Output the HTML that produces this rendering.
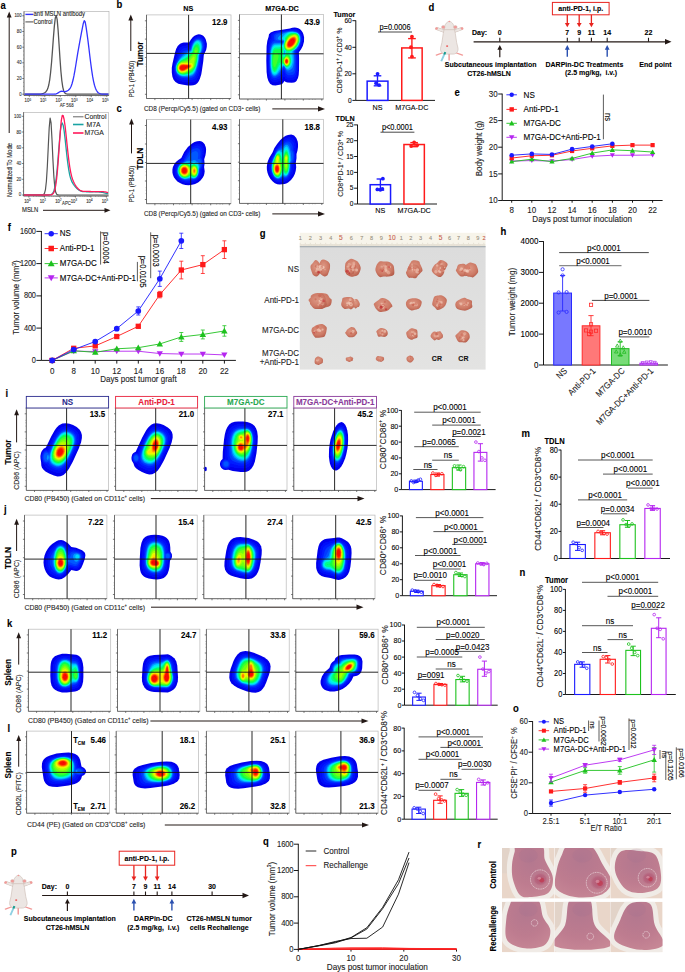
<!DOCTYPE html>
<html><head><meta charset="utf-8"><title>Figure</title>
<style>html,body{margin:0;padding:0;background:#fff;}svg{display:block;}</style></head>
<body><svg width="685" height="972" viewBox="0 0 685 972" font-family='"Liberation Sans", sans-serif'>
<defs><filter id="bl" x="-5%" y="-5%" width="110%" height="110%"><feGaussianBlur stdDeviation="0.3"/></filter>
<filter id="soft" x="-10%" y="-10%" width="120%" height="120%"><feGaussianBlur stdDeviation="0.55"/></filter>
<filter id="soft2" x="-20%" y="-20%" width="140%" height="140%"><feGaussianBlur stdDeviation="1.2"/></filter>
<radialGradient id="tum" cx="0.45" cy="0.4" r="0.65"><stop offset="0" stop-color="#dd9884"/><stop offset="0.65" stop-color="#cd7a66"/><stop offset="1" stop-color="#b45c4a"/></radialGradient>
<radialGradient id="tumr" cx="0.5" cy="0.45" r="0.6"><stop offset="0" stop-color="#e08a78"/><stop offset="0.5" stop-color="#d06a5a"/><stop offset="1" stop-color="#b84a40"/></radialGradient>
<linearGradient id="gbg" x1="0" y1="0" x2="0" y2="1"><stop offset="0" stop-color="#dcdcdc"/><stop offset="1" stop-color="#e3e3e2"/></linearGradient>
<radialGradient id="tb"><stop offset="0" stop-color="#b4506c" stop-opacity="0.9"/><stop offset="0.7" stop-color="#b25a76" stop-opacity="0.6"/><stop offset="1" stop-color="#b86a84" stop-opacity="0"/></radialGradient>
<radialGradient id="skin" cx="0.45" cy="0.3" r="0.8"><stop offset="0" stop-color="#b3788f"/><stop offset="0.55" stop-color="#bd7b8f"/><stop offset="1" stop-color="#c88896"/></radialGradient></defs>
<rect width="685" height="972" fill="#fff"/>
<text x="0.50" y="8.78" font-size="10.45" font-weight="bold" fill="#000" stroke="#000" stroke-width="0.1" transform="translate(0.04 0) scale(0.91 1)">a</text>
<path d="M9.2 133.0L9.2 16.5" stroke="#231815" stroke-width="1.0"/>
<path d="M9.20,11.50 L6.80,17.50 L11.60,17.50 Z" fill="#231815" stroke="none" stroke-width="1"/>
<rect x="24.00" y="11.40" width="85.00" height="84.10" fill="none" stroke="#aaa" stroke-width="0.6"/>
<text x="21.60" y="95.68" font-size="4.73" text-anchor="end" fill="#333" stroke="#333" stroke-width="0.1" transform="translate(1.94 0) scale(0.91 1)">0</text>
<text x="21.60" y="80.00" font-size="4.73" text-anchor="end" fill="#333" stroke="#333" stroke-width="0.1" transform="translate(1.94 0) scale(0.91 1)">20</text>
<text x="21.60" y="64.32" font-size="4.73" text-anchor="end" fill="#333" stroke="#333" stroke-width="0.1" transform="translate(1.94 0) scale(0.91 1)">40</text>
<text x="21.60" y="48.64" font-size="4.73" text-anchor="end" fill="#333" stroke="#333" stroke-width="0.1" transform="translate(1.94 0) scale(0.91 1)">60</text>
<text x="21.60" y="32.96" font-size="4.73" text-anchor="end" fill="#333" stroke="#333" stroke-width="0.1" transform="translate(1.94 0) scale(0.91 1)">80</text>
<text x="21.60" y="17.28" font-size="4.73" text-anchor="end" fill="#333" stroke="#333" stroke-width="0.1" transform="translate(1.94 0) scale(0.91 1)">100</text>
<text x="27.80" y="102.50" font-size="4.73" text-anchor="middle" fill="#333" stroke="#333" stroke-width="0.1" transform="translate(2.50 0) scale(0.91 1)">10<tspan font-size="3.08" dy="-1.76">0</tspan></text>
<text x="43.30" y="102.50" font-size="4.73" text-anchor="middle" fill="#333" stroke="#333" stroke-width="0.1" transform="translate(3.90 0) scale(0.91 1)">10<tspan font-size="3.08" dy="-1.76">1</tspan></text>
<text x="58.80" y="102.50" font-size="4.73" text-anchor="middle" fill="#333" stroke="#333" stroke-width="0.1" transform="translate(5.29 0) scale(0.91 1)">10<tspan font-size="3.08" dy="-1.76">2</tspan></text>
<text x="74.30" y="102.50" font-size="4.73" text-anchor="middle" fill="#333" stroke="#333" stroke-width="0.1" transform="translate(6.69 0) scale(0.91 1)">10<tspan font-size="3.08" dy="-1.76">3</tspan></text>
<text x="89.80" y="102.50" font-size="4.73" text-anchor="middle" fill="#333" stroke="#333" stroke-width="0.1" transform="translate(8.08 0) scale(0.91 1)">10<tspan font-size="3.08" dy="-1.76">4</tspan></text>
<text x="105.30" y="102.50" font-size="4.73" text-anchor="middle" fill="#333" stroke="#333" stroke-width="0.1" transform="translate(9.48 0) scale(0.91 1)">10<tspan font-size="3.08" dy="-1.76">5</tspan></text>
<path d="M24.0 11.4V95.5H109.0M22.2 94.2h1.8M22.2 78.5h1.8M22.2 62.8h1.8M22.2 47.2h1.8M22.2 31.5h1.8M22.2 15.8h1.8M29.3 95.5v1.6M44.8 95.5v1.6M60.3 95.5v1.6M75.8 95.5v1.6M91.3 95.5v1.6M106.8 95.5v1.6" fill="none" stroke="#333" stroke-width="0.6"/>
<path d="M23.0 90.3h1M23.0 86.4h1M23.0 82.4h1M23.0 74.6h1M23.0 70.7h1M23.0 66.8h1M23.0 58.9h1M23.0 55.0h1M23.0 51.1h1M23.0 43.2h1M23.0 39.3h1M23.0 35.4h1M23.0 27.6h1M23.0 23.6h1M23.0 19.7h1M34.0 95.5v0.9M36.7 95.5v0.9M38.6 95.5v0.9M40.1 95.5v0.9M41.4 95.5v0.9M42.5 95.5v0.9M43.2 95.5v0.9M44.0 95.5v0.9M49.4 95.5v0.9M52.2 95.5v0.9M54.1 95.5v0.9M55.6 95.5v0.9M56.9 95.5v0.9M58.0 95.5v0.9M58.7 95.5v0.9M59.5 95.5v0.9M64.9 95.5v0.9M67.7 95.5v0.9M69.6 95.5v0.9M71.1 95.5v0.9M72.4 95.5v0.9M73.5 95.5v0.9M74.2 95.5v0.9M75.0 95.5v0.9M80.4 95.5v0.9M83.2 95.5v0.9M85.1 95.5v0.9M86.6 95.5v0.9M87.9 95.5v0.9M89.0 95.5v0.9M89.8 95.5v0.9M90.5 95.5v0.9M95.9 95.5v0.9M98.7 95.5v0.9M100.6 95.5v0.9M102.1 95.5v0.9M103.4 95.5v0.9M104.5 95.5v0.9M105.2 95.5v0.9M106.0 95.5v0.9" fill="none" stroke="#555" stroke-width="0.4"/>
<text x="66.60" y="107.48" font-size="4.73" text-anchor="middle" fill="#333" stroke="#333" stroke-width="0.1" transform="translate(5.99 0) scale(0.91 1)">AF 568</text>
<path d="M24.50,94.20 L25.43,94.20 L26.37,94.20 L27.30,94.20 L28.23,94.20 L29.17,94.20 L30.10,94.20 L31.03,94.20 L31.97,94.20 L32.90,94.20 L33.83,94.20 L34.77,94.20 L35.70,94.19 L36.63,94.19 L37.57,94.17 L38.50,94.15 L39.43,94.10 L40.37,94.03 L41.30,93.90 L42.23,93.71 L43.17,93.44 L44.10,93.05 L45.03,92.49 L45.97,91.67 L46.90,90.40 L47.83,88.34 L48.77,85.01 L49.70,79.80 L50.63,72.24 L51.57,62.21 L52.50,50.17 L53.43,37.40 L54.37,25.92 L55.30,18.00 L56.23,15.44 L57.17,19.59 L58.10,29.97 L59.03,43.98 L59.97,58.54 L60.90,71.22 L61.83,80.75 L62.77,87.06 L63.70,90.76 L64.63,92.69 L65.57,93.60 L66.50,93.98 L67.43,94.13 L68.37,94.18 L69.30,94.19 L70.23,94.20 L71.17,94.20 L72.10,94.20 L73.03,94.20 L73.97,94.20 L74.90,94.20 L75.83,94.20 L76.77,94.20 L77.70,94.20 L78.63,94.20 L79.57,94.20 L80.50,94.20 L81.43,94.20 L82.37,94.20 L83.30,94.20 L84.23,94.20 L85.17,94.20 L86.10,94.20 L87.03,94.20 L87.97,94.20 L88.90,94.20 L89.83,94.20 L90.77,94.20 L91.70,94.20 L92.63,94.20 L93.57,94.20 L94.50,94.20 L95.43,94.20 L96.37,94.20 L97.30,94.20 L98.23,94.20 L99.17,94.20 L100.10,94.20 L101.03,94.20 L101.97,94.20 L102.90,94.20 L103.83,94.20 L104.77,94.20 L105.70,94.20 L106.63,94.20 L107.57,94.20 L108.50,94.20" fill="none" stroke="#555" stroke-width="1.3" stroke-linejoin="round"/>
<path d="M24.50,94.20 L25.43,94.20 L26.37,94.20 L27.30,94.20 L28.23,94.20 L29.17,94.20 L30.10,94.20 L31.03,94.20 L31.97,94.20 L32.90,94.20 L33.83,94.20 L34.77,94.20 L35.70,94.20 L36.63,94.20 L37.57,94.20 L38.50,94.20 L39.43,94.20 L40.37,94.20 L41.30,94.20 L42.23,94.20 L43.17,94.20 L44.10,94.20 L45.03,94.20 L45.97,94.20 L46.90,94.20 L47.83,94.20 L48.77,94.20 L49.70,94.20 L50.63,94.20 L51.57,94.20 L52.50,94.19 L53.43,94.17 L54.37,94.12 L55.30,94.01 L56.23,93.79 L57.17,93.41 L58.10,92.89 L59.03,92.28 L59.97,91.72 L60.90,91.35 L61.83,91.24 L62.77,91.33 L63.70,91.48 L64.63,91.57 L65.57,91.50 L66.50,91.25 L67.43,90.81 L68.37,90.16 L69.30,89.28 L70.23,88.02 L71.17,86.17 L72.10,83.53 L73.03,80.03 L73.97,75.68 L74.90,70.61 L75.83,65.01 L76.77,59.12 L77.70,53.47 L78.63,48.15 L79.57,42.97 L80.50,37.87 L81.43,32.94 L82.37,28.14 L83.30,23.48 L84.23,20.58 L85.17,21.96 L86.10,27.14 L87.03,33.63 L87.97,40.63 L88.90,48.18 L89.83,55.97 L90.77,63.53 L91.70,70.44 L92.63,76.42 L93.57,81.35 L94.50,85.23 L95.43,88.15 L96.37,90.26 L97.30,91.73 L98.23,92.70 L99.17,93.32 L100.10,93.70 L101.03,93.93 L101.97,94.06 L102.90,94.13 L103.83,94.16 L104.77,94.18 L105.70,94.19 L106.63,94.20 L107.57,94.20 L108.50,94.20" fill="none" stroke="#3333ff" stroke-width="1.3" stroke-linejoin="round"/>
<path d="M25.4 14.4L33.3 14.4" stroke="#3333ff" stroke-width="1.4"/>
<text x="33.60" y="16.44" font-size="6.49" fill="#222" stroke="#222" stroke-width="0.1" transform="translate(3.02 0) scale(0.91 1)">anti MSLN antibody</text>
<path d="M25.4 21.9L33.3 21.9" stroke="#666" stroke-width="1.2"/>
<text x="33.60" y="23.94" font-size="6.49" fill="#222" stroke="#222" stroke-width="0.1" transform="translate(3.02 0) scale(0.91 1)">Control</text>
<rect x="23.60" y="112.30" width="85.00" height="83.70" fill="none" stroke="#aaa" stroke-width="0.6"/>
<text x="21.20" y="196.48" font-size="4.73" text-anchor="end" fill="#333" stroke="#333" stroke-width="0.1" transform="translate(1.91 0) scale(0.91 1)">0</text>
<text x="21.20" y="180.74" font-size="4.73" text-anchor="end" fill="#333" stroke="#333" stroke-width="0.1" transform="translate(1.91 0) scale(0.91 1)">20</text>
<text x="21.20" y="165.00" font-size="4.73" text-anchor="end" fill="#333" stroke="#333" stroke-width="0.1" transform="translate(1.91 0) scale(0.91 1)">40</text>
<text x="21.20" y="149.26" font-size="4.73" text-anchor="end" fill="#333" stroke="#333" stroke-width="0.1" transform="translate(1.91 0) scale(0.91 1)">60</text>
<text x="21.20" y="133.52" font-size="4.73" text-anchor="end" fill="#333" stroke="#333" stroke-width="0.1" transform="translate(1.91 0) scale(0.91 1)">80</text>
<text x="21.20" y="117.78" font-size="4.73" text-anchor="end" fill="#333" stroke="#333" stroke-width="0.1" transform="translate(1.91 0) scale(0.91 1)">100</text>
<text x="27.40" y="203.00" font-size="4.73" text-anchor="middle" fill="#333" stroke="#333" stroke-width="0.1" transform="translate(2.47 0) scale(0.91 1)">10<tspan font-size="3.08" dy="-1.76">0</tspan></text>
<text x="42.90" y="203.00" font-size="4.73" text-anchor="middle" fill="#333" stroke="#333" stroke-width="0.1" transform="translate(3.86 0) scale(0.91 1)">10<tspan font-size="3.08" dy="-1.76">1</tspan></text>
<text x="58.40" y="203.00" font-size="4.73" text-anchor="middle" fill="#333" stroke="#333" stroke-width="0.1" transform="translate(5.26 0) scale(0.91 1)">10<tspan font-size="3.08" dy="-1.76">2</tspan></text>
<text x="73.90" y="203.00" font-size="4.73" text-anchor="middle" fill="#333" stroke="#333" stroke-width="0.1" transform="translate(6.65 0) scale(0.91 1)">10<tspan font-size="3.08" dy="-1.76">3</tspan></text>
<text x="89.40" y="203.00" font-size="4.73" text-anchor="middle" fill="#333" stroke="#333" stroke-width="0.1" transform="translate(8.05 0) scale(0.91 1)">10<tspan font-size="3.08" dy="-1.76">4</tspan></text>
<text x="104.90" y="203.00" font-size="4.73" text-anchor="middle" fill="#333" stroke="#333" stroke-width="0.1" transform="translate(9.44 0) scale(0.91 1)">10<tspan font-size="3.08" dy="-1.76">5</tspan></text>
<path d="M23.6 112.3V196.0H108.6M21.8 195.0h1.8M21.8 179.3h1.8M21.8 163.5h1.8M21.8 147.8h1.8M21.8 132.0h1.8M21.8 116.3h1.8M28.9 196.0v1.6M44.4 196.0v1.6M59.9 196.0v1.6M75.4 196.0v1.6M90.9 196.0v1.6M106.4 196.0v1.6" fill="none" stroke="#333" stroke-width="0.6"/>
<path d="M22.6 191.1h1M22.6 187.1h1M22.6 183.2h1M22.6 175.3h1M22.6 171.4h1M22.6 167.5h1M22.6 159.6h1M22.6 155.7h1M22.6 151.7h1M22.6 143.8h1M22.6 139.9h1M22.6 136.0h1M22.6 128.1h1M22.6 124.2h1M22.6 120.2h1M33.6 196.0v0.9M36.3 196.0v0.9M38.2 196.0v0.9M39.8 196.0v0.9M41.0 196.0v0.9M42.1 196.0v0.9M42.9 196.0v0.9M43.6 196.0v0.9M49.1 196.0v0.9M51.8 196.0v0.9M53.7 196.0v0.9M55.3 196.0v0.9M56.5 196.0v0.9M57.6 196.0v0.9M58.4 196.0v0.9M59.1 196.0v0.9M64.6 196.0v0.9M67.3 196.0v0.9M69.2 196.0v0.9M70.8 196.0v0.9M72.0 196.0v0.9M73.1 196.0v0.9M73.9 196.0v0.9M74.6 196.0v0.9M80.1 196.0v0.9M82.8 196.0v0.9M84.7 196.0v0.9M86.2 196.0v0.9M87.5 196.0v0.9M88.6 196.0v0.9M89.4 196.0v0.9M90.1 196.0v0.9M95.6 196.0v0.9M98.3 196.0v0.9M100.2 196.0v0.9M101.8 196.0v0.9M103.0 196.0v0.9M104.1 196.0v0.9M104.9 196.0v0.9M105.6 196.0v0.9" fill="none" stroke="#555" stroke-width="0.4"/>
<text x="66.50" y="205.48" font-size="4.73" text-anchor="middle" fill="#333" stroke="#333" stroke-width="0.1" transform="translate(5.98 0) scale(0.91 1)">APC</text>
<path d="M24.00,195.00 L24.93,195.00 L25.87,195.00 L26.80,195.00 L27.73,195.00 L28.67,195.00 L29.60,195.00 L30.53,195.00 L31.47,195.00 L32.40,195.00 L33.33,195.00 L34.27,195.00 L35.20,195.00 L36.13,195.00 L37.07,195.00 L38.00,195.00 L38.93,195.00 L39.87,195.00 L40.80,195.00 L41.73,194.98 L42.67,194.90 L43.60,194.52 L44.53,193.22 L45.47,189.54 L46.40,181.25 L47.33,166.57 L48.27,146.74 L49.20,127.76 L50.13,118.12 L51.07,122.85 L52.00,139.42 L52.93,159.86 L53.87,176.77 L54.80,187.24 L55.73,192.29 L56.67,194.22 L57.60,194.82 L58.53,194.96 L59.47,194.99 L60.40,195.00 L61.33,195.00 L62.27,195.00 L63.20,195.00 L64.13,195.00 L65.07,195.00 L66.00,195.00 L66.93,195.00 L67.87,195.00 L68.80,195.00 L69.73,195.00 L70.67,195.00 L71.60,195.00 L72.53,195.00 L73.47,195.00 L74.40,195.00 L75.33,195.00 L76.27,195.00 L77.20,195.00 L78.13,195.00 L79.07,195.00 L80.00,195.00 L80.93,195.00 L81.87,195.00 L82.80,195.00 L83.73,195.00 L84.67,195.00 L85.60,195.00 L86.53,195.00 L87.47,195.00 L88.40,195.00 L89.33,195.00 L90.27,195.00 L91.20,195.00 L92.13,195.00 L93.07,195.00 L94.00,195.00 L94.93,195.00 L95.87,195.00 L96.80,195.00 L97.73,195.00 L98.67,195.00 L99.60,195.00 L100.53,195.00 L101.47,195.00 L102.40,195.00 L103.33,195.00 L104.27,195.00 L105.20,195.00 L106.13,195.00 L107.07,195.00 L108.00,195.00" fill="none" stroke="#555" stroke-width="1.2" stroke-linejoin="round"/>
<path d="M24.00,195.00 L24.93,195.00 L25.87,195.00 L26.80,195.00 L27.73,195.00 L28.67,195.00 L29.60,195.00 L30.53,195.00 L31.47,195.00 L32.40,195.00 L33.33,195.00 L34.27,195.00 L35.20,195.00 L36.13,195.00 L37.07,195.00 L38.00,195.00 L38.93,195.00 L39.87,195.00 L40.80,195.00 L41.73,195.00 L42.67,195.00 L43.60,195.00 L44.53,195.00 L45.47,195.00 L46.40,195.00 L47.33,194.99 L48.27,194.98 L49.20,194.94 L50.13,194.83 L51.07,194.59 L52.00,194.05 L52.93,192.96 L53.87,190.92 L54.80,187.43 L55.73,181.98 L56.67,174.21 L57.60,164.19 L58.53,152.65 L59.47,140.98 L60.40,131.03 L61.33,124.65 L62.27,123.03 L63.20,125.41 L64.13,130.94 L65.07,138.66 L66.00,147.42 L66.93,156.11 L67.87,163.86 L68.80,170.22 L69.73,175.07 L70.67,178.59 L71.60,181.09 L72.53,182.91 L73.47,184.35 L74.40,185.59 L75.33,186.73 L76.27,187.79 L77.20,188.74 L78.13,189.57 L79.07,190.24 L80.00,190.76 L80.93,191.13 L81.87,191.38 L82.80,191.54 L83.73,191.63 L84.67,191.69 L85.60,191.72 L86.53,191.74 L87.47,191.75 L88.40,191.75 L89.33,191.75 L90.27,191.75 L91.20,191.74 L92.13,191.74 L93.07,191.73 L94.00,191.72 L94.93,191.73 L95.87,191.74 L96.80,191.77 L97.73,191.82 L98.67,191.89 L99.60,191.99 L100.53,192.12 L101.47,192.28 L102.40,192.46 L103.33,192.65 L104.27,192.86 L105.20,193.08 L106.13,193.29 L107.07,193.50 L108.00,193.70" fill="none" stroke="#1aa3a3" stroke-width="1.3" stroke-linejoin="round"/>
<path d="M24.00,195.00 L24.93,195.00 L25.87,195.00 L26.80,195.00 L27.73,195.00 L28.67,195.00 L29.60,195.00 L30.53,195.00 L31.47,195.00 L32.40,195.00 L33.33,195.00 L34.27,195.00 L35.20,195.00 L36.13,195.00 L37.07,195.00 L38.00,195.00 L38.93,195.00 L39.87,195.00 L40.80,195.00 L41.73,195.00 L42.67,195.00 L43.60,195.00 L44.53,195.00 L45.47,195.00 L46.40,195.00 L47.33,195.00 L48.27,194.99 L49.20,194.97 L50.13,194.93 L51.07,194.80 L52.00,194.49 L52.93,193.81 L53.87,192.41 L54.80,189.80 L55.73,185.34 L56.67,178.44 L57.60,168.76 L58.53,156.62 L59.47,143.14 L60.40,130.28 L61.33,120.37 L62.27,115.42 L63.20,115.73 L64.13,119.47 L65.07,125.94 L66.00,134.22 L66.93,143.26 L67.87,152.12 L68.80,160.08 L69.73,166.76 L70.67,172.07 L71.60,176.13 L72.53,179.21 L73.47,181.58 L74.40,183.50 L75.33,185.11 L76.27,186.52 L77.20,187.74 L78.13,188.77 L79.07,189.62 L80.00,190.26 L80.93,190.73 L81.87,191.04 L82.80,191.23 L83.73,191.33 L84.67,191.37 L85.60,191.39 L86.53,191.41 L87.47,191.43 L88.40,191.45 L89.33,191.48 L90.27,191.51 L91.20,191.55 L92.13,191.59 L93.07,191.63 L94.00,191.66 L94.93,191.68 L95.87,191.68 L96.80,191.67 L97.73,191.64 L98.67,191.61 L99.60,191.57 L100.53,191.54 L101.47,191.54 L102.40,191.57 L103.33,191.65 L104.27,191.77 L105.20,191.95 L106.13,192.17 L107.07,192.43 L108.00,192.71" fill="none" stroke="#ff1a5a" stroke-width="1.3" stroke-linejoin="round"/>
<path d="M73.0 116.8L83.5 116.8" stroke="#666" stroke-width="1.0"/>
<text x="84.50" y="119.15" font-size="7.48" fill="#222" stroke="#222" stroke-width="0.1" transform="translate(7.60 0) scale(0.91 1)">Control</text>
<path d="M73.0 124.5L83.5 124.5" stroke="#1aa3a3" stroke-width="1.6"/>
<text x="86.50" y="126.85" font-size="7.48" fill="#222" stroke="#222" stroke-width="0.1" transform="translate(7.78 0) scale(0.91 1)">M7A</text>
<path d="M73.0 133.0L83.5 133.0" stroke="#ff1a5a" stroke-width="1.6"/>
<text x="84.50" y="135.35" font-size="7.48" fill="#222" stroke="#222" stroke-width="0.1" transform="translate(7.60 0) scale(0.91 1)">M7GA</text>
<text x="9.60" y="172.04" font-size="6.49" text-anchor="middle" fill="#222" transform="rotate(-90 9.60 170.00) translate(9.60 0) scale(0.91 1) translate(-9.60 0)" stroke="#222" stroke-width="0.1">Normalized To Mode</text>
<text x="22.00" y="212.34" font-size="6.49" fill="#222" stroke="#222" stroke-width="0.1" transform="translate(1.98 0) scale(0.91 1)">MSLN</text>
<path d="M43.0 210.3L105.5 210.3" stroke="#231815" stroke-width="1.0"/>
<path d="M110.50,210.30 L104.50,207.90 L104.50,212.70 Z" fill="#231815" stroke="none" stroke-width="1"/>
<text x="116.50" y="8.28" font-size="10.45" font-weight="bold" fill="#000" stroke="#000" stroke-width="0.1" transform="translate(10.48 0) scale(0.91 1)">b</text>
<text x="116.50" y="111.78" font-size="10.45" font-weight="bold" fill="#000" stroke="#000" stroke-width="0.1" transform="translate(10.48 0) scale(0.91 1)">c</text>
<text x="188.30" y="11.28" font-size="7.92" text-anchor="middle" font-weight="bold" fill="#000" stroke="#000" stroke-width="0.1" transform="translate(16.95 0) scale(0.91 1)">NS</text>
<text x="282.00" y="11.28" font-size="7.92" text-anchor="middle" font-weight="bold" fill="#000" stroke="#000" stroke-width="0.1" transform="translate(25.38 0) scale(0.91 1)">M7GA-DC</text>
<rect x="146.50" y="14.90" width="84.50" height="83.60" fill="#fff" stroke="none" stroke-width="1"/>
<g filter="url(#bl)"><path d="M196.8 34.7l1.9 -0.4 1.8 0.2 1.8 0.7 1.2 0.9 1.4 1.6 0.9 1.8 1.1 4.2 -0.1 3.0 -0.6 3.0 -2.4 5.4 -0.5 6.0 -1.3 9.0 -0.7 4.2 -1.3 4.2 -1.1 2.4 -1.4 2.0 -1.8 1.5 -2.4 0.9 -2.4 0.3 -3 -0.2 -6 -0.8 -3.6 -0.9 -2.8 -1.6 -1.9 -2.4 -1.2 -3.0 -0.6 -4.2 0 -4.8 0.7 -4.2 2.5 -10.8 1.1 -3.6 1.6 -3.0 2.4 -2.3 1.8 -0.9 1.8 -0.4 5.4 0.1 1.8 -3.1 1.8 -2.2 1.8 -1.5z" fill="#0000eb" fill-rule="evenodd"/><path d="M196.2 36.5l1.3 -0.4 1.8 -0.1 1.8 0.5 1.2 0.7 1.2 1.2 1 1.7 0.7 1.8 0.4 2.4 -0.1 2.4 -0.6 3.0 -0.9 2.4 -2 3.6 -0.4 4.8 -1.3 8.4 -1.7 7.2 -1.1 2.4 -1.2 1.7 -1.8 1.5 -1.8 0.7 -1.8 0.2 -3 -0.1 -5.4 -0.7 -3 -0.7 -2.4 -1.3 -1.8 -2.1 -1.4 -3.4 -0.5 -3.6 0 -3.0 0.4 -3.0 3.6 -12.6 1.8 -3.6 2.1 -2.0 3 -1.0 5.4 -0.4 1 -2.6 1.8 -3.0 2 -2.0z" fill="#000bf9" fill-rule="evenodd"/><path d="M196.4 37.7l1.7 -0.4 1.2 0.0 2.4 1.1 1.2 1.3 0.9 1.6 0.7 3.6 -0.2 3.0 -0.6 2.4 -1.1 2.4 -1.8 3.0 -1.4 10.2 -0.9 4.8 -1.1 3.6 -1.1 2.4 -1.2 1.5 -1.2 1.0 -1.8 0.8 -1.8 0.3 -3 -0.1 -4.8 -0.5 -2.4 -0.7 -2 -1.1 -1.7 -1.8 -1.4 -3.0 -0.6 -3.0 0 -2.4 0.5 -3.0 3.4 -9.7 1.8 -3.8 2 -2.1 2.2 -1.0 5.6 -0.8 1.5 -4.2 1.3 -2.2 1.8 -2.0z" fill="#001cff" fill-rule="evenodd"/><path d="M196.2 38.9l2.5 -0.5 1.2 0.3 1.3 0.8 1.7 2.5 0.7 3.5 -0.2 2.4 -0.6 2.4 -1.1 2.4 -1.8 3.0 -0.4 4.2 -1.1 6.0 -2 7.2 -1.9 3.1 -1.2 1.1 -1.8 0.8 -2.4 0.3 -4.2 -0.1 -2.4 -0.3 -2.4 -0.7 -1.8 -1.1 -1.2 -1.2 -1.1 -1.9 -0.6 -1.8 -0.3 -1.8 0 -2.4 0.5 -2.4 0.9 -2.4 3 -6.2 2.1 -3.4 1.3 -1.2 1.4 -0.8 6 -1.8 1.3 -4.0 1.1 -2.5 1.8 -2.3z" fill="#003aff" fill-rule="evenodd"/><path d="M196.7 39.5l1.4 -0.3 1.2 0.2 1.8 1.2 1.3 2.5 0.4 3.6 -0.4 2.4 -0.7 2.4 -2.2 3.6 -0.6 4.8 -1.1 6.0 -1 3.6 -1.1 3.0 -1.1 1.8 -1.1 1.2 -2.6 1.4 -2.4 0.3 -4.2 0.0 -2.4 -0.3 -1.8 -0.6 -1.2 -0.7 -1.4 -1.3 -1.1 -1.8 -0.7 -1.8 -0.2 -3.6 1.3 -4.2 3.3 -5.7 2.6 -3.3 2.2 -1.6 6 -2.6 1 -4.2 1.1 -2.4 1.5 -2.0z" fill="#0058ff" fill-rule="evenodd"/><path d="M196.9 40.1l1.2 -0.2 1 0.2 1.6 1.2 1.1 2.4 0.4 3.0 -0.3 2.4 -0.7 2.4 -2.2 3.6 -0.4 4.2 -1 5.4 -2.1 6.6 -1 1.8 -1.2 1.4 -1.2 0.9 -1.8 0.7 -2.4 0.3 -3.6 0.1 -2.4 -0.2 -1.8 -0.6 -2.4 -1.8 -0.9 -1.4 -0.7 -1.8 -0.3 -3.6 1.1 -3.6 2.6 -4.3 3 -3.4 3 -2.3 5.7 -3.2 0.9 -3.9 1.2 -2.8 1.8 -2.4z" fill="#009bff" fill-rule="evenodd"/><path d="M196.1 41.3l2 -0.5 1.8 0.9 1.2 2.4 0.3 3.2 -0.7 4.2 -0.9 1.8 -1.3 1.8 -0.3 4.2 -1.1 5.4 -2 6.0 -1.8 2.7 -1.2 0.9 -1.8 0.8 -2.4 0.5 -3.6 0.3 -2.4 -0.2 -1.8 -0.6 -2.4 -1.9 -0.8 -1.3 -0.7 -1.8 -0.1 -3.0 1 -3.3 1.8 -2.9 2.4 -2.6 3.6 -2.9 6.6 -4.5 0.8 -3.6 1 -2.6 1.2 -1.9z" fill="#00d9ff" fill-rule="evenodd"/><path d="M197.1 41.9l1.6 0.2 1.2 1.5 0.7 2.5 0 3.0 -0.7 3.0 -1.8 3.0 -0.2 3.6 -1.2 6.0 -0.7 2.4 -1.3 3.0 -2 2.7 -1.2 0.9 -1.8 0.7 -5.4 0.9 -2.4 -0.2 -1.8 -0.6 -1.2 -0.7 -1.2 -1.2 -1.2 -2.5 -0.2 -3.0 1 -3.0 1.6 -2.5 1.8 -1.8 5.4 -3.8 5.7 -4.5 0.4 -0.6 0.5 -3.2 1.2 -2.9 1.8 -2.2z" fill="#00f9d9" fill-rule="evenodd"/><path d="M195.9 43.7l1.6 -0.5 1.2 0.7 1 2.2 0.3 3.0 -0.6 3.0 -1.7 3.0 -0.2 3.0 -0.6 3.5 -1 4.3 -1.2 3.0 -2.2 3.0 -1.6 1.1 -1.5 0.7 -5.1 1.0 -2.4 -0.1 -1.8 -0.5 -2 -1.6 -1.3 -2.4 -0.2 -3.0 1 -3.0 1.3 -1.9 1.2 -1.2 6.5 -4.1 5.5 -4.8 0.4 -0.6 0.3 -2.4 0.9 -2.4 0.8 -1.5z" fill="#00fc8c" fill-rule="evenodd"/><path d="M196.3 44.9l1.2 0.0 1 1.2 0.6 1.8 0.1 2.4 -0.6 2.4 -1.4 2.4 0 2.4 -0.5 3.0 -1.2 5.4 -1 2.2 -2.4 3.1 -1.8 1.3 -1.8 0.7 -3 0.9 -2.4 0.2 -1.8 -0.2 -1.8 -0.8 -1.8 -1.8 -0.8 -2.0 0 -3.0 1 -2.4 1 -1.4 1.8 -1.6 4.8 -2.3 1.8 -1.2 5.4 -5.2 1.2 -4.7 1.2 -1.9z" fill="#0dff46" fill-rule="evenodd"/><path d="M195.8 47.3l1.1 -0.1 0.6 0.5 0.6 1.4 0.1 1.8 -0.7 2.3 -1.1 1.3 0.2 2.4 -0.3 2.4 -1.4 6.6 -1 2.0 -1.2 1.5 -1.8 1.5 -4.4 2.2 -2.2 0.5 -1.8 0.1 -1.8 -0.3 -1.2 -0.6 -1.5 -1.5 -0.9 -2.4 0.1 -2.4 1.1 -2.4 1.2 -1.4 1.2 -0.9 5.4 -1.9 2.4 -1.7 5.2 -5.5 0.4 -3.0 1 -1.8z" fill="#40ff2a" fill-rule="evenodd"/><path d="M195.3 50.3l0.4 -0.4 0.6 -0.1 0.6 1.1 -0.1 1.2 -0.5 0.8 -0.6 0.3 -0.6 -0.3 -0.3 -0.8zM193.5 54.5l1 -0.3 0.6 0.3 0.6 1.2 0.1 1.2 -1.4 8.4 -1.1 2.4 -3 2.6 -4.8 2.5 -3 0.4 -1.8 -0.3 -1.2 -0.6 -1.4 -1.6 -0.7 -2.4 0.3 -2.4 1.2 -2.0 2.4 -1.8 4.8 -1.1 1.8 -0.7 1.3 -1.0 2.9 -3.5z" fill="#73ff0e" fill-rule="evenodd"/><path d="M193.1 56.9l0.8 -0.3 0.4 0.3 0.3 1.8 -0.7 3.6 -0.1 3.0 -0.4 1.2 -0.8 1.2 -1.7 1.4 -3.6 2.2 -3 1.3 -3 0.1 -1.2 -0.5 -1.2 -0.9 -1 -1.8 -0.2 -1.8 0.6 -2.3 1.2 -1.6 2.4 -1.4 5.4 -0.5 1.8 -0.7 1.2 -0.9z" fill="#a9ff00" fill-rule="evenodd"/><path d="M182.6 62.9l8.9 0.0 1.2 1.1 0.2 1.9 -0.6 1.2 -0.8 0.8 -6 3.7 -2.4 0.7 -1.8 -0.1 -1.7 -0.9 -1 -1.2 -0.5 -1.2 0 -1.8 0.4 -1.2 1 -1.5 1.2 -0.9z" fill="#e2ff00" fill-rule="evenodd"/><path d="M182.2 63.5l8.1 0.3 1.6 0.9 0.3 1.2 -0.6 1.2 -0.7 0.6 -5.4 3.2 -2.4 0.9 -1.8 -0.1 -1.2 -0.5 -1.1 -1.1 -0.5 -1.2 -0.1 -1.2 0.2 -1.2 0.9 -1.5 1.2 -1.0z" fill="#ffe200" fill-rule="evenodd"/><path d="M181.7 64.1l2 -0.2 6 0.5 1.2 0.4 0.6 1.1 -0.7 1.2 -1.1 0.9 -5.4 3.0 -2.4 0.4 -1.2 -0.4 -1.2 -0.9 -0.6 -1.2 -0.2 -1.2 0.8 -2.1 1.2 -1.1z" fill="#ffa900" fill-rule="evenodd"/><path d="M181.3 64.7l1.8 -0.3 5.4 0.3 1.8 0.6 0.4 0.6 -0.6 1.2 -1 0.7 -4.8 2.7 -2.4 0.4 -1.9 -0.8 -0.9 -1.8 0.4 -2.0 0.6 -0.8z" fill="#ff7000" fill-rule="evenodd"/><path d="M181.0 65.3l2.1 -0.5 5.4 0.4 1.2 0.6 0.1 0.7 -1.3 1.2 -4.2 2.3 -1.2 0.4 -1.2 0.1 -1.2 -0.4 -0.6 -0.5 -0.6 -1.3 0.3 -1.8z" fill="#ff3600" fill-rule="evenodd"/><path d="M182.4 65.3l5.5 0.3 0.8 0.3 0.2 0.6 -0.4 0.6 -4.2 2.4 -1.2 0.5 -1.2 0.0 -1.2 -0.5 -0.6 -0.8 -0.2 -1.0 0.8 -1.6z" fill="#fc1400" fill-rule="evenodd"/><path d="M182.2 65.9l2.8 0.0 2.4 0.6 -0.3 0.6 -2.8 1.8 -1.2 0.5 -1.2 0.0 -1 -0.5 -0.4 -1.2 0.6 -1.2z" fill="#f60700" fill-rule="evenodd"/></g>
<rect x="146.50" y="14.90" width="84.50" height="83.60" fill="none" stroke="#b8b8b8" stroke-width="0.7"/>
<path d="M146.5 14.9V98.5H231.0M144.9 94.3h1.6M144.9 75.9h1.6M144.9 57.5h1.6M144.9 39.1h1.6M144.9 20.8h1.6M154.9 98.5v1.6M173.5 98.5v1.6M192.1 98.5v1.6M210.7 98.5v1.6M229.3 98.5v1.6" fill="none" stroke="#444" stroke-width="0.7"/>
<path d="M145.6 88.5h0.9M145.6 85.1h0.9M145.6 82.6h0.9M145.6 70.1h0.9M145.6 66.7h0.9M145.6 64.2h0.9M145.6 51.7h0.9M145.6 48.3h0.9M145.6 45.8h0.9M145.6 33.3h0.9M145.6 29.9h0.9M145.6 27.4h0.9M160.9 98.5v0.9M164.2 98.5v0.9M166.8 98.5v0.9M179.5 98.5v0.9M182.8 98.5v0.9M185.4 98.5v0.9M198.0 98.5v0.9M201.4 98.5v0.9M204.0 98.5v0.9M216.6 98.5v0.9M220.0 98.5v0.9M222.6 98.5v0.9" fill="none" stroke="#666" stroke-width="0.5"/>
<path d="M188.6 14.9L188.6 98.5" stroke="#111" stroke-width="0.9"/>
<path d="M146.5 53.4L231.0 53.4" stroke="#111" stroke-width="0.9"/>
<text x="227.50" y="24.73" font-size="8.69" text-anchor="end" font-weight="bold" fill="#000" stroke="#000" stroke-width="0.1" transform="translate(20.47 0) scale(0.91 1)">12.9</text>
<rect x="239.50" y="14.50" width="84.00" height="84.50" fill="#fff" stroke="none" stroke-width="1"/>
<g filter="url(#bl)"><path d="M292.3 27.7l2.4 -0.2 1.8 0.2 1.8 0.6 1.8 1.0 1.4 1.4 1.2 1.8 0.7 1.8 0.7 3.0 -0.1 4.2 -1.1 4.2 -1.8 3.6 -2.2 3.0 0.2 6.0 -0.1 12.0 -0.3 4.8 -0.7 3.0 -1.5 2.9 -1.2 1.0 -1.2 0.4 -2.4 0.3 -4.2 -0.1 -1.8 -0.6 -1.2 -1.0 -1.8 2.4 -1.8 1.1 -5.4 1.1 -3 -0.3 -2.4 -1.5 -1.7 -2.7 -1.1 -3.6 -0.7 -5.4 -0.3 -11.4 0.3 -14.4 0.7 -5.4 1.3 -4.2 0.4 -2.4 1.7 -1.8 3.6 -1.6 15.6 -2.5z" fill="#0000eb" fill-rule="evenodd"/><path d="M288.4 29.5l6.3 -0.4 1.8 0.2 1.8 0.7 1.2 0.9 1.5 1.6 0.9 1.8 0.7 2.4 0.1 4.2 -1 4.2 -1.8 3.6 -2.4 3.0 0.4 6.0 0 10.2 -0.3 4.8 -0.5 3.0 -1.2 2.6 -1.2 1.1 -1.2 0.4 -4.2 0.2 -2.4 -0.3 -1.5 -1.0 -1.5 -2.2 -1.4 2.8 -2.2 1.8 -4.2 1.3 -1.8 0.1 -1.2 -0.2 -1.8 -1.0 -1.5 -2.0 -1.1 -3.0 -0.7 -4.2 -0.4 -7.2 0.1 -12.6 0.3 -6.0 0.9 -4.7 0.7 -1.9 1.1 -1.8 0.2 -3.0 0.7 -1.2 0.9 -0.8 1.8 -0.8 2.4 -0.7z" fill="#000bf9" fill-rule="evenodd"/><path d="M289.3 30.1l4.2 -0.1 2.4 0.3 1.8 0.7 1.8 1.3 1 1.4 1.2 3.6 0 3.6 -0.8 3.6 -1.5 3.0 -1.2 1.8 -1.8 1.8 -0.1 0.6 0.5 5.4 0 9.0 -0.2 5.4 -0.6 3.0 -1 1.8 -1.5 1.1 -3 0.3 -3 -0.3 -1.2 -0.7 -0.8 -1.0 -1.6 -4.6 -1.3 4.0 -1.7 2.4 -1.7 1.2 -1.9 0.9 -1.8 0.5 -1.8 0.0 -1.8 -1.0 -1.5 -2.2 -1 -3.0 -0.5 -3.6 -0.3 -6.6 0.1 -10.8 0.4 -5.4 0.8 -4.2 1.1 -2.4 1.5 -1.7 -0.1 -3.7 0.5 -1.2 0.8 -0.7 1.8 -0.9 1.8 -0.5z" fill="#001cff" fill-rule="evenodd"/><path d="M289.5 30.7l4 0.0 3 0.7 1.2 0.5 1.2 0.9 1.1 1.5 1 3.0 0 3.6 -1.2 4.2 -2.1 3.5 -2.6 2.5 0.6 4.2 0.2 5.4 -0.3 8.4 -0.7 3.6 -0.8 1.4 -1.2 0.8 -3.6 0.3 -1.8 -0.3 -1.2 -1.1 -0.6 -1.1 -1.8 -4.9 -2.4 5.5 -1.8 2.4 -1.8 1.4 -1.8 0.9 -1.2 0.3 -1.2 -0.1 -1.7 -1.3 -1.1 -1.8 -0.8 -2.7 -0.5 -3.9 -0.3 -6.6 0.2 -8.9 0.5 -4.9 0.7 -3.3 1.2 -2.4 1.2 -1.1 1.2 -0.4 0.3 -0.6 -0.5 -1.2 -0.1 -2.4 0.1 -1.2 0.8 -1.2 2.4 -1.2zM282.7 41.4l-0.3 0.1 0.3 0.1z" fill="#003aff" fill-rule="evenodd"/><path d="M288.7 31.3l3.6 -0.3 4.8 1.1 1.2 0.8 1.2 1.4 1.1 3.0 0 3.6 -1.3 4.2 -2.2 3.4 -3 2.6 0.6 3.6 0.2 4.8 -0.2 6.0 -0.6 4.2 -0.6 1.3 -1.2 1.1 -2.4 0.6 -1.8 0.0 -1.2 -0.7 -0.6 -0.7 -2.4 -4.7 -3.6 6.0 -1.8 2.3 -2.4 1.7 -1.2 0.4 -1.2 -0.2 -1.2 -0.8 -1.2 -2.1 -0.8 -3.0 -0.5 -3.6 -0.2 -6.0 0.2 -7.8 0.5 -4.8 0.8 -3.0 1.2 -2.2 1.8 -1.1 6 -0.1 2.4 0.5 0.6 -0.7 0 -1.0 -6 -0.7 -1.5 -0.7 -0.3 -0.6 0 -1.8 0.2 -1.2 0.6 -1.2 2.5 -1.2z" fill="#0058ff" fill-rule="evenodd"/><path d="M288.0 31.9l4.3 -0.5 4.7 1.1 2.1 1.8 1.1 3.0 0 3.6 -1.3 4.2 -2.4 3.5 -3.2 2.5 0.6 4.8 0.1 3.6 -0.2 3.6 -0.6 3.0 -0.8 1.8 -1.1 1.2 -1.4 1.0 -1.8 0.5 -1.2 -0.4 -0.6 -0.6 -2.4 -3.8 -1.4 1.5 -3.6 5.4 -1.5 1.8 -1.9 1.3 -1.8 0.0 -1.2 -1.0 -1 -2.1 -1 -5.4 -0.1 -12.0 0.3 -4.2 0.7 -3.6 1.1 -2.5 1.8 -1.4 6 -0.3 2.4 0.5 0.6 -0.3 0.6 -2.8 -5 -1.0 -1.1 -0.6 -0.1 -1.2 1.5 -1.8 2.6 -1.8 2.6 -1.2z" fill="#009bff" fill-rule="evenodd"/><path d="M290.7 31.9l1.6 0.0 3.6 0.6 1.8 0.8 1.7 2.2 0.7 3.0 -0.4 3.6 -1.5 3.6 -2.3 3.0 -3.4 2.4 -0.3 0.6 0.6 7.8 -0.2 3.0 -0.7 2.4 -1 1.8 -1 1.1 -1.2 0.9 -1.2 0.2 -0.6 -0.1 -1.2 -0.9 -1.8 -2.7 -0.5 0.3 -2.6 2.4 -4.1 5.9 -1.8 1.0 -1.2 -0.2 -1.2 -1.2 -0.8 -1.9 -0.9 -6.0 0.1 -11.4 0.4 -3.6 0.8 -3.0 1.1 -1.8 1.7 -1.0 6 -0.3 2.4 0.6 1 -4.1 -0.3 -0.6 -2.3 -1.2 -0.2 -0.6 0.3 -0.6 2.5 -3.0 1.3 -1.2 2.4 -1.2zM284.5 50.2l-0.4 2.7 0.4 1.8 0.7 -3.6z" fill="#00d9ff" fill-rule="evenodd"/><path d="M290.4 32.5l1.9 -0.1 3 0.3 1.8 0.6 1.1 1.0 0.8 1.2 0.8 3.0 -0.1 1.8 -0.6 2.4 -1.7 3.6 -2.7 3.0 -3.8 2.4 0.9 8.4 -0.2 2.4 -0.5 1.8 -1.5 2.4 -0.9 0.7 -1.2 0.5 -1.2 -0.2 -0.6 -0.5 -1.8 -2.5 -2.3 0.8 -1.9 1.7 -3.4 5.5 -1.4 0.8 -1.2 -0.2 -1.2 -1.5 -0.6 -1.7 -0.7 -5.8 0.1 -9.6 0.5 -3.6 0.7 -2.4 1.2 -1.9 1.2 -0.7 6.6 -0.5 1.8 0.6 1.5 -5.9 -1.2 -1.2 0.2 -1.2 3.1 -3.7 1.6 -1.1zM284.5 49.3l-0.4 0.6 -0.4 3.0 -0.1 1.8 0.3 1.6 0.6 -0.4 0.2 -0.6 1.1 -4.2z" fill="#00f9d9" fill-rule="evenodd"/><path d="M290.6 33.1l4.7 0.0 1.8 0.7 1.2 1.1 0.6 1.1 0.6 3.1 -0.2 1.8 -0.7 2.4 -2.1 3.6 -3 2.8 -4 2.0 0.1 2.4 1.1 3.6 0.4 2.4 -0.2 2.4 -0.5 1.8 -1.7 2.3 -1.8 0.6 -0.6 -0.1 -1.2 -1.0 -1.2 -1.9 -2.4 -0.1 -1.2 0.4 -1.2 1.2 -3 5.5 -1.2 0.9 -0.6 0.0 -1.2 -1.0 -0.6 -1.3 -0.8 -5.5 0.2 -9.6 0.5 -3.0 0.7 -2.2 1.2 -1.5 1.1 -0.5 3.1 -0.1 3 -0.6 1.2 0.4 0.7 1.5 -0.3 6.6 0.3 1.2 0.5 0.9 1.5 -2.7 1.1 -3.6 -1.7 -1.8 -0.6 -1.2 -0.2 -1.2 0.1 -3.0 1.1 -3.6 -0.4 -1.8 0.6 -1.2 2.1 -2.4 1.6 -1.2z" fill="#00fc8c" fill-rule="evenodd"/><path d="M290.9 33.7l3.8 -0.3 1.2 0.2 1.4 0.7 1 1.2 0.6 1.4 0.3 1.6 -0.2 2.4 -0.7 2.2 -1 2.0 -2.6 3.2 -1.8 1.3 -1.8 0.9 -1.8 0.5 -1.8 0.0 -1.8 -1.1 -0.9 -1.2 -0.6 -2.4 0.1 -2.4 1.6 -4.2 -0.2 -1.2 0.2 -0.6 2.8 -3.0zM280.6 48.7l0.9 -0.1 0.6 0.2 0.4 1.1 -0.2 5.4 0.2 1.2 0.6 1.2 0.8 0.6 1.8 -3.1 1.2 -1.3 0.6 -0.2 1.2 1.3 1.1 2.1 0.6 1.8 0.2 2.4 -0.3 1.8 -0.8 1.8 -0.8 1.0 -1.8 0.8 -1.2 -0.4 -0.6 -0.6 -1.2 -2.1 -2.4 -1.2 -1.2 -0.2 -1.2 0.9 -0.6 0.9 -2.4 5.2 -1.1 1.1 -0.7 0.1 -0.6 -0.4 -0.8 -1.5 -0.7 -4.8 0.1 -6.6 0.8 -5.0 0.6 -1.4 1.2 -1.2 1.2 -0.3 2.4 0.1z" fill="#0dff46" fill-rule="evenodd"/><path d="M291.8 34.3l2.3 -0.4 1.2 0.0 1.2 0.4 1.2 1.1 1 2.5 -0.3 3.6 -1.6 3.6 -2.7 3.1 -1.8 1.3 -1.8 0.8 -1.8 0.3 -1.2 -0.2 -1.8 -1.1 -0.7 -1.2 -0.5 -2.4 0.3 -2.4 2.6 -6.0 2.5 -2.3zM274.7 52.9l0.8 -0.4 1.4 0.4 1.2 1.2 0.6 1.8 -0.4 2.4 -1.6 5.4 -1 2.4 -0.8 1.1 -0.6 -0.1 -0.6 -0.8 -0.6 -2.6 -0.1 -2.4 0.5 -5.4 0.5 -1.8zM286.0 55.9l0.9 -0.4 0.6 0.1 1.2 1.0 0.9 1.7 0.5 2.4 -0.1 1.8 -0.7 1.8 -1.2 1.5 -1.2 0.4 -1.2 -0.4 -0.6 -0.6 -1.2 -2.4 -1 -0.9 -0.3 -1.2 0.5 -1.2 0.8 -0.2 1.2 -2.5z" fill="#40ff2a" fill-rule="evenodd"/><path d="M291.9 34.9l2.8 -0.6 1.2 0.3 1.3 0.9 0.8 1.2 0.3 1.2 0 1.8 -0.3 1.8 -1.7 3.6 -2.8 3.0 -3 1.7 -1.8 0.3 -1.2 -0.1 -1.2 -0.7 -1.2 -1.8 -0.3 -1.8 0.4 -2.4 0.9 -2.4 2.1 -3.6 1.7 -1.5zM286.2 56.5l0.7 -0.2 1.4 0.8 1.1 1.8 0.3 1.8 -0.1 1.8 -0.7 1.8 -0.8 0.9 -1.2 0.5 -1.2 -0.3 -0.6 -0.6 -0.9 -1.7 -0.4 -1.8 0.3 -1.8 0.5 -1.2 0.5 -0.9z" fill="#73ff0e" fill-rule="evenodd"/><path d="M293.3 34.9l1.4 -0.1 1.2 0.3 0.7 0.4 0.9 1.2 0.5 2.4 -0.6 3.0 -1.6 3.0 -2.9 3.0 -3 1.5 -2.4 -0.1 -1.2 -0.8 -1 -1.8 0 -2.4 0.6 -2.4 1.3 -2.4 1.8 -2.4 1.5 -1.2zM286.0 57.1l0.9 -0.2 1.2 0.6 0.9 1.4 0.4 1.8 -0.1 1.8 -0.4 1.2 -0.8 1.0 -1.2 0.6 -1.2 -0.3 -0.6 -0.6 -1 -2.5 0.1 -1.8 0.4 -1.2 0.5 -1.0z" fill="#a9ff00" fill-rule="evenodd"/><path d="M293.1 35.5l2.2 0.0 1.5 1.2 0.7 2.4 -0.6 3.0 -1.7 3.0 -2.9 2.8 -2.4 1.1 -1.2 0.2 -1.2 -0.3 -1.2 -1.0 -0.6 -1.6 0 -1.8 0.7 -2.4 1.3 -2.4 1.6 -1.9 1.8 -1.4zM285.9 57.7l1 -0.2 1.2 0.7 0.7 1.3 0.3 1.2 -0.2 1.8 -0.5 1.2 -0.9 1.0 -0.6 0.2 -1.2 -0.3 -0.6 -0.7 -0.7 -2.0 0.3 -2.4 0.4 -1.0z" fill="#e2ff00" fill-rule="evenodd"/><path d="M292.9 36.1l1.2 -0.2 1.1 0.2 1.3 1.2 0.5 2.4 -0.9 3.0 -2 3.0 -2.4 2.0 -2.4 0.9 -1.8 -0.3 -0.9 -0.8 -0.5 -1.8 0.1 -1.8 0.6 -1.8 1 -1.8 1.5 -1.8 1.8 -1.5zM285.7 58.3l0.6 -0.3 1.2 0.2 0.6 0.7 0.5 1.2 0.1 1.8 -0.3 1.2 -0.9 1.1 -0.6 0.3 -1.2 -0.3 -0.6 -0.8 -0.5 -1.5 0.1 -1.8z" fill="#ffe200" fill-rule="evenodd"/><path d="M292.8 36.7l1.9 -0.1 1.2 0.8 0.5 1.1 0.1 1.2 -0.6 2.4 -1.4 2.4 -2.2 2.3 -2.4 1.2 -1.8 0.0 -0.7 -0.5 -0.8 -1.2 -0.1 -1.8 0.5 -1.8 0.9 -1.8 1.4 -1.8 1.8 -1.6zM285.6 58.9l0.7 -0.5 0.6 0.0 0.7 0.5 0.7 1.2 0.2 1.2 -0.2 1.2 -0.7 1.2 -0.7 0.4 -1.2 -0.4 -0.7 -1.2 -0.2 -1.8z" fill="#ffa900" fill-rule="evenodd"/><path d="M292.6 37.3l1.5 -0.2 1.3 0.8 0.6 1.8 -0.6 2.4 -1.4 2.4 -2.3 2.2 -1.8 0.8 -1.8 -0.2 -0.9 -1.0 -0.3 -1.2 0.8 -3.0 2.2 -3.1zM286.2 58.9l0.7 0.0 0.6 0.4 0.7 1.4 -0.2 1.8 -1.1 1.2 -0.6 0.0 -0.6 -0.4 -0.6 -1.4 0.1 -1.8 0.5 -0.9z" fill="#ff7000" fill-rule="evenodd"/><path d="M292.5 37.9l1.6 -0.1 0.9 0.7 0.4 1.8 -0.5 1.8 -1 1.8 -1.7 1.8 -1.7 1.0 -1.8 0.2 -0.8 -0.6 -0.4 -0.8 0 -1.6 0.4 -1.2 2 -3.1 1.2 -1.0zM286.0 59.5l0.9 -0.2 0.6 0.5 0.3 0.9 -0.2 1.8 -0.7 0.8 -0.9 -0.2 -0.7 -1.2 0 -1.2z" fill="#ff3600" fill-rule="evenodd"/><path d="M292.5 38.5l1.4 0.0 0.8 0.9 0.1 1.5 -0.7 1.8 -1.2 1.8 -1.4 1.2 -1.6 0.6 -1.2 -0.2 -0.6 -0.7 -0.2 -0.9 0.7 -2.4 1.9 -2.4zM285.9 60.1l0.4 -0.3 0.6 0.0 0.6 0.8 0 1.3 -0.6 0.9 -0.6 0.0 -0.6 -0.6 -0.1 -1.5z" fill="#fc1400" fill-rule="evenodd"/><path d="M291.5 39.7l1.4 -0.4 0.9 0.4 0.3 1.2 -0.3 1.2 -0.9 1.5 -1.2 1.2 -1.2 0.6 -1.2 0.0 -0.6 -0.9 0.2 -1.8 1 -1.6zM286.2 60.7l0.7 0.0 0 1.3 -0.7 -0.1z" fill="#f60700" fill-rule="evenodd"/></g>
<rect x="239.50" y="14.50" width="84.00" height="84.50" fill="none" stroke="#b8b8b8" stroke-width="0.7"/>
<path d="M239.5 14.5V99.0H323.5M237.9 94.8h1.6M237.9 76.2h1.6M237.9 57.6h1.6M237.9 39.0h1.6M237.9 20.4h1.6M247.9 99.0v1.6M266.4 99.0v1.6M284.9 99.0v1.6M303.3 99.0v1.6M321.8 99.0v1.6" fill="none" stroke="#444" stroke-width="0.7"/>
<path d="M238.6 88.9h0.9M238.6 85.5h0.9M238.6 82.9h0.9M238.6 70.3h0.9M238.6 66.9h0.9M238.6 64.4h0.9M238.6 51.7h0.9M238.6 48.3h0.9M238.6 45.8h0.9M238.6 33.1h0.9M238.6 29.7h0.9M238.6 27.2h0.9M253.8 99.0v0.9M257.1 99.0v0.9M259.7 99.0v0.9M272.3 99.0v0.9M275.6 99.0v0.9M278.1 99.0v0.9M290.7 99.0v0.9M294.1 99.0v0.9M296.6 99.0v0.9M309.2 99.0v0.9M312.6 99.0v0.9M315.1 99.0v0.9" fill="none" stroke="#666" stroke-width="0.5"/>
<path d="M281.4 14.5L281.4 99.0" stroke="#111" stroke-width="0.9"/>
<path d="M239.5 53.8L323.5 53.8" stroke="#111" stroke-width="0.9"/>
<text x="320.00" y="24.73" font-size="8.69" text-anchor="end" font-weight="bold" fill="#000" stroke="#000" stroke-width="0.1" transform="translate(28.80 0) scale(0.91 1)">43.9</text>
<rect x="146.50" y="119.60" width="84.50" height="84.10" fill="#fff" stroke="none" stroke-width="1"/>
<g filter="url(#bl)"><path d="M197.1 141.2l2.8 -0.2 1.8 0.5 1.2 0.7 1.8 2.0 1.1 3.0 0.3 2.4 -0.2 3.0 -0.5 3.0 -1.2 3.6 0.4 4.2 -0.5 3.6 0.6 4.2 -0.3 2.4 -0.5 1.8 -1.2 2.4 -2.2 2.7 -2.4 2.0 -3 1.5 -3 0.8 -3.6 0.4 -3 -0.3 -3 -0.7 -3 -1.4 -2.1 -1.4 -1.8 -1.8 -1.7 -2.4 -1 -2.4 -0.5 -2.4 0 -3.0 0.5 -2.4 1.5 -3.0 1.5 -2.0 2.4 -2.1 3 -1.9 2.9 -6.0 3.7 -4.9 4.2 -3.7 2.4 -1.3z" fill="#0000eb" fill-rule="evenodd"/><path d="M196.4 143.6l2.3 -0.2 2.5 0.8 1.7 1.8 1.2 3.0 0 4.2 -1.1 4.8 0.7 3.6 0 3.0 -0.5 2.4 -0.9 2.4 0.1 2.4 -0.7 3.0 -1.1 2.4 -1.4 1.8 -2 1.8 -2.1 1.2 -3 0.8 -3 0.4 -3 -0.1 -3 -0.7 -2.4 -1.1 -1.8 -1.2 -1.8 -1.7 -1.6 -2.4 -0.7 -1.8 -0.4 -2.4 0.1 -2.4 0.6 -2.4 1.2 -2.4 1.4 -1.8 1.8 -1.5 2.6 -1.5 3.2 -6.6 3.2 -4.4 1.8 -1.8 2.4 -1.8z" fill="#000bf9" fill-rule="evenodd"/><path d="M194.9 146.0l2.6 -0.5 2.4 0.7 1.6 1.6 0.9 2.4 0.1 3.6 -0.8 3.6 1.2 3.5 0.1 3.7 -0.8 3.0 -1.5 2.4 -0.1 2.4 -0.6 2.4 -0.8 1.8 -1.3 1.8 -1.6 1.4 -1.8 0.9 -2.4 0.5 -4.2 0.4 -2.4 -0.1 -2.4 -0.6 -1.8 -0.8 -1.8 -1.2 -1.6 -1.7 -1.1 -1.8 -1 -3.6 0 -1.8 0.5 -2.4 1.1 -2.4 1.5 -1.8 1.8 -1.4 2.4 -1.4 3 -6.2 3 -4.2 3 -2.7z" fill="#001cff" fill-rule="evenodd"/><path d="M194.2 148.4l2.1 -0.5 1.8 0.3 1.7 1.4 0.8 1.8 0.1 3.0 -0.5 3.0 0.9 1.0 0.6 1.1 0.5 2.1 0.1 1.9 -0.6 3.1 -2.1 3.4 -0.1 2.4 -0.5 2.4 -1.8 3.0 -1.3 1.2 -1.4 0.6 -7.8 0.8 -3.6 -0.5 -1.8 -0.9 -1.6 -1.2 -2.2 -3.0 -0.8 -3.6 0.5 -3.6 0.9 -1.8 1.4 -1.8 1.8 -1.4 2.4 -1.1 4.2 -7.3 1.8 -2.4 2.4 -2.2z" fill="#003aff" fill-rule="evenodd"/><path d="M193.9 151.4l1.8 -0.3 1 0.3 0.8 0.6 0.6 1.2 0.2 1.2 -0.5 4.2 0.3 0.3 1.2 0.0 0.6 0.3 0.6 0.7 0.6 1.5 0 3.8 -0.8 2.4 -1.1 1.8 -0.2 3.0 -0.6 2.4 -1.5 2.6 -1.2 1.0 -1.2 0.6 -4.2 0.0 -4.2 0.7 -1.8 -0.2 -1.8 -0.5 -2.6 -1.8 -1.1 -1.2 -0.9 -1.8 -0.6 -1.8 -0.1 -1.8 0.2 -1.8 0.6 -1.8 1.1 -1.8 1.2 -1.2 1.6 -1.1 2.7 -1.3 2.8 -3.0 3.5 -5.0 1.8 -1.5z" fill="#0058ff" fill-rule="evenodd"/><path d="M192.8 160.4l1.1 -0.3 1.2 0.1 0.6 0.4 0.6 1.0 1.2 0.1 1 1.1 1 2.4 0.1 1.8 -0.9 2.4 -0.3 4.2 -1.3 3.0 -1.4 1.4 -1.8 0.6 -3.6 -0.3 -3.6 0.8 -1.8 0.1 -1.8 -0.4 -1.8 -0.9 -1.2 -1.0 -1.2 -1.5 -1.2 -3.0 -0.2 -1.8 0.3 -1.8 1.3 -3.0 2.2 -2.2 3 -1.2 2.4 -1.3 1.2 -0.3 3 0.3z" fill="#009bff" fill-rule="evenodd"/><path d="M186.3 162.2l1.6 0.1 2.4 0.9 1.2 -0.3 1.8 -0.9 1.2 -0.1 1.8 1.3 0.6 0.0 0.9 0.8 0.6 1.2 0.4 1.8 -0.4 2.4 0 3.0 -1 3.0 -1.7 2.1 -1.8 0.7 -3.6 -0.7 -3.6 1.1 -2.4 0.1 -3 -1.2 -2 -2.1 -0.9 -1.8 -0.5 -2.4 0.2 -2.4 0.7 -1.8 1.2 -1.8 1.4 -1.2 1.7 -0.9z" fill="#00d9ff" fill-rule="evenodd"/><path d="M183.4 163.4l2.7 -0.5 1.2 0.1 3 1.5 0.6 0.0 2.4 -1.4 1.2 -0.1 0.6 0.3 0.6 0.8 1.5 0.5 0.7 1.2 0.3 1.2 -0.1 4.8 -0.4 2.4 -1.4 2.3 -1.8 1.1 -1.2 0.1 -3 -1.0 -3.6 1.4 -1.8 0.2 -2.4 -0.6 -2.3 -1.7 -0.9 -1.2 -0.8 -1.8 -0.3 -2.4 0.2 -1.8 0.7 -1.8 1.3 -1.8 1.5 -1.2z" fill="#00f9d9" fill-rule="evenodd"/><path d="M182.7 164.0l1.6 -0.4 2.4 0.0 1.2 0.4 1.8 1.3 1.2 0.2 3 -1.6 1.2 0.4 0.6 0.9 1.2 0.2 0.8 1.6 0.2 4.8 -0.5 2.4 -1.1 1.9 -1.2 0.9 -1.2 0.3 -3.6 -1.3 -3 1.5 -2.4 0.4 -2.4 -0.5 -1.8 -1.3 -1.1 -1.3 -0.8 -1.8 -0.3 -1.8 0.1 -1.8 0.5 -1.8 1 -1.6 1.2 -1.2z" fill="#00fc8c" fill-rule="evenodd"/><path d="M183.7 164.0l1.8 -0.1 1.8 0.4 3 1.9 1.2 -0.2 1.8 -1.2 1.2 -0.1 2.2 1.7 0.9 3.0 0.1 2.4 -0.6 2.4 -1.2 1.8 -0.8 0.6 -1.2 0.3 -3.6 -1.6 -3 1.7 -2.4 0.6 -2.4 -0.6 -1.8 -1.3 -1.1 -1.5 -0.7 -1.8 -0.2 -1.8 0.3 -1.8 0.7 -1.8 1 -1.3 1.2 -1.0z" fill="#0dff46" fill-rule="evenodd"/><path d="M183.0 164.6l1.9 -0.3 1.8 0.3 3.6 2.6 0.6 0.0 1.8 -1.3 1.2 -0.4 1.8 0.7 1.3 2.0 0.4 2.4 -0.4 3.0 -1 1.8 -0.9 0.7 -1.2 0.2 -1.2 -0.5 -1.8 -1.4 -0.6 -0.2 -3 2.2 -2.4 0.7 -1.8 -0.3 -1.8 -1.1 -1.2 -1.4 -0.6 -1.3 -0.4 -1.8 0.1 -1.8 0.6 -1.8 0.8 -1.2 1.3 -1.2z" fill="#40ff2a" fill-rule="evenodd"/><path d="M182.6 165.2l2.3 -0.5 1.8 0.4 1.2 0.8 2.4 2.4 0.6 0.0 2.4 -2.1 1.2 -0.2 0.6 0.2 1.2 1.4 0.8 2.4 -0.1 2.4 -1 2.4 -0.9 0.8 -1.2 0.2 -1.2 -0.6 -1.8 -2.0 -0.6 -0.1 -2.4 2.3 -1.8 1.0 -2.4 0.2 -1.8 -0.9 -1.2 -1.1 -0.9 -1.6 -0.3 -3.0 0.4 -1.8 0.6 -1.2z" fill="#73ff0e" fill-rule="evenodd"/><path d="M183.6 165.2l1.9 -0.1 1.8 0.8 1.5 1.7 1.4 3.0 -0.3 1.2 -1.5 2.4 -1.2 1.2 -1.7 0.8 -1.8 0.0 -1.8 -0.9 -1.4 -1.7 -0.7 -1.8 0.1 -2.4 0.6 -1.8 1.4 -1.6zM193.0 167.0l0.9 -0.5 1.2 0.2 0.8 0.9 0.8 1.8 0.1 1.8 -0.3 1.8 -0.8 1.6 -1.2 0.7 -1.2 -0.3 -0.9 -0.8 -1.1 -1.8 -0.6 -1.8 1.2 -2.4z" fill="#a9ff00" fill-rule="evenodd"/><path d="M183.2 165.8l1.7 -0.3 1.8 0.6 1.5 1.5 0.8 1.8 0.1 1.8 -0.6 1.8 -1.2 1.7 -1.8 1.0 -1.8 0.0 -1.7 -0.9 -1.1 -1.2 -0.7 -1.8 0 -1.8 0.5 -1.8 1.2 -1.6zM193.2 167.6l0.7 -0.4 1.2 0.2 0.7 0.8 0.6 1.8 0 1.8 -0.3 1.2 -0.8 1.2 -0.8 0.5 -1.3 -0.5 -0.9 -1.2 -0.4 -1.2 0.2 -2.4z" fill="#e2ff00" fill-rule="evenodd"/><path d="M182.9 166.4l1.4 -0.4 1.8 0.3 1.5 1.3 0.8 1.8 0.2 1.8 -0.6 1.8 -1.3 1.5 -1.2 0.7 -1.8 0.0 -1.2 -0.5 -1.1 -1.1 -0.7 -1.5 -0.2 -1.5 0.3 -1.8 0.7 -1.2zM193.5 168.2l1 -0.4 0.6 0.3 0.9 1.9 0.1 1.2 -0.4 1.7 -0.6 0.8 -0.6 0.3 -1.2 -0.6 -0.8 -1.6 0 -1.8z" fill="#ffe200" fill-rule="evenodd"/><path d="M182.7 167.0l1.6 -0.6 1.2 0.2 1.2 0.7 1 1.5 0.4 1.8 -0.4 1.8 -1 1.5 -1.2 0.8 -1.2 0.1 -1.2 -0.3 -1.2 -0.9 -0.7 -1.2 -0.3 -1.2 0.1 -1.8 0.6 -1.2zM193.8 168.8l0.7 -0.2 0.6 0.4 0.5 1.6 -0.3 1.8 -0.8 0.8 -0.6 -0.1 -0.6 -0.7 -0.3 -1.2 0.1 -1.2z" fill="#ffa900" fill-rule="evenodd"/><path d="M183.7 167.0l1.2 -0.1 1.2 0.5 1.1 1.4 0.4 1.2 -0.1 1.8 -0.6 1.2 -0.8 0.8 -1.2 0.5 -1.2 0.0 -1.2 -0.7 -0.9 -1.2 -0.3 -1.2 0 -1.2 0.6 -1.6 0.7 -0.8zM193.9 170.0l0.6 -0.3 0.5 0.9 0 0.6 -0.5 0.9 -0.6 -0.3z" fill="#ff7000" fill-rule="evenodd"/><path d="M183.5 167.6l0.8 -0.2 1.2 0.2 1.2 1.2 0.4 1.2 0 1.2 -0.4 1.2 -0.6 0.8 -1.2 0.6 -1.8 -0.3 -1 -1.1 -0.4 -1.2 0.2 -1.9 0.6 -1.0z" fill="#ff3600" fill-rule="evenodd"/><path d="M183.4 168.2l0.9 -0.3 1.2 0.3 0.6 0.6 0.6 1.2 -0.2 1.8 -0.4 0.7 -1.2 0.8 -1.6 -0.3 -1 -1.2 -0.1 -1.8 0.3 -0.9z" fill="#fc1400" fill-rule="evenodd"/><path d="M183.7 168.8l1.2 -0.1 0.6 0.4 0.5 0.9 0 1.2 -0.5 0.9 -0.6 0.4 -1.2 -0.1 -0.9 -1.2 0 -1.2z" fill="#f60700" fill-rule="evenodd"/></g>
<rect x="146.50" y="119.60" width="84.50" height="84.10" fill="none" stroke="#b8b8b8" stroke-width="0.7"/>
<path d="M146.5 119.6V203.7H231.0M144.9 199.5h1.6M144.9 181.0h1.6M144.9 162.5h1.6M144.9 144.0h1.6M144.9 125.5h1.6M154.9 203.7v1.6M173.5 203.7v1.6M192.1 203.7v1.6M210.7 203.7v1.6M229.3 203.7v1.6" fill="none" stroke="#444" stroke-width="0.7"/>
<path d="M145.6 193.6h0.9M145.6 190.2h0.9M145.6 187.7h0.9M145.6 175.1h0.9M145.6 171.7h0.9M145.6 169.2h0.9M145.6 156.6h0.9M145.6 153.2h0.9M145.6 150.7h0.9M145.6 138.1h0.9M145.6 134.7h0.9M145.6 132.2h0.9M160.9 203.7v0.9M164.2 203.7v0.9M166.8 203.7v0.9M179.5 203.7v0.9M182.8 203.7v0.9M185.4 203.7v0.9M198.0 203.7v0.9M201.4 203.7v0.9M204.0 203.7v0.9M216.6 203.7v0.9M220.0 203.7v0.9M222.6 203.7v0.9" fill="none" stroke="#666" stroke-width="0.5"/>
<path d="M190.7 119.6L190.7 203.7" stroke="#111" stroke-width="0.9"/>
<path d="M146.5 163.4L231.0 163.4" stroke="#111" stroke-width="0.9"/>
<text x="227.50" y="129.93" font-size="8.69" text-anchor="end" font-weight="bold" fill="#000" stroke="#000" stroke-width="0.1" transform="translate(20.47 0) scale(0.91 1)">4.93</text>
<rect x="239.50" y="119.30" width="84.00" height="84.10" fill="#fff" stroke="none" stroke-width="1"/>
<g filter="url(#bl)"><path d="M288.0 134.9l3.1 -0.3 1.8 0.4 1.2 0.6 2.2 2.3 1.4 3.6 0.3 2.4 0 3.0 -0.5 3.6 -1 3.6 0 4.2 -0.7 4.2 0.4 4.8 -0.5 3.6 -0.9 3.0 -1.5 3.0 -2.3 3.0 -2.9 2.6 -1.8 1.0 -1.8 0.5 -4.8 0.4 -2.4 -0.2 -2.4 -1.0 -2.4 -1.9 -2.2 -2.6 -1.7 -3.0 -1.1 -3.0 -0.6 -3.0 -0.1 -3.0 0.5 -3.6 0.7 -2.4 1.3 -3.0 3.2 -5.1 1.9 -4.5 2.7 -4.2 3 -3.6 2.6 -2.5 3 -2.0z" fill="#0000eb" fill-rule="evenodd"/><path d="M288.0 137.3l3.1 0.0 2.3 1.2 1.8 2.4 0.8 3.0 0.2 3.6 -0.7 4.2 0.2 6.6 -0.6 3.0 -1.1 3.0 0.1 3.0 -0.4 3.0 -0.9 3.0 -1.6 3.0 -1.7 2.4 -2 1.8 -1.2 0.7 -1.8 0.5 -5.4 0.6 -1.8 -0.1 -1.8 -0.7 -2 -1.6 -1.8 -2.4 -1.5 -3.0 -0.9 -3.0 -0.5 -3.0 0.1 -3.0 0.5 -3.0 1.7 -4.8 2.1 -3.6 2.1 -4.8 1.9 -3.0 3.6 -4.2 2.5 -2.4 2.4 -1.6z" fill="#000bf9" fill-rule="evenodd"/><path d="M286.6 139.7l2.1 -0.4 2.4 0.6 1.8 1.5 1 1.9 0.6 3.0 -0.2 4.2 0.7 4.8 -0.3 4.4 -0.9 2.8 -1.5 2.4 0 3.6 -0.8 3.6 -1.3 3.0 -1.5 2.4 -1.2 1.2 -1.8 1.0 -3.6 0.4 -3 0.7 -1.8 -0.1 -1.8 -0.8 -1.5 -1.2 -1.3 -1.8 -1.2 -2.4 -0.9 -3.0 -0.4 -3.0 0 -3.0 0.4 -3.0 1.6 -4.8 1.8 -3.0 1.1 -3.0 1.6 -2.8 6.2 -6.8 1.6 -1.3z" fill="#001cff" fill-rule="evenodd"/><path d="M287.0 141.5l1.7 0.1 1.3 0.5 1.3 1.2 1 1.8 0.5 2.4 0 2.4 0.7 1.4 0.7 2.8 0 3.0 -0.3 2.4 -1 2.5 -1.9 2.3 0 3.6 -0.4 3.0 -1 3.0 -1.5 2.6 -1.2 1.2 -1.2 0.6 -3 0.0 -3.6 1.3 -1.8 0.0 -1.8 -0.8 -1.4 -1.3 -1.2 -1.8 -1.2 -3.0 -0.8 -5.4 0.2 -3.0 0.6 -3.0 1 -3.0 1.8 -3.0 1.6 -3.9 1.2 -1.8 7.2 -6.9 1.2 -0.8z" fill="#003aff" fill-rule="evenodd"/><path d="M286.1 143.3l1.4 -0.1 1.2 0.6 1.2 1.3 0.6 1.2 0.6 3.6 1.2 1.7 0.7 1.9 0.3 3.0 -0.4 2.7 -0.9 2.1 -1.7 2.4 0.1 3.6 -0.4 3.0 -0.9 3.0 -1.2 2.4 -1 1.0 -1.2 0.6 -3 -0.3 -3.2 1.7 -2.2 0.2 -1.8 -0.8 -1.2 -1.1 -1.2 -1.9 -1 -2.4 -0.5 -2.4 -0.2 -3.0 0.6 -5.4 1.2 -3.6 1.4 -2.4 1.5 -3.4 1.2 -1.9 1.8 -1.6 2.4 -1.3 3 -3.4z" fill="#0058ff" fill-rule="evenodd"/><path d="M285.4 145.1l1.5 -0.4 0.8 0.4 1 1.1 0.8 1.9 1.4 5.4 0.4 6.0 -0.4 1.8 -1.1 1.8 0.2 3.6 -0.6 4.2 -1.3 3.6 -1.7 1.8 -1.3 0.2 -2.4 -0.6 -3 2.1 -1.2 0.4 -1.2 0.0 -1.8 -0.8 -1.2 -1.2 -1.1 -1.9 -0.7 -1.8 -0.6 -2.4 -0.2 -3.0 0.6 -5.4 1.3 -3.6 2.5 -5.1 1.2 -1.8 1.8 -1.4 3 -0.5 2.1 -3.2z" fill="#009bff" fill-rule="evenodd"/><path d="M285.4 146.9l0.9 -0.4 0.6 0.1 1.2 1.4 0.9 2.5 1.1 5.4 0.2 4.2 -0.8 2.4 0 4.8 -0.7 4.2 -1.3 3.0 -1.2 1.0 -1.2 0.1 -1.8 -1.0 -0.6 -0.1 -3.2 3.0 -1.6 0.5 -1.2 -0.2 -1.2 -0.7 -1.3 -1.4 -1 -1.8 -0.8 -2.4 -0.4 -4.8 0.8 -5.4 2.9 -6.6 1.6 -2.5 1.2 -1.0 1.2 -0.2 2.4 1.4 0.6 -0.5 1.7 -3.8z" fill="#00d9ff" fill-rule="evenodd"/><path d="M285.7 148.7l0.6 -0.2 0.6 0.2 1.2 1.7 1.5 6.7 0.1 2.4 -0.6 2.4 0.1 5.4 -0.8 4.2 -0.9 2.0 -1.2 1.2 -1.2 0.0 -1.8 -1.7 -0.6 -0.1 -3 3.8 -1.2 0.7 -1.8 -0.1 -1.2 -0.7 -1.2 -1.3 -1 -2.0 -0.6 -1.8 -0.4 -4.8 0.8 -5.2 2.6 -6.2 1.6 -2.3 1.2 -0.8 1.2 0.1 2.4 3.0 0.6 -0.3 1.8 -4.7z" fill="#00f9d9" fill-rule="evenodd"/><path d="M285.7 150.5l0.6 -0.2 0.6 0.2 0.6 0.8 0.8 2.2 0.8 3.6 0 2.4 -0.4 1.8 0.2 5.4 -0.8 4.3 -1.2 2.4 -1.2 0.5 -1.2 -1.0 -1.2 -2.0 -0.6 -0.2 -1.8 3.8 -1.2 1.6 -1.2 0.8 -1.8 0.0 -1.2 -0.7 -1.2 -1.4 -0.8 -1.5 -0.7 -2.4 -0.2 -4.8 0.9 -4.8 2.6 -6.3 1.8 -1.8 1.2 0.0 0.6 0.4 1 1.7 1.4 3.4 0.6 -0.5 1.8 -5.8z" fill="#00fc8c" fill-rule="evenodd"/><path d="M285.6 152.3l0.7 -0.4 0.6 0.2 0.6 0.9 1.1 4.1 -0.2 3.6 0.1 6.0 -0.8 4.2 -0.8 1.4 -0.6 0.5 -0.6 0.0 -0.6 -0.4 -0.8 -1.5 -1.6 -4.1 -1.1 4.7 -1.2 3.0 -0.9 1.2 -1 0.7 -1.8 0.0 -1.2 -0.7 -1.4 -1.8 -0.9 -2.4 -0.4 -2.4 0.3 -4.9 2.1 -6.5 1.5 -3.1 1.2 -0.7 1.2 0.2 1.2 1.8 0.9 4.2 0.9 2.5 0.6 0.5 0.6 -2.4 0.5 -4.2 0.7 -2.3z" fill="#0dff46" fill-rule="evenodd"/><path d="M285.5 154.1l0.8 -0.5 0.6 0.3 0.9 1.4 0.5 2.4 -0.4 2.4 0.3 4.2 -0.2 3.0 -0.6 2.4 -0.5 1.1 -0.6 0.5 -0.6 0.0 -1 -1.6 -0.8 -4.8 0.2 -7.2 0.4 -1.8zM277.4 154.7l1.1 0.0 0.7 0.6 0.6 1.2 0.5 3.6 1 4.2 0.3 3.0 -0.4 3.6 -0.7 2.4 -1.4 2.0 -1.8 0.7 -1.8 -0.8 -1.2 -1.6 -0.9 -2.7 -0.3 -3.0 0.4 -3.6 1.8 -6.0 0.9 -2.4z" fill="#40ff2a" fill-rule="evenodd"/><path d="M277.2 155.3l0.7 -0.2 0.6 0.3 1 1.7 0.2 3.2 1.1 4.6 0.3 3.0 -0.3 3.0 -0.8 2.4 -1.4 1.8 -1.3 0.4 -1.8 -0.9 -1 -1.3 -0.9 -2.4 -0.2 -3.0 0.3 -3.0 1.4 -3.6 0.7 -3.6 0.8 -1.8zM285.4 155.3l0.9 -0.6 0.6 0.3 0.6 0.9 0.4 1.8 -0.4 3.0 0 6.0 -0.6 2.3 -0.6 0.6 -0.6 -0.2 -0.6 -1.2 -0.6 -3.3 -0.1 -6.6 0.4 -1.8z" fill="#73ff0e" fill-rule="evenodd"/><path d="M277.1 155.9l0.8 -0.3 0.5 0.3 0.7 1.2 0.1 4.2 1.1 3.6 0.4 3.0 -0.1 2.4 -0.7 2.4 -1.3 1.8 -1.3 0.5 -1.2 -0.4 -1.2 -1.3 -1 -2.4 -0.3 -2.4 0.5 -3.6 1.6 -3.6 0.2 -3.0 0.7 -1.8zM285.6 155.9l0.7 -0.4 0.6 0.3 0.7 1.9 -0.5 3.0 -0.1 4.8 -0.7 1.9 -0.6 -0.4 -0.4 -1.5 -0.1 -4.8 -0.4 -1.8 0.2 -1.8z" fill="#a9ff00" fill-rule="evenodd"/><path d="M277.1 156.5l0.8 -0.2 0.7 0.8 0.2 1.2 -0.7 3.6 1.7 3.0 0.5 3.6 -0.2 2.4 -0.7 1.8 -0.9 1.2 -1.2 0.5 -1.2 -0.4 -1.2 -1.4 -0.7 -1.7 -0.3 -2.4 0.7 -3.6 2 -3.0 -0.4 -3.0 0.5 -1.8zM286.2 156.5l0.7 0.4 0.3 1.4 -0.3 1.2 -0.6 0.7 -0.6 -0.3 -0.4 -1.6 0.2 -1.2z" fill="#e2ff00" fill-rule="evenodd"/><path d="M277.2 157.1l0.7 -0.1 0.4 1.3 -0.4 1.4 -0.6 0.3 -0.6 -1.1zM286.2 157.7l0.3 0.6 -0.2 0.6 -0.3 -0.6zM276.0 163.7l1.3 -0.5 1.2 0.6 0.9 1.7 0.5 1.8 0 2.4 -0.4 1.8 -1 1.8 -1.2 0.6 -1.2 -0.4 -0.6 -0.6 -0.7 -1.4 -0.5 -1.8 0.3 -3.6 0.5 -1.2z" fill="#ffe200" fill-rule="evenodd"/><path d="M276.4 164.3l0.9 -0.3 1.2 0.8 0.7 1.3 0.4 1.8 0 1.8 -0.5 1.8 -0.7 1.2 -1.1 0.6 -1.2 -0.4 -0.6 -0.7 -0.9 -2.5 0 -1.8 0.3 -1.6 0.6 -1.2z" fill="#ffa900" fill-rule="evenodd"/><path d="M276.6 164.9l0.7 -0.1 1.1 0.7 0.8 2.4 -0.2 3.0 -0.6 1.2 -1.1 0.7 -1.2 -0.4 -0.6 -0.8 -0.6 -2.5 0.1 -1.8 0.4 -1.2z" fill="#ff7000" fill-rule="evenodd"/><path d="M276.7 165.5l0.6 -0.1 0.9 0.7 0.8 2.4 -0.5 2.6 -0.6 0.9 -0.6 0.3 -0.6 -0.1 -0.8 -0.7 -0.7 -2.4 0.3 -2.2 0.6 -1.0z" fill="#ff3600" fill-rule="evenodd"/><path d="M276.1 166.7l0.6 -0.5 0.6 -0.1 0.6 0.4 0.6 1.3 -0.1 2.5 -0.5 1.0 -0.6 0.4 -0.6 -0.1 -0.6 -0.5 -0.5 -1.4 0 -1.8z" fill="#fc1400" fill-rule="evenodd"/><path d="M276.5 167.3l0.8 -0.3 0.7 0.9 0.1 1.8 -0.8 1.2 -0.6 -0.1 -0.7 -1.1 0 -1.2z" fill="#f60700" fill-rule="evenodd"/></g>
<rect x="239.50" y="119.30" width="84.00" height="84.10" fill="none" stroke="#b8b8b8" stroke-width="0.7"/>
<path d="M239.5 119.3V203.4H323.5M237.9 199.2h1.6M237.9 180.7h1.6M237.9 162.2h1.6M237.9 143.7h1.6M237.9 125.2h1.6M247.9 203.4v1.6M266.4 203.4v1.6M284.9 203.4v1.6M303.3 203.4v1.6M321.8 203.4v1.6" fill="none" stroke="#444" stroke-width="0.7"/>
<path d="M238.6 193.3h0.9M238.6 189.9h0.9M238.6 187.4h0.9M238.6 174.8h0.9M238.6 171.4h0.9M238.6 168.9h0.9M238.6 156.3h0.9M238.6 152.9h0.9M238.6 150.4h0.9M238.6 137.8h0.9M238.6 134.4h0.9M238.6 131.9h0.9M253.8 203.4v0.9M257.1 203.4v0.9M259.7 203.4v0.9M272.3 203.4v0.9M275.6 203.4v0.9M278.1 203.4v0.9M290.7 203.4v0.9M294.1 203.4v0.9M296.6 203.4v0.9M309.2 203.4v0.9M312.6 203.4v0.9M315.1 203.4v0.9" fill="none" stroke="#666" stroke-width="0.5"/>
<path d="M282.8 119.3L282.8 203.4" stroke="#111" stroke-width="0.9"/>
<path d="M239.5 163.4L323.5 163.4" stroke="#111" stroke-width="0.9"/>
<text x="320.00" y="129.93" font-size="8.69" text-anchor="end" font-weight="bold" fill="#000" stroke="#000" stroke-width="0.1" transform="translate(28.80 0) scale(0.91 1)">18.8</text>
<path d="M130.8 51.0L130.8 19.4" stroke="#231815" stroke-width="1.0"/>
<path d="M130.80,14.40 L128.40,20.40 L133.20,20.40 Z" fill="#231815" stroke="none" stroke-width="1"/>
<path d="M131.5 153.4L131.5 123.4" stroke="#231815" stroke-width="1.0"/>
<path d="M131.50,118.40 L129.10,124.40 L133.90,124.40 Z" fill="#231815" stroke="none" stroke-width="1"/>
<text x="140.20" y="56.83" font-size="9.02" text-anchor="middle" font-weight="bold" fill="#000" transform="rotate(-90 140.20 54.00) translate(140.20 0) scale(0.91 1) translate(-140.20 0)" stroke="#000" stroke-width="0.1">Tumor</text>
<text x="140.20" y="161.53" font-size="9.02" text-anchor="middle" font-weight="bold" fill="#000" transform="rotate(-90 140.20 158.70) translate(140.20 0) scale(0.91 1) translate(-140.20 0)" stroke="#000" stroke-width="0.1">TDLN</text>
<text x="131.60" y="81.04" font-size="6.49" text-anchor="middle" fill="#222" transform="rotate(-90 131.60 79.00) translate(131.60 0) scale(0.91 1) translate(-131.60 0)" stroke="#222" stroke-width="0.1">PD-1 (PB450)</text>
<text x="131.60" y="186.04" font-size="6.49" text-anchor="middle" fill="#222" transform="rotate(-90 131.60 184.00) translate(131.60 0) scale(0.91 1) translate(-131.60 0)" stroke="#222" stroke-width="0.1">PD-1 (PB450)</text>
<text x="144" y="111.10" font-size="7.04" fill="#222" stroke="#222" stroke-width="0.1" transform="translate(12.96 0) scale(0.91 1)">CD8 (Percp/Cy5.5) (gated on CD3<tspan font-size="4.40" dy="-2.42">+</tspan><tspan dy="2.42"> cells)</tspan></text>
<path d="M272.3 108.9L319.0 108.9" stroke="#231815" stroke-width="1.0"/>
<path d="M325.00,108.90 L318.00,106.30 L318.00,111.50 Z" fill="#231815" stroke="none" stroke-width="1"/>
<text x="144" y="216.10" font-size="7.04" fill="#222" stroke="#222" stroke-width="0.1" transform="translate(12.96 0) scale(0.91 1)">CD8 (Percp/Cy5.5) (gated on CD3<tspan font-size="4.40" dy="-2.42">+</tspan><tspan dy="2.42"> cells)</tspan></text>
<path d="M272.3 213.9L319.0 213.9" stroke="#231815" stroke-width="1.0"/>
<path d="M325.00,213.90 L318.00,211.30 L318.00,216.50 Z" fill="#231815" stroke="none" stroke-width="1"/>
<text x="333.50" y="16.68" font-size="7.92" font-weight="bold" fill="#000" stroke="#000" stroke-width="0.1" transform="translate(30.01 0) scale(0.91 1)">Tumor</text>
<path d="M355.8 20.4L355.8 100.4" stroke="#000" stroke-width="0.9"/>
<path d="M355.8 100.4L435.0 100.4" stroke="#000" stroke-width="0.9"/>
<path d="M352.4 100.4L355.8 100.4" stroke="#000" stroke-width="0.9"/>
<text x="351.80" y="102.68" font-size="7.26" text-anchor="end" fill="#000" stroke="#000" stroke-width="0.1" transform="translate(31.66 0) scale(0.91 1)">0</text>
<path d="M352.4 73.8L355.8 73.8" stroke="#000" stroke-width="0.9"/>
<text x="351.80" y="76.11" font-size="7.26" text-anchor="end" fill="#000" stroke="#000" stroke-width="0.1" transform="translate(31.66 0) scale(0.91 1)">20</text>
<path d="M352.4 47.3L355.8 47.3" stroke="#000" stroke-width="0.9"/>
<text x="351.80" y="49.54" font-size="7.26" text-anchor="end" fill="#000" stroke="#000" stroke-width="0.1" transform="translate(31.66 0) scale(0.91 1)">40</text>
<path d="M352.4 20.7L355.8 20.7" stroke="#000" stroke-width="0.9"/>
<text x="351.80" y="22.98" font-size="7.26" text-anchor="end" fill="#000" stroke="#000" stroke-width="0.1" transform="translate(31.66 0) scale(0.91 1)">60</text>
<rect x="367.15" y="81.14" width="20.80" height="19.26" fill="#fff" stroke="#1a1aff" stroke-width="1.5"/>
<path d="M377.5 75.8L377.5 85.8" stroke="#1a1aff" stroke-width="1.35"/>
<path d="M373.7 75.8L381.3 75.8" stroke="#1a1aff" stroke-width="1.35"/>
<path d="M373.7 85.8L381.3 85.8" stroke="#1a1aff" stroke-width="1.35"/>
<circle cx="377.55" cy="73.83" r="1.90" fill="#1a1aff" stroke="none" stroke-width="1"/>
<circle cx="376.05" cy="83.13" r="1.90" fill="#1a1aff" stroke="none" stroke-width="1"/>
<circle cx="379.05" cy="85.12" r="1.90" fill="#1a1aff" stroke="none" stroke-width="1"/>
<rect x="401.75" y="47.93" width="20.40" height="52.47" fill="#fff" stroke="#ff1a1a" stroke-width="1.5"/>
<path d="M411.9 38.6L411.9 57.9" stroke="#ff1a1a" stroke-width="1.35"/>
<path d="M408.1 38.6L415.8 38.6" stroke="#ff1a1a" stroke-width="1.35"/>
<path d="M408.1 57.9L415.8 57.9" stroke="#ff1a1a" stroke-width="1.35"/>
<circle cx="411.95" cy="36.64" r="1.90" fill="#ff1a1a" stroke="none" stroke-width="1"/>
<circle cx="410.95" cy="47.27" r="1.90" fill="#ff1a1a" stroke="none" stroke-width="1"/>
<circle cx="411.95" cy="56.57" r="1.90" fill="#ff1a1a" stroke="none" stroke-width="1"/>
<path d="M378.0 32.0L412.0 32.0" stroke="#333" stroke-width="0.9"/>
<text x="395.00" y="29.95" font-size="8.14" text-anchor="middle" fill="#000" stroke="#000" stroke-width="0.1" transform="translate(35.55 0) scale(0.91 1)">p=0.0006</text>
<text x="377.60" y="110.08" font-size="7.92" text-anchor="middle" fill="#000" stroke="#000" stroke-width="0.1" transform="translate(33.98 0) scale(0.91 1)">NS</text>
<text x="411.80" y="110.08" font-size="7.92" text-anchor="middle" fill="#000" stroke="#000" stroke-width="0.1" transform="translate(37.06 0) scale(0.91 1)">M7GA-DC</text>
<text transform="translate(341.5,60.5) rotate(-90) scale(0.91 1)" font-size="7.70" text-anchor="middle" fill="#222" stroke="#222" stroke-width="0.1">CD8<tspan font-size="4.84" dy="-2.64">+</tspan><tspan dy="2.64">PD-1</tspan><tspan font-size="4.84" dy="-2.64">+</tspan><tspan dy="2.64"> / CD3</tspan><tspan font-size="4.84" dy="-2.64">+</tspan><tspan dy="2.64"> %</tspan></text>
<text x="335.50" y="120.88" font-size="7.92" font-weight="bold" fill="#000" stroke="#000" stroke-width="0.1" transform="translate(30.19 0) scale(0.91 1)">TDLN</text>
<path d="M357.5 124.6L357.5 204.0" stroke="#000" stroke-width="0.9"/>
<path d="M357.5 204.0L437.0 204.0" stroke="#000" stroke-width="0.9"/>
<path d="M354.1 204.0L357.5 204.0" stroke="#000" stroke-width="0.9"/>
<text x="353.50" y="206.28" font-size="7.26" text-anchor="end" fill="#000" stroke="#000" stroke-width="0.1" transform="translate(31.81 0) scale(0.91 1)">0</text>
<path d="M354.1 188.2L357.5 188.2" stroke="#000" stroke-width="0.9"/>
<text x="353.50" y="190.46" font-size="7.26" text-anchor="end" fill="#000" stroke="#000" stroke-width="0.1" transform="translate(31.81 0) scale(0.91 1)">5</text>
<path d="M354.1 172.4L357.5 172.4" stroke="#000" stroke-width="0.9"/>
<text x="353.50" y="174.64" font-size="7.26" text-anchor="end" fill="#000" stroke="#000" stroke-width="0.1" transform="translate(31.81 0) scale(0.91 1)">10</text>
<path d="M354.1 156.5L357.5 156.5" stroke="#000" stroke-width="0.9"/>
<text x="353.50" y="158.82" font-size="7.26" text-anchor="end" fill="#000" stroke="#000" stroke-width="0.1" transform="translate(31.81 0) scale(0.91 1)">15</text>
<path d="M354.1 140.7L357.5 140.7" stroke="#000" stroke-width="0.9"/>
<text x="353.50" y="143.00" font-size="7.26" text-anchor="end" fill="#000" stroke="#000" stroke-width="0.1" transform="translate(31.81 0) scale(0.91 1)">20</text>
<path d="M354.1 124.9L357.5 124.9" stroke="#000" stroke-width="0.9"/>
<text x="353.50" y="127.18" font-size="7.26" text-anchor="end" fill="#000" stroke="#000" stroke-width="0.1" transform="translate(31.81 0) scale(0.91 1)">25</text>
<rect x="370.15" y="184.70" width="20.40" height="19.30" fill="#fff" stroke="#1a1aff" stroke-width="1.5"/>
<path d="M380.4 179.0L380.4 190.1" stroke="#1a1aff" stroke-width="1.35"/>
<path d="M376.6 179.0L384.2 179.0" stroke="#1a1aff" stroke-width="1.35"/>
<path d="M376.6 190.1L384.2 190.1" stroke="#1a1aff" stroke-width="1.35"/>
<circle cx="382.85" cy="178.69" r="1.90" fill="#1a1aff" stroke="none" stroke-width="1"/>
<circle cx="380.35" cy="189.76" r="1.90" fill="#1a1aff" stroke="none" stroke-width="1"/>
<circle cx="377.35" cy="189.45" r="1.90" fill="#1a1aff" stroke="none" stroke-width="1"/>
<circle cx="382.35" cy="188.81" r="1.90" fill="#1a1aff" stroke="none" stroke-width="1"/>
<rect x="403.95" y="144.52" width="20.40" height="59.48" fill="#fff" stroke="#ff1a1a" stroke-width="1.5"/>
<path d="M414.1 142.6L414.1 146.7" stroke="#ff1a1a" stroke-width="1.35"/>
<path d="M410.3 142.6L417.9 142.6" stroke="#ff1a1a" stroke-width="1.35"/>
<path d="M410.3 146.7L417.9 146.7" stroke="#ff1a1a" stroke-width="1.35"/>
<circle cx="414.15" cy="142.30" r="1.90" fill="#ff1a1a" stroke="none" stroke-width="1"/>
<circle cx="411.15" cy="146.10" r="1.90" fill="#ff1a1a" stroke="none" stroke-width="1"/>
<circle cx="417.15" cy="145.15" r="1.90" fill="#ff1a1a" stroke="none" stroke-width="1"/>
<path d="M380.5 132.2L414.4 132.2" stroke="#333" stroke-width="0.9"/>
<text x="397.45" y="130.15" font-size="8.14" text-anchor="middle" fill="#000" stroke="#000" stroke-width="0.1" transform="translate(35.77 0) scale(0.91 1)">p&lt;0.0001</text>
<text x="380.30" y="213.48" font-size="7.92" text-anchor="middle" fill="#000" stroke="#000" stroke-width="0.1" transform="translate(34.23 0) scale(0.91 1)">NS</text>
<text x="414.20" y="213.48" font-size="7.92" text-anchor="middle" fill="#000" stroke="#000" stroke-width="0.1" transform="translate(37.28 0) scale(0.91 1)">M7GA-DC</text>
<text transform="translate(343.3,164) rotate(-90) scale(0.91 1)" font-size="7.70" text-anchor="middle" fill="#222" stroke="#222" stroke-width="0.1">CD8<tspan font-size="4.84" dy="-2.64">+</tspan><tspan dy="2.64">PD-1</tspan><tspan font-size="4.84" dy="-2.64">+</tspan><tspan dy="2.64"> / CD3</tspan><tspan font-size="4.84" dy="-2.64">+</tspan><tspan dy="2.64"> %</tspan></text>
<text x="428.50" y="10.78" font-size="10.45" font-weight="bold" fill="#000" stroke="#000" stroke-width="0.1" transform="translate(38.56 0) scale(0.91 1)">d</text>
<g transform="translate(435.00,20.50) scale(1.120 1.0)"><path d="M9,11 L1.8,8.2 M16.5,11 L23.7,8.2" stroke="#cdbcb4" stroke-width="3" fill="none" stroke-linecap="round"/><path d="M9,11 L1.8,8.2 M16.5,11 L23.7,8.2" stroke="#ece6e3" stroke-width="2.2" fill="none" stroke-linecap="round"/><circle cx="1.4" cy="8" r="1.2" fill="#f29a98"/><circle cx="24.1" cy="8" r="1.2" fill="#f29a98"/><path d="M7.5,32 L1.2,34.6 M18,32 L24.5,34.6 M12.6,33 L12.6,39.6" stroke="#f29a98" stroke-width="1.3" fill="none" stroke-linecap="round"/><path d="M8.2,8.5 C6.8,14 6.8,21 5.2,26.5 C4.2,30.5 6,33.2 9,33.6 L16.5,33.6 C19.5,33.2 21.3,30.5 20.3,26.5 C18.7,21 18.7,14 17.3,8.5 Z" fill="#ece6e3" stroke="#cdbcb4" stroke-width="0.6"/><path d="M12.8,0.8 C9.8,1.6 8.2,5 8.2,9.2 L17.3,9.2 C17.3,5 15.8,1.6 12.8,0.8 Z" fill="#ece6e3" stroke="#cdbcb4" stroke-width="0.6"/><circle cx="7.4" cy="6.6" r="1.6" fill="#f29a98" stroke="#cdbcb4" stroke-width="0.4"/><circle cx="18.2" cy="6.6" r="1.6" fill="#f29a98" stroke="#cdbcb4" stroke-width="0.4"/><circle cx="12.8" cy="1.0" r="0.8" fill="#f29a98"/><circle cx="10.8" cy="25.6" r="0.95" fill="#ea5a5a"/><path d="M9.2,31.6 L5.6,40.8" stroke="#8fd0e2" stroke-width="1.7"/><path d="M9.2,31.6 L8.3,34" stroke="#1a9a8a" stroke-width="1.7"/></g>
<text x="472.00" y="34.71" font-size="7.70" font-weight="bold" fill="#000" stroke="#000" stroke-width="0.1" transform="translate(42.48 0) scale(0.91 1)">Day:</text>
<path d="M473.6 41.8L666.0 41.8" stroke="#231815" stroke-width="1.2"/>
<path d="M671.50,41.80 L665.00,39.00 L665.00,44.60 Z" fill="#231815" stroke="none" stroke-width="1"/>
<path d="M499.8 37.8L499.8 41.8" stroke="#231815" stroke-width="1.1"/>
<text x="499.80" y="34.62" font-size="7.70" text-anchor="middle" font-weight="bold" fill="#000" stroke="#000" stroke-width="0.1" transform="translate(44.98 0) scale(0.91 1)">0</text>
<path d="M567.3 37.8L567.3 41.8" stroke="#231815" stroke-width="1.1"/>
<text x="567.30" y="34.62" font-size="7.70" text-anchor="middle" font-weight="bold" fill="#000" stroke="#000" stroke-width="0.1" transform="translate(51.06 0) scale(0.91 1)">7</text>
<path d="M579.2 37.8L579.2 41.8" stroke="#231815" stroke-width="1.1"/>
<text x="579.20" y="34.62" font-size="7.70" text-anchor="middle" font-weight="bold" fill="#000" stroke="#000" stroke-width="0.1" transform="translate(52.13 0) scale(0.91 1)">9</text>
<path d="M591.4 37.8L591.4 41.8" stroke="#231815" stroke-width="1.1"/>
<text x="591.40" y="34.62" font-size="7.70" text-anchor="middle" font-weight="bold" fill="#000" stroke="#000" stroke-width="0.1" transform="translate(53.23 0) scale(0.91 1)">11</text>
<path d="M607.2 37.8L607.2 41.8" stroke="#231815" stroke-width="1.1"/>
<text x="607.20" y="34.62" font-size="7.70" text-anchor="middle" font-weight="bold" fill="#000" stroke="#000" stroke-width="0.1" transform="translate(54.65 0) scale(0.91 1)">14</text>
<path d="M648.5 37.8L648.5 41.8" stroke="#231815" stroke-width="1.1"/>
<text x="648.50" y="34.62" font-size="7.70" text-anchor="middle" font-weight="bold" fill="#000" stroke="#000" stroke-width="0.1" transform="translate(58.36 0) scale(0.91 1)">22</text>
<rect x="552.40" y="2.40" width="56.70" height="12.40" fill="#fff" stroke="#e8231e" stroke-width="1.0"/>
<text x="580.75" y="11.02" font-size="7.70" text-anchor="middle" font-weight="bold" fill="#000" stroke="#000" stroke-width="0.1" transform="translate(52.27 0) scale(0.91 1)">anti-PD-1, i.p.</text>
<path d="M567.3 14.8L567.3 23.9" stroke="#e8231e" stroke-width="1.3"/>
<path d="M567.30,27.30 L564.90,22.90 L569.70,22.90 Z" fill="#e8231e" stroke="none" stroke-width="1"/>
<path d="M579.2 14.8L579.2 23.9" stroke="#e8231e" stroke-width="1.3"/>
<path d="M579.20,27.30 L576.80,22.90 L581.60,22.90 Z" fill="#e8231e" stroke="none" stroke-width="1"/>
<path d="M591.4 14.8L591.4 23.9" stroke="#e8231e" stroke-width="1.3"/>
<path d="M591.40,27.30 L589.00,22.90 L593.80,22.90 Z" fill="#e8231e" stroke="none" stroke-width="1"/>
<path d="M567.3 56.8L567.3 48.7" stroke="#2a50b0" stroke-width="1.4"/>
<path d="M567.30,45.10 L564.90,49.70 L569.70,49.70 Z" fill="#2a50b0" stroke="none" stroke-width="1"/>
<path d="M607.2 56.8L607.2 48.7" stroke="#2a50b0" stroke-width="1.4"/>
<path d="M607.20,45.10 L604.80,49.70 L609.60,49.70 Z" fill="#2a50b0" stroke="none" stroke-width="1"/>
<path d="M499.8 57.3L499.8 48.7" stroke="#231815" stroke-width="1.2"/>
<path d="M499.80,45.10 L497.40,49.70 L502.20,49.70 Z" fill="#231815" stroke="none" stroke-width="1"/>
<text x="490.70" y="66.92" font-size="7.70" text-anchor="middle" font-weight="bold" fill="#000" stroke="#000" stroke-width="0.1" transform="translate(44.16 0) scale(0.91 1)">Subcutaneous implantation</text>
<text x="489.00" y="75.82" font-size="7.70" text-anchor="middle" font-weight="bold" fill="#000" stroke="#000" stroke-width="0.1" transform="translate(44.01 0) scale(0.91 1)">CT26-hMSLN</text>
<text x="584.40" y="66.62" font-size="7.70" text-anchor="middle" font-weight="bold" fill="#000" stroke="#000" stroke-width="0.1" transform="translate(52.60 0) scale(0.91 1)">DARPin-DC Treatments</text>
<text x="591.00" y="75.02" font-size="7.70" text-anchor="middle" font-weight="bold" fill="#000" stroke="#000" stroke-width="0.1" transform="translate(53.19 0) scale(0.91 1)">(2.5 mg/kg,  i.v.)</text>
<text x="655.50" y="66.62" font-size="7.70" text-anchor="middle" font-weight="bold" fill="#000" stroke="#000" stroke-width="0.1" transform="translate(58.99 0) scale(0.91 1)">End point</text>
<text x="11.00" y="854.78" font-size="10.45" font-weight="bold" fill="#000" stroke="#000" stroke-width="0.1" transform="translate(0.99 0) scale(0.91 1)">p</text>
<g transform="translate(4.10,874.50) scale(1.120 1.0)"><path d="M9,11 L1.8,8.2 M16.5,11 L23.7,8.2" stroke="#cdbcb4" stroke-width="3" fill="none" stroke-linecap="round"/><path d="M9,11 L1.8,8.2 M16.5,11 L23.7,8.2" stroke="#ece6e3" stroke-width="2.2" fill="none" stroke-linecap="round"/><circle cx="1.4" cy="8" r="1.2" fill="#f29a98"/><circle cx="24.1" cy="8" r="1.2" fill="#f29a98"/><path d="M7.5,32 L1.2,34.6 M18,32 L24.5,34.6 M12.6,33 L12.6,39.6" stroke="#f29a98" stroke-width="1.3" fill="none" stroke-linecap="round"/><path d="M8.2,8.5 C6.8,14 6.8,21 5.2,26.5 C4.2,30.5 6,33.2 9,33.6 L16.5,33.6 C19.5,33.2 21.3,30.5 20.3,26.5 C18.7,21 18.7,14 17.3,8.5 Z" fill="#ece6e3" stroke="#cdbcb4" stroke-width="0.6"/><path d="M12.8,0.8 C9.8,1.6 8.2,5 8.2,9.2 L17.3,9.2 C17.3,5 15.8,1.6 12.8,0.8 Z" fill="#ece6e3" stroke="#cdbcb4" stroke-width="0.6"/><circle cx="7.4" cy="6.6" r="1.6" fill="#f29a98" stroke="#cdbcb4" stroke-width="0.4"/><circle cx="18.2" cy="6.6" r="1.6" fill="#f29a98" stroke="#cdbcb4" stroke-width="0.4"/><circle cx="12.8" cy="1.0" r="0.8" fill="#f29a98"/><circle cx="10.8" cy="25.6" r="0.95" fill="#ea5a5a"/><path d="M9.2,31.6 L5.6,40.8" stroke="#8fd0e2" stroke-width="1.7"/><path d="M9.2,31.6 L8.3,34" stroke="#1a9a8a" stroke-width="1.7"/></g>
<text x="41.80" y="888.62" font-size="7.70" font-weight="bold" fill="#000" stroke="#000" stroke-width="0.1" transform="translate(3.76 0) scale(0.91 1)">Day:</text>
<path d="M42.1 895.5L243.5 895.5" stroke="#231815" stroke-width="1.2"/>
<path d="M249.00,895.50 L242.50,892.70 L242.50,898.30 Z" fill="#231815" stroke="none" stroke-width="1"/>
<path d="M67.4 891.5L67.4 895.5" stroke="#231815" stroke-width="1.1"/>
<text x="67.40" y="888.71" font-size="7.70" text-anchor="middle" font-weight="bold" fill="#000" stroke="#000" stroke-width="0.1" transform="translate(6.07 0) scale(0.91 1)">0</text>
<path d="M133.9 891.5L133.9 895.5" stroke="#231815" stroke-width="1.1"/>
<text x="133.90" y="888.71" font-size="7.70" text-anchor="middle" font-weight="bold" fill="#000" stroke="#000" stroke-width="0.1" transform="translate(12.05 0) scale(0.91 1)">7</text>
<path d="M145.5 891.5L145.5 895.5" stroke="#231815" stroke-width="1.1"/>
<text x="145.50" y="888.71" font-size="7.70" text-anchor="middle" font-weight="bold" fill="#000" stroke="#000" stroke-width="0.1" transform="translate(13.09 0) scale(0.91 1)">9</text>
<path d="M157.2 891.5L157.2 895.5" stroke="#231815" stroke-width="1.1"/>
<text x="157.20" y="888.71" font-size="7.70" text-anchor="middle" font-weight="bold" fill="#000" stroke="#000" stroke-width="0.1" transform="translate(14.15 0) scale(0.91 1)">11</text>
<path d="M171.9 891.5L171.9 895.5" stroke="#231815" stroke-width="1.1"/>
<text x="171.90" y="888.71" font-size="7.70" text-anchor="middle" font-weight="bold" fill="#000" stroke="#000" stroke-width="0.1" transform="translate(15.47 0) scale(0.91 1)">14</text>
<path d="M212.1 891.5L212.1 895.5" stroke="#231815" stroke-width="1.1"/>
<text x="212.10" y="888.71" font-size="7.70" text-anchor="middle" font-weight="bold" fill="#000" stroke="#000" stroke-width="0.1" transform="translate(19.09 0) scale(0.91 1)">30</text>
<rect x="119.20" y="851.20" width="55.50" height="14.00" fill="#fff" stroke="#e8231e" stroke-width="1.0"/>
<text x="146.95" y="860.62" font-size="7.70" text-anchor="middle" font-weight="bold" fill="#000" stroke="#000" stroke-width="0.1" transform="translate(13.23 0) scale(0.91 1)">anti-PD-1, i.p.</text>
<path d="M133.9 865.2L133.9 877.6" stroke="#e8231e" stroke-width="1.3"/>
<path d="M133.90,881.00 L131.50,876.60 L136.30,876.60 Z" fill="#e8231e" stroke="none" stroke-width="1"/>
<path d="M145.5 865.2L145.5 877.6" stroke="#e8231e" stroke-width="1.3"/>
<path d="M145.50,881.00 L143.10,876.60 L147.90,876.60 Z" fill="#e8231e" stroke="none" stroke-width="1"/>
<path d="M157.2 865.2L157.2 877.6" stroke="#e8231e" stroke-width="1.3"/>
<path d="M157.20,881.00 L154.80,876.60 L159.60,876.60 Z" fill="#e8231e" stroke="none" stroke-width="1"/>
<path d="M133.9 910.5L133.9 902.4" stroke="#2a50b0" stroke-width="1.4"/>
<path d="M133.90,898.80 L131.50,903.40 L136.30,903.40 Z" fill="#2a50b0" stroke="none" stroke-width="1"/>
<path d="M171.9 910.5L171.9 902.4" stroke="#2a50b0" stroke-width="1.4"/>
<path d="M171.90,898.80 L169.50,903.40 L174.30,903.40 Z" fill="#2a50b0" stroke="none" stroke-width="1"/>
<path d="M67.4 911.0L67.4 902.4" stroke="#231815" stroke-width="1.2"/>
<path d="M67.40,898.80 L65.00,903.40 L69.80,903.40 Z" fill="#231815" stroke="none" stroke-width="1"/>
<text x="69.80" y="920.71" font-size="7.70" text-anchor="middle" font-weight="bold" fill="#000" stroke="#000" stroke-width="0.1" transform="translate(6.28 0) scale(0.91 1)">Subcutaneous implantation</text>
<text x="67.60" y="930.21" font-size="7.70" text-anchor="middle" font-weight="bold" fill="#000" stroke="#000" stroke-width="0.1" transform="translate(6.08 0) scale(0.91 1)">CT26-hMSLN</text>
<text x="153.30" y="920.71" font-size="7.70" text-anchor="middle" font-weight="bold" fill="#000" stroke="#000" stroke-width="0.1" transform="translate(13.80 0) scale(0.91 1)">DARPin-DC</text>
<text x="153.30" y="930.41" font-size="7.70" text-anchor="middle" font-weight="bold" fill="#000" stroke="#000" stroke-width="0.1" transform="translate(13.80 0) scale(0.91 1)">(2.5 mg/kg,  i.v.)</text>
<text x="219.20" y="920.71" font-size="7.70" text-anchor="middle" font-weight="bold" fill="#000" stroke="#000" stroke-width="0.1" transform="translate(19.73 0) scale(0.91 1)">CT26-hMSLN tumor</text>
<text x="219.20" y="930.41" font-size="7.70" text-anchor="middle" font-weight="bold" fill="#000" stroke="#000" stroke-width="0.1" transform="translate(19.73 0) scale(0.91 1)">cells Rechallenge</text>
<text x="454.50" y="95.58" font-size="10.45" font-weight="bold" fill="#000" stroke="#000" stroke-width="0.1" transform="translate(40.90 0) scale(0.91 1)">e</text>
<path d="M502.2 93.6L502.2 200.5" stroke="#000" stroke-width="0.9"/>
<path d="M502.2 200.5L662.6 200.5" stroke="#000" stroke-width="0.9"/>
<path d="M498.2 200.5L502.2 200.5" stroke="#000" stroke-width="0.9"/>
<text x="497.60" y="203.26" font-size="8.80" text-anchor="end" fill="#222" stroke="#222" stroke-width="0.1" transform="translate(44.78 0) scale(0.91 1)">10</text>
<path d="M498.2 173.9L502.2 173.9" stroke="#000" stroke-width="0.9"/>
<text x="497.60" y="176.63" font-size="8.80" text-anchor="end" fill="#222" stroke="#222" stroke-width="0.1" transform="translate(44.78 0) scale(0.91 1)">15</text>
<path d="M498.2 147.2L502.2 147.2" stroke="#000" stroke-width="0.9"/>
<text x="497.60" y="150.01" font-size="8.80" text-anchor="end" fill="#222" stroke="#222" stroke-width="0.1" transform="translate(44.78 0) scale(0.91 1)">20</text>
<path d="M498.2 120.6L502.2 120.6" stroke="#000" stroke-width="0.9"/>
<text x="497.60" y="123.39" font-size="8.80" text-anchor="end" fill="#222" stroke="#222" stroke-width="0.1" transform="translate(44.78 0) scale(0.91 1)">25</text>
<path d="M498.2 94.0L502.2 94.0" stroke="#000" stroke-width="0.9"/>
<text x="497.60" y="96.76" font-size="8.80" text-anchor="end" fill="#222" stroke="#222" stroke-width="0.1" transform="translate(44.78 0) scale(0.91 1)">30</text>
<path d="M511.7 200.5L511.7 202.7" stroke="#000" stroke-width="0.9"/>
<text x="511.70" y="212.76" font-size="8.80" text-anchor="middle" fill="#222" stroke="#222" stroke-width="0.1" transform="translate(46.05 0) scale(0.91 1)">8</text>
<path d="M531.8 200.5L531.8 202.7" stroke="#000" stroke-width="0.9"/>
<text x="531.83" y="212.76" font-size="8.80" text-anchor="middle" fill="#222" stroke="#222" stroke-width="0.1" transform="translate(47.86 0) scale(0.91 1)">10</text>
<path d="M552.0 200.5L552.0 202.7" stroke="#000" stroke-width="0.9"/>
<text x="551.96" y="212.76" font-size="8.80" text-anchor="middle" fill="#222" stroke="#222" stroke-width="0.1" transform="translate(49.68 0) scale(0.91 1)">12</text>
<path d="M572.1 200.5L572.1 202.7" stroke="#000" stroke-width="0.9"/>
<text x="572.09" y="212.76" font-size="8.80" text-anchor="middle" fill="#222" stroke="#222" stroke-width="0.1" transform="translate(51.49 0) scale(0.91 1)">14</text>
<path d="M592.2 200.5L592.2 202.7" stroke="#000" stroke-width="0.9"/>
<text x="592.22" y="212.76" font-size="8.80" text-anchor="middle" fill="#222" stroke="#222" stroke-width="0.1" transform="translate(53.30 0) scale(0.91 1)">16</text>
<path d="M612.4 200.5L612.4 202.7" stroke="#000" stroke-width="0.9"/>
<text x="612.35" y="212.76" font-size="8.80" text-anchor="middle" fill="#222" stroke="#222" stroke-width="0.1" transform="translate(55.11 0) scale(0.91 1)">18</text>
<path d="M632.5 200.5L632.5 202.7" stroke="#000" stroke-width="0.9"/>
<text x="632.48" y="212.76" font-size="8.80" text-anchor="middle" fill="#222" stroke="#222" stroke-width="0.1" transform="translate(56.92 0) scale(0.91 1)">20</text>
<path d="M652.6 200.5L652.6 202.7" stroke="#000" stroke-width="0.9"/>
<text x="652.61" y="212.76" font-size="8.80" text-anchor="middle" fill="#222" stroke="#222" stroke-width="0.1" transform="translate(58.73 0) scale(0.91 1)">22</text>
<text x="582.20" y="222.39" font-size="8.91" text-anchor="middle" fill="#222" stroke="#222" stroke-width="0.1" transform="translate(52.40 0) scale(0.91 1)">Days post tumor inoculation</text>
<text x="479.60" y="151.26" font-size="8.80" text-anchor="middle" fill="#222" transform="rotate(-90 479.60 148.50) translate(479.60 0) scale(0.91 1) translate(-479.60 0)" stroke="#222" stroke-width="0.1">Body weight (g)</text>
<path d="M511.70,161.10 L531.83,160.56 L551.96,161.10 L572.09,159.50 L592.22,156.30 L612.35,155.24 L632.48,155.24 L652.61,154.97" fill="none" stroke="#b526f0" stroke-width="0.9"/>
<path d="M511.70,163.60 L509.20,159.20 L514.20,159.20 Z" fill="#b526f0" stroke="none" stroke-width="1"/>
<path d="M531.83,163.06 L529.33,158.66 L534.33,158.66 Z" fill="#b526f0" stroke="none" stroke-width="1"/>
<path d="M551.96,163.60 L549.46,159.20 L554.46,159.20 Z" fill="#b526f0" stroke="none" stroke-width="1"/>
<path d="M572.09,162.00 L569.59,157.60 L574.59,157.60 Z" fill="#b526f0" stroke="none" stroke-width="1"/>
<path d="M592.22,158.80 L589.72,154.40 L594.72,154.40 Z" fill="#b526f0" stroke="none" stroke-width="1"/>
<path d="M612.35,157.74 L609.85,153.34 L614.85,153.34 Z" fill="#b526f0" stroke="none" stroke-width="1"/>
<path d="M632.48,157.74 L629.98,153.34 L634.98,153.34 Z" fill="#b526f0" stroke="none" stroke-width="1"/>
<path d="M652.61,157.47 L650.11,153.07 L655.11,153.07 Z" fill="#b526f0" stroke="none" stroke-width="1"/>
<path d="M511.70,161.63 L531.83,159.23 L551.96,161.63 L572.09,158.43 L592.22,153.11 L612.35,149.91 L632.48,150.71 L652.61,152.04" fill="none" stroke="#1ec21e" stroke-width="0.9"/>
<path d="M511.70,159.00 L509.07,163.62 L514.33,163.62 Z" fill="#1ec21e" stroke="none" stroke-width="1"/>
<path d="M531.83,156.61 L529.21,161.23 L534.46,161.23 Z" fill="#1ec21e" stroke="none" stroke-width="1"/>
<path d="M551.96,159.00 L549.34,163.62 L554.59,163.62 Z" fill="#1ec21e" stroke="none" stroke-width="1"/>
<path d="M572.09,155.81 L569.47,160.43 L574.72,160.43 Z" fill="#1ec21e" stroke="none" stroke-width="1"/>
<path d="M592.22,150.48 L589.60,155.10 L594.85,155.10 Z" fill="#1ec21e" stroke="none" stroke-width="1"/>
<path d="M612.35,147.29 L609.73,151.91 L614.98,151.91 Z" fill="#1ec21e" stroke="none" stroke-width="1"/>
<path d="M632.48,148.09 L629.86,152.71 L635.11,152.71 Z" fill="#1ec21e" stroke="none" stroke-width="1"/>
<path d="M652.61,149.42 L649.99,154.04 L655.24,154.04 Z" fill="#1ec21e" stroke="none" stroke-width="1"/>
<path d="M511.70,158.06 L531.83,155.77 L551.96,155.24 L572.09,150.98 L592.22,148.31 L612.35,145.87 L632.48,145.12 L652.61,145.12" fill="none" stroke="#ff1a1a" stroke-width="0.9"/>
<rect x="509.60" y="155.96" width="4.20" height="4.20" fill="#ff1a1a" stroke="none" stroke-width="1"/>
<rect x="529.73" y="153.67" width="4.20" height="4.20" fill="#ff1a1a" stroke="none" stroke-width="1"/>
<rect x="549.86" y="153.14" width="4.20" height="4.20" fill="#ff1a1a" stroke="none" stroke-width="1"/>
<rect x="569.99" y="148.88" width="4.20" height="4.20" fill="#ff1a1a" stroke="none" stroke-width="1"/>
<rect x="590.12" y="146.22" width="4.20" height="4.20" fill="#ff1a1a" stroke="none" stroke-width="1"/>
<rect x="610.25" y="143.77" width="4.20" height="4.20" fill="#ff1a1a" stroke="none" stroke-width="1"/>
<rect x="630.38" y="143.02" width="4.20" height="4.20" fill="#ff1a1a" stroke="none" stroke-width="1"/>
<rect x="650.51" y="143.02" width="4.20" height="4.20" fill="#ff1a1a" stroke="none" stroke-width="1"/>
<path d="M511.70,155.24 L531.83,153.91 L551.96,154.44 L572.09,149.17 L592.22,146.45 L612.35,143.79" fill="none" stroke="#1a1aff" stroke-width="0.9"/>
<circle cx="511.70" cy="155.24" r="2.30" fill="#1a1aff" stroke="none" stroke-width="1"/>
<circle cx="531.83" cy="153.91" r="2.30" fill="#1a1aff" stroke="none" stroke-width="1"/>
<circle cx="551.96" cy="154.44" r="2.30" fill="#1a1aff" stroke="none" stroke-width="1"/>
<circle cx="572.09" cy="149.17" r="2.30" fill="#1a1aff" stroke="none" stroke-width="1"/>
<circle cx="592.22" cy="146.45" r="2.30" fill="#1a1aff" stroke="none" stroke-width="1"/>
<circle cx="612.35" cy="143.79" r="2.30" fill="#1a1aff" stroke="none" stroke-width="1"/>
<path d="M506.4 94.8L516.9 94.8" stroke="#1a1aff" stroke-width="0.9"/>
<circle cx="511.70" cy="94.80" r="2.20" fill="#1a1aff" stroke="none" stroke-width="1"/>
<text x="523.60" y="97.59" font-size="8.91" fill="#000" stroke="#000" stroke-width="0.1" transform="translate(47.12 0) scale(0.91 1)">NS</text>
<path d="M506.4 109.4L516.9 109.4" stroke="#ff1a1a" stroke-width="0.9"/>
<rect x="509.50" y="107.20" width="4.40" height="4.40" fill="#ff1a1a" stroke="none" stroke-width="1"/>
<text x="523.60" y="112.19" font-size="8.91" fill="#000" stroke="#000" stroke-width="0.1" transform="translate(47.12 0) scale(0.91 1)">Anti-PD-1</text>
<path d="M506.4 123.3L516.9 123.3" stroke="#1ec21e" stroke-width="0.9"/>
<path d="M511.70,120.55 L508.95,125.39 L514.45,125.39 Z" fill="#1ec21e" stroke="none" stroke-width="1"/>
<text x="523.60" y="126.09" font-size="8.91" fill="#000" stroke="#000" stroke-width="0.1" transform="translate(47.12 0) scale(0.91 1)">M7GA-DC</text>
<path d="M506.4 137.3L516.9 137.3" stroke="#b526f0" stroke-width="0.9"/>
<path d="M511.70,140.05 L508.95,135.21 L514.45,135.21 Z" fill="#b526f0" stroke="none" stroke-width="1"/>
<text x="523.60" y="140.09" font-size="8.91" fill="#000" stroke="#000" stroke-width="0.1" transform="translate(47.12 0) scale(0.91 1)">M7GA-DC+Anti-PD-1</text>
<path d="M603.4 94.6L603.4 139.3" stroke="#333" stroke-width="0.8"/>
<text x="607.80" y="119.62" font-size="8.36" text-anchor="middle" fill="#000" transform="rotate(90 607.80 117.00) translate(607.80 0) scale(0.91 1) translate(-607.80 0)" stroke="#000" stroke-width="0.1">ns</text>
<text x="7.80" y="230.78" font-size="10.45" font-weight="bold" fill="#000" stroke="#000" stroke-width="0.1" transform="translate(0.70 0) scale(0.91 1)">f</text>
<path d="M41.4 231.0L41.4 360.4" stroke="#000" stroke-width="0.9"/>
<path d="M41.4 360.4L235.9 360.4" stroke="#000" stroke-width="0.9"/>
<path d="M36.4 360.4L41.4 360.4" stroke="#000" stroke-width="0.9"/>
<text x="35.80" y="362.95" font-size="8.14" text-anchor="end" fill="#222" letter-spacing="-0.2" stroke="#222" stroke-width="0.1" transform="translate(3.22 0) scale(0.91 1)">0</text>
<path d="M36.4 328.1L41.4 328.1" stroke="#000" stroke-width="0.9"/>
<text x="35.80" y="330.70" font-size="8.14" text-anchor="end" fill="#222" letter-spacing="-0.2" stroke="#222" stroke-width="0.1" transform="translate(3.22 0) scale(0.91 1)">400</text>
<path d="M36.4 295.9L41.4 295.9" stroke="#000" stroke-width="0.9"/>
<text x="35.80" y="298.45" font-size="8.14" text-anchor="end" fill="#222" letter-spacing="-0.2" stroke="#222" stroke-width="0.1" transform="translate(3.22 0) scale(0.91 1)">800</text>
<path d="M36.4 263.6L41.4 263.6" stroke="#000" stroke-width="0.9"/>
<text x="35.80" y="266.20" font-size="8.14" text-anchor="end" fill="#222" letter-spacing="-0.2" stroke="#222" stroke-width="0.1" transform="translate(3.22 0) scale(0.91 1)">1200</text>
<path d="M36.4 231.4L41.4 231.4" stroke="#000" stroke-width="0.9"/>
<text x="35.80" y="233.95" font-size="8.14" text-anchor="end" fill="#222" letter-spacing="-0.2" stroke="#222" stroke-width="0.1" transform="translate(3.22 0) scale(0.91 1)">1600</text>
<path d="M52.2 360.4L52.2 363.6" stroke="#000" stroke-width="0.9"/>
<text x="52.20" y="373.66" font-size="8.80" text-anchor="middle" fill="#222" stroke="#222" stroke-width="0.1" transform="translate(4.70 0) scale(0.91 1)">0</text>
<path d="M73.7 360.4L73.7 363.6" stroke="#000" stroke-width="0.9"/>
<text x="73.72" y="373.66" font-size="8.80" text-anchor="middle" fill="#222" stroke="#222" stroke-width="0.1" transform="translate(6.63 0) scale(0.91 1)">8</text>
<path d="M95.2 360.4L95.2 363.6" stroke="#000" stroke-width="0.9"/>
<text x="95.24" y="373.66" font-size="8.80" text-anchor="middle" fill="#222" stroke="#222" stroke-width="0.1" transform="translate(8.57 0) scale(0.91 1)">10</text>
<path d="M116.8 360.4L116.8 363.6" stroke="#000" stroke-width="0.9"/>
<text x="116.76" y="373.66" font-size="8.80" text-anchor="middle" fill="#222" stroke="#222" stroke-width="0.1" transform="translate(10.51 0) scale(0.91 1)">12</text>
<path d="M138.3 360.4L138.3 363.6" stroke="#000" stroke-width="0.9"/>
<text x="138.28" y="373.66" font-size="8.80" text-anchor="middle" fill="#222" stroke="#222" stroke-width="0.1" transform="translate(12.45 0) scale(0.91 1)">14</text>
<path d="M159.8 360.4L159.8 363.6" stroke="#000" stroke-width="0.9"/>
<text x="159.80" y="373.66" font-size="8.80" text-anchor="middle" fill="#222" stroke="#222" stroke-width="0.1" transform="translate(14.38 0) scale(0.91 1)">16</text>
<path d="M181.3 360.4L181.3 363.6" stroke="#000" stroke-width="0.9"/>
<text x="181.32" y="373.66" font-size="8.80" text-anchor="middle" fill="#222" stroke="#222" stroke-width="0.1" transform="translate(16.32 0) scale(0.91 1)">18</text>
<path d="M202.8 360.4L202.8 363.6" stroke="#000" stroke-width="0.9"/>
<text x="202.84" y="373.66" font-size="8.80" text-anchor="middle" fill="#222" stroke="#222" stroke-width="0.1" transform="translate(18.26 0) scale(0.91 1)">20</text>
<path d="M224.4 360.4L224.4 363.6" stroke="#000" stroke-width="0.9"/>
<text x="224.36" y="373.66" font-size="8.80" text-anchor="middle" fill="#222" stroke="#222" stroke-width="0.1" transform="translate(20.19 0) scale(0.91 1)">22</text>
<text x="138.50" y="382.36" font-size="8.80" text-anchor="middle" fill="#222" stroke="#222" stroke-width="0.1" transform="translate(12.46 0) scale(0.91 1)">Days post tumor graft</text>
<text transform="translate(18.8,297.5) rotate(-90) scale(0.91 1)" font-size="8.80" text-anchor="middle" fill="#222" stroke="#222" stroke-width="0.1">Tumor volume (mm<tspan font-size="5.50" dy="-3.08">3</tspan><tspan dy="3.08">)</tspan></text>
<path d="M52.20,360.40 L73.72,351.13 L95.24,351.53 L116.76,351.21 L138.28,351.21 L159.80,353.55 L181.32,354.03 L202.84,354.03 L224.36,354.92" fill="none" stroke="#b526f0" stroke-width="0.9"/>
<path d="M52.20,363.52 L49.08,358.02 L55.33,358.02 Z" fill="#b526f0" stroke="none" stroke-width="1"/>
<path d="M73.72,354.25 L70.59,348.75 L76.84,348.75 Z" fill="#b526f0" stroke="none" stroke-width="1"/>
<path d="M95.24,354.66 L92.12,349.16 L98.37,349.16 Z" fill="#b526f0" stroke="none" stroke-width="1"/>
<path d="M116.76,354.33 L113.64,348.83 L119.89,348.83 Z" fill="#b526f0" stroke="none" stroke-width="1"/>
<path d="M138.28,354.33 L135.16,348.83 L141.41,348.83 Z" fill="#b526f0" stroke="none" stroke-width="1"/>
<path d="M159.80,356.67 L156.68,351.17 L162.93,351.17 Z" fill="#b526f0" stroke="none" stroke-width="1"/>
<path d="M181.32,357.16 L178.19,351.66 L184.44,351.66 Z" fill="#b526f0" stroke="none" stroke-width="1"/>
<path d="M202.84,357.16 L199.71,351.66 L205.96,351.66 Z" fill="#b526f0" stroke="none" stroke-width="1"/>
<path d="M224.36,358.04 L221.24,352.54 L227.49,352.54 Z" fill="#b526f0" stroke="none" stroke-width="1"/>
<path d="M52.20,360.40 L73.72,350.72 L95.24,352.34 L116.76,348.79 L138.28,347.66 L159.80,343.95 L181.32,336.94 L202.84,334.44 L224.36,330.97" fill="none" stroke="#1ec21e" stroke-width="0.9"/>
<path d="M181.3 332.5L181.3 341.4" stroke="#1ec21e" stroke-width="0.8"/>
<path d="M179.3 332.5L183.3 332.5" stroke="#1ec21e" stroke-width="0.8"/>
<path d="M179.3 341.4L183.3 341.4" stroke="#1ec21e" stroke-width="0.8"/>
<path d="M202.8 330.0L202.8 338.9" stroke="#1ec21e" stroke-width="0.8"/>
<path d="M200.8 330.0L204.8 330.0" stroke="#1ec21e" stroke-width="0.8"/>
<path d="M200.8 338.9L204.8 338.9" stroke="#1ec21e" stroke-width="0.8"/>
<path d="M224.4 325.7L224.4 336.2" stroke="#1ec21e" stroke-width="0.8"/>
<path d="M222.4 325.7L226.4 325.7" stroke="#1ec21e" stroke-width="0.8"/>
<path d="M222.4 336.2L226.4 336.2" stroke="#1ec21e" stroke-width="0.8"/>
<path d="M52.20,357.15 L48.95,362.87 L55.45,362.87 Z" fill="#1ec21e" stroke="none" stroke-width="1"/>
<path d="M73.72,347.47 L70.47,353.19 L76.97,353.19 Z" fill="#1ec21e" stroke="none" stroke-width="1"/>
<path d="M95.24,349.09 L91.99,354.81 L98.49,354.81 Z" fill="#1ec21e" stroke="none" stroke-width="1"/>
<path d="M116.76,345.54 L113.51,351.26 L120.01,351.26 Z" fill="#1ec21e" stroke="none" stroke-width="1"/>
<path d="M138.28,344.41 L135.03,350.13 L141.53,350.13 Z" fill="#1ec21e" stroke="none" stroke-width="1"/>
<path d="M159.80,340.70 L156.55,346.42 L163.05,346.42 Z" fill="#1ec21e" stroke="none" stroke-width="1"/>
<path d="M181.32,333.69 L178.07,339.41 L184.57,339.41 Z" fill="#1ec21e" stroke="none" stroke-width="1"/>
<path d="M202.84,331.19 L199.59,336.91 L206.09,336.91 Z" fill="#1ec21e" stroke="none" stroke-width="1"/>
<path d="M224.36,327.72 L221.11,333.44 L227.61,333.44 Z" fill="#1ec21e" stroke="none" stroke-width="1"/>
<path d="M52.20,360.40 L73.72,348.31 L95.24,345.89 L116.76,336.53 L138.28,326.30 L159.80,294.61 L181.32,270.02 L202.84,264.62 L224.36,249.62" fill="none" stroke="#ff1a1a" stroke-width="0.9"/>
<path d="M159.8 291.4L159.8 297.8" stroke="#ff1a1a" stroke-width="0.8"/>
<path d="M157.8 291.4L161.8 291.4" stroke="#ff1a1a" stroke-width="0.8"/>
<path d="M157.8 297.8L161.8 297.8" stroke="#ff1a1a" stroke-width="0.8"/>
<path d="M181.3 261.2L181.3 278.9" stroke="#ff1a1a" stroke-width="0.8"/>
<path d="M179.3 261.2L183.3 261.2" stroke="#ff1a1a" stroke-width="0.8"/>
<path d="M179.3 278.9L183.3 278.9" stroke="#ff1a1a" stroke-width="0.8"/>
<path d="M202.8 255.7L202.8 273.5" stroke="#ff1a1a" stroke-width="0.8"/>
<path d="M200.8 255.7L204.8 255.7" stroke="#ff1a1a" stroke-width="0.8"/>
<path d="M200.8 273.5L204.8 273.5" stroke="#ff1a1a" stroke-width="0.8"/>
<path d="M224.4 240.8L224.4 258.5" stroke="#ff1a1a" stroke-width="0.8"/>
<path d="M222.4 240.8L226.4 240.8" stroke="#ff1a1a" stroke-width="0.8"/>
<path d="M222.4 258.5L226.4 258.5" stroke="#ff1a1a" stroke-width="0.8"/>
<rect x="49.55" y="357.75" width="5.30" height="5.30" fill="#ff1a1a" stroke="none" stroke-width="1"/>
<rect x="71.07" y="345.66" width="5.30" height="5.30" fill="#ff1a1a" stroke="none" stroke-width="1"/>
<rect x="92.59" y="343.24" width="5.30" height="5.30" fill="#ff1a1a" stroke="none" stroke-width="1"/>
<rect x="114.11" y="333.88" width="5.30" height="5.30" fill="#ff1a1a" stroke="none" stroke-width="1"/>
<rect x="135.63" y="323.65" width="5.30" height="5.30" fill="#ff1a1a" stroke="none" stroke-width="1"/>
<rect x="157.15" y="291.96" width="5.30" height="5.30" fill="#ff1a1a" stroke="none" stroke-width="1"/>
<rect x="178.67" y="267.37" width="5.30" height="5.30" fill="#ff1a1a" stroke="none" stroke-width="1"/>
<rect x="200.19" y="261.97" width="5.30" height="5.30" fill="#ff1a1a" stroke="none" stroke-width="1"/>
<rect x="221.71" y="246.97" width="5.30" height="5.30" fill="#ff1a1a" stroke="none" stroke-width="1"/>
<path d="M52.20,360.40 L73.72,349.60 L95.24,341.53 L116.76,328.63 L138.28,310.98 L159.80,278.73 L181.32,240.83" fill="none" stroke="#1a1aff" stroke-width="0.9"/>
<path d="M138.3 306.9L138.3 315.0" stroke="#1a1aff" stroke-width="0.8"/>
<path d="M136.3 306.9L140.3 306.9" stroke="#1a1aff" stroke-width="0.8"/>
<path d="M136.3 315.0L140.3 315.0" stroke="#1a1aff" stroke-width="0.8"/>
<path d="M159.8 271.1L159.8 286.4" stroke="#1a1aff" stroke-width="0.8"/>
<path d="M157.8 271.1L161.8 271.1" stroke="#1a1aff" stroke-width="0.8"/>
<path d="M157.8 286.4L161.8 286.4" stroke="#1a1aff" stroke-width="0.8"/>
<path d="M181.3 233.2L181.3 248.5" stroke="#1a1aff" stroke-width="0.8"/>
<path d="M179.3 233.2L183.3 233.2" stroke="#1a1aff" stroke-width="0.8"/>
<path d="M179.3 248.5L183.3 248.5" stroke="#1a1aff" stroke-width="0.8"/>
<circle cx="52.20" cy="360.40" r="2.85" fill="#1a1aff" stroke="none" stroke-width="1"/>
<circle cx="73.72" cy="349.60" r="2.85" fill="#1a1aff" stroke="none" stroke-width="1"/>
<circle cx="95.24" cy="341.53" r="2.85" fill="#1a1aff" stroke="none" stroke-width="1"/>
<circle cx="116.76" cy="328.63" r="2.85" fill="#1a1aff" stroke="none" stroke-width="1"/>
<circle cx="138.28" cy="310.98" r="2.85" fill="#1a1aff" stroke="none" stroke-width="1"/>
<circle cx="159.80" cy="278.73" r="2.85" fill="#1a1aff" stroke="none" stroke-width="1"/>
<circle cx="181.32" cy="240.83" r="2.85" fill="#1a1aff" stroke="none" stroke-width="1"/>
<path d="M44.6 233.7L57.8 233.7" stroke="#1a1aff" stroke-width="0.9"/>
<circle cx="51.20" cy="233.70" r="2.75" fill="#1a1aff" stroke="none" stroke-width="1"/>
<text x="59.80" y="236.46" font-size="8.80" fill="#000" stroke="#000" stroke-width="0.1" transform="translate(5.38 0) scale(0.91 1)">NS</text>
<path d="M44.6 248.5L57.8 248.5" stroke="#ff1a1a" stroke-width="0.9"/>
<rect x="48.45" y="245.75" width="5.50" height="5.50" fill="#ff1a1a" stroke="none" stroke-width="1"/>
<text x="59.80" y="251.26" font-size="8.80" fill="#000" stroke="#000" stroke-width="0.1" transform="translate(5.38 0) scale(0.91 1)">Anti-PD-1</text>
<path d="M44.6 263.6L57.8 263.6" stroke="#1ec21e" stroke-width="0.9"/>
<path d="M51.20,260.16 L47.76,266.21 L54.64,266.21 Z" fill="#1ec21e" stroke="none" stroke-width="1"/>
<text x="59.80" y="266.36" font-size="8.80" fill="#000" stroke="#000" stroke-width="0.1" transform="translate(5.38 0) scale(0.91 1)">M7GA-DC</text>
<path d="M44.6 277.9L57.8 277.9" stroke="#b526f0" stroke-width="0.9"/>
<path d="M51.20,281.34 L47.76,275.29 L54.64,275.29 Z" fill="#b526f0" stroke="none" stroke-width="1"/>
<text x="59.80" y="280.66" font-size="8.80" fill="#000" stroke="#000" stroke-width="0.1" transform="translate(5.38 0) scale(0.91 1)">M7GA-DC+Anti-PD-1</text>
<path d="M100.6 231.4L100.6 264.6" stroke="#333" stroke-width="0.8"/>
<text x="105.40" y="250.62" font-size="8.36" text-anchor="middle" fill="#000" transform="rotate(90 105.40 248.00) translate(105.40 0) scale(0.91 1) translate(-105.40 0)" stroke="#000" stroke-width="0.1">p=0.0004</text>
<path d="M137.4 261.9L137.4 281.3" stroke="#333" stroke-width="0.8"/>
<text x="142.40" y="274.22" font-size="8.36" text-anchor="middle" fill="#000" transform="rotate(90 142.40 271.60) translate(142.40 0) scale(0.91 1) translate(-142.40 0)" stroke="#000" stroke-width="0.1">p=0.0105</text>
<path d="M150.7 232.3L150.7 278.2" stroke="#333" stroke-width="0.8"/>
<text x="155.60" y="253.32" font-size="8.36" text-anchor="middle" fill="#000" transform="rotate(90 155.60 250.70) translate(155.60 0) scale(0.91 1) translate(-155.60 0)" stroke="#000" stroke-width="0.1">p=0.0003</text>
<text x="259.80" y="236.78" font-size="10.45" font-weight="bold" fill="#000" stroke="#000" stroke-width="0.1" transform="translate(23.38 0) scale(0.91 1)">g</text>
<g filter="url(#soft)"><rect x="299.8" y="246.5" width="185.80" height="123.10" fill="url(#gbg)"/><rect x="299.8" y="232.8" width="185.80" height="13.5" fill="#f7f4ea"/><rect x="299.8" y="246.0" width="185.80" height="1.3" fill="#a9b0b4"/><path d="M300.2 246v-3.2M301.2 246v-2.0M302.2 246v-2.0M303.3 246v-2.0M304.3 246v-2.0M305.3 246v-3.2M306.3 246v-2.0M307.3 246v-2.0M308.4 246v-2.0M309.4 246v-2.0M310.4 246v-3.2M311.4 246v-2.0M312.4 246v-2.0M313.5 246v-2.0M314.5 246v-2.0M315.5 246v-3.2M316.5 246v-2.0M317.5 246v-2.0M318.6 246v-2.0M319.6 246v-2.0M320.6 246v-3.2M321.6 246v-2.0M322.6 246v-2.0M323.7 246v-2.0M324.7 246v-2.0M325.7 246v-3.2M326.7 246v-2.0M327.7 246v-2.0M328.8 246v-2.0M329.8 246v-2.0M330.8 246v-3.2M331.8 246v-2.0M332.8 246v-2.0M333.9 246v-2.0M334.9 246v-2.0M335.9 246v-3.2M336.9 246v-2.0M337.9 246v-2.0M339.0 246v-2.0M340.0 246v-2.0M341.0 246v-3.2M342.0 246v-2.0M343.0 246v-2.0M344.1 246v-2.0M345.1 246v-2.0M346.1 246v-3.2M347.1 246v-2.0M348.1 246v-2.0M349.2 246v-2.0M350.2 246v-2.0M351.2 246v-3.2M352.2 246v-2.0M353.2 246v-2.0M354.3 246v-2.0M355.3 246v-2.0M356.3 246v-3.2M357.3 246v-2.0M358.3 246v-2.0M359.4 246v-2.0M360.4 246v-2.0M361.4 246v-3.2M362.4 246v-2.0M363.4 246v-2.0M364.5 246v-2.0M365.5 246v-2.0M366.5 246v-3.2M367.5 246v-2.0M368.5 246v-2.0M369.6 246v-2.0M370.6 246v-2.0M371.6 246v-3.2M372.6 246v-2.0M373.6 246v-2.0M374.7 246v-2.0M375.7 246v-2.0M376.7 246v-3.2M377.7 246v-2.0M378.7 246v-2.0M379.8 246v-2.0M380.8 246v-2.0M381.8 246v-3.2M382.8 246v-2.0M383.8 246v-2.0M384.9 246v-2.0M385.9 246v-2.0M386.9 246v-3.2M387.9 246v-2.0M388.9 246v-2.0M390.0 246v-2.0M391.0 246v-2.0M392.0 246v-3.2M393.0 246v-2.0M394.0 246v-2.0M395.1 246v-2.0M396.1 246v-2.0M397.1 246v-3.2M398.1 246v-2.0M399.1 246v-2.0M400.2 246v-2.0M401.2 246v-2.0M402.2 246v-3.2M403.2 246v-2.0M404.2 246v-2.0M405.3 246v-2.0M406.3 246v-2.0M407.3 246v-3.2M408.3 246v-2.0M409.3 246v-2.0M410.4 246v-2.0M411.4 246v-2.0M412.4 246v-3.2M413.4 246v-2.0M414.4 246v-2.0M415.5 246v-2.0M416.5 246v-2.0M417.5 246v-3.2M418.5 246v-2.0M419.5 246v-2.0M420.6 246v-2.0M421.6 246v-2.0M422.6 246v-3.2M423.6 246v-2.0M424.6 246v-2.0M425.7 246v-2.0M426.7 246v-2.0M427.7 246v-3.2M428.7 246v-2.0M429.7 246v-2.0M430.8 246v-2.0M431.8 246v-2.0M432.8 246v-3.2M433.8 246v-2.0M434.8 246v-2.0M435.9 246v-2.0M436.9 246v-2.0M437.9 246v-3.2M438.9 246v-2.0M439.9 246v-2.0M441.0 246v-2.0M442.0 246v-2.0M443.0 246v-3.2M444.0 246v-2.0M445.0 246v-2.0M446.1 246v-2.0M447.1 246v-2.0M448.1 246v-3.2M449.1 246v-2.0M450.1 246v-2.0M451.2 246v-2.0M452.2 246v-2.0M453.2 246v-3.2M454.2 246v-2.0M455.2 246v-2.0M456.3 246v-2.0M457.3 246v-2.0M458.3 246v-3.2M459.3 246v-2.0M460.3 246v-2.0M461.4 246v-2.0M462.4 246v-2.0M463.4 246v-3.2M464.4 246v-2.0M465.4 246v-2.0M466.5 246v-2.0M467.5 246v-2.0M468.5 246v-3.2M469.5 246v-2.0M470.5 246v-2.0M471.6 246v-2.0M472.6 246v-2.0M473.6 246v-3.2M474.6 246v-2.0M475.6 246v-2.0M476.7 246v-2.0M477.7 246v-2.0M478.7 246v-3.2M479.7 246v-2.0M480.7 246v-2.0M481.8 246v-2.0M482.8 246v-2.0M483.8 246v-3.2M484.8 246v-2.0" stroke="#c9c0ae" stroke-width="0.35"/></g>
<text x="300.20" y="239.73" font-size="6.16" text-anchor="middle" fill="#9a9282" stroke="#9a9282" stroke-width="0.1" transform="translate(27.02 0) scale(0.91 1)">1</text>
<text x="310.40" y="239.73" font-size="6.16" text-anchor="middle" fill="#9a9282" stroke="#9a9282" stroke-width="0.1" transform="translate(27.94 0) scale(0.91 1)">2</text>
<text x="320.70" y="239.73" font-size="6.16" text-anchor="middle" fill="#9a9282" stroke="#9a9282" stroke-width="0.1" transform="translate(28.86 0) scale(0.91 1)">3</text>
<text x="330.80" y="239.73" font-size="6.16" text-anchor="middle" fill="#9a9282" stroke="#9a9282" stroke-width="0.1" transform="translate(29.77 0) scale(0.91 1)">4</text>
<text x="340.90" y="240.08" font-size="7.26" text-anchor="middle" fill="#c8604c" stroke="#c8604c" stroke-width="0.1" transform="translate(30.68 0) scale(0.91 1)">5</text>
<text x="351.30" y="239.73" font-size="6.16" text-anchor="middle" fill="#9a9282" stroke="#9a9282" stroke-width="0.1" transform="translate(31.62 0) scale(0.91 1)">6</text>
<text x="361.70" y="239.73" font-size="6.16" text-anchor="middle" fill="#9a9282" stroke="#9a9282" stroke-width="0.1" transform="translate(32.55 0) scale(0.91 1)">7</text>
<text x="371.60" y="239.73" font-size="6.16" text-anchor="middle" fill="#9a9282" stroke="#9a9282" stroke-width="0.1" transform="translate(33.44 0) scale(0.91 1)">8</text>
<text x="381.40" y="239.73" font-size="6.16" text-anchor="middle" fill="#9a9282" stroke="#9a9282" stroke-width="0.1" transform="translate(34.33 0) scale(0.91 1)">9</text>
<text x="391.90" y="240.08" font-size="7.26" text-anchor="middle" fill="#c8604c" stroke="#c8604c" stroke-width="0.1" transform="translate(35.27 0) scale(0.91 1)">10</text>
<text x="401.40" y="239.73" font-size="6.16" text-anchor="middle" fill="#9a9282" stroke="#9a9282" stroke-width="0.1" transform="translate(36.13 0) scale(0.91 1)">1</text>
<text x="410.90" y="239.73" font-size="6.16" text-anchor="middle" fill="#9a9282" stroke="#9a9282" stroke-width="0.1" transform="translate(36.98 0) scale(0.91 1)">2</text>
<text x="420.70" y="239.73" font-size="6.16" text-anchor="middle" fill="#9a9282" stroke="#9a9282" stroke-width="0.1" transform="translate(37.86 0) scale(0.91 1)">3</text>
<text x="430.60" y="239.73" font-size="6.16" text-anchor="middle" fill="#9a9282" stroke="#9a9282" stroke-width="0.1" transform="translate(38.75 0) scale(0.91 1)">4</text>
<text x="440.70" y="240.08" font-size="7.26" text-anchor="middle" fill="#c8604c" stroke="#c8604c" stroke-width="0.1" transform="translate(39.66 0) scale(0.91 1)">5</text>
<text x="449.60" y="239.73" font-size="6.16" text-anchor="middle" fill="#9a9282" stroke="#9a9282" stroke-width="0.1" transform="translate(40.46 0) scale(0.91 1)">6</text>
<text x="458.70" y="239.73" font-size="6.16" text-anchor="middle" fill="#9a9282" stroke="#9a9282" stroke-width="0.1" transform="translate(41.28 0) scale(0.91 1)">7</text>
<text x="468.20" y="239.73" font-size="6.16" text-anchor="middle" fill="#9a9282" stroke="#9a9282" stroke-width="0.1" transform="translate(42.14 0) scale(0.91 1)">8</text>
<text x="477.70" y="239.73" font-size="6.16" text-anchor="middle" fill="#9a9282" stroke="#9a9282" stroke-width="0.1" transform="translate(42.99 0) scale(0.91 1)">9</text>
<text x="484.00" y="239.73" font-size="6.16" text-anchor="middle" fill="#c8604c" stroke="#c8604c" stroke-width="0.1" transform="translate(43.56 0) scale(0.91 1)">2</text>
<g filter="url(#soft)"><g><path d="M321.1,268.2C321.0,269.4 320.6,271.5 320.1,272.7C319.6,273.9 318.9,274.9 318.2,275.6C317.6,276.2 316.9,276.6 316.0,276.5C315.2,276.4 313.9,275.9 313.2,275.1C312.5,274.3 312.1,272.9 311.6,271.5C311.2,270.0 310.3,267.7 310.5,266.4C310.6,265.1 311.5,264.7 312.4,263.6C313.2,262.6 314.5,260.3 315.5,260.0C316.5,259.7 317.6,260.8 318.4,261.7C319.2,262.7 320.1,264.6 320.5,265.7C321.0,266.8 321.1,267.1 321.1,268.2Z" fill="url(#tum)"/><path d="M329.9,268.6C329.8,269.9 329.5,270.0 329.1,271.2C328.6,272.3 328.0,274.8 327.2,275.6C326.3,276.5 325.0,276.5 323.8,276.2C322.6,275.9 320.9,274.7 320.0,273.6C319.2,272.6 319.1,270.9 318.8,269.8C318.6,268.6 318.2,268.0 318.5,266.6C318.7,265.2 319.7,262.5 320.4,261.4C321.2,260.2 321.9,259.6 322.9,259.5C323.9,259.4 325.3,259.9 326.4,260.6C327.6,261.3 329.2,262.4 329.8,263.8C330.3,265.1 330.0,267.4 329.9,268.6Z" fill="url(#tum)"/><circle cx="320.7" cy="271.2" r="1.3" fill="#c8604e" opacity="0.6"/><circle cx="320.4" cy="266.7" r="1.8" fill="#f0c2b0" opacity="0.6"/><circle cx="319.6" cy="268.1" r="1.1" fill="#f4d0c0" opacity="0.6"/><circle cx="315.3" cy="270.6" r="0.8" fill="#d77a66" opacity="0.6"/><circle cx="315.7" cy="266.2" r="1.0" fill="#c8604e" opacity="0.6"/><circle cx="317.6" cy="266.5" r="1.2" fill="#f0c2b0" opacity="0.6"/><circle cx="323.4" cy="267.4" r="1.4" fill="#f0c2b0" opacity="0.6"/><circle cx="320.4" cy="266.6" r="1.3" fill="#f4d0c0" opacity="0.6"/><circle cx="320.1" cy="270.2" r="1.4" fill="#f0c2b0" opacity="0.6"/><circle cx="322.7" cy="267.5" r="1.4" fill="#f4d0c0" opacity="0.6"/><circle cx="325.0" cy="269.6" r="0.8" fill="#eab4a0" opacity="0.6"/><circle cx="316.0" cy="271.1" r="1.2" fill="#eab4a0" opacity="0.6"/><circle cx="317.4" cy="269.1" r="1.7" fill="#f4d0c0" opacity="0.6"/><circle cx="321.7" cy="267.1" r="1.2" fill="#c8604e" opacity="0.6"/><circle cx="319.6" cy="266.4" r="1.0" fill="#f0c2b0" opacity="0.6"/><circle cx="321.2" cy="269.3" r="1.0" fill="#f4d0c0" opacity="0.6"/><circle cx="321.2" cy="267.4" r="1.0" fill="#eab4a0" opacity="0.6"/><circle cx="318.6" cy="269.1" r="1.3" fill="#eab4a0" opacity="0.6"/><circle cx="318.60" cy="272.20" r="1.20" fill="#c02a30" opacity="0.7"/></g><g><path d="M360.7,267.7C360.9,269.4 360.0,271.2 359.5,272.5C358.9,273.7 358.7,274.7 357.2,275.4C355.6,276.1 352.0,277.0 350.3,276.6C348.5,276.2 347.3,274.3 346.4,273.2C345.6,272.1 345.3,271.1 345.1,269.7C344.9,268.3 344.9,266.0 345.2,264.7C345.4,263.3 345.6,262.7 346.5,261.7C347.3,260.8 349.0,259.3 350.4,258.9C351.7,258.6 353.1,259.2 354.4,259.7C355.8,260.2 357.2,260.8 358.2,262.2C359.3,263.5 360.5,266.0 360.7,267.7Z" fill="url(#tum)"/><path d="M354.2,269.7C354.1,270.7 354.1,272.6 353.7,273.3C353.4,274.1 352.9,273.9 352.2,274.2C351.4,274.5 350.2,275.0 349.3,275.0C348.4,275.1 347.4,275.4 346.7,274.6C345.9,273.9 345.0,271.6 344.8,270.6C344.6,269.6 345.2,269.3 345.4,268.6C345.6,267.9 345.6,267.2 346.2,266.5C346.7,265.7 347.8,264.5 348.6,264.3C349.4,264.1 350.2,264.9 351.2,265.4C352.1,266.0 353.8,266.9 354.3,267.6C354.8,268.4 354.3,268.8 354.2,269.7Z" fill="url(#tum)"/><circle cx="354.0" cy="269.6" r="0.7" fill="#d77a66" opacity="0.6"/><circle cx="351.3" cy="270.6" r="0.8" fill="#c8604e" opacity="0.6"/><circle cx="347.5" cy="266.6" r="1.1" fill="#eab4a0" opacity="0.6"/><circle cx="348.3" cy="266.3" r="1.1" fill="#eab4a0" opacity="0.6"/><circle cx="349.2" cy="264.3" r="1.5" fill="#eab4a0" opacity="0.6"/><circle cx="353.8" cy="262.9" r="1.5" fill="#eab4a0" opacity="0.6"/><circle cx="353.1" cy="269.8" r="1.5" fill="#f0c2b0" opacity="0.6"/><circle cx="352.9" cy="264.6" r="0.9" fill="#d77a66" opacity="0.6"/><circle cx="354.6" cy="266.5" r="1.7" fill="#c8604e" opacity="0.6"/><circle cx="354.1" cy="266.6" r="0.9" fill="#eab4a0" opacity="0.6"/><circle cx="350.6" cy="267.6" r="1.2" fill="#d77a66" opacity="0.6"/><circle cx="353.7" cy="264.9" r="1.4" fill="#f0c2b0" opacity="0.6"/><circle cx="352.6" cy="266.6" r="1.1" fill="#eab4a0" opacity="0.6"/><circle cx="351.4" cy="267.3" r="1.6" fill="#c8604e" opacity="0.6"/><circle cx="356.6" cy="269.9" r="1.5" fill="#f4d0c0" opacity="0.6"/><circle cx="348.2" cy="270.3" r="1.5" fill="#eab4a0" opacity="0.6"/><circle cx="352.4" cy="267.2" r="1.3" fill="#f4d0c0" opacity="0.6"/><circle cx="347.30" cy="271.20" r="1.60" fill="#c02a30" opacity="0.7"/><circle cx="349.30" cy="273.20" r="1.00" fill="#c02a30" opacity="0.7"/></g><g><path d="M394.2,269.8C394.3,271.4 394.7,273.7 393.8,274.8C392.9,275.9 390.4,276.2 388.7,276.5C387.1,276.8 385.4,276.5 383.8,276.6C382.2,276.6 380.7,277.8 379.3,276.8C377.9,275.9 376.1,272.9 375.6,271.1C375.1,269.2 375.7,267.4 376.3,265.8C376.9,264.3 378.1,262.5 379.2,261.8C380.3,261.0 381.5,261.5 383.1,261.5C384.6,261.5 386.8,261.3 388.5,261.8C390.2,262.4 392.2,263.7 393.1,265.0C394.1,266.4 394.1,268.2 394.2,269.8Z" fill="url(#tum)"/><circle cx="384.5" cy="269.4" r="1.7" fill="#c8604e" opacity="0.6"/><circle cx="388.5" cy="267.0" r="1.6" fill="#d77a66" opacity="0.6"/><circle cx="380.2" cy="271.4" r="1.3" fill="#d77a66" opacity="0.6"/><circle cx="387.0" cy="271.3" r="1.7" fill="#eab4a0" opacity="0.6"/><circle cx="381.5" cy="266.6" r="0.9" fill="#eab4a0" opacity="0.6"/><circle cx="380.8" cy="269.7" r="1.3" fill="#c8604e" opacity="0.6"/><circle cx="383.8" cy="266.6" r="1.2" fill="#f0c2b0" opacity="0.6"/><circle cx="385.5" cy="268.9" r="0.9" fill="#f0c2b0" opacity="0.6"/><circle cx="385.6" cy="266.5" r="1.3" fill="#f0c2b0" opacity="0.6"/><circle cx="381.6" cy="270.2" r="1.3" fill="#d77a66" opacity="0.6"/><circle cx="385.7" cy="270.5" r="1.3" fill="#f4d0c0" opacity="0.6"/><circle cx="383.7" cy="269.0" r="1.3" fill="#c8604e" opacity="0.6"/><circle cx="390.1" cy="266.9" r="0.9" fill="#f4d0c0" opacity="0.6"/><circle cx="385.7" cy="269.6" r="1.2" fill="#f0c2b0" opacity="0.6"/><circle cx="383.9" cy="267.1" r="0.9" fill="#c8604e" opacity="0.6"/><circle cx="386.4" cy="264.5" r="0.9" fill="#c8604e" opacity="0.6"/><circle cx="388.6" cy="272.7" r="1.8" fill="#eab4a0" opacity="0.6"/><circle cx="385.2" cy="268.6" r="1.7" fill="#eab4a0" opacity="0.6"/><circle cx="382.20" cy="271.10" r="0.80" fill="#c02a30" opacity="0.7"/><circle cx="389.20" cy="267.10" r="0.80" fill="#c02a30" opacity="0.7"/></g><g><path d="M422.5,269.9C422.7,271.3 422.0,271.2 421.2,272.2C420.4,273.1 418.9,274.9 417.8,275.5C416.7,276.2 415.8,276.5 414.6,276.1C413.4,275.8 411.6,274.5 410.5,273.6C409.4,272.7 408.6,271.8 408.2,270.8C407.8,269.8 407.8,269.0 408.2,267.7C408.6,266.3 409.7,263.9 410.5,262.7C411.3,261.4 411.4,260.6 412.8,260.4C414.2,260.2 417.6,260.6 418.8,261.2C420.1,261.8 419.5,262.6 420.1,264.1C420.8,265.5 422.4,268.6 422.5,269.9Z" fill="url(#tum)"/><path d="M419.9,270.3C419.9,271.6 418.8,273.1 418.2,274.4C417.5,275.7 417.2,277.6 416.0,278.1C414.9,278.7 412.6,277.8 411.3,277.7C410.1,277.6 409.5,278.3 408.6,277.6C407.7,276.8 406.3,274.4 406.1,273.2C405.8,272.0 406.4,271.6 406.9,270.4C407.4,269.1 408.1,267.0 408.8,266.0C409.5,264.9 409.6,264.2 410.8,264.0C412.1,263.8 414.8,264.3 416.1,264.8C417.3,265.2 417.8,265.6 418.4,266.6C419.0,267.5 419.9,269.0 419.9,270.3Z" fill="url(#tum)"/><circle cx="418.3" cy="271.5" r="1.2" fill="#c8604e" opacity="0.6"/><circle cx="416.3" cy="269.5" r="1.7" fill="#d77a66" opacity="0.6"/><circle cx="416.0" cy="271.7" r="1.0" fill="#f0c2b0" opacity="0.6"/><circle cx="415.5" cy="269.3" r="0.9" fill="#c8604e" opacity="0.6"/><circle cx="412.2" cy="267.5" r="0.9" fill="#f4d0c0" opacity="0.6"/><circle cx="413.2" cy="269.6" r="1.1" fill="#f0c2b0" opacity="0.6"/><circle cx="414.3" cy="269.6" r="0.7" fill="#d77a66" opacity="0.6"/><circle cx="413.2" cy="269.3" r="1.2" fill="#f4d0c0" opacity="0.6"/><circle cx="417.5" cy="272.4" r="1.2" fill="#f4d0c0" opacity="0.6"/><circle cx="409.6" cy="268.2" r="1.8" fill="#c8604e" opacity="0.6"/><circle cx="412.1" cy="264.7" r="1.1" fill="#eab4a0" opacity="0.6"/><circle cx="412.6" cy="270.7" r="0.8" fill="#eab4a0" opacity="0.6"/><circle cx="417.4" cy="269.9" r="1.7" fill="#f4d0c0" opacity="0.6"/><circle cx="414.3" cy="270.0" r="1.6" fill="#d77a66" opacity="0.6"/><circle cx="413.4" cy="268.3" r="1.0" fill="#c8604e" opacity="0.6"/><circle cx="415.0" cy="269.9" r="1.0" fill="#f0c2b0" opacity="0.6"/></g><g><path d="M447.6,264.6C447.6,265.6 446.3,267.5 445.8,268.4C445.4,269.3 445.4,269.7 444.7,270.0C443.9,270.2 442.4,270.1 441.5,269.9C440.5,269.8 440.0,269.8 439.2,269.2C438.4,268.6 437.3,267.3 436.9,266.5C436.5,265.6 436.6,264.7 436.8,264.0C437.0,263.2 437.6,262.5 438.2,261.8C438.8,261.2 439.7,260.3 440.6,260.1C441.4,259.9 442.3,260.3 443.2,260.6C444.1,260.9 445.1,261.5 445.8,262.1C446.5,262.8 447.6,263.5 447.6,264.6Z" fill="url(#tum)"/><path d="M444.5,270.4C444.4,271.7 444.0,273.2 443.4,274.3C442.8,275.4 441.7,276.5 440.7,276.9C439.8,277.2 438.8,276.9 437.8,276.4C436.7,276.0 435.1,274.9 434.2,274.1C433.3,273.3 432.7,272.5 432.3,271.7C431.9,270.8 431.5,270.3 432.0,269.2C432.4,268.0 433.9,265.6 434.9,264.6C435.9,263.6 437.0,263.3 437.9,263.2C438.8,263.1 439.3,263.4 440.3,263.9C441.3,264.5 443.2,265.3 443.9,266.4C444.6,267.5 444.5,269.1 444.5,270.4Z" fill="url(#tum)"/><circle cx="441.2" cy="263.7" r="1.3" fill="#eab4a0" opacity="0.6"/><circle cx="439.9" cy="268.4" r="1.4" fill="#f0c2b0" opacity="0.6"/><circle cx="438.0" cy="270.2" r="0.8" fill="#f0c2b0" opacity="0.6"/><circle cx="437.1" cy="265.4" r="1.2" fill="#f0c2b0" opacity="0.6"/><circle cx="439.3" cy="268.4" r="1.7" fill="#d77a66" opacity="0.6"/><circle cx="442.1" cy="270.0" r="1.5" fill="#f4d0c0" opacity="0.6"/><circle cx="439.7" cy="268.7" r="1.0" fill="#eab4a0" opacity="0.6"/><circle cx="440.1" cy="272.1" r="1.2" fill="#f4d0c0" opacity="0.6"/><circle cx="444.1" cy="270.8" r="1.0" fill="#f0c2b0" opacity="0.6"/><circle cx="437.1" cy="265.8" r="0.8" fill="#eab4a0" opacity="0.6"/><circle cx="438.0" cy="271.6" r="1.5" fill="#d77a66" opacity="0.6"/><circle cx="439.6" cy="268.3" r="0.8" fill="#c8604e" opacity="0.6"/><circle cx="440.2" cy="268.2" r="0.9" fill="#f4d0c0" opacity="0.6"/><circle cx="439.0" cy="271.2" r="1.2" fill="#f4d0c0" opacity="0.6"/><circle cx="440.3" cy="262.5" r="1.3" fill="#c8604e" opacity="0.6"/><circle cx="444.7" cy="267.5" r="0.7" fill="#f4d0c0" opacity="0.6"/><circle cx="442.1" cy="269.7" r="1.8" fill="#c8604e" opacity="0.6"/><circle cx="435.9" cy="271.8" r="1.7" fill="#f0c2b0" opacity="0.6"/></g><g><path d="M468.3,269.7C468.4,270.8 468.7,272.5 468.3,273.4C467.9,274.4 467.1,275.0 465.9,275.5C464.7,276.0 462.6,276.7 461.3,276.5C460.0,276.2 458.9,274.8 458.0,273.9C457.1,272.9 456.1,271.5 455.9,270.6C455.7,269.8 456.2,269.8 456.6,268.8C457.0,267.8 457.3,265.7 458.1,264.9C458.8,264.0 460.0,264.0 461.1,263.9C462.2,263.7 463.6,263.4 464.6,263.9C465.7,264.5 466.8,266.1 467.4,267.1C468.0,268.0 468.1,268.7 468.3,269.7Z" fill="url(#tum)"/><path d="M478.1,270.2C478.3,271.6 478.3,272.1 477.5,273.2C476.7,274.4 474.5,276.6 473.3,277.3C472.0,277.9 471.3,277.0 470.0,276.8C468.7,276.6 466.6,277.0 465.6,276.1C464.6,275.2 464.2,272.8 464.0,271.5C463.7,270.1 463.8,268.8 464.1,267.7C464.4,266.7 464.7,266.0 465.8,265.1C466.8,264.2 468.9,262.7 470.3,262.5C471.7,262.2 473.1,263.2 474.1,263.6C475.1,264.1 475.5,264.0 476.2,265.1C476.9,266.2 477.9,268.9 478.1,270.2Z" fill="url(#tum)"/><circle cx="467.6" cy="271.2" r="1.8" fill="#f0c2b0" opacity="0.6"/><circle cx="468.3" cy="266.8" r="1.7" fill="#d77a66" opacity="0.6"/><circle cx="462.0" cy="268.6" r="0.8" fill="#f4d0c0" opacity="0.6"/><circle cx="461.8" cy="270.7" r="1.4" fill="#c8604e" opacity="0.6"/><circle cx="460.5" cy="270.0" r="1.3" fill="#eab4a0" opacity="0.6"/><circle cx="464.4" cy="269.9" r="1.0" fill="#c8604e" opacity="0.6"/><circle cx="465.3" cy="270.2" r="1.2" fill="#f4d0c0" opacity="0.6"/><circle cx="469.9" cy="271.7" r="0.8" fill="#d77a66" opacity="0.6"/><circle cx="469.5" cy="268.3" r="0.9" fill="#c8604e" opacity="0.6"/><circle cx="469.8" cy="269.6" r="0.9" fill="#eab4a0" opacity="0.6"/><circle cx="466.7" cy="270.4" r="1.3" fill="#c8604e" opacity="0.6"/><circle cx="466.8" cy="270.8" r="1.3" fill="#f0c2b0" opacity="0.6"/><circle cx="466.7" cy="267.7" r="1.2" fill="#d77a66" opacity="0.6"/><circle cx="467.2" cy="270.8" r="1.5" fill="#f4d0c0" opacity="0.6"/><circle cx="465.6" cy="274.1" r="0.8" fill="#d77a66" opacity="0.6"/><circle cx="461.4" cy="268.9" r="1.6" fill="#f0c2b0" opacity="0.6"/><circle cx="466.5" cy="270.8" r="1.1" fill="#f4d0c0" opacity="0.6"/><circle cx="464.8" cy="270.2" r="1.6" fill="#f0c2b0" opacity="0.6"/></g><g><path d="M331.7,300.0C331.7,301.3 331.6,304.3 330.3,305.6C328.9,307.0 325.4,307.4 323.8,307.9C322.2,308.5 322.4,309.3 320.4,309.0C318.5,308.6 313.8,306.8 312.1,305.8C310.3,304.8 310.1,304.2 309.9,302.9C309.7,301.7 310.5,299.6 310.7,298.3C311.0,297.0 310.3,296.0 311.4,295.2C312.5,294.3 315.0,293.3 317.5,293.1C320.0,292.8 324.3,292.9 326.3,293.7C328.4,294.5 328.9,296.8 329.8,297.9C330.7,298.9 331.6,298.7 331.7,300.0Z" fill="url(#tum)"/><path d="M326.3,302.2C326.5,303.5 327.0,304.0 326.6,305.0C326.1,306.0 325.2,307.6 323.4,308.2C321.6,308.9 317.5,309.2 315.7,309.0C313.9,308.8 313.3,308.1 312.4,307.1C311.5,306.1 310.9,304.2 310.3,303.0C309.6,301.8 308.2,300.8 308.6,299.8C308.9,298.8 310.6,297.6 312.1,296.8C313.7,296.0 316.1,295.5 317.9,295.1C319.6,294.6 321.4,293.7 322.6,294.1C323.8,294.5 324.7,296.1 325.3,297.4C325.9,298.7 326.1,300.9 326.3,302.2Z" fill="url(#tum)"/><circle cx="321.5" cy="299.7" r="1.3" fill="#d77a66" opacity="0.6"/><circle cx="320.7" cy="305.8" r="1.5" fill="#c8604e" opacity="0.6"/><circle cx="321.9" cy="301.1" r="1.7" fill="#f4d0c0" opacity="0.6"/><circle cx="322.0" cy="301.4" r="1.2" fill="#c8604e" opacity="0.6"/><circle cx="320.6" cy="301.0" r="1.1" fill="#f4d0c0" opacity="0.6"/><circle cx="318.8" cy="302.4" r="0.7" fill="#c8604e" opacity="0.6"/><circle cx="320.4" cy="298.2" r="0.9" fill="#eab4a0" opacity="0.6"/><circle cx="318.4" cy="304.8" r="1.0" fill="#eab4a0" opacity="0.6"/><circle cx="320.0" cy="305.4" r="0.8" fill="#d77a66" opacity="0.6"/><circle cx="319.3" cy="300.8" r="0.9" fill="#f4d0c0" opacity="0.6"/><circle cx="320.9" cy="300.6" r="1.4" fill="#f4d0c0" opacity="0.6"/><circle cx="320.8" cy="300.8" r="1.4" fill="#f4d0c0" opacity="0.6"/><circle cx="321.0" cy="300.9" r="1.1" fill="#c8604e" opacity="0.6"/><circle cx="319.8" cy="295.6" r="1.7" fill="#c8604e" opacity="0.6"/><circle cx="322.3" cy="304.0" r="1.3" fill="#f4d0c0" opacity="0.6"/><circle cx="325.2" cy="301.5" r="1.1" fill="#c8604e" opacity="0.6"/><circle cx="323.7" cy="300.6" r="0.8" fill="#f0c2b0" opacity="0.6"/><circle cx="320.1" cy="302.6" r="1.8" fill="#f0c2b0" opacity="0.6"/><circle cx="315.6" cy="299.3" r="1.1" fill="#c8604e" opacity="0.6"/><circle cx="321.9" cy="298.8" r="0.8" fill="#f4d0c0" opacity="0.6"/><circle cx="321.9" cy="303.5" r="1.2" fill="#c8604e" opacity="0.6"/><circle cx="323.60" cy="300.80" r="1.20" fill="#c02a30" opacity="0.7"/></g><g><path d="M357.2,302.7C357.4,303.7 356.6,304.5 355.6,305.6C354.7,306.6 352.7,308.8 351.5,309.3C350.4,309.8 350.0,308.7 348.8,308.6C347.6,308.5 345.5,309.3 344.2,308.7C343.0,308.2 341.6,306.7 341.3,305.3C340.9,304.0 341.8,301.8 342.1,300.6C342.4,299.4 341.9,298.7 342.9,298.1C343.9,297.5 346.5,297.2 348.1,297.1C349.6,297.1 351.3,297.3 352.3,297.7C353.3,298.2 353.5,298.9 354.3,299.7C355.1,300.5 357.0,301.7 357.2,302.7Z" fill="url(#tum)"/><path d="M359.8,304.0C359.8,304.9 359.5,305.9 359.1,306.4C358.8,306.9 358.4,306.8 357.8,307.1C357.2,307.4 356.3,308.5 355.6,308.4C354.9,308.3 354.1,307.0 353.7,306.4C353.2,305.9 353.2,305.8 353.0,305.2C352.9,304.5 352.5,303.1 352.6,302.3C352.7,301.5 353.0,301.0 353.5,300.4C354.1,299.8 355.2,299.1 355.9,298.9C356.6,298.8 357.3,299.3 357.8,299.7C358.3,300.1 358.4,300.5 358.7,301.2C359.1,301.9 359.7,303.1 359.8,304.0Z" fill="url(#tum)"/><circle cx="347.3" cy="305.3" r="0.8" fill="#eab4a0" opacity="0.6"/><circle cx="349.6" cy="303.4" r="1.1" fill="#f0c2b0" opacity="0.6"/><circle cx="347.0" cy="303.2" r="0.9" fill="#f4d0c0" opacity="0.6"/><circle cx="354.7" cy="300.4" r="1.0" fill="#f0c2b0" opacity="0.6"/><circle cx="351.0" cy="304.6" r="1.8" fill="#f4d0c0" opacity="0.6"/><circle cx="350.7" cy="303.5" r="1.2" fill="#eab4a0" opacity="0.6"/><circle cx="350.2" cy="299.7" r="1.4" fill="#f0c2b0" opacity="0.6"/><circle cx="350.6" cy="301.9" r="1.0" fill="#c8604e" opacity="0.6"/><circle cx="347.2" cy="305.1" r="0.9" fill="#eab4a0" opacity="0.6"/><circle cx="350.9" cy="303.9" r="1.0" fill="#d77a66" opacity="0.6"/><circle cx="350.4" cy="303.2" r="1.0" fill="#eab4a0" opacity="0.6"/><circle cx="348.9" cy="303.0" r="1.6" fill="#f4d0c0" opacity="0.6"/><circle cx="350.9" cy="303.0" r="1.2" fill="#eab4a0" opacity="0.6"/></g><g><path d="M392.4,306.0C392.6,307.1 391.3,307.2 390.4,308.0C389.6,308.8 388.8,310.1 387.1,310.8C385.5,311.4 382.3,312.2 380.5,312.0C378.8,311.9 377.7,310.7 376.8,309.7C375.8,308.8 375.1,307.4 374.6,306.4C374.2,305.4 373.3,304.7 374.0,303.6C374.7,302.5 377.4,300.8 378.7,299.9C380.0,299.0 380.8,298.2 382.0,298.1C383.2,297.9 384.6,298.3 385.8,298.8C387.0,299.3 388.1,299.9 389.2,301.1C390.3,302.3 392.2,304.8 392.4,306.0Z" fill="url(#tum)"/><circle cx="382.9" cy="307.8" r="1.4" fill="#eab4a0" opacity="0.6"/><circle cx="384.8" cy="301.9" r="1.1" fill="#c8604e" opacity="0.6"/><circle cx="383.7" cy="306.5" r="0.9" fill="#f4d0c0" opacity="0.6"/><circle cx="382.7" cy="305.1" r="0.8" fill="#f4d0c0" opacity="0.6"/><circle cx="382.6" cy="304.6" r="1.3" fill="#eab4a0" opacity="0.6"/><circle cx="381.8" cy="305.9" r="1.8" fill="#c8604e" opacity="0.6"/><circle cx="382.8" cy="305.3" r="1.5" fill="#c8604e" opacity="0.6"/><circle cx="382.9" cy="305.2" r="1.5" fill="#c8604e" opacity="0.6"/><circle cx="381.7" cy="303.8" r="1.1" fill="#f0c2b0" opacity="0.6"/><circle cx="382.2" cy="305.5" r="0.8" fill="#f0c2b0" opacity="0.6"/><circle cx="379.0" cy="307.4" r="1.2" fill="#eab4a0" opacity="0.6"/><circle cx="383.2" cy="305.4" r="0.9" fill="#f4d0c0" opacity="0.6"/><circle cx="385.9" cy="306.7" r="1.1" fill="#d77a66" opacity="0.6"/><circle cx="381.00" cy="307.20" r="1.50" fill="#c02a30" opacity="0.7"/><circle cx="386.00" cy="309.20" r="1.00" fill="#c02a30" opacity="0.7"/></g><g><path d="M421.5,303.7C421.4,304.7 421.0,305.8 420.4,306.7C419.8,307.6 419.3,308.5 417.8,309.1C416.3,309.7 413.2,310.5 411.6,310.4C409.9,310.2 408.6,309.0 407.7,308.1C406.8,307.3 406.4,306.3 406.1,305.3C405.9,304.2 405.8,303.0 406.2,302.1C406.5,301.2 407.2,300.3 408.1,299.6C408.9,299.0 409.6,298.6 411.2,298.4C412.8,298.3 416.1,298.2 417.8,298.7C419.4,299.1 420.7,300.3 421.3,301.1C422.0,302.0 421.7,302.8 421.5,303.7Z" fill="url(#tum)"/><circle cx="411.2" cy="302.7" r="0.9" fill="#f4d0c0" opacity="0.6"/><circle cx="414.0" cy="305.0" r="1.1" fill="#d77a66" opacity="0.6"/><circle cx="414.5" cy="305.4" r="0.9" fill="#eab4a0" opacity="0.6"/><circle cx="416.4" cy="304.8" r="1.5" fill="#f0c2b0" opacity="0.6"/><circle cx="412.7" cy="303.3" r="1.1" fill="#f4d0c0" opacity="0.6"/><circle cx="410.4" cy="303.6" r="1.0" fill="#f4d0c0" opacity="0.6"/><circle cx="413.0" cy="305.2" r="1.1" fill="#c8604e" opacity="0.6"/><circle cx="411.3" cy="304.8" r="0.7" fill="#d77a66" opacity="0.6"/><circle cx="415.9" cy="304.2" r="1.2" fill="#d77a66" opacity="0.6"/><circle cx="414.0" cy="302.7" r="0.9" fill="#f4d0c0" opacity="0.6"/><circle cx="413.2" cy="304.4" r="1.1" fill="#c8604e" opacity="0.6"/></g><g><path d="M446.6,302.0C446.4,303.2 445.7,305.0 444.9,306.1C444.1,307.2 443.1,307.9 441.9,308.5C440.6,309.2 438.8,310.1 437.6,309.9C436.5,309.7 435.8,308.3 434.9,307.4C434.0,306.5 432.6,305.9 432.3,304.7C432.0,303.5 432.7,301.6 433.0,300.2C433.4,298.9 433.6,297.3 434.5,296.5C435.5,295.7 437.5,295.6 438.7,295.5C440.0,295.3 440.8,295.1 442.0,295.6C443.3,296.1 445.5,297.6 446.3,298.7C447.0,299.7 446.9,300.7 446.6,302.0Z" fill="url(#tum)"/><circle cx="440.0" cy="302.4" r="1.6" fill="#eab4a0" opacity="0.6"/><circle cx="440.8" cy="303.4" r="1.5" fill="#eab4a0" opacity="0.6"/><circle cx="438.0" cy="305.2" r="1.7" fill="#f4d0c0" opacity="0.6"/><circle cx="440.8" cy="304.5" r="1.7" fill="#eab4a0" opacity="0.6"/><circle cx="436.9" cy="301.4" r="1.0" fill="#c8604e" opacity="0.6"/><circle cx="440.1" cy="303.0" r="0.9" fill="#c8604e" opacity="0.6"/><circle cx="437.5" cy="299.3" r="0.9" fill="#c8604e" opacity="0.6"/><circle cx="441.2" cy="304.3" r="1.4" fill="#c8604e" opacity="0.6"/><circle cx="441.4" cy="302.4" r="1.3" fill="#f0c2b0" opacity="0.6"/><circle cx="439.3" cy="305.1" r="1.6" fill="#c8604e" opacity="0.6"/><circle cx="438.9" cy="307.0" r="1.3" fill="#c8604e" opacity="0.6"/></g><g><path d="M471.9,304.0C472.0,305.1 472.9,306.4 472.0,307.5C471.1,308.5 468.1,309.8 466.7,310.3C465.2,310.8 464.7,310.7 463.2,310.5C461.7,310.3 458.9,309.8 457.5,309.0C456.2,308.1 455.6,306.6 455.4,305.4C455.1,304.2 455.5,302.8 456.1,301.9C456.7,301.0 457.5,300.6 458.7,299.9C459.9,299.3 462.1,298.1 463.5,297.9C465.0,297.7 465.9,298.4 467.2,298.9C468.6,299.3 470.8,299.8 471.6,300.6C472.4,301.5 471.9,302.9 471.9,304.0Z" fill="url(#tum)"/><circle cx="464.7" cy="304.4" r="1.3" fill="#c8604e" opacity="0.6"/><circle cx="465.9" cy="305.2" r="0.9" fill="#d77a66" opacity="0.6"/><circle cx="464.2" cy="304.8" r="1.1" fill="#f4d0c0" opacity="0.6"/><circle cx="464.4" cy="304.3" r="1.6" fill="#eab4a0" opacity="0.6"/><circle cx="464.1" cy="304.4" r="0.9" fill="#c8604e" opacity="0.6"/><circle cx="463.3" cy="304.9" r="0.7" fill="#d77a66" opacity="0.6"/><circle cx="466.8" cy="302.8" r="1.3" fill="#d77a66" opacity="0.6"/><circle cx="468.0" cy="303.1" r="1.0" fill="#f0c2b0" opacity="0.6"/><circle cx="467.1" cy="304.9" r="1.1" fill="#eab4a0" opacity="0.6"/><circle cx="467.0" cy="307.5" r="0.8" fill="#d77a66" opacity="0.6"/><circle cx="459.7" cy="303.1" r="0.9" fill="#eab4a0" opacity="0.6"/><circle cx="461.0" cy="304.0" r="1.4" fill="#f4d0c0" opacity="0.6"/></g><g><path d="M326.4,331.3C326.2,332.4 326.1,333.0 325.7,333.9C325.2,334.9 325.1,336.4 323.7,337.0C322.4,337.6 318.9,337.7 317.4,337.7C315.8,337.7 315.6,337.9 314.7,336.9C313.7,336.0 312.1,333.6 311.7,332.1C311.2,330.7 311.6,329.3 312.0,328.3C312.4,327.4 313.2,327.0 314.2,326.4C315.1,325.8 316.3,325.1 317.7,324.7C319.0,324.3 320.8,323.6 322.2,324.0C323.7,324.4 325.8,325.9 326.5,327.1C327.2,328.3 326.5,330.2 326.4,331.3Z" fill="url(#tum)"/><circle cx="318.9" cy="329.6" r="1.3" fill="#f4d0c0" opacity="0.6"/><circle cx="317.4" cy="327.1" r="1.8" fill="#c8604e" opacity="0.6"/><circle cx="316.2" cy="327.5" r="0.9" fill="#d77a66" opacity="0.6"/><circle cx="320.5" cy="330.8" r="1.0" fill="#eab4a0" opacity="0.6"/><circle cx="322.6" cy="329.6" r="1.1" fill="#f4d0c0" opacity="0.6"/><circle cx="318.6" cy="331.6" r="1.7" fill="#d77a66" opacity="0.6"/><circle cx="315.2" cy="331.4" r="1.5" fill="#f0c2b0" opacity="0.6"/><circle cx="315.9" cy="331.9" r="1.3" fill="#c8604e" opacity="0.6"/><circle cx="319.7" cy="329.1" r="1.3" fill="#d77a66" opacity="0.6"/><circle cx="319.8" cy="330.4" r="0.7" fill="#f0c2b0" opacity="0.6"/><circle cx="318.6" cy="330.2" r="1.8" fill="#f0c2b0" opacity="0.6"/><circle cx="319.9" cy="330.8" r="1.4" fill="#f0c2b0" opacity="0.6"/><circle cx="314.20" cy="332.70" r="0.80" fill="#c02a30" opacity="0.7"/></g><g><path d="M357.2,332.5C357.3,333.2 357.0,333.6 356.5,334.3C356.0,335.0 355.1,336.3 354.0,336.8C352.9,337.3 350.9,337.4 349.9,337.3C348.8,337.3 348.7,337.3 347.9,336.6C347.2,335.9 345.5,333.9 345.2,333.1C344.9,332.2 345.7,332.1 346.1,331.4C346.5,330.8 346.8,330.0 347.6,329.3C348.4,328.6 350.0,327.3 351.1,327.0C352.1,326.7 353.2,327.1 354.0,327.6C354.8,328.0 355.4,329.1 355.9,329.9C356.4,330.7 357.1,331.8 357.2,332.5Z" fill="url(#tum)"/><circle cx="351.6" cy="332.4" r="1.2" fill="#eab4a0" opacity="0.6"/><circle cx="351.0" cy="333.2" r="0.8" fill="#c8604e" opacity="0.6"/><circle cx="351.3" cy="333.1" r="1.2" fill="#c8604e" opacity="0.6"/><circle cx="353.6" cy="331.0" r="1.1" fill="#f4d0c0" opacity="0.6"/><circle cx="352.6" cy="330.7" r="0.6" fill="#f4d0c0" opacity="0.6"/><circle cx="353.1" cy="332.5" r="0.7" fill="#f4d0c0" opacity="0.6"/></g><g><path d="M387.7,332.8C387.8,333.5 387.9,334.2 387.4,334.9C387.0,335.5 386.1,336.5 385.1,336.8C384.2,337.1 382.8,336.7 381.7,336.6C380.5,336.6 379.1,337.1 378.3,336.5C377.5,335.9 377.2,334.0 376.9,333.1C376.5,332.2 376.1,331.9 376.4,331.2C376.7,330.5 378.0,329.5 378.8,329.0C379.6,328.5 380.1,328.1 381.1,328.0C382.1,328.0 383.7,328.3 384.6,328.7C385.6,329.1 386.3,329.9 386.9,330.6C387.4,331.3 387.6,332.1 387.7,332.8Z" fill="url(#tum)"/><circle cx="382.5" cy="334.5" r="1.0" fill="#f0c2b0" opacity="0.6"/><circle cx="384.5" cy="331.7" r="1.0" fill="#d77a66" opacity="0.6"/><circle cx="382.4" cy="330.7" r="0.9" fill="#f4d0c0" opacity="0.6"/><circle cx="384.8" cy="331.4" r="1.3" fill="#f4d0c0" opacity="0.6"/><circle cx="382.0" cy="332.5" r="0.8" fill="#c8604e" opacity="0.6"/><circle cx="380.1" cy="333.2" r="0.7" fill="#eab4a0" opacity="0.6"/></g><g><path d="M417.5,334.8C417.6,335.9 417.8,336.8 417.3,337.4C416.7,338.1 415.2,338.3 414.2,338.7C413.2,339.1 412.3,339.8 411.2,339.7C410.2,339.5 408.7,338.6 407.9,337.9C407.2,337.2 407.0,336.4 406.7,335.5C406.5,334.6 406.0,333.4 406.3,332.5C406.5,331.7 407.5,331.1 408.3,330.4C409.1,329.7 409.9,328.6 411.0,328.4C412.1,328.2 413.9,328.8 415.0,329.1C416.0,329.5 416.8,329.6 417.2,330.5C417.6,331.5 417.5,333.6 417.5,334.8Z" fill="url(#tum)"/><circle cx="413.3" cy="332.2" r="1.3" fill="#eab4a0" opacity="0.6"/><circle cx="411.8" cy="332.0" r="0.9" fill="#eab4a0" opacity="0.6"/><circle cx="411.9" cy="334.7" r="1.5" fill="#f0c2b0" opacity="0.6"/><circle cx="413.5" cy="336.1" r="0.8" fill="#eab4a0" opacity="0.6"/><circle cx="415.1" cy="333.8" r="1.3" fill="#f4d0c0" opacity="0.6"/><circle cx="412.1" cy="334.5" r="1.5" fill="#c8604e" opacity="0.6"/><circle cx="412.6" cy="335.4" r="0.6" fill="#f4d0c0" opacity="0.6"/></g><g><path d="M439.0,336.4C439.2,337.2 439.4,337.7 439.0,338.2C438.6,338.7 437.4,338.9 436.7,339.3C436.0,339.7 435.3,340.4 434.7,340.4C434.0,340.4 433.5,339.9 432.9,339.3C432.2,338.7 431.0,337.6 430.7,336.8C430.4,336.0 430.6,335.4 430.9,334.7C431.2,333.9 431.9,333.0 432.5,332.4C433.1,331.9 433.8,331.5 434.5,331.4C435.3,331.4 436.3,331.8 436.9,332.2C437.5,332.5 437.6,332.9 438.0,333.6C438.4,334.3 438.8,335.7 439.0,336.4Z" fill="url(#tum)"/><path d="M442.9,335.1C442.9,335.7 443.1,336.9 442.7,337.6C442.2,338.3 440.9,338.9 440.3,339.3C439.6,339.7 439.3,339.9 438.7,339.9C438.1,339.9 437.3,339.8 436.8,339.3C436.3,338.7 436.1,337.5 435.9,336.6C435.7,335.7 435.5,334.7 435.6,333.9C435.7,333.1 436.0,332.3 436.6,331.9C437.2,331.5 438.5,331.6 439.1,331.5C439.7,331.4 439.8,330.8 440.3,331.2C440.8,331.6 441.8,333.2 442.3,333.9C442.7,334.5 442.8,334.4 442.9,335.1Z" fill="url(#tum)"/><circle cx="436.9" cy="336.6" r="1.4" fill="#eab4a0" opacity="0.6"/><circle cx="436.5" cy="336.0" r="1.2" fill="#d77a66" opacity="0.6"/><circle cx="437.4" cy="337.3" r="0.7" fill="#c8604e" opacity="0.6"/><circle cx="435.3" cy="335.8" r="1.6" fill="#eab4a0" opacity="0.6"/><circle cx="437.6" cy="336.0" r="1.2" fill="#f0c2b0" opacity="0.6"/><circle cx="436.6" cy="334.2" r="1.3" fill="#c8604e" opacity="0.6"/></g><g><path d="M469.7,336.2C469.8,337.2 469.8,338.0 469.1,339.1C468.5,340.1 467.2,341.8 466.1,342.3C464.9,342.8 463.5,342.4 462.3,342.3C461.0,342.2 459.6,342.6 458.5,341.8C457.5,341.0 456.4,338.6 455.9,337.5C455.4,336.5 455.1,336.2 455.6,335.3C456.0,334.5 457.6,333.3 458.5,332.5C459.4,331.6 459.7,330.6 461.0,330.4C462.4,330.1 465.2,330.7 466.5,331.2C467.8,331.7 468.3,332.4 468.8,333.2C469.4,334.1 469.7,335.2 469.7,336.2Z" fill="url(#tum)"/><circle cx="463.5" cy="340.2" r="1.1" fill="#f4d0c0" opacity="0.6"/><circle cx="461.6" cy="336.8" r="1.3" fill="#eab4a0" opacity="0.6"/><circle cx="463.3" cy="334.8" r="1.6" fill="#eab4a0" opacity="0.6"/><circle cx="462.7" cy="338.0" r="1.0" fill="#f4d0c0" opacity="0.6"/><circle cx="462.0" cy="334.9" r="1.6" fill="#c8604e" opacity="0.6"/><circle cx="461.1" cy="338.5" r="1.1" fill="#f4d0c0" opacity="0.6"/><circle cx="460.4" cy="337.7" r="1.4" fill="#c8604e" opacity="0.6"/><circle cx="463.7" cy="337.5" r="1.1" fill="#f0c2b0" opacity="0.6"/><circle cx="464.8" cy="333.6" r="1.6" fill="#eab4a0" opacity="0.6"/></g><g><path d="M323.0,360.7C322.9,361.4 322.9,362.6 322.5,363.1C322.1,363.6 321.4,363.6 320.7,363.9C320.0,364.2 319.2,364.9 318.3,364.9C317.5,364.9 316.1,364.4 315.5,364.0C314.9,363.5 314.7,363.0 314.6,362.2C314.5,361.4 314.7,360.1 314.9,359.3C315.0,358.6 315.1,358.1 315.7,357.7C316.2,357.2 317.3,356.5 318.2,356.5C319.1,356.4 320.1,357.2 320.9,357.6C321.6,358.0 322.4,358.4 322.7,358.9C323.1,359.4 323.0,360.0 323.0,360.7Z" fill="url(#tum)"/><circle cx="318.2" cy="360.1" r="0.8" fill="#eab4a0" opacity="0.6"/><circle cx="316.7" cy="360.3" r="0.8" fill="#f0c2b0" opacity="0.6"/><circle cx="318.0" cy="360.5" r="0.6" fill="#eab4a0" opacity="0.6"/><circle cx="317.2" cy="360.9" r="0.8" fill="#eab4a0" opacity="0.6"/></g><g><path d="M352.9,359.3C352.9,359.7 353.2,360.1 352.8,360.4C352.4,360.8 351.2,361.2 350.6,361.5C350.0,361.7 349.6,362.0 349.1,361.9C348.5,361.9 347.6,361.4 347.1,361.1C346.5,360.8 346.1,360.5 345.9,359.9C345.7,359.4 345.7,358.5 345.9,358.1C346.0,357.6 346.2,357.7 346.8,357.5C347.3,357.3 348.4,357.0 349.1,356.9C349.7,356.7 349.9,356.4 350.5,356.6C351.2,356.8 352.7,357.6 353.1,358.1C353.5,358.5 353.0,359.0 352.9,359.3Z" fill="url(#tum)"/><circle cx="350.3" cy="359.6" r="0.8" fill="#eab4a0" opacity="0.6"/><circle cx="351.1" cy="359.4" r="0.8" fill="#c8604e" opacity="0.6"/></g><g><path d="M384.1,358.4C384.2,359.0 384.1,359.8 383.7,360.3C383.2,360.9 382.3,361.5 381.6,361.7C380.9,361.9 380.2,361.7 379.5,361.5C378.8,361.4 378.1,361.2 377.6,360.9C377.0,360.6 376.3,360.2 376.0,359.7C375.7,359.3 375.7,358.6 375.9,358.0C376.2,357.4 376.8,356.5 377.3,356.2C377.9,355.9 378.4,356.1 379.1,356.2C379.7,356.2 380.7,356.3 381.4,356.4C382.1,356.6 382.8,356.6 383.3,357.0C383.7,357.3 384.0,357.9 384.1,358.4Z" fill="url(#tum)"/><circle cx="381.6" cy="360.1" r="0.5" fill="#f0c2b0" opacity="0.6"/><circle cx="378.6" cy="359.4" r="0.7" fill="#d77a66" opacity="0.6"/></g><g><path d="M413.8,358.4C413.9,358.9 413.9,359.5 413.5,360.1C413.1,360.7 412.1,361.8 411.4,362.2C410.8,362.6 410.2,362.6 409.5,362.4C408.9,362.2 407.9,361.6 407.4,361.2C407.0,360.7 406.7,360.3 406.6,359.7C406.4,359.1 406.4,358.2 406.7,357.6C407.0,357.0 407.6,356.6 408.2,356.3C408.7,355.9 409.3,355.4 410.0,355.4C410.6,355.4 411.5,355.8 411.9,356.1C412.4,356.3 412.6,356.5 412.9,356.9C413.2,357.3 413.7,357.8 413.8,358.4Z" fill="url(#tum)"/><circle cx="410.6" cy="356.8" r="0.8" fill="#c8604e" opacity="0.6"/><circle cx="410.5" cy="358.6" r="0.6" fill="#c8604e" opacity="0.6"/></g></g>
<text x="436.90" y="361.22" font-size="7.70" text-anchor="middle" font-weight="bold" fill="#111" stroke="#111" stroke-width="0.1" transform="translate(39.32 0) scale(0.91 1)">CR</text>
<text x="463.40" y="361.22" font-size="7.70" text-anchor="middle" font-weight="bold" fill="#111" stroke="#111" stroke-width="0.1" transform="translate(41.71 0) scale(0.91 1)">CR</text>
<text x="299.00" y="272.36" font-size="8.80" text-anchor="end" fill="#222" stroke="#222" stroke-width="0.1" transform="translate(26.91 0) scale(0.91 1)">NS</text>
<text x="299.00" y="303.26" font-size="8.80" text-anchor="end" fill="#222" stroke="#222" stroke-width="0.1" transform="translate(26.91 0) scale(0.91 1)">Anti-PD-1</text>
<text x="299.00" y="332.96" font-size="8.80" text-anchor="end" fill="#222" stroke="#222" stroke-width="0.1" transform="translate(26.91 0) scale(0.91 1)">M7GA-DC</text>
<text x="299.00" y="355.66" font-size="8.80" text-anchor="end" fill="#222" stroke="#222" stroke-width="0.1" transform="translate(26.91 0) scale(0.91 1)">M7GA-DC</text>
<text x="299.00" y="365.06" font-size="8.80" text-anchor="end" fill="#222" stroke="#222" stroke-width="0.1" transform="translate(26.91 0) scale(0.91 1)">+Anti-PD-1</text>
<text x="500.50" y="235.28" font-size="10.45" font-weight="bold" fill="#000" stroke="#000" stroke-width="0.1" transform="translate(45.04 0) scale(0.91 1)">h</text>
<path d="M543.5 241.2L543.5 365.0" stroke="#000" stroke-width="0.9"/>
<path d="M543.5 365.0L667.9 365.0" stroke="#000" stroke-width="0.9"/>
<path d="M539.0 365.0L543.5 365.0" stroke="#000" stroke-width="0.9"/>
<text x="538.40" y="367.76" font-size="8.80" text-anchor="end" fill="#000" stroke="#000" stroke-width="0.1" transform="translate(48.46 0) scale(0.91 1)">0</text>
<path d="M539.0 334.1L543.5 334.1" stroke="#000" stroke-width="0.9"/>
<text x="538.40" y="336.88" font-size="8.80" text-anchor="end" fill="#000" stroke="#000" stroke-width="0.1" transform="translate(48.46 0) scale(0.91 1)">1000</text>
<path d="M539.0 303.2L543.5 303.2" stroke="#000" stroke-width="0.9"/>
<text x="538.40" y="306.01" font-size="8.80" text-anchor="end" fill="#000" stroke="#000" stroke-width="0.1" transform="translate(48.46 0) scale(0.91 1)">2000</text>
<path d="M539.0 272.4L543.5 272.4" stroke="#000" stroke-width="0.9"/>
<text x="538.40" y="275.13" font-size="8.80" text-anchor="end" fill="#000" stroke="#000" stroke-width="0.1" transform="translate(48.46 0) scale(0.91 1)">3000</text>
<path d="M539.0 241.5L543.5 241.5" stroke="#000" stroke-width="0.9"/>
<text x="538.40" y="244.26" font-size="8.80" text-anchor="end" fill="#000" stroke="#000" stroke-width="0.1" transform="translate(48.46 0) scale(0.91 1)">4000</text>
<rect x="553.70" y="293.06" width="17.80" height="71.94" fill="#7878ff" stroke="#2a2aff" stroke-width="1.0"/>
<path d="M562.6 275.5L562.6 311.0" stroke="#2a2aff" stroke-width="0.9"/>
<path d="M560.0 275.5L565.2 275.5" stroke="#2a2aff" stroke-width="0.9"/>
<path d="M560.0 311.0L565.2 311.0" stroke="#2a2aff" stroke-width="0.9"/>
<circle cx="562.60" cy="269.29" r="1.60" fill="none" stroke="#2a2aff" stroke-width="0.8"/>
<circle cx="562.60" cy="275.46" r="1.60" fill="none" stroke="#2a2aff" stroke-width="0.8"/>
<circle cx="558.60" cy="292.44" r="1.60" fill="none" stroke="#2a2aff" stroke-width="0.8"/>
<circle cx="566.60" cy="292.13" r="1.60" fill="none" stroke="#2a2aff" stroke-width="0.8"/>
<circle cx="558.60" cy="312.51" r="1.60" fill="none" stroke="#2a2aff" stroke-width="0.8"/>
<circle cx="566.60" cy="311.89" r="1.60" fill="none" stroke="#2a2aff" stroke-width="0.8"/>
<rect x="582.20" y="325.79" width="17.70" height="39.21" fill="#ff7878" stroke="#ff2a2a" stroke-width="1.0"/>
<path d="M591.0 315.6L591.0 335.7" stroke="#ff2a2a" stroke-width="0.9"/>
<path d="M588.4 315.6L593.6 315.6" stroke="#ff2a2a" stroke-width="0.9"/>
<path d="M588.4 335.7L593.6 335.7" stroke="#ff2a2a" stroke-width="0.9"/>
<rect x="589.45" y="303.19" width="3.20" height="3.20" fill="none" stroke="#ff2a2a" stroke-width="0.8"/>
<rect x="589.45" y="322.64" width="3.20" height="3.20" fill="none" stroke="#ff2a2a" stroke-width="0.8"/>
<rect x="584.45" y="328.82" width="3.20" height="3.20" fill="none" stroke="#ff2a2a" stroke-width="0.8"/>
<rect x="594.45" y="329.13" width="3.20" height="3.20" fill="none" stroke="#ff2a2a" stroke-width="0.8"/>
<rect x="589.45" y="330.05" width="3.20" height="3.20" fill="none" stroke="#ff2a2a" stroke-width="0.8"/>
<rect x="587.45" y="332.52" width="3.20" height="3.20" fill="none" stroke="#ff2a2a" stroke-width="0.8"/>
<rect x="611.50" y="348.64" width="17.50" height="16.36" fill="#78dc78" stroke="#22bb22" stroke-width="1.0"/>
<path d="M620.2 341.8L620.2 355.7" stroke="#22bb22" stroke-width="0.9"/>
<path d="M617.6 341.8L622.9 341.8" stroke="#22bb22" stroke-width="0.9"/>
<path d="M617.6 355.7L622.9 355.7" stroke="#22bb22" stroke-width="0.9"/>
<path d="M620.25,339.00 L618.49,342.20 L622.01,342.20 Z" fill="none" stroke="#22bb22" stroke-width="0.8"/>
<path d="M617.25,343.94 L615.49,347.14 L619.01,347.14 Z" fill="none" stroke="#22bb22" stroke-width="0.8"/>
<path d="M623.25,345.79 L621.49,348.99 L625.01,348.99 Z" fill="none" stroke="#22bb22" stroke-width="0.8"/>
<path d="M616.25,349.80 L614.49,353.00 L618.01,353.00 Z" fill="none" stroke="#22bb22" stroke-width="0.8"/>
<path d="M624.25,350.11 L622.49,353.31 L626.01,353.31 Z" fill="none" stroke="#22bb22" stroke-width="0.8"/>
<path d="M620.25,352.89 L618.49,356.09 L622.01,356.09 Z" fill="none" stroke="#22bb22" stroke-width="0.8"/>
<rect x="639.90" y="363.15" width="17.60" height="1.85" fill="#c878f8" stroke="#b030f0" stroke-width="1.0"/>
<path d="M642.70,364.64 L641.05,361.64 L644.35,361.64 Z" fill="none" stroke="#b030f0" stroke-width="0.8"/>
<path d="M646.70,364.02 L645.05,361.02 L648.35,361.02 Z" fill="none" stroke="#b030f0" stroke-width="0.8"/>
<path d="M650.70,363.71 L649.05,360.71 L652.35,360.71 Z" fill="none" stroke="#b030f0" stroke-width="0.8"/>
<path d="M654.70,364.33 L653.05,361.33 L656.35,361.33 Z" fill="none" stroke="#b030f0" stroke-width="0.8"/>
<path d="M559.2 252.6L648.8 252.6" stroke="#333" stroke-width="0.9"/>
<text x="603.90" y="250.76" font-size="8.80" text-anchor="middle" fill="#000" stroke="#000" stroke-width="0.1" transform="translate(54.35 0) scale(0.91 1)">p&lt;0.0001</text>
<path d="M559.2 265.7L621.5 265.7" stroke="#888" stroke-width="1.3"/>
<text x="593.00" y="263.86" font-size="8.80" text-anchor="middle" fill="#000" stroke="#000" stroke-width="0.1" transform="translate(53.37 0) scale(0.91 1)">p&lt;0.0001</text>
<path d="M591.9 300.4L649.4 300.4" stroke="#333" stroke-width="0.9"/>
<text x="621.00" y="298.56" font-size="8.80" text-anchor="middle" fill="#000" stroke="#000" stroke-width="0.1" transform="translate(55.89 0) scale(0.91 1)">p=0.0001</text>
<path d="M619.5 336.9L649.4 336.9" stroke="#333" stroke-width="0.9"/>
<text x="635.20" y="335.06" font-size="8.80" text-anchor="middle" fill="#000" stroke="#000" stroke-width="0.1" transform="translate(57.17 0) scale(0.91 1)">p=0.0010</text>
<text x="511.80" y="304.83" font-size="9.02" text-anchor="middle" fill="#222" transform="rotate(-90 511.80 302.00) translate(511.80 0) scale(0.91 1) translate(-511.80 0)" stroke="#222" stroke-width="0.1">Tumor weight (mg)</text>
<text transform="translate(563.40,367.20) rotate(-45) scale(0.91 1)" font-size="8.80" text-anchor="end" fill="#222" dy="6.05" stroke="#222" stroke-width="0.1">NS</text>
<text transform="translate(591.80,367.20) rotate(-45) scale(0.91 1)" font-size="8.80" text-anchor="end" fill="#222" dy="6.05" stroke="#222" stroke-width="0.1">Anti-PD-1</text>
<text transform="translate(621.00,367.20) rotate(-45) scale(0.91 1)" font-size="8.80" text-anchor="end" fill="#222" dy="6.05" stroke="#222" stroke-width="0.1">M7GA-DC</text>
<text transform="translate(649.50,367.20) rotate(-45) scale(0.91 1)" font-size="8.80" text-anchor="end" fill="#222" dy="6.05" stroke="#222" stroke-width="0.1">M7GA-DC+Anti-PD-1</text>
<text x="5.60" y="396.68" font-size="10.45" font-weight="bold" fill="#000" stroke="#000" stroke-width="0.1" transform="translate(0.50 0) scale(0.91 1)">i</text>
<rect x="26.30" y="408.00" width="82.30" height="82.40" fill="#fff" stroke="none" stroke-width="1"/>
<g filter="url(#bl)"><path d="M62.4 423.6l3.5 -0.4 3.6 0.5 3.6 1.3 3.6 2.1 2.8 2.5 1.5 2.4 0.9 3.0 0 3.0 -0.8 4.2 -2.4 6.6 -5.8 12.6 -3.8 7.2 -2.7 3.6 -2.9 2.7 -3 1.4 -3 0.2 -3.6 -0.9 -4.8 -2.1 -3.6 -2.0 -2.4 -2.2 -1.2 -1.9 -0.6 -1.8 -0.2 -3.6 -0.6 -3.6 -0.1 -2.4 0.6 -3.0 0.7 -1.8 1.9 -2.4 2.3 -1.2 5.4 -11.4 3.4 -6.0 1.8 -2.4 2.2 -2.2 1.8 -1.2z" fill="#0000eb" fill-rule="evenodd"/><path d="M62.9 426.6l3 -0.5 3 0.4 3.6 1.3 2.8 1.8 2.3 2.4 1.2 2.4 0.5 2.4 0 3.0 -1 4.2 -2 5.4 -5.3 11.4 -3.3 5.8 -2.4 3.1 -2.4 2.0 -2.4 1.1 -3 0.2 -3 -0.7 -3.6 -1.5 -2.8 -1.6 -2 -1.8 -1 -1.2 -0.8 -1.8 -1.2 -1.2 -1 -1.8 -0.8 -3.0 0 -3.0 0.8 -3.0 1.6 -2.2 1.8 -1.0 1.8 0.2 5.3 -11.4 3.7 -6.2 3 -3.2 1.8 -1.3z" fill="#000bf9" fill-rule="evenodd"/><path d="M64.3 428.4l2.8 -0.1 2.4 0.5 3 1.4 2.4 1.9 1.3 1.7 1 2.4 0.3 3.0 -0.4 3.0 -1.2 4.2 -2.5 6.0 -3.9 7.9 -3 4.9 -2.4 2.8 -2.4 1.7 -2.4 0.7 -3 -0.1 -2.4 -0.7 -3 -1.5 -2.4 -1.8 -1.8 -2.4 -1.8 -0.4 -1.2 -0.9 -1 -1.8 -0.6 -1.8 -0.2 -1.8 0.3 -2.4 0.9 -2.4 1.2 -1.5 1.8 -0.6 1.8 0.6 0.6 -0.3 5.1 -11.4 2.1 -3.7 2.1 -2.9 3.3 -2.9z" fill="#001cff" fill-rule="evenodd"/><path d="M63.6 430.2l2.3 -0.4 3 0.5 2.6 1.1 2.2 1.7 1.4 1.9 0.7 1.8 0.3 2.4 -0.2 3.0 -1.2 4.2 -2.5 6.0 -3.3 6.6 -3 4.7 -2.4 2.6 -2.4 1.6 -2.4 0.6 -2.4 -0.1 -2.4 -0.8 -2.5 -1.4 -1.7 -1.5 -1.3 -2.1 -0.5 -0.3 -1.8 0.4 -1.8 -0.9 -0.7 -1.0 -0.7 -1.8 -0.2 -1.8 0.2 -1.8 0.8 -2.3 1.3 -1.3 1.7 -0.3 1.8 1.1 0.6 -0.2 3.7 -9.0 3.9 -7.2 3.2 -3.8 1.8 -1.4z" fill="#003aff" fill-rule="evenodd"/><path d="M63.1 431.4l2.8 -0.6 2.4 0.4 2.4 0.9 2.3 1.7 1.3 1.8 0.7 1.8 0.2 2.4 -0.3 3.0 -1.2 4.2 -2 4.8 -3 6.0 -2.8 4.4 -2.4 2.7 -2.4 1.6 -2.4 0.7 -2.4 -0.1 -2.4 -0.8 -2.4 -1.5 -1.4 -1.6 -1 -2.5 -0.6 0.0 -0.9 0.7 -0.9 0.2 -1 -0.2 -0.8 -0.6 -1.1 -2.4 0 -2.4 0.5 -1.6 0.5 -0.8 1.3 -0.7 1.2 0.0 0.6 0.3 1.2 1.5 3.1 -8.3 4.1 -8.2 3.3 -4.4 1.5 -1.3z" fill="#0058ff" fill-rule="evenodd"/><path d="M63.7 432.0l2.2 -0.4 2.4 0.4 2.4 1.0 1.8 1.4 1.2 1.7 0.7 1.9 0.2 2.4 -0.4 3.0 -1.2 4.2 -2.4 5.4 -2.8 5.4 -2.5 3.6 -1.8 1.9 -2.4 1.7 -2.4 0.7 -2.4 -0.1 -1.8 -0.6 -1.8 -1.0 -1.2 -1.1 -1 -1.5 -0.7 -1.8 -0.4 -2.4 0.6 -3.6 2.5 -7.2 4.2 -8.4 3.2 -4.2 1.8 -1.4zM47.3 455.4l0.6 -0.3 0.6 0.4 0.4 1.7 -0.4 1.9 -0.6 0.6 -0.6 0.1 -0.5 -0.8 -0.1 -0.6z" fill="#009bff" fill-rule="evenodd"/><path d="M64.4 432.6l2.1 -0.2 2.4 0.6 1.8 1.0 1.8 1.7 0.9 1.7 0.5 1.8 0 2.4 -0.6 3.0 -1.4 4.2 -2.1 4.8 -2.3 4.2 -2.2 3.2 -1.8 2.0 -2.4 1.7 -2.4 0.7 -2.4 -0.1 -3.1 -1.5 -1.3 -1.2 -1 -1.8 -0.6 -3.6 0.6 -4.2 0.9 -3.0 1.7 -4.2 4 -7.4 1.8 -2.4 1.6 -1.6 1.8 -1.2z" fill="#00d9ff" fill-rule="evenodd"/><path d="M63.3 433.8l2 -0.5 1.8 0.1 2.4 0.9 1.8 1.3 1.2 1.7 0.6 1.9 0.1 2.4 -0.3 2.4 -1.1 3.6 -2 4.8 -2.2 4.2 -2.3 3.5 -1.8 2.0 -2.4 1.7 -2.4 0.7 -2.4 -0.1 -1.8 -0.8 -1.2 -0.8 -1.2 -1.4 -0.6 -1.2 -0.5 -3.0 0.4 -4.2 2.1 -6.0 3.4 -6.6 3 -4.1 1.8 -1.6z" fill="#00f9d9" fill-rule="evenodd"/><path d="M64.1 434.4l1.8 -0.2 1.8 0.3 2.2 1.1 1.4 1.4 0.8 1.6 0.4 1.8 -0.1 2.4 -0.5 2.4 -1.1 3.6 -2.1 4.8 -2 3.6 -2 2.8 -1.8 1.7 -2.4 1.5 -1.8 0.5 -2.4 -0.2 -2.6 -1.5 -1.6 -2.4 -0.5 -3.6 0.6 -4.2 2.3 -5.9 3.6 -6.3 3 -3.5 1.6 -1.1z" fill="#00fc8c" fill-rule="evenodd"/><path d="M63.5 435.6l1.8 -0.4 1.8 0.2 1.8 0.8 1.4 1.2 0.8 1.2 0.5 1.8 0.1 2.4 -0.4 2.4 -1.1 3.6 -1.8 4.2 -1.5 3.0 -2.1 3.0 -1.9 2.0 -1.8 1.2 -2.4 0.7 -1.8 -0.1 -2.4 -1.2 -1.2 -1.3 -0.6 -1.1 -0.6 -3.2 0.4 -3.6 1.7 -4.8 3.3 -6.0 3 -3.9 1.8 -1.5z" fill="#0dff46" fill-rule="evenodd"/><path d="M62.9 437.4l1.8 -0.5 1.8 0.1 1.8 0.8 1.2 1.2 0.7 1.4 0.3 1.8 -0.5 4.2 -1.1 3.6 -1.4 3.6 -1.3 2.4 -1.7 2.4 -2.2 2.1 -1.8 1.0 -1.8 0.4 -1.8 -0.2 -1.2 -0.4 -1.2 -1.0 -1.2 -1.9 -0.5 -3.0 0.4 -3.6 1.6 -4.2 2.7 -4.6 3 -3.7z" fill="#40ff2a" fill-rule="evenodd"/><path d="M63.4 439.2l1.3 -0.2 1.8 0.4 1.2 0.9 0.9 1.3 0.4 1.8 0 1.8 -1 5.4 -2.1 4.8 -2.8 3.6 -1.4 1.0 -1.8 0.8 -1.8 0.2 -1.2 -0.2 -1.9 -1.2 -1.3 -2.4 -0.3 -3.0 0.5 -3.0 1.5 -3.6 2.7 -4.1 3 -3.0z" fill="#73ff0e" fill-rule="evenodd"/><path d="M62.9 441.6l1.2 0.0 1.2 0.4 1.2 0.9 0.7 1.1 0.5 3.0 -0.6 4.2 -1.8 4.2 -2.4 3.0 -2.4 1.5 -1.8 0.4 -1.2 -0.2 -1.8 -0.9 -1.3 -2.0 -0.5 -3.0 0.5 -3.0 1.6 -3.6 2.1 -2.9 2.4 -2.1z" fill="#a9ff00" fill-rule="evenodd"/><path d="M60.7 444.0l2.2 -0.3 1.2 0.4 1.2 0.8 0.6 0.9 0.6 1.6 -0.1 3.2 -1.2 3.6 -2 3.0 -2.7 1.9 -2.4 0.3 -1.8 -0.8 -1.1 -1.4 -0.6 -2.4 0.1 -2.4 0.7 -2.4 1.5 -2.7 1.8 -2.0z" fill="#e2ff00" fill-rule="evenodd"/><path d="M60.6 445.2l1.1 -0.2 1.2 0.1 1.8 1.2 0.9 1.9 0 3.0 -1 3.0 -1.7 2.4 -2.4 1.7 -1.2 0.3 -1.2 -0.1 -1.5 -0.7 -0.9 -1.2 -0.5 -1.8 0.1 -2.4 0.7 -2.4 1.4 -2.4 1.3 -1.3z" fill="#ffe200" fill-rule="evenodd"/><path d="M59.9 446.4l1.2 -0.4 1.2 0.1 1.6 0.9 1 1.8 0.1 2.4 -0.7 2.4 -1.6 2.4 -2.2 1.6 -1.8 0.3 -1.2 -0.4 -1.2 -1.2 -0.5 -1.5 -0.1 -1.8 0.6 -2.4 1 -1.8 1.4 -1.6z" fill="#ffa900" fill-rule="evenodd"/><path d="M60.5 447.0l1.8 0.1 1.2 0.8 0.7 1.5 0.1 2.4 -0.6 1.8 -1.4 2.0 -1.8 1.3 -1.8 0.2 -1.2 -0.5 -0.9 -1.2 -0.3 -1.2 0 -1.8 0.5 -1.8 1.1 -1.8 1.4 -1.3z" fill="#ff7000" fill-rule="evenodd"/><path d="M59.5 448.2l1.6 -0.5 1.5 0.5 0.9 1.2 0.2 1.8 -0.4 1.8 -1 1.8 -1.2 1.1 -1.8 0.6 -1.2 -0.3 -0.8 -0.8 -0.5 -1.2 0 -1.2 0.7 -2.6 0.7 -1.0z" fill="#ff3600" fill-rule="evenodd"/><path d="M59.8 448.8l1.3 -0.3 1.2 0.6 0.6 0.9 0.2 1.8 -0.7 1.8 -0.7 1.0 -1.2 0.9 -1.2 0.2 -1 -0.3 -0.5 -0.6 -0.5 -1.8 0.8 -2.5z" fill="#fc1400" fill-rule="evenodd"/><path d="M59.6 450.0l1.5 -0.4 0.6 0.4 0.6 1.2 -0.6 2.2 -0.7 0.8 -1.1 0.6 -1.2 -0.4 -0.6 -1.4 0.4 -1.8z" fill="#f60700" fill-rule="evenodd"/></g>
<rect x="26.30" y="408.00" width="82.30" height="82.40" fill="none" stroke="#b8b8b8" stroke-width="0.7"/>
<path d="M26.3 408.0V490.4H108.6M24.7 486.3h1.6M24.7 468.2h1.6M24.7 450.0h1.6M24.7 431.9h1.6M24.7 413.8h1.6M34.5 490.4v1.6M52.6 490.4v1.6M70.7 490.4v1.6M88.8 490.4v1.6M107.0 490.4v1.6" fill="none" stroke="#444" stroke-width="0.7"/>
<path d="M25.4 480.5h0.9M25.4 477.2h0.9M25.4 474.7h0.9M25.4 462.4h0.9M25.4 459.1h0.9M25.4 456.6h0.9M25.4 444.3h0.9M25.4 441.0h0.9M25.4 438.5h0.9M25.4 426.1h0.9M25.4 422.8h0.9M25.4 420.4h0.9M25.4 408.0h0.9M40.3 490.4v0.9M43.6 490.4v0.9M46.1 490.4v0.9M58.4 490.4v0.9M61.7 490.4v0.9M64.2 490.4v0.9M76.5 490.4v0.9M79.8 490.4v0.9M82.3 490.4v0.9M94.6 490.4v0.9M97.9 490.4v0.9M100.4 490.4v0.9" fill="none" stroke="#666" stroke-width="0.5"/>
<path d="M66.6 408.0L66.6 490.4" stroke="#111" stroke-width="0.9"/>
<path d="M26.3 445.4L108.6 445.4" stroke="#111" stroke-width="0.9"/>
<text x="105.10" y="416.63" font-size="8.69" text-anchor="end" font-weight="bold" fill="#000" stroke="#000" stroke-width="0.1" transform="translate(9.46 0) scale(0.91 1)">13.5</text>
<rect x="26.30" y="396.40" width="82.30" height="11.60" fill="#fff" stroke="#2b2b8e" stroke-width="0.9"/>
<text x="67.45" y="404.96" font-size="8.80" text-anchor="middle" font-weight="bold" fill="#2b2b8e" stroke="#2b2b8e" stroke-width="0.1" transform="translate(6.07 0) scale(0.91 1)">NS</text>
<rect x="115.60" y="408.00" width="82.00" height="82.40" fill="#fff" stroke="none" stroke-width="1"/>
<g filter="url(#bl)"><path d="M153.8 423.6l2.6 -0.4 3.6 0.5 3.6 1.4 4.2 2.4 2.4 2.1 1.7 2.4 0.7 2.4 0.1 3.0 -1 4.8 -1.9 5.4 -5.8 12.6 -3.6 6.6 -2.6 3.6 -2.6 2.4 -3 1.4 -3 0.2 -3 -0.7 -4.2 -1.8 -3.6 -1.8 -2.4 -1.8 -1.6 -2.1 -1 -3.0 -1.5 -2.4 -0.4 -1.8 0 -1.8 0.6 -2.4 0.8 -1.2 1.3 -1.2 1.5 -0.6 6.5 -14.4 4 -7.2 1.8 -2.4 1.8 -1.9 1.8 -1.3z" fill="#0000eb" fill-rule="evenodd"/><path d="M153.9 426.6l2.5 -0.4 3 0.3 3.6 1.3 3 1.9 1.8 1.7 1.6 2.4 0.7 2.4 0 3.0 -0.9 4.2 -1.8 4.8 -4.8 10.2 -3.6 6.6 -2 2.6 -2.4 2.1 -2.4 1.1 -3 0.1 -3.6 -1.0 -4.2 -1.9 -3 -2.1 -1.8 -2.7 -1.2 0.0 -1.2 -0.6 -1.2 -1.2 -0.5 -1.2 -0.4 -3.0 0.5 -1.8 1.3 -1.8 1.5 -0.8 1.8 0.2 0.4 -0.6 5.8 -13.2 4 -7.2 3 -3.4 1.8 -1.3z" fill="#000bf9" fill-rule="evenodd"/><path d="M154.9 428.4l2.7 -0.2 2.4 0.5 3 1.4 2.4 1.7 1.6 2.0 0.8 1.8 0.5 2.4 -0.2 3.0 -1.1 4.2 -1.9 4.8 -4.1 8.4 -2.9 4.8 -2.3 2.7 -2.4 1.7 -2.4 0.7 -2.4 -0.1 -3 -0.9 -3.6 -1.8 -2 -1.7 -1.6 -2.5 -1.8 1.1 -1.2 0.0 -0.8 -0.4 -1 -0.9 -0.6 -1.2 -0.3 -2.7 0.9 -2.3 1.2 -1.0 1.8 -0.3 1.8 1.0 0.3 -0.4 1.4 -4.2 2.2 -5.4 2.5 -5.4 2.4 -4.2 2 -2.8 1.8 -1.8 1.8 -1.2z" fill="#001cff" fill-rule="evenodd"/><path d="M154.1 430.2l2.3 -0.5 2.4 0.2 3 1.2 2.2 1.5 1.5 1.8 0.9 1.8 0.5 2.4 -0.2 3.0 -1.1 4.2 -2 4.8 -3.3 6.6 -2.7 4.3 -2 2.3 -2.2 1.7 -2.4 0.7 -2.4 0.0 -4.2 -1.5 -1.8 -1.1 -1.2 -1.2 -1.4 -2.8 -0.3 -1.8 0.2 -2.4 0.6 -3.0 1.5 -4.2 2.2 -5.4 2.4 -4.8 2 -3.1 1.8 -2.2 1.8 -1.5zM134.7 454.8l1.3 -0.4 1.2 0.2 0.9 0.8 0.6 1.2 0.2 1.8 -0.5 1.8 -0.6 0.7 -1.2 0.7 -1.2 -0.1 -0.6 -0.3 -1.2 -1.6 -0.3 -1.8 0.2 -1.2z" fill="#003aff" fill-rule="evenodd"/><path d="M155.2 430.8l2.4 -0.1 2.4 0.6 2.4 1.3 1.8 1.7 1.2 1.9 0.5 1.8 0.1 2.4 -0.3 2.4 -1.3 4.2 -2.1 4.8 -2.9 5.5 -2.4 3.5 -1.8 1.9 -2.4 1.7 -2.4 0.6 -2.4 -0.2 -3.6 -1.5 -1.6 -1.3 -1 -1.2 -0.7 -1.8 -0.3 -1.8 0.4 -4.2 2.7 -7.8 2.2 -4.8 1.9 -3.4 1.8 -2.5 1.8 -1.8 1.8 -1.2zM135.9 455.4l0.7 0.0 0.9 0.6 0.8 1.8 -0.5 1.9 -1.2 0.9 -0.6 0.0 -0.9 -0.4 -0.9 -1.8 0 -1.2 0.6 -1.1z" fill="#0058ff" fill-rule="evenodd"/><path d="M155.7 431.4l1.9 -0.1 2.4 0.7 2 1.2 1.8 1.8 1 1.8 0.5 1.8 0 2.4 -0.3 2.4 -1.1 3.6 -2.1 4.8 -2.4 4.4 -2.4 3.6 -1.8 1.9 -2.4 1.7 -2.4 0.6 -2.4 -0.2 -1.8 -0.6 -1.8 -1.0 -1.2 -1.1 -0.9 -1.5 -0.6 -1.8 -0.2 -1.8 0.6 -4.2 2.8 -7.8 3.7 -7.0 1.8 -2.3 1.8 -1.7 1.8 -1.1z" fill="#009bff" fill-rule="evenodd"/><path d="M156.3 432.0l1.9 0.1 1.8 0.7 2.3 1.6 1.3 1.6 0.9 2.0 0.2 1.8 -0.1 2.4 -0.5 2.4 -1.5 4.2 -2 4.2 -2 3.6 -2.2 2.9 -1.8 1.7 -2.4 1.4 -1.8 0.4 -2.4 -0.2 -1.8 -0.7 -1.8 -1.2 -1.6 -2.5 -0.5 -3.6 0.7 -4.2 3 -7.8 3.2 -5.7 1.8 -2.2 1.8 -1.6 1.8 -0.9z" fill="#00d9ff" fill-rule="evenodd"/><path d="M154.3 433.2l2.1 -0.5 1.8 0.1 1.8 0.8 1.8 1.4 1.4 1.8 0.7 1.8 0.2 2.4 -0.3 2.4 -1 3.6 -1.8 4.2 -1.9 3.6 -2.1 3.0 -1.8 1.9 -2.4 1.7 -1.8 0.5 -2.4 0.0 -3 -1.3 -1.8 -2.2 -0.7 -3.0 0.2 -3.6 2.2 -6.6 3 -6.0 2.6 -3.6 1.7 -1.5z" fill="#00f9d9" fill-rule="evenodd"/><path d="M154.5 433.8l1.9 -0.5 1.8 0.2 1.8 0.9 1.8 1.7 1.1 1.9 0.4 1.8 -0.2 4.2 -1.1 3.6 -1.8 4.2 -2 3.5 -1.8 2.3 -1.8 1.7 -1.8 1.1 -1.8 0.5 -2.4 -0.1 -2.5 -1.2 -1.1 -1.2 -0.6 -1.1 -0.6 -3.1 0.2 -3.0 2.2 -6.2 2.5 -5.2 2.9 -3.9z" fill="#00fc8c" fill-rule="evenodd"/><path d="M154.6 434.4l1.8 -0.5 1.8 0.3 1.5 0.8 1.5 1.5 0.9 1.5 0.5 1.8 0.1 2.4 -0.3 2.4 -1.1 3.6 -1.6 3.6 -1.5 2.6 -1.8 2.4 -1.8 1.6 -1.8 1.0 -1.8 0.4 -1.8 -0.1 -2.4 -1.1 -1.6 -2.0 -0.7 -2.4 0.1 -3.0 2.4 -6.6 2.4 -4.8 2.7 -3.6z" fill="#0dff46" fill-rule="evenodd"/><path d="M155.3 435.0l1.7 -0.2 1.2 0.3 1.6 1.1 0.9 1.2 0.8 1.8 0.4 1.8 -0.4 4.2 -0.9 3.0 -1.2 3.0 -1.4 2.4 -1.6 2.1 -1.2 1.1 -1.8 1.1 -1.8 0.4 -1.8 -0.1 -1.8 -0.7 -1.8 -1.6 -1 -2.3 0.1 -2.4 3.2 -7.8 1.8 -3.6 2.5 -3.2z" fill="#40ff2a" fill-rule="evenodd"/><path d="M156.3 435.6l1.3 0.2 1.6 1.0 0.9 1.2 0.8 1.8 0.2 1.8 0 2.4 -1.2 4.8 -2.1 4.2 -2.6 2.8 -1.2 0.7 -1.8 0.4 -3.6 -0.6 -1.2 -0.7 -1.2 -1.4 -0.4 -1.8 0.3 -1.8 1.8 -3.0 2 -5.4 1.6 -3.0 2.5 -2.7z" fill="#73ff0e" fill-rule="evenodd"/><path d="M154.8 436.8l1.6 -0.5 1.2 0.3 1.2 0.8 1.1 1.8 0.5 1.8 0.1 2.4 -0.9 4.8 -2 4.1 -2.4 2.6 -1.2 0.6 -1.2 0.3 -4.2 -0.5 -1.2 -0.7 -0.7 -1.0 -0.3 -1.2 0.2 -1.2 2.5 -3.6 1.4 -4.8 1.4 -3.0 1.5 -1.9z" fill="#a9ff00" fill-rule="evenodd"/><path d="M155.5 437.4l1.5 -0.1 1.2 0.7 0.9 1.2 0.5 1.2 0.3 1.8 -0.1 2.4 -1.2 4.8 -1.8 3.0 -1 1.1 -1.2 0.7 -1.2 0.3 -4.8 -0.1 -0.6 -0.4 -0.7 -1.0 0.1 -1.8 0.6 -0.9 1.8 -1.5 0.3 -0.6 1 -4.8 1.3 -3.0 1.6 -2.1z" fill="#e2ff00" fill-rule="evenodd"/><path d="M154.8 438.6l1 -0.4 1.2 0.0 1.2 0.9 0.7 1.3 0.4 1.8 0 1.8 -0.8 4.2 -1.5 3.0 -1.8 1.8 -1.2 0.4 -2.4 -0.1 -2.4 0.3 -0.9 -0.6 -0.3 -1.2 0.6 -0.8 1.7 -1.0 0.4 -0.6 1.3 -6.6 1.1 -2.4z" fill="#ffe200" fill-rule="evenodd"/><path d="M155.2 439.2l1.2 -0.3 1.4 0.9 0.8 1.8 0.2 3.0 -0.5 3.0 -1.3 2.7 -1.2 1.4 -1.8 0.8 -1.2 -0.3 -1.1 -1.0 0 -4.8 0.5 -2.4 0.9 -2.4 0.9 -1.4z" fill="#ffa900" fill-rule="evenodd"/><path d="M155.6 439.8l1.4 0.2 0.8 1.0 0.6 1.8 0 2.4 -0.6 2.4 -1.2 2.4 -1.4 1.3 -1.2 0.2 -0.7 -0.3 -0.8 -1.2 -0.3 -1.8 0.1 -2.4 1.1 -3.8 1.2 -1.6z" fill="#ff7000" fill-rule="evenodd"/><path d="M154.9 441.0l0.9 -0.5 1.3 0.5 0.6 1.2 0.3 2.4 -0.4 2.3 -0.8 1.9 -1 1.3 -1.2 0.6 -0.6 -0.1 -0.9 -1.2 -0.4 -3.0 0.7 -3.2z" fill="#ff3600" fill-rule="evenodd"/><path d="M155.2 441.6l1.2 -0.1 0.6 0.5 0.5 1.4 0 1.8 -0.4 1.8 -0.7 1.5 -0.6 0.8 -1.2 0.5 -0.6 -0.3 -0.6 -1.1 -0.2 -2.6 0.8 -2.8z" fill="#fc1400" fill-rule="evenodd"/><path d="M155.1 442.8l0.7 -0.3 0.6 0.3 0.5 1.8 -0.5 2.6 -1.2 1.4 -0.6 -0.1 -0.3 -0.3 -0.5 -1.8 0.2 -1.8z" fill="#f60700" fill-rule="evenodd"/></g>
<rect x="115.60" y="408.00" width="82.00" height="82.40" fill="none" stroke="#b8b8b8" stroke-width="0.7"/>
<path d="M115.6 408.0V490.4H197.6M114.0 486.3h1.6M114.0 468.2h1.6M114.0 450.0h1.6M114.0 431.9h1.6M114.0 413.8h1.6M123.8 490.4v1.6M141.8 490.4v1.6M159.9 490.4v1.6M177.9 490.4v1.6M196.0 490.4v1.6" fill="none" stroke="#444" stroke-width="0.7"/>
<path d="M114.7 480.5h0.9M114.7 477.2h0.9M114.7 474.7h0.9M114.7 462.4h0.9M114.7 459.1h0.9M114.7 456.6h0.9M114.7 444.3h0.9M114.7 441.0h0.9M114.7 438.5h0.9M114.7 426.1h0.9M114.7 422.8h0.9M114.7 420.4h0.9M114.7 408.0h0.9M129.5 490.4v0.9M132.8 490.4v0.9M135.3 490.4v0.9M147.6 490.4v0.9M150.9 490.4v0.9M153.3 490.4v0.9M165.6 490.4v0.9M168.9 490.4v0.9M171.4 490.4v0.9M183.7 490.4v0.9M186.9 490.4v0.9M189.4 490.4v0.9" fill="none" stroke="#666" stroke-width="0.5"/>
<path d="M155.7 408.0L155.7 490.4" stroke="#111" stroke-width="0.9"/>
<path d="M115.6 445.4L197.6 445.4" stroke="#111" stroke-width="0.9"/>
<text x="194.10" y="416.63" font-size="8.69" text-anchor="end" font-weight="bold" fill="#000" stroke="#000" stroke-width="0.1" transform="translate(17.47 0) scale(0.91 1)">21.0</text>
<rect x="115.60" y="396.40" width="82.00" height="11.60" fill="#fff" stroke="#e8203a" stroke-width="0.9"/>
<text x="156.60" y="404.96" font-size="8.80" text-anchor="middle" font-weight="bold" fill="#e8203a" stroke="#e8203a" stroke-width="0.1" transform="translate(14.09 0) scale(0.91 1)">Anti-PD-1</text>
<rect x="204.60" y="408.00" width="82.40" height="82.40" fill="#fff" stroke="none" stroke-width="1"/>
<g filter="url(#bl)"><path d="M234.7 421.8l3.5 -0.4 4.8 0.0 4.2 0.6 3 0.9 2.4 1.3 2 1.8 1.5 2.4 1.1 3.0 0.6 4.8 -0.2 6.6 -1.1 10.2 -1.6 8.4 -1.5 4.2 -1.9 3.0 -2.5 2.1 -2.4 1.0 -2.4 0.3 -3.6 -0.1 -7.8 -0.9 -4.3 -1.2 -3.5 0.2 -1.8 -0.6 -1.8 -1.4 -0.8 -1.2 -0.6 -1.8 0 -1.8 0.5 -1.8 0.8 -1.2 1.3 -1.2 0.2 -7.2 1.2 -12.0 0.8 -5.4 1.1 -4.2 1.4 -3.0 1.9 -2.6 2.4 -1.8z" fill="#0000eb" fill-rule="evenodd"/><path d="M238.0 424.2l6.2 -0.1 2.4 0.4 2.4 0.7 3.1 2.0 1.5 1.8 0.9 1.8 1.2 4.8 0.2 6.0 -1.2 10.2 -1.7 7.8 -1.4 3.6 -1.4 2.2 -1.8 1.7 -1.8 0.9 -2.4 0.6 -3 0.0 -7.2 -0.9 -3.6 -0.9 -0.4 0.6 -2 1.4 -1.8 0.4 -1.8 -0.2 -1.7 -1.0 -1.1 -1.2 -0.6 -1.2 -0.2 -1.8 0.4 -1.8 0.7 -1.2 1.3 -1.2 1.4 -0.6 0.6 -0.6 -0.2 -4.2 0.5 -6.0 1 -9.6 1.1 -5.4 1.6 -3.7 2.4 -2.8 3 -1.7z" fill="#000bf9" fill-rule="evenodd"/><path d="M239.6 426.0l5.8 0.1 3.6 0.9 2.5 2.0 1.2 1.8 0.8 1.8 1 4.8 0 6.0 -1.2 8.4 -1.7 6.6 -1.4 3.0 -1.2 1.8 -1.2 1.1 -1.8 1.0 -2.4 0.5 -3.6 -0.1 -6 -1.1 -3 -1.1 -0.4 0.3 -0.7 2.4 -1.3 1.4 -1.8 0.8 -2.4 -0.3 -1.3 -0.7 -0.9 -1.2 -0.5 -1.2 -0.1 -1.8 0.8 -1.8 1.4 -1.3 1.8 -0.5 1.8 0.2 0.6 -0.2 -0.8 -3.6 0.1 -5.4 0.9 -10.8 1.3 -6.0 1.5 -3.1 2.1 -2.3 2.7 -1.5z" fill="#001cff" fill-rule="evenodd"/><path d="M238.1 427.8l3.1 -0.4 4.2 0.0 1.8 0.2 1.8 0.7 1.6 1.3 1.3 1.8 1 2.4 0.5 2.4 0.3 4.2 -0.3 4.8 -1 6.0 -1.3 4.8 -1.3 3.0 -1.4 2.1 -1.8 1.5 -2.4 0.9 -2.4 0.1 -2.4 -0.4 -3.6 -0.9 -2.4 -1.0 -1.6 -1.1 -1 -1.2 -0.9 -1.8 -0.4 -1.8 -0.3 -4.2 0.2 -7.2 0.4 -4.8 0.8 -3.6 1.2 -3.0 1.6 -2.1 1.8 -1.5zM224.4 460.8l1.2 -0.4 1.8 0.3 1.1 0.7 0.7 1.0 0.4 1.4 -0.4 1.8 -0.6 0.9 -1.2 0.8 -1.2 0.3 -1.4 -0.2 -1.1 -0.6 -0.9 -1.2 -0.4 -1.2 0.2 -1.6 0.6 -1.0z" fill="#003aff" fill-rule="evenodd"/><path d="M240.2 428.4l6.4 -0.2 2.4 0.8 1.4 1.2 1.1 1.8 1 2.4 0.5 3.0 0.1 4.2 -0.4 4.2 -1 5.4 -1.3 4.2 -1.1 2.4 -1.5 2.2 -1.8 1.3 -2.4 0.8 -2.4 -0.1 -2.5 -0.6 -2.9 -1.2 -1.9 -1.2 -1.2 -1.2 -1 -1.8 -0.7 -2.1 -0.4 -2.7 -0.2 -4.8 0.2 -5.4 0.6 -3.6 0.9 -3.0 1.4 -2.4 1.7 -1.7 2.4 -1.3zM224.6 462.0l1.6 -0.4 1.2 0.4 0.6 0.6 0.4 1.8 -0.4 1.0 -0.6 0.6 -1.2 0.4 -1.2 -0.2 -1.2 -1.1 -0.1 -1.9z" fill="#0058ff" fill-rule="evenodd"/><path d="M241.5 429.0l5.7 -0.2 1.2 0.4 1.2 0.8 1.2 1.4 0.9 1.8 0.7 2.4 0.3 3.0 0 3.6 -0.6 4.8 -1.1 4.8 -1.2 3.6 -1.4 2.5 -1.6 1.7 -2 1.1 -1.8 0.3 -2.4 -0.3 -2.4 -0.8 -2.4 -1.3 -1.5 -1.4 -1.3 -1.8 -0.9 -2.4 -0.8 -6.0 0 -4.2 0.3 -3.6 0.7 -3.0 1 -2.4 1.3 -1.8 1.8 -1.5 2.4 -1.1z" fill="#009bff" fill-rule="evenodd"/><path d="M243.4 429.6l3.2 -0.4 1.2 0.2 1.2 0.6 1.2 1.2 0.9 1.4 0.8 2.4 0.5 3.0 0 3.0 -1.1 7.8 -1.1 3.8 -1.2 2.8 -1.2 1.9 -1.8 1.6 -1.8 0.8 -1.8 0.1 -2.4 -0.5 -2.4 -1.1 -2 -1.6 -1.4 -1.8 -1.1 -2.4 -0.6 -2.4 -0.4 -3.6 -0.1 -3.6 0.3 -3.0 0.6 -3.0 1 -2.4 1.2 -1.8 1.4 -1.2 1.7 -0.9 2.4 -0.7z" fill="#00d9ff" fill-rule="evenodd"/><path d="M244.0 430.2l2.6 -0.5 1.2 0.1 1.2 0.6 1 1.0 1 1.8 0.7 2.4 0.4 5.4 -0.4 3.6 -0.9 4.2 -1.1 3.6 -1.2 2.4 -1.3 1.8 -1.2 1.1 -1.8 0.8 -1.8 0.1 -1.8 -0.3 -2.4 -1.2 -1.8 -1.4 -1.6 -2.1 -1.1 -2.4 -0.6 -2.4 -0.3 -6.6 0.9 -5.4 0.9 -2.0 1.2 -1.7 1.3 -1.1 1.7 -0.9z" fill="#00f9d9" fill-rule="evenodd"/><path d="M246.4 430.2l1.4 0.1 1.2 0.6 1 1.1 0.9 1.8 0.7 2.4 0.2 2.4 -0.4 5.4 -1.4 6.0 -2.2 4.5 -1.2 1.4 -1.2 0.9 -1.8 0.6 -1.8 -0.1 -2.4 -0.8 -1.8 -1.1 -1.7 -1.8 -1 -1.8 -0.7 -1.8 -0.6 -3.0 -0.1 -3.6 0.4 -3.6 1.2 -4.2 1.3 -1.8 1.2 -1.1 2.4 -1.0z" fill="#00fc8c" fill-rule="evenodd"/><path d="M245.8 430.8l1.4 -0.2 1.2 0.3 1.2 1.0 1.1 1.9 0.8 4.2 -0.3 5.4 -1.4 6.0 -2 3.8 -1.2 1.3 -1.8 1.3 -1.2 0.4 -1.8 0.0 -1.8 -0.5 -1.8 -1.0 -1.8 -1.7 -1.1 -1.8 -0.8 -2.4 -0.3 -2.4 0.4 -6.0 1.2 -4.1 1.8 -2.4 1.8 -1.1 3.6 -0.8z" fill="#0dff46" fill-rule="evenodd"/><path d="M245.9 431.4l1.3 -0.3 1.2 0.3 1.2 1.1 1 1.9 0.5 2.4 0.2 2.4 -0.2 3.0 -0.6 3.0 -1.3 4.2 -2 3.0 -3 2.1 -1.8 0.4 -1.8 -0.2 -1.8 -0.7 -1.2 -0.9 -1.1 -1.3 -0.9 -1.8 -0.7 -3.6 0.6 -4.8 1.4 -4.8 1.3 -2.0 1.8 -1.1 3 -0.5z" fill="#40ff2a" fill-rule="evenodd"/><path d="M245.9 432.0l1.3 -0.4 1.3 0.4 1.1 1.2 1 2.4 0.4 2.4 0 2.4 -1.2 6.0 -1.4 3.4 -1.8 2.0 -3.6 1.9 -1.8 0.2 -1.2 -0.2 -1.2 -0.6 -1.2 -0.9 -1.4 -2.2 -0.7 -3.0 0.5 -3.6 1.4 -3.6 0.4 -3.0 0.7 -1.2 1.5 -1.1 3.6 -0.5z" fill="#73ff0e" fill-rule="evenodd"/><path d="M245.9 432.6l1.3 -0.5 1.2 0.3 1.2 1.4 0.7 1.8 0.4 2.4 0 2.4 -1.4 6.0 -0.9 2.5 -1.8 2.0 -3.6 1.9 -1.8 0.4 -1.2 -0.2 -1.2 -0.6 -1.4 -1.2 -0.9 -1.8 -0.4 -1.8 0 -1.8 0.4 -1.8 2.1 -3.6 -0.2 -3.6 0.8 -1.2 1.4 -0.8 3 0.2z" fill="#a9ff00" fill-rule="evenodd"/><path d="M246.1 433.2l1.1 -0.5 1.2 0.3 1.2 1.6 0.7 2.2 0 4.2 -1.7 6.0 -0.8 1.8 -1.2 1.1 -4.2 2.3 -1.2 0.2 -1.2 -0.1 -1.8 -1.1 -1.2 -1.8 -0.4 -1.8 0.2 -2.4 0.8 -1.9 1.2 -1.3 1.8 -0.9 2.4 0.0 0.4 -0.7 -0.4 -0.8 -1.8 0.6 -1.2 -0.5 -1 -1.7 0 -1.2 0.4 -0.7 1.2 -0.8 1.2 0.0 1.8 0.9 0.6 -0.3z" fill="#e2ff00" fill-rule="evenodd"/><path d="M246.3 433.8l0.9 -0.5 1.2 0.3 1 1.4 0.6 1.8 -0.1 4.2 -1.6 5.4 -0.8 1.8 -0.9 0.9 -4.2 2.4 -1.2 0.3 -1.2 -0.1 -1.2 -0.6 -1.3 -1.7 -0.5 -1.8 0.3 -2.4 0.9 -1.6 1.2 -1.0 1.8 -0.3 2.4 0.5 0.6 -0.4 0.3 -1.4 0 -3.6 0.9 -2.4zM239.9 436.2l1.3 -0.5 1.2 0.5 0.6 1.2 -0.5 1.2 -1.3 0.6 -1.2 -0.5 -0.6 -1.3z" fill="#ffe200" fill-rule="evenodd"/><path d="M246.4 434.4l0.8 -0.5 1.2 0.3 0.9 1.4 0.4 1.8 -0.1 3.6 -1.9 5.4 -1.1 1.7 -1.8 0.9 -2.4 1.9 -1.2 0.4 -1.2 -0.2 -1.2 -0.7 -1.1 -1.6 -0.2 -1.8 0.3 -1.8 1 -1.4 1.2 -0.7 1.2 -0.1 3 1.0 0.6 -0.3 0.4 -1.5 -0.1 -4.8 0.6 -1.8zM240.9 436.2l0.9 0.2 0.5 1.0 -0.2 0.6 -0.9 0.6 -1.1 -0.6 -0.2 -0.6 0.1 -0.6z" fill="#ffa900" fill-rule="evenodd"/><path d="M246.6 435.0l0.6 -0.4 0.6 -0.1 0.6 0.4 0.7 1.3 0.4 2.4 -0.5 3.1 -2.4 5.0 -1.8 1.0 -2.4 2.5 -1.2 0.5 -1.2 -0.1 -1.2 -0.8 -0.6 -1.0 -0.3 -1.8 0.3 -1.5 1.2 -1.5 1.2 -0.4 1.5 0.4 2.1 1.4 0.6 0.2 0.6 -0.4 0.4 -0.6 0.2 -1.2 -0.4 -3.6 0 -2.4zM241.1 436.8l0.5 0.6 -0.4 0.4 -0.7 -0.4z" fill="#ff7000" fill-rule="evenodd"/><path d="M246.8 435.6l1 -0.4 0.6 0.4 0.8 2.4 -0.4 3.0 -1 1.6 -0.6 0.1 -0.7 -1.1 -0.5 -2.4 0.1 -1.8zM239.6 444.6l1 -0.4 1.2 0.3 1 0.7 0.8 1.2 0.1 0.6 -0.3 1.2 -0.8 1.2 -0.8 0.6 -1.8 0.1 -1.3 -1.3 -0.4 -1.2 0.1 -1.2 0.4 -1.0z" fill="#ff3600" fill-rule="evenodd"/><path d="M247.1 436.2l0.7 -0.2 0.6 0.6 0.4 1.4 -0.3 2.4 -0.7 1.0 -0.6 -0.1 -0.2 -0.3 -0.6 -1.8 0.1 -1.8zM239.6 445.2l1 -0.4 0.6 0.1 0.7 0.3 0.9 1.2 0 1.8 -1 1.2 -0.6 0.3 -1.2 -0.2 -1.1 -1.3 -0.1 -1.8z" fill="#fc1400" fill-rule="evenodd"/><path d="M247.8 437.4l0.3 1.2 -0.3 1.1 -0.6 -0.5 -0.1 -0.6 0.1 -0.7zM240.0 445.8l1.2 -0.1 0.8 0.7 0.2 1.2 -0.4 0.8 -0.6 0.5 -1.2 -0.1 -0.6 -0.9 0 -1.2z" fill="#f60700" fill-rule="evenodd"/></g>
<rect x="204.60" y="408.00" width="82.40" height="82.40" fill="none" stroke="#b8b8b8" stroke-width="0.7"/>
<path d="M204.6 408.0V490.4H287.0M203.0 486.3h1.6M203.0 468.2h1.6M203.0 450.0h1.6M203.0 431.9h1.6M203.0 413.8h1.6M212.8 490.4v1.6M231.0 490.4v1.6M249.1 490.4v1.6M267.2 490.4v1.6M285.4 490.4v1.6" fill="none" stroke="#444" stroke-width="0.7"/>
<path d="M203.7 480.5h0.9M203.7 477.2h0.9M203.7 474.7h0.9M203.7 462.4h0.9M203.7 459.1h0.9M203.7 456.6h0.9M203.7 444.3h0.9M203.7 441.0h0.9M203.7 438.5h0.9M203.7 426.1h0.9M203.7 422.8h0.9M203.7 420.4h0.9M203.7 408.0h0.9M218.6 490.4v0.9M221.9 490.4v0.9M224.4 490.4v0.9M236.7 490.4v0.9M240.0 490.4v0.9M242.5 490.4v0.9M254.9 490.4v0.9M258.2 490.4v0.9M260.6 490.4v0.9M273.0 490.4v0.9M276.3 490.4v0.9M278.8 490.4v0.9" fill="none" stroke="#666" stroke-width="0.5"/>
<path d="M244.9 408.0L244.9 490.4" stroke="#111" stroke-width="0.9"/>
<path d="M204.6 445.4L287.0 445.4" stroke="#111" stroke-width="0.9"/>
<text x="283.50" y="416.63" font-size="8.69" text-anchor="end" font-weight="bold" fill="#000" stroke="#000" stroke-width="0.1" transform="translate(25.51 0) scale(0.91 1)">27.1</text>
<rect x="204.60" y="396.40" width="82.40" height="11.60" fill="#fff" stroke="#28a850" stroke-width="0.9"/>
<text x="245.80" y="404.96" font-size="8.80" text-anchor="middle" font-weight="bold" fill="#28a850" stroke="#28a850" stroke-width="0.1" transform="translate(22.12 0) scale(0.91 1)">M7GA-DC</text>
<rect x="293.80" y="408.00" width="82.70" height="82.40" fill="#fff" stroke="none" stroke-width="1"/>
<g filter="url(#bl)"><path d="M339.9 422.4l1.9 -0.3 1.8 0.8 1.6 1.9 1.2 2.4 1 3.6 0.6 4.2 0.1 4.8 -0.2 4.8 -0.5 4.2 -1.1 5.4 -1.2 4.2 -2 4.8 -1.7 3.0 -2 2.5 -1.8 1.4 -1.2 0.4 -1.2 0.1 -1.8 -0.8 -1.2 -1.2 -1.2 -2.1 -1 -2.7 -0.6 -3.0 -0.5 -4.2 0.2 -7.8 0.5 -4.2 1 -5.4 2.5 -7.8 1.8 -3.6 1.5 -2.3 1.8 -2.0z" fill="#0000eb" fill-rule="evenodd"/><path d="M339.2 425.4l1.4 -0.5 1.8 0.3 1.5 1.4 1.3 2.4 0.8 3.0 0.6 3.6 0.2 4.2 -0.1 4.2 -0.5 4.2 -0.9 4.8 -1.3 4.2 -1.4 3.6 -1.4 2.6 -1.8 2.4 -1.8 1.3 -1.8 0.3 -1.2 -0.3 -1.2 -1.1 -1.2 -1.9 -0.8 -2.1 -1.1 -6.0 0.1 -7.2 1 -7.2 2.3 -7.8 2.7 -5.4 1.2 -1.6z" fill="#000bf9" fill-rule="evenodd"/><path d="M339.4 427.2l1.8 -0.4 1.2 0.6 1.2 1.4 0.9 2.0 0.7 2.4 0.5 3.6 0 7.2 -1.1 7.8 -1.2 4.2 -1.2 3.0 -1.2 2.4 -1.6 2.1 -1.8 1.4 -1.2 0.2 -1.2 -0.3 -1.2 -1.1 -1.7 -3.5 -0.9 -5.4 0.1 -6.6 0.9 -6.6 1.9 -6.6 2.3 -4.8 1.6 -2.1z" fill="#001cff" fill-rule="evenodd"/><path d="M339.9 428.4l1.3 -0.1 1.2 0.8 1.1 1.7 0.7 1.8 0.9 5.4 -0.2 7.2 -1.2 7.2 -2.1 6.0 -1.4 2.4 -1.4 1.6 -1.2 0.7 -1.2 0.2 -1.2 -0.6 -1 -1.3 -1.4 -3.6 -0.6 -5.4 0.2 -6.0 1.2 -6.6 1.7 -5.4 2.3 -4.2 1.2 -1.2z" fill="#003aff" fill-rule="evenodd"/><path d="M339.3 429.6l1.3 -0.4 1.2 0.5 1 1.1 0.8 1.7 1 4.9 0 6.6 -0.9 6.6 -1.9 6.1 -1.2 2.4 -1.2 1.6 -1.2 1.1 -1.2 0.3 -1.2 -0.3 -0.6 -0.5 -1.5 -2.9 -0.9 -4.8 -0.1 -5.4 0.9 -6.6 1.5 -5.4 1.9 -4.1 1.2 -1.6z" fill="#0058ff" fill-rule="evenodd"/><path d="M339.4 430.2l1.2 -0.3 1.2 0.5 0.8 1.0 0.8 1.8 0.9 4.8 0 6.0 -1 6.6 -1.6 5.4 -1.1 2.2 -1.2 1.7 -1.2 1.0 -1.2 0.4 -1.2 -0.5 -0.6 -0.6 -1.4 -3.0 -0.8 -4.8 0.1 -5.4 0.8 -5.4 1.5 -5.4 1.7 -3.6 1.1 -1.5z" fill="#009bff" fill-rule="evenodd"/><path d="M339.5 430.8l1.1 -0.2 1.2 0.6 1.4 2.6 0.8 4.8 0 6.0 -1 6.0 -1.8 5.5 -1.8 3.0 -1.2 1.0 -1.2 0.3 -1.2 -0.6 -0.6 -0.7 -1.3 -3.1 -0.6 -4.2 0.2 -5.4 0.8 -5.4 1.4 -4.8 1.9 -3.6z" fill="#00d9ff" fill-rule="evenodd"/><path d="M339.8 431.4l0.8 -0.1 1.1 0.7 1.3 2.4 0.8 4.8 -0.1 5.4 -0.9 5.4 -1.6 5.1 -1.8 3.1 -1.2 1.1 -1.2 0.2 -1.2 -0.7 -0.6 -0.8 -1 -2.6 -0.6 -4.2 0.1 -4.8 0.7 -4.8 1.7 -5.4 1.5 -3.0 1.2 -1.3z" fill="#00f9d9" fill-rule="evenodd"/><path d="M338.8 432.6l1.2 -0.6 0.6 0.0 1.2 0.9 0.6 1.0 1 4.1 0.1 5.4 -0.9 6.0 -1.4 4.8 -1.8 3.2 -1.2 1.0 -1.2 0.2 -0.6 -0.2 -1 -1.2 -1 -2.4 -0.5 -3.6 0 -4.2 0.6 -4.2 1.2 -4.8 1.3 -3.1z" fill="#00fc8c" fill-rule="evenodd"/><path d="M338.9 433.2l1.1 -0.5 0.6 0.1 1.2 1.0 0.6 1.2 0.8 4.2 -0.1 4.8 -0.8 5.4 -1.6 4.8 -1.9 2.9 -1.2 0.7 -0.6 -0.1 -1.2 -0.8 -1.2 -2.8 -0.5 -3.5 0.1 -4.2 0.6 -4.2 1.2 -4.2 1.4 -3.0z" fill="#0dff46" fill-rule="evenodd"/><path d="M339.3 433.8l0.7 -0.2 1.2 0.5 1.1 2.1 0.6 3.6 -0.2 4.8 -0.8 4.8 -1.3 3.8 -1.8 2.8 -1.2 0.7 -0.6 -0.1 -1.2 -0.9 -1 -2.7 -0.4 -3.6 0.1 -3.6 0.7 -4.2 1.2 -3.7 1.2 -2.4z" fill="#40ff2a" fill-rule="evenodd"/><path d="M338.7 435.0l0.7 -0.4 1.2 0.1 1.2 1.6 0.7 3.5 -0.1 4.2 -0.8 4.8 -1.2 3.6 -1.6 2.5 -1.2 0.7 -0.6 0.0 -1.2 -1.1 -0.8 -2.1 -0.3 -3.0 0 -3.0 0.7 -4.2 0.9 -3.0 1.3 -2.9z" fill="#73ff0e" fill-rule="evenodd"/><path d="M339.1 435.6l0.9 -0.2 0.6 0.2 1.1 1.8 0.5 3.0 -0.2 4.2 -0.8 4.2 -1.2 3.3 -1.6 2.1 -0.8 0.4 -0.6 0.0 -1.2 -1.2 -0.5 -1.6 -0.4 -3.0 0.1 -3.0 0.7 -3.6 0.9 -3.0 1 -2.1z" fill="#a9ff00" fill-rule="evenodd"/><path d="M338.7 436.8l0.7 -0.4 0.6 0.0 0.6 0.4 0.6 1.0 0.5 2.6 0 3.6 -0.8 4.2 -1.1 3.0 -1.6 2.1 -1.2 0.2 -0.7 -0.5 -0.7 -1.8 -0.4 -2.4 0.1 -3.0 1.2 -5.4 1.1 -2.3z" fill="#e2ff00" fill-rule="evenodd"/><path d="M339.2 437.4l0.8 0.0 0.6 0.6 0.5 1.2 0.3 2.4 -0.1 3.0 -0.8 3.6 -1.1 2.7 -1.2 1.4 -1.2 0.3 -0.7 -0.8 -0.6 -1.8 0 -4.8 1.3 -5.1 1.2 -2.0z" fill="#ffe200" fill-rule="evenodd"/><path d="M338.5 438.6l0.9 -0.4 0.6 0.2 0.5 0.8 0.5 1.8 0 2.4 -0.3 2.4 -0.8 3.0 -1.1 2.1 -1.2 0.8 -0.6 -0.1 -0.7 -1.0 -0.4 -1.8 -0.1 -2.4 1 -4.8 0.8 -1.9z" fill="#ffa900" fill-rule="evenodd"/><path d="M338.7 439.2l0.7 -0.2 0.8 0.8 0.5 1.8 0 2.4 -0.4 2.4 -0.8 2.4 -0.7 1.2 -1.2 0.9 -0.6 -0.2 -0.6 -1.1 -0.2 -3.8 0.8 -3.9 0.6 -1.4z" fill="#ff7000" fill-rule="evenodd"/><path d="M338.2 440.4l0.6 -0.5 0.6 0.0 0.6 0.8 0.3 3.3 -0.9 4.0 -0.8 1.4 -1 0.7 -0.6 -0.4 -0.4 -0.9 -0.2 -2.5 0.6 -3.5z" fill="#ff3600" fill-rule="evenodd"/><path d="M338.5 441.0l0.3 -0.2 0.6 0.1 0.4 0.7 0.1 3.0 -1 3.6 -0.7 0.8 -0.6 0.2 -0.7 -1.0 -0.1 -3.0 0.8 -3.0z" fill="#fc1400" fill-rule="evenodd"/><path d="M338.3 442.2l0.5 -0.3 0.6 0.7 0.1 2.0 -0.7 2.6 -0.6 0.7 -0.6 0.1 -0.4 -1.0 0 -1.8 0.4 -1.8z" fill="#f60700" fill-rule="evenodd"/></g>
<rect x="293.80" y="408.00" width="82.70" height="82.40" fill="none" stroke="#b8b8b8" stroke-width="0.7"/>
<path d="M293.8 408.0V490.4H376.5M292.2 486.3h1.6M292.2 468.2h1.6M292.2 450.0h1.6M292.2 431.9h1.6M292.2 413.8h1.6M302.1 490.4v1.6M320.3 490.4v1.6M338.5 490.4v1.6M356.7 490.4v1.6M374.8 490.4v1.6" fill="none" stroke="#444" stroke-width="0.7"/>
<path d="M292.9 480.5h0.9M292.9 477.2h0.9M292.9 474.7h0.9M292.9 462.4h0.9M292.9 459.1h0.9M292.9 456.6h0.9M292.9 444.3h0.9M292.9 441.0h0.9M292.9 438.5h0.9M292.9 426.1h0.9M292.9 422.8h0.9M292.9 420.4h0.9M292.9 408.0h0.9M307.9 490.4v0.9M311.2 490.4v0.9M313.6 490.4v0.9M326.1 490.4v0.9M329.4 490.4v0.9M331.8 490.4v0.9M344.2 490.4v0.9M347.6 490.4v0.9M350.0 490.4v0.9M362.4 490.4v0.9M365.7 490.4v0.9M368.2 490.4v0.9" fill="none" stroke="#666" stroke-width="0.5"/>
<path d="M334.6 408.0L334.6 490.4" stroke="#111" stroke-width="0.9"/>
<path d="M293.8 445.4L376.5 445.4" stroke="#111" stroke-width="0.9"/>
<text x="373.00" y="416.63" font-size="8.69" text-anchor="end" font-weight="bold" fill="#000" stroke="#000" stroke-width="0.1" transform="translate(33.57 0) scale(0.91 1)">45.2</text>
<rect x="293.80" y="396.40" width="82.70" height="11.60" fill="#fff" stroke="#8a3a9a" stroke-width="0.9"/>
<text x="335.15" y="404.96" font-size="8.80" text-anchor="middle" font-weight="bold" fill="#8a3a9a" stroke="#8a3a9a" stroke-width="0.1" transform="translate(30.16 0) scale(0.91 1)">M7GA-DC+Anti-PD-1</text>
<ellipse cx="205.6" cy="469" rx="1.2" ry="2.2" fill="#0000e0"/>
<path d="M16.6 442.4L16.6 414.2" stroke="#231815" stroke-width="1.0"/>
<path d="M16.60,409.20 L14.20,415.20 L19.00,415.20 Z" fill="#231815" stroke="none" stroke-width="1"/>
<text x="7.90" y="454.83" font-size="9.02" text-anchor="middle" font-weight="bold" fill="#000" transform="rotate(-90 7.90 452.00) translate(7.90 0) scale(0.91 1) translate(-7.90 0)" stroke="#000" stroke-width="0.1">Tumor</text>
<text x="16.80" y="472.88" font-size="7.59" text-anchor="middle" fill="#222" transform="rotate(-90 16.80 470.50) translate(16.80 0) scale(0.91 1) translate(-16.80 0)" stroke="#222" stroke-width="0.1">CD86 (APC)</text>
<text x="24.50" y="500.98" font-size="7.59" fill="#222" stroke="#222" stroke-width="0.1" transform="translate(2.20 0) scale(0.91 1)"><tspan>CD80 (PB450) (Gated on CD11c</tspan><tspan font-size="4.55" dy="-2.59">+</tspan><tspan dy="2.59"> cells)</tspan></text>
<path d="M150.8 498.6L358.5 498.6" stroke="#231815" stroke-width="1.0"/>
<path d="M364.50,498.60 L357.50,496.00 L357.50,501.20 Z" fill="#231815" stroke="none" stroke-width="1"/>
<path d="M401.4 410.1L401.4 489.6" stroke="#000" stroke-width="0.9"/>
<path d="M401.4 489.6L495.6 489.6" stroke="#000" stroke-width="0.9"/>
<path d="M398.9 489.6L401.4 489.6" stroke="#000" stroke-width="0.9"/>
<text x="398.30" y="492.05" font-size="7.81" text-anchor="end" fill="#000" stroke="#000" stroke-width="0.1" transform="translate(35.85 0) scale(0.91 1)">0</text>
<path d="M398.9 473.8L401.4 473.8" stroke="#000" stroke-width="0.9"/>
<text x="398.30" y="476.21" font-size="7.81" text-anchor="end" fill="#000" stroke="#000" stroke-width="0.1" transform="translate(35.85 0) scale(0.91 1)">20</text>
<path d="M398.9 457.9L401.4 457.9" stroke="#000" stroke-width="0.9"/>
<text x="398.30" y="460.37" font-size="7.81" text-anchor="end" fill="#000" stroke="#000" stroke-width="0.1" transform="translate(35.85 0) scale(0.91 1)">40</text>
<path d="M398.9 442.1L401.4 442.1" stroke="#000" stroke-width="0.9"/>
<text x="398.30" y="444.53" font-size="7.81" text-anchor="end" fill="#000" stroke="#000" stroke-width="0.1" transform="translate(35.85 0) scale(0.91 1)">60</text>
<path d="M398.9 426.2L401.4 426.2" stroke="#000" stroke-width="0.9"/>
<text x="398.30" y="428.69" font-size="7.81" text-anchor="end" fill="#000" stroke="#000" stroke-width="0.1" transform="translate(35.85 0) scale(0.91 1)">80</text>
<path d="M398.9 410.4L401.4 410.4" stroke="#000" stroke-width="0.9"/>
<text x="398.30" y="412.85" font-size="7.81" text-anchor="end" fill="#000" stroke="#000" stroke-width="0.1" transform="translate(35.85 0) scale(0.91 1)">100</text>
<rect x="409.45" y="481.28" width="12.90" height="8.32" fill="#fff" stroke="#1a1aff" stroke-width="1.1"/>
<path d="M415.9 480.1L415.9 482.5" stroke="#1a1aff" stroke-width="0.9900000000000001"/>
<path d="M413.3 480.1L418.5 480.1" stroke="#1a1aff" stroke-width="0.9900000000000001"/>
<path d="M413.3 482.5L418.5 482.5" stroke="#1a1aff" stroke-width="0.9900000000000001"/>
<circle cx="411.40" cy="480.89" r="1.35" fill="none" stroke="#1a1aff" stroke-width="0.8"/>
<circle cx="413.65" cy="482.47" r="1.35" fill="none" stroke="#1a1aff" stroke-width="0.8"/>
<circle cx="415.90" cy="481.68" r="1.35" fill="none" stroke="#1a1aff" stroke-width="0.8"/>
<circle cx="418.15" cy="480.10" r="1.35" fill="none" stroke="#1a1aff" stroke-width="0.8"/>
<circle cx="420.40" cy="479.30" r="1.35" fill="none" stroke="#1a1aff" stroke-width="0.8"/>
<rect x="430.85" y="474.55" width="13.10" height="15.05" fill="#fff" stroke="#ff1a1a" stroke-width="1.1"/>
<path d="M437.4 473.0L437.4 476.1" stroke="#ff1a1a" stroke-width="0.9900000000000001"/>
<path d="M434.8 473.0L440.0 473.0" stroke="#ff1a1a" stroke-width="0.9900000000000001"/>
<path d="M434.8 476.1L440.0 476.1" stroke="#ff1a1a" stroke-width="0.9900000000000001"/>
<circle cx="432.90" cy="472.97" r="1.35" fill="none" stroke="#ff1a1a" stroke-width="0.8"/>
<circle cx="435.90" cy="475.34" r="1.35" fill="none" stroke="#ff1a1a" stroke-width="0.8"/>
<circle cx="438.90" cy="474.55" r="1.35" fill="none" stroke="#ff1a1a" stroke-width="0.8"/>
<circle cx="441.90" cy="473.76" r="1.35" fill="none" stroke="#ff1a1a" stroke-width="0.8"/>
<rect x="452.35" y="467.66" width="13.30" height="21.94" fill="#fff" stroke="#1ec21e" stroke-width="1.1"/>
<path d="M459.0 465.0L459.0 470.2" stroke="#1ec21e" stroke-width="0.9900000000000001"/>
<path d="M456.4 465.0L461.6 465.0" stroke="#1ec21e" stroke-width="0.9900000000000001"/>
<path d="M456.4 470.2L461.6 470.2" stroke="#1ec21e" stroke-width="0.9900000000000001"/>
<circle cx="454.50" cy="465.84" r="1.35" fill="none" stroke="#1ec21e" stroke-width="0.8"/>
<circle cx="457.50" cy="468.22" r="1.35" fill="none" stroke="#1ec21e" stroke-width="0.8"/>
<circle cx="460.50" cy="469.80" r="1.35" fill="none" stroke="#1ec21e" stroke-width="0.8"/>
<circle cx="463.50" cy="466.63" r="1.35" fill="none" stroke="#1ec21e" stroke-width="0.8"/>
<rect x="473.95" y="452.38" width="12.90" height="37.22" fill="#fff" stroke="#b526f0" stroke-width="1.1"/>
<path d="M480.4 443.7L480.4 461.1" stroke="#b526f0" stroke-width="0.9900000000000001"/>
<path d="M477.8 443.7L483.0 443.7" stroke="#b526f0" stroke-width="0.9900000000000001"/>
<path d="M477.8 461.1L483.0 461.1" stroke="#b526f0" stroke-width="0.9900000000000001"/>
<circle cx="475.90" cy="442.08" r="1.35" fill="none" stroke="#b526f0" stroke-width="0.8"/>
<circle cx="478.90" cy="451.58" r="1.35" fill="none" stroke="#b526f0" stroke-width="0.8"/>
<circle cx="481.90" cy="457.92" r="1.35" fill="none" stroke="#b526f0" stroke-width="0.8"/>
<circle cx="484.90" cy="460.30" r="1.35" fill="none" stroke="#b526f0" stroke-width="0.8"/>
<path d="M414.2 412.2L480.7 412.2" stroke="#444" stroke-width="0.9"/>
<text x="449.95" y="410.36" font-size="8.80" text-anchor="middle" fill="#000" stroke="#000" stroke-width="0.1" transform="translate(40.50 0) scale(0.91 1)">p&lt;0.0001</text>
<path d="M432.2 425.1L480.7 425.1" stroke="#444" stroke-width="0.9"/>
<text x="458.95" y="423.26" font-size="8.80" text-anchor="middle" fill="#000" stroke="#000" stroke-width="0.1" transform="translate(41.31 0) scale(0.91 1)">p&lt;0.0001</text>
<path d="M452.2 436.5L480.7 436.5" stroke="#444" stroke-width="0.9"/>
<text x="468.95" y="434.66" font-size="8.80" text-anchor="middle" fill="#000" stroke="#000" stroke-width="0.1" transform="translate(42.21 0) scale(0.91 1)">p=0.0021</text>
<path d="M414.2 446.7L458.8 446.7" stroke="#444" stroke-width="0.9"/>
<text x="439.00" y="444.86" font-size="8.80" text-anchor="middle" fill="#000" stroke="#000" stroke-width="0.1" transform="translate(39.51 0) scale(0.91 1)">p=0.0065</text>
<path d="M413.3 469.5L437.5 469.5" stroke="#444" stroke-width="0.9"/>
<text x="427.90" y="467.66" font-size="8.80" text-anchor="middle" fill="#000" stroke="#000" stroke-width="0.1" transform="translate(38.51 0) scale(0.91 1)">ns</text>
<path d="M432.2 460.2L458.8 460.2" stroke="#444" stroke-width="0.9"/>
<text x="448.00" y="458.36" font-size="8.80" text-anchor="middle" fill="#000" stroke="#000" stroke-width="0.1" transform="translate(40.32 0) scale(0.91 1)">ns</text>
<text transform="translate(385.60,439.50) rotate(-90) scale(0.91 1)" font-size="9.35" text-anchor="middle" fill="#222" stroke="#222" stroke-width="0.1"><tspan>CD80</tspan><tspan font-size="5.80" dy="-3.18">+</tspan><tspan dy="3.18">CD86</tspan><tspan font-size="5.80" dy="-3.18">+</tspan><tspan dy="3.18"> %</tspan></text>
<text x="4.00" y="513.18" font-size="10.45" font-weight="bold" fill="#000" stroke="#000" stroke-width="0.1" transform="translate(0.36 0) scale(0.91 1)">j</text>
<rect x="24.50" y="515.10" width="82.40" height="83.60" fill="#fff" stroke="none" stroke-width="1"/>
<g filter="url(#bl)"><path d="M58.5 540.3l2.6 -0.4 2.4 0.6 4.5 2.8 3.4 3.6 4.7 0.9 6 2.4 2.4 2.1 0.6 1.2 0.3 1.8 -0.6 3.6 -1.9 5.4 -1.7 3.6 -1.5 1.8 -1.8 1.0 -1.8 0.3 -4.8 -1.1 -3.1 4.0 -3.5 3.3 -3 1.8 -3 0.5 -3 -0.5 -3.6 -1.2 -2.4 -1.4 -1.8 -1.7 -1.9 -2.6 -1.3 -3.0 -0.8 -3.0 -0.4 -3.6 0.3 -3.6 0.8 -3.6 1.4 -3.6 1.8 -3.0 1.9 -2.4 2.4 -2.2 4.2 -2.8z" fill="#0000eb" fill-rule="evenodd"/><path d="M59.6 542.1l2.1 0.0 2.4 1.0 2.5 2.0 3.5 4.0 1.8 -0.4 2.4 0.2 4.2 1.2 2.4 1.1 1.5 1.1 0.9 1.2 0.6 2.4 -0.4 2.4 -1.7 4.8 -1.3 3.0 -1.4 1.9 -1.8 1.1 -1.8 0.2 -1.8 -0.3 -3.6 -1.3 -3.1 4.4 -2.7 3.0 -2.6 1.7 -2.4 0.5 -2.4 -0.4 -3.1 -1.2 -2.3 -1.3 -2 -1.7 -1.6 -2.2 -1.2 -2.6 -0.7 -3.0 -0.3 -3.0 0.3 -3.0 0.6 -3.0 1.2 -3.0 1.4 -2.4 2.3 -2.8 3.7 -3.2 2.3 -1.6z" fill="#000bf9" fill-rule="evenodd"/><path d="M58.6 543.9l1.3 -0.4 1.8 0.1 2.4 1.2 2.5 2.7 2.3 4.1 2.4 -1.3 1.8 -0.2 3.6 0.7 3 1.1 2.1 1.6 0.6 1.2 0.3 1.2 -0.3 2.4 -0.9 2.6 -1.8 4.0 -1.3 1.8 -1.7 1.0 -1.8 0.0 -6 -1.8 -2.3 4.4 -1.9 2.6 -2.4 2.0 -2.4 0.8 -1.8 -0.1 -1.8 -0.7 -3.3 -2.2 -2 -1.8 -1.3 -1.7 -1 -1.9 -0.7 -2.4 -0.3 -2.4 0.4 -4.8 0.8 -2.4 1.1 -2.4 1.7 -2.4 3.6 -4.2 1.6 -1.4z" fill="#001cff" fill-rule="evenodd"/><path d="M58.6 545.1l1.3 -0.4 1.8 0.1 1.2 0.5 1.3 1.0 1.4 1.8 1 1.8 1.7 5.1 0.6 -0.1 1.2 -1.8 1.2 -1.1 1.8 -0.4 2.4 0.1 3 0.7 1.8 1.0 1 1.3 0.3 1.8 -0.2 1.8 -1.1 2.8 -1.8 3.2 -1.1 1.2 -1.3 0.6 -1.2 0.1 -6.6 -2.0 -2.1 4.9 -1.5 2.4 -2.4 2.3 -2.4 0.8 -1.8 -0.3 -1.8 -1.0 -3.4 -3.6 -2.2 -3.6 -0.6 -1.8 -0.3 -2.4 0.5 -4.2 1.7 -4.2 3.7 -6.0 1.2 -1.3z" fill="#003aff" fill-rule="evenodd"/><path d="M59.0 545.7l1.5 -0.3 1.8 0.4 1.2 0.8 1.3 1.5 2 4.2 1 6.0 0.5 1.2 1.2 -1.2 2 -4.2 1.8 -1.2 2.8 -0.2 2.4 0.5 1.8 1.4 0.6 1.9 -0.3 1.8 -0.9 2.1 -1.8 2.6 -1.2 1.0 -1.2 0.4 -1.2 -0.2 -5.4 -2.3 -1.2 0.4 -1.1 4.4 -1.7 3.6 -1.4 1.7 -1.2 1.0 -2.4 0.8 -1.2 -0.1 -1.2 -0.5 -1.3 -1.1 -1.5 -1.8 -1.9 -4.2 -0.6 -2.4 -0.2 -2.4 0.5 -4.8 1.8 -5.4 2.3 -3.6 1.3 -1.2z" fill="#0058ff" fill-rule="evenodd"/><path d="M59.0 546.3l1.5 -0.3 1.5 0.3 1.5 1.0 1.2 1.4 1.7 4.2 0.8 6.0 -0.3 5.4 -1.4 4.2 -1.1 1.8 -1.5 1.7 -1.2 0.8 -1.8 0.4 -1.2 -0.1 -1.2 -0.6 -2 -2.2 -1.8 -4.2 -0.5 -4.2 0.3 -5.4 1.2 -4.8 2 -3.6 1.3 -1.2zM76.3 553.5l1.6 0.2 1.2 0.6 0.8 1.0 0.3 1.2 -0.3 1.8 -0.8 1.5 -1.8 1.8 -1.2 0.2 -1.2 -0.6 -0.8 -1.1 -0.8 -1.8 -0.2 -1.8 0.2 -1.2 1 -1.2z" fill="#009bff" fill-rule="evenodd"/><path d="M59.1 546.9l1.4 -0.3 1.4 0.3 1.6 1.1 1 1.3 1.6 4.2 0.7 6.0 -0.4 5.4 -1.3 3.6 -2.2 2.9 -1.2 0.9 -1.8 0.4 -1.2 -0.2 -1.2 -0.7 -1.8 -2.1 -1.3 -3.6 -0.5 -3.6 0.2 -5.4 1 -4.8 1.8 -3.6 1.2 -1.2zM76.4 554.7l0.9 -0.1 1.2 0.5 0.8 1.4 -0.5 1.8 -0.9 0.9 -0.6 0.2 -1.2 -0.5 -0.9 -1.8 0.3 -1.7z" fill="#00d9ff" fill-rule="evenodd"/><path d="M59.2 547.5l1.3 -0.3 1.3 0.3 1.1 0.7 1.3 1.7 1.5 4.2 0.7 6.0 -0.2 4.2 -1.5 4.2 -1.2 1.8 -1.2 1.1 -1.2 0.6 -1.2 0.2 -1.2 -0.3 -1.2 -0.7 -1.6 -2.1 -1.1 -3.0 -0.4 -3.6 0.3 -5.4 0.9 -4.8 1.5 -3.0 1 -1.1z" fill="#00f9d9" fill-rule="evenodd"/><path d="M59.5 548.1l1.6 -0.1 1.2 0.5 1.8 2.2 1.4 4.6 0.6 6.0 -0.5 4.2 -1.2 3.0 -2.1 2.4 -1.2 0.6 -1.2 0.1 -1.8 -0.6 -1.7 -1.9 -1.1 -3.0 -0.5 -3.6 0.4 -5.4 1 -4.8 1.3 -2.6 0.9 -1.0z" fill="#00fc8c" fill-rule="evenodd"/><path d="M58.8 549.3l1.1 -0.5 1.2 0.0 1.2 0.6 1.2 1.4 1.3 3.3 1 6.0 -0.1 3.6 -1 3.6 -1.8 2.6 -1.2 0.9 -1.2 0.3 -1.8 -0.3 -1.8 -1.7 -1.1 -2.4 -0.6 -3.0 0.1 -4.2 0.9 -5.4 1.1 -3.0z" fill="#0dff46" fill-rule="evenodd"/><path d="M59.0 550.5l0.9 -0.4 1.2 0.0 1.2 0.7 0.6 0.8 1.5 3.7 1 5.4 -0.2 3.6 -0.9 3.0 -1.9 2.4 -1.9 0.8 -1.8 -0.4 -1.6 -1.6 -1 -2.4 -0.5 -3.0 0.3 -4.2 1 -4.6 1.1 -2.6z" fill="#40ff2a" fill-rule="evenodd"/><path d="M59.2 552.3l0.7 -0.4 1.2 0.0 1.2 0.9 0.6 0.9 1.6 4.0 0.6 3.6 -0.2 3.0 -1 3.0 -1.6 1.9 -1.8 0.7 -1.8 -0.4 -1.2 -1.2 -1 -2.2 -0.5 -2.4 0 -3.0 0.6 -3.0 1.5 -4.0z" fill="#73ff0e" fill-rule="evenodd"/><path d="M59.1 554.7l1.4 -0.6 1.2 0.4 0.6 0.5 1.6 2.7 0.9 3.6 -0.2 3.0 -0.8 2.4 -1.5 2.0 -1.8 0.7 -1.4 -0.3 -1.3 -1.2 -1 -1.8 -0.5 -2.4 0 -2.4 0.6 -2.8 1.2 -2.7z" fill="#a9ff00" fill-rule="evenodd"/><path d="M59.1 556.5l1.4 -0.5 1.8 0.7 1.2 1.6 0.9 3.0 -0.1 3.0 -0.8 2.2 -1.2 1.5 -1.8 0.8 -1.2 -0.3 -1.2 -1.0 -0.8 -1.4 -0.6 -2.4 0.1 -2.4 0.4 -1.8 0.9 -2.0z" fill="#e2ff00" fill-rule="evenodd"/><path d="M59.0 557.7l1.5 -0.5 1.2 0.2 1.2 1.1 1 2.2 0.2 2.4 -0.6 2.4 -1.1 1.8 -1.3 0.8 -1.2 0.0 -1.2 -0.7 -1 -1.3 -0.5 -1.8 -0.1 -1.8 0.2 -1.8 0.8 -2.0z" fill="#ffe200" fill-rule="evenodd"/><path d="M59.5 558.3l1.6 -0.2 1.2 0.6 0.9 1.4 0.5 1.8 -0.2 2.4 -0.6 1.7 -1.2 1.3 -1.2 0.3 -1.2 -0.3 -0.7 -0.6 -0.7 -1.2 -0.4 -1.8 0 -1.8 0.5 -1.8 0.7 -1.2z" fill="#ffa900" fill-rule="evenodd"/><path d="M59.9 558.9l1.2 -0.1 1.2 0.8 0.7 1.1 0.3 1.8 -0.1 1.8 -0.5 1.2 -1 1.2 -1.2 0.4 -1.1 -0.4 -0.7 -0.6 -0.9 -2.4 0.1 -1.8 0.3 -1.2 0.8 -1.2z" fill="#ff7000" fill-rule="evenodd"/><path d="M60.2 559.5l0.9 0.0 0.9 0.6 0.7 1.2 0.3 1.2 -0.1 1.3 -0.6 1.6 -0.6 0.7 -1.2 0.4 -1.1 -0.4 -0.5 -0.6 -0.7 -2.4 0.5 -2.4 0.6 -0.7z" fill="#ff3600" fill-rule="evenodd"/><path d="M59.4 560.7l0.5 -0.4 1.2 -0.1 1.2 1.2 0.3 1.7 -0.2 1.2 -0.7 1.1 -0.6 0.4 -1.2 0.0 -0.6 -0.5 -0.5 -1.0 -0.2 -1.8z" fill="#fc1400" fill-rule="evenodd"/><path d="M59.8 561.3l0.7 -0.3 0.6 0.1 0.7 0.8 0.2 1.8 -0.9 1.3 -1.2 -0.1 -0.6 -0.8 -0.1 -1.6z" fill="#f60700" fill-rule="evenodd"/></g>
<rect x="24.50" y="515.10" width="82.40" height="83.60" fill="none" stroke="#b8b8b8" stroke-width="0.7"/>
<path d="M24.5 515.1V598.7H106.9M22.9 594.5h1.6M22.9 576.1h1.6M22.9 557.7h1.6M22.9 539.3h1.6M22.9 521.0h1.6M32.7 598.7v1.6M50.9 598.7v1.6M69.0 598.7v1.6M87.1 598.7v1.6M105.3 598.7v1.6" fill="none" stroke="#444" stroke-width="0.7"/>
<path d="M23.6 588.7h0.9M23.6 585.3h0.9M23.6 582.8h0.9M23.6 570.3h0.9M23.6 566.9h0.9M23.6 564.4h0.9M23.6 551.9h0.9M23.6 548.5h0.9M23.6 546.0h0.9M23.6 533.5h0.9M23.6 530.1h0.9M23.6 527.6h0.9M38.5 598.7v0.9M41.8 598.7v0.9M44.3 598.7v0.9M56.6 598.7v0.9M59.9 598.7v0.9M62.4 598.7v0.9M74.8 598.7v0.9M78.1 598.7v0.9M80.5 598.7v0.9M92.9 598.7v0.9M96.2 598.7v0.9M98.7 598.7v0.9" fill="none" stroke="#666" stroke-width="0.5"/>
<path d="M67.1 515.1L67.1 598.7" stroke="#111" stroke-width="0.9"/>
<path d="M24.5 559.1L106.9 559.1" stroke="#111" stroke-width="0.9"/>
<text x="103.40" y="524.93" font-size="8.69" text-anchor="end" font-weight="bold" fill="#000" stroke="#000" stroke-width="0.1" transform="translate(9.31 0) scale(0.91 1)">7.22</text>
<rect x="114.50" y="515.10" width="82.70" height="83.60" fill="#fff" stroke="none" stroke-width="1"/>
<g filter="url(#bl)"><path d="M151.0 534.9l3.7 -0.1 4.2 0.3 3.6 0.7 2.4 0.9 1.8 1.2 1.6 1.8 0.9 1.8 0.7 2.4 0.4 3.6 0.1 4.2 1.4 2.4 0.2 2.4 -0.4 1.8 -1.6 2.4 -0.5 6.0 -0.7 3.6 -1.3 3.6 -1.7 2.4 -2.1 1.6 -3 1.1 -3.6 0.4 -3.6 -0.1 -4.8 -0.8 -3 -0.9 -1.8 -1.0 -1.8 -1.8 -1.2 -2.1 -0.7 -2.4 -0.6 -4.8 0.2 -7.8 0.6 -9.6 1.1 -5.4 1.6 -3.6 2 -2.1 2.4 -1.3z" fill="#0000eb" fill-rule="evenodd"/><path d="M153.5 537.3l3.6 0.1 3.6 0.8 3 1.2 1.8 1.5 1.3 1.8 0.9 2.4 0.8 6.5 1.9 1.3 0.7 1.2 0.3 1.2 0 1.8 -0.8 1.8 -0.9 0.9 -1.7 0.9 -0.9 7.2 -0.7 2.4 -1.2 2.4 -1.5 1.8 -1.8 1.2 -1.8 0.7 -2.4 0.5 -3 0.0 -3.6 -0.5 -3 -0.9 -2.4 -1.3 -1.5 -1.5 -1.2 -1.8 -0.8 -2.4 -0.3 -2.4 -0.2 -4.8 0.6 -10.2 0.6 -4.8 0.9 -3.0 1.4 -2.4 2.3 -2.0 3 -1.2z" fill="#000bf9" fill-rule="evenodd"/><path d="M150.7 539.7l2.8 -0.5 3.6 0.1 3 0.7 2.8 1.5 1.7 1.8 1.2 2.4 0.7 3.0 0.2 3.6 1.8 0.0 1.1 0.6 0.7 0.8 0.6 1.6 -0.1 1.8 -1 1.8 -1.3 0.8 -1.8 -0.2 -1 7.2 -1.6 4.2 -2.2 2.5 -1.8 1.0 -1.8 0.5 -2.4 0.3 -3 -0.3 -2.4 -0.6 -2.1 -1.0 -1.5 -1.0 -1.3 -1.4 -1 -1.8 -0.8 -2.4 -0.4 -3.6 0 -4.2 0.5 -7.8 0.7 -4.2 0.8 -2.4 1.5 -2.3 1.8 -1.6z" fill="#001cff" fill-rule="evenodd"/><path d="M151.9 540.9l2.2 -0.4 3 0.2 2.4 0.7 2.3 1.3 1.6 1.8 1.2 2.4 0.6 3.0 0.3 4.2 1.8 -1.1 1.2 0.0 1.2 0.9 0.6 1.4 -0.1 1.8 -0.5 1.0 -1 0.8 -1.8 0.0 -1.1 -0.6 -0.3 -0.7 -0.7 7.3 -1.3 4.2 -1 1.6 -1.4 1.4 -1.6 1.0 -1.8 0.5 -1.8 0.2 -2.4 -0.2 -2.4 -0.6 -1.8 -0.9 -1.5 -1.2 -1.5 -1.8 -0.8 -1.8 -0.7 -2.4 -0.3 -3.6 0.3 -6.0 0.5 -4.8 0.6 -3.0 0.9 -2.4 1.3 -1.9 1.8 -1.4z" fill="#003aff" fill-rule="evenodd"/><path d="M153.8 541.5l2.1 0.0 2.4 0.5 1.8 0.8 1.5 1.1 1 1.2 1 1.8 1 4.8 -0.1 9.6 -0.5 3.6 -0.7 2.4 -1.2 2.4 -1.4 1.5 -1.8 1.1 -2.4 0.6 -1.8 0.0 -2.4 -0.5 -1.8 -0.7 -1.8 -1.2 -1.2 -1.4 -1.1 -1.8 -0.7 -1.8 -0.4 -2.4 0 -3.0 0.6 -7.8 1.2 -5.4 1.3 -2.4 1.5 -1.5 1.8 -1.0zM166.5 554.1l0.8 -0.3 1.2 0.1 0.6 0.5 0.4 0.9 0.2 0.6 -0.3 1.2 -0.3 0.6 -1 0.6 -1.4 -0.2 -0.8 -1.0 -0.1 -1.8z" fill="#0058ff" fill-rule="evenodd"/><path d="M151.9 542.7l1.6 -0.4 2.4 -0.1 2.4 0.5 1.8 0.9 1.2 1.1 1.2 1.6 0.8 1.8 0.5 2.4 0.4 3.6 -0.1 5.4 -0.3 3.6 -0.7 3.0 -1 2.4 -1.4 1.8 -1.8 1.3 -1.8 0.5 -3.6 0.0 -1.8 -0.6 -1.8 -0.9 -1.2 -1.0 -1.3 -1.7 -1.4 -3.6 -0.2 -4.8 0.7 -7.2 0.7 -3.6 1.6 -3.6 1.1 -1.2z" fill="#009bff" fill-rule="evenodd"/><path d="M152.5 543.3l1.6 -0.4 2.4 0.1 1.8 0.5 1.7 1.0 1.3 1.3 1 1.7 1.1 4.2 0.3 3.6 -0.1 4.8 -0.4 3.6 -0.6 2.4 -1.2 2.4 -1.3 1.5 -1.8 1.1 -1.8 0.4 -3.6 -0.3 -3.1 -1.5 -1.3 -1.2 -1.2 -1.8 -0.7 -1.8 -0.4 -1.8 0 -2.4 0.7 -7.2 0.9 -4.8 0.9 -2.0 1.1 -1.6 1.3 -1.1z" fill="#00d9ff" fill-rule="evenodd"/><path d="M153.2 543.9l1.5 -0.2 1.8 0.1 1.8 0.6 1.2 0.7 1.2 1.2 1.1 1.8 1.1 4.2 0.2 7.8 -0.3 3.0 -0.6 2.4 -0.9 2.0 -1.2 1.6 -1.8 1.2 -1.8 0.5 -1.8 0.1 -1.8 -0.3 -3 -1.5 -2.1 -2.4 -0.8 -1.8 -0.4 -1.8 0 -2.4 1 -7.8 0.9 -4.2 0.9 -1.8 1.1 -1.4 1.2 -1.0z" fill="#00f9d9" fill-rule="evenodd"/><path d="M152.4 545.1l1.7 -0.5 1.8 -0.1 1.8 0.5 1.2 0.7 1.2 1.1 0.9 1.3 0.7 1.8 0.6 2.4 0.3 7.2 -0.2 3.0 -0.5 2.4 -0.8 1.8 -1.3 1.8 -1.5 1.1 -1.8 0.6 -3 -0.1 -3 -1.2 -2.2 -2.2 -1.2 -3.0 0 -3.6 1.6 -9.7 1.6 -3.5z" fill="#00fc8c" fill-rule="evenodd"/><path d="M153.5 545.7l1.2 -0.2 1.8 0.1 2.5 1.3 1.1 1.3 0.8 1.7 0.9 4.2 0.2 7.2 -0.3 2.4 -0.5 1.8 -1 1.8 -1.3 1.2 -1.2 0.6 -1.8 0.5 -3 -0.2 -2.4 -1.1 -2.1 -2.2 -1.1 -3.0 0.1 -3.0 2 -9.6 1.7 -3.2 1.2 -1.1z" fill="#0dff46" fill-rule="evenodd"/><path d="M153.1 547.5l1.6 -0.5 1.2 0.0 1.2 0.4 1.2 0.8 1.6 2.3 0.9 3.6 0.5 7.2 -0.4 3.6 -0.8 1.5 -1.2 1.3 -1.2 0.7 -1.8 0.5 -3 -0.2 -2.4 -1.1 -1.9 -2.1 -0.8 -2.4 0.1 -3.0 2.2 -8.4 1.1 -2.4z" fill="#40ff2a" fill-rule="evenodd"/><path d="M153.7 549.3l1 -0.3 1.6 0.3 1 0.6 1 1.2 1.1 3.0 1.4 7.2 -0.2 3.0 -0.8 1.8 -0.9 0.9 -1.2 0.7 -2.4 0.6 -2.4 -0.1 -2.4 -1.2 -1.8 -2.1 -0.6 -2.4 0.3 -2.4 2.7 -8.0 1.2 -1.8z" fill="#73ff0e" fill-rule="evenodd"/><path d="M154.0 551.1l0.7 0.0 1.2 0.5 1.1 1.3 2.7 6.6 0.7 3.0 -0.2 1.8 -0.9 1.8 -1.6 1.1 -2.4 0.6 -2.4 -0.2 -2.4 -1.1 -1.3 -1.6 -0.7 -2.4 0.4 -2.4 1.7 -3.6 1.1 -3.3 1.2 -1.6z" fill="#a9ff00" fill-rule="evenodd"/><path d="M153.5 552.9l1.2 0.0 0.8 0.6 1.5 3.6 1.9 2.6 0.9 2.2 0.1 1.8 -0.3 1.2 -1 1.2 -1.5 0.8 -2.4 0.3 -2.4 -0.3 -1.8 -1.0 -1.4 -2.2 -0.1 -1.8 0.4 -1.8 1.8 -3.0 1.2 -3.0z" fill="#e2ff00" fill-rule="evenodd"/><path d="M153.3 554.7l0.8 -0.4 0.6 0.3 1.5 3.1 2.1 2.4 1 1.8 0.2 1.8 -0.4 1.2 -0.8 1.0 -1.2 0.6 -3 0.2 -1.8 -0.3 -1.8 -1.2 -0.9 -1.5 -0.2 -1.2 0.3 -1.8 2.5 -3.6z" fill="#ffe200" fill-rule="evenodd"/><path d="M153.6 557.1l0.5 -0.2 0.6 0.5 3 2.8 1.2 1.7 0.3 1.2 -0.2 1.2 -1.3 1.5 -1.8 0.5 -3 -0.2 -1.8 -0.9 -1 -1.5 -0.3 -1.2 0.4 -1.8 0.9 -1.3z" fill="#ffa900" fill-rule="evenodd"/><path d="M152.7 558.9l0.8 -0.4 1.2 0.2 3 2.2 0.8 1.0 0.4 1.2 -0.6 1.8 -1.2 0.8 -3 0.1 -1.8 -0.4 -1.2 -0.8 -0.8 -1.5 0.2 -1.8 0.7 -1.2z" fill="#ff7000" fill-rule="evenodd"/><path d="M152.9 559.5l1.8 0.0 3 2.0 0.8 1.6 -0.2 1.2 -0.5 0.6 -1.3 0.5 -2.4 0.0 -1.8 -0.4 -0.9 -0.7 -0.6 -1.2 0 -1.2 0.9 -1.6z" fill="#ff3600" fill-rule="evenodd"/><path d="M153.1 560.1l1.6 0.1 2.8 1.7 0.6 1.2 -0.4 1.4 -0.6 0.4 -1.2 0.1 -2.4 -0.1 -1.4 -0.6 -0.8 -1.2 0 -1.2 0.7 -1.2z" fill="#fc1400" fill-rule="evenodd"/><path d="M152.4 561.3l1.1 -0.5 1.8 0.4 1.8 1.1 0.5 0.8 -0.1 0.6 -0.4 0.6 -0.6 0.2 -3.6 -0.5 -0.6 -0.4 -0.4 -1.1z" fill="#f60700" fill-rule="evenodd"/></g>
<rect x="114.50" y="515.10" width="82.70" height="83.60" fill="none" stroke="#b8b8b8" stroke-width="0.7"/>
<path d="M114.5 515.1V598.7H197.2M112.9 594.5h1.6M112.9 576.1h1.6M112.9 557.7h1.6M112.9 539.3h1.6M112.9 521.0h1.6M122.8 598.7v1.6M141.0 598.7v1.6M159.2 598.7v1.6M177.4 598.7v1.6M195.5 598.7v1.6" fill="none" stroke="#444" stroke-width="0.7"/>
<path d="M113.6 588.7h0.9M113.6 585.3h0.9M113.6 582.8h0.9M113.6 570.3h0.9M113.6 566.9h0.9M113.6 564.4h0.9M113.6 551.9h0.9M113.6 548.5h0.9M113.6 546.0h0.9M113.6 533.5h0.9M113.6 530.1h0.9M113.6 527.6h0.9M128.6 598.7v0.9M131.9 598.7v0.9M134.3 598.7v0.9M146.8 598.7v0.9M150.1 598.7v0.9M152.5 598.7v0.9M164.9 598.7v0.9M168.3 598.7v0.9M170.7 598.7v0.9M183.1 598.7v0.9M186.4 598.7v0.9M188.9 598.7v0.9" fill="none" stroke="#666" stroke-width="0.5"/>
<path d="M156.0 515.1L156.0 598.7" stroke="#111" stroke-width="0.9"/>
<path d="M114.5 559.1L197.2 559.1" stroke="#111" stroke-width="0.9"/>
<text x="193.70" y="524.93" font-size="8.69" text-anchor="end" font-weight="bold" fill="#000" stroke="#000" stroke-width="0.1" transform="translate(17.43 0) scale(0.91 1)">15.4</text>
<rect x="203.80" y="515.10" width="82.40" height="83.60" fill="#fff" stroke="none" stroke-width="1"/>
<g filter="url(#bl)"><path d="M236.6 537.3l3.8 -0.2 4.2 0.3 4.2 0.7 4.2 1.3 3 1.3 2.1 1.4 1.7 1.8 1.3 2.4 0.7 3.6 -0.1 4.2 -1.2 8.4 -1.2 6.0 -1.3 3.6 -1.7 3.0 -2.1 2.0 -2.4 1.3 -3 0.7 -3.6 -0.1 -4.8 -0.7 -6.6 -1.7 -3 -1.2 -2.6 -1.5 -1.8 -1.8 -1.3 -2.4 -0.7 -3.6 0.1 -4.2 1.7 -10.8 1.3 -5.4 1.3 -3.0 2 -2.6 2.4 -1.8z" fill="#0000eb" fill-rule="evenodd"/><path d="M237.4 539.7l2.4 -0.3 3 0.1 4.8 0.5 2.4 0.6 3.6 1.6 2.4 1.5 1.8 2.0 1 1.8 0.7 3.0 0 4.2 -0.8 6.6 -1.2 6.0 -1.1 3.0 -1.6 2.8 -1.8 1.8 -2.4 1.3 -2.4 0.6 -3.6 -0.1 -4.2 -0.7 -4.8 -1.4 -3 -1.2 -2.4 -1.5 -1.5 -1.6 -1.3 -2.4 -0.5 -3.0 0.1 -4.2 1.3 -8.4 1.4 -5.4 1.4 -3.0 1.5 -1.8 2.4 -1.6z" fill="#000bf9" fill-rule="evenodd"/><path d="M237.7 541.5l4.5 -0.4 5.4 0.4 1.8 0.4 3 1.5 2.4 1.7 1.6 1.8 0.9 1.8 0.6 3.0 0.1 3.6 -0.7 6.0 -1.2 5.4 -1.2 3.0 -1.5 2.4 -2 1.8 -2 1.0 -2.4 0.4 -3.6 -0.4 -3.6 -0.7 -3.6 -1.2 -2.4 -1.1 -2.1 -1.6 -1.5 -1.8 -0.9 -1.8 -0.5 -3.0 0.1 -3.6 0.9 -6.6 1.1 -4.8 1.1 -2.6 1.6 -2.2 2 -1.6z" fill="#001cff" fill-rule="evenodd"/><path d="M238.7 542.7l4.1 -0.3 4.8 0.2 1.8 0.4 2.5 1.5 2.2 1.8 1.4 1.8 0.7 1.8 0.6 3.0 0 3.6 -0.7 5.4 -1 4.2 -0.9 2.4 -1.5 2.4 -1.7 1.8 -2.2 1.1 -2.4 0.3 -3.6 -0.5 -3.6 -0.9 -3 -1.1 -1.8 -1.1 -1.6 -1.4 -1.3 -1.8 -0.7 -1.6 -0.5 -3.2 0.1 -3.6 0.7 -5.4 1.1 -4.2 1 -2.4 1.3 -1.8 1.7 -1.4z" fill="#003aff" fill-rule="evenodd"/><path d="M240.4 543.3l6.6 -0.1 2.4 0.5 2.1 1.4 2 1.8 1.3 1.8 0.7 1.8 0.5 2.4 0 3.6 -0.6 4.8 -0.9 4.2 -0.9 2.4 -1.4 2.4 -1.6 1.7 -1.8 1.1 -1.8 0.2 -3.6 -0.4 -3.3 -0.8 -3.3 -1.2 -1.8 -1.0 -1.4 -1.4 -1.2 -1.8 -0.7 -1.8 -0.5 -3.0 0.1 -3.6 0.8 -5.4 1.1 -3.8 1.2 -2.3 1.6 -1.7 2 -1.2z" fill="#0058ff" fill-rule="evenodd"/><path d="M241.0 543.9l6.6 -0.2 1.8 0.5 2 1.5 1.8 1.8 1.1 1.8 0.7 1.8 0.5 2.4 -0.1 3.6 -0.6 4.8 -0.9 3.6 -0.9 2.4 -1.4 2.4 -1.6 1.5 -1.8 0.9 -1.8 0.0 -3.7 -0.6 -5.9 -1.9 -1.7 -1.1 -1.1 -1.2 -1.1 -1.8 -0.6 -1.8 -0.4 -3.0 0.2 -4.2 0.7 -4.2 1.1 -3.6 1.4 -2.4 1.5 -1.5 1.8 -1.0z" fill="#009bff" fill-rule="evenodd"/><path d="M242.2 544.5l5.4 -0.3 1.8 0.5 2 1.6 1.5 1.8 1 1.8 0.8 2.4 0.2 3.0 -0.1 3.0 -1.4 7.2 -1 2.4 -1.2 2.0 -1.6 1.6 -1.4 0.6 -1.8 0.0 -3.6 -0.6 -6 -1.9 -1.5 -1.1 -1 -1.2 -0.9 -1.8 -0.5 -1.8 -0.3 -3.0 0.3 -4.2 0.7 -4.2 1.1 -3.0 1.5 -2.3 1.6 -1.3 2 -0.9z" fill="#00d9ff" fill-rule="evenodd"/><path d="M244.6 545.1l3.6 -0.4 1.9 1.0 1.7 1.8 1.1 1.8 0.8 1.8 0.5 2.4 0.1 3.0 -0.2 3.0 -1.5 6.6 -1 2.4 -1.3 1.8 -1.5 1.1 -1.2 0.3 -5.4 -1.1 -5.4 -1.7 -1.2 -0.9 -0.9 -1.3 -0.8 -1.8 -0.5 -2.4 -0.1 -3.6 0.5 -4.2 0.9 -3.6 1.2 -2.4 1.5 -1.8 1.8 -1.0 1.8 -0.6z" fill="#00f9d9" fill-rule="evenodd"/><path d="M244.9 545.7l2.1 -0.5 1.2 0.0 2 1.1 1.4 1.8 1 1.8 1.1 4.2 -0.2 6.0 -1.4 6.0 -1 2.4 -1.1 1.4 -1.2 0.9 -1.2 0.3 -9 -2.2 -1.8 -0.7 -1.1 -0.9 -0.8 -1.2 -0.9 -3.6 -0.1 -3.6 0.6 -4.2 0.8 -3.0 1.2 -2.4 1.5 -1.7 1.8 -1.1z" fill="#00fc8c" fill-rule="evenodd"/><path d="M246.9 545.7l1.3 -0.1 1.2 0.6 1.7 1.9 1.6 3.6 0.5 3.6 -0.4 6.0 -1.1 4.8 -1.7 3.2 -1.2 1.0 -1.2 0.3 -6.6 -1.9 -3 -0.6 -1.2 -0.5 -0.9 -0.9 -0.7 -1.2 -0.6 -1.8 -0.2 -2.4 0.2 -3.6 0.8 -3.6 0.8 -2.5 1.4 -2.3 1.2 -1.2 1.6 -0.8 4.2 -0.8z" fill="#0dff46" fill-rule="evenodd"/><path d="M247.1 546.3l1.1 -0.1 1.2 0.6 1.5 1.9 1.2 3.0 0.5 4.2 -0.4 6.0 -1 4.2 -0.9 1.8 -0.9 1.2 -0.6 0.5 -1.2 0.2 -5.4 -2.2 -4.2 -0.3 -1.2 -0.6 -1 -1.2 -0.4 -1.2 -0.4 -3.0 0.2 -3.0 0.7 -3.0 0.9 -2.4 1.2 -2.1 1.2 -1.3 1.2 -0.7 3.6 -0.9z" fill="#40ff2a" fill-rule="evenodd"/><path d="M247.3 546.9l0.9 -0.1 1.2 0.7 1.3 1.8 1 3.0 0.4 4.2 -0.4 5.4 -0.8 3.6 -1.5 2.8 -0.6 0.5 -1.2 0.3 -1.4 -0.6 -3.4 -2.7 -1.2 -0.1 -3 0.9 -1.2 -0.3 -0.9 -0.8 -0.6 -1.2 -0.5 -3.0 0.6 -4.2 0.8 -2.2 1.2 -2.2 1.8 -1.7 3.6 -1.1 2.8 -2.4z" fill="#73ff0e" fill-rule="evenodd"/><path d="M247.5 547.5l0.7 -0.1 1.2 0.7 1.1 1.8 0.9 3.0 0.3 3.6 -0.3 4.8 -0.9 4.2 -1.1 2.0 -0.6 0.6 -1.2 0.3 -1 -0.5 -1.1 -1.2 -2.1 -4.6 -0.6 -0.3 -1.3 1.9 -1.7 1.6 -1.8 0.5 -0.7 -0.3 -0.9 -1.2 -0.5 -3.0 0.5 -3.6 1.6 -3.5 1.2 -1.1 1.2 -0.3 1.2 0.3 1.2 0.9 0.6 -0.5 2 -4.2 1 -1.2z" fill="#a9ff00" fill-rule="evenodd"/><path d="M246.8 548.7l1.4 -0.5 0.6 0.2 0.8 0.9 1.1 2.4 0.5 3.6 0 4.8 -0.6 3.6 -1.2 2.8 -1.2 1.0 -1.2 -0.4 -1.2 -1.6 -0.8 -2.4 -0.3 -2.4 -0.1 -4.2 0.3 -3.6 0.7 -2.4zM239.2 554.7l1.2 0.2 0.7 1.0 0.4 1.8 0 2.4 -0.7 2.4 -0.7 1.2 -0.9 0.9 -1.2 0.3 -0.8 -0.6 -0.6 -1.2 -0.2 -3.0 1 -3.4 0.6 -1.0z" fill="#e2ff00" fill-rule="evenodd"/><path d="M247.2 549.3l1 -0.3 0.6 0.2 1 1.3 0.7 2.4 0.4 3.0 0 3.6 -0.6 3.6 -0.9 2.4 -1.2 1.1 -1.2 -0.6 -0.7 -1.1 -0.7 -2.4 -0.3 -3.0 -0.1 -3.6 0.4 -3.0 0.7 -2.4zM238.4 556.5l0.8 -0.5 0.9 0.5 0.5 1.2 0.1 1.8 -0.3 1.8 -0.6 1.5 -0.9 0.9 -0.9 0.2 -0.6 -0.5 -0.4 -0.9 -0.2 -1.8 0.6 -2.6z" fill="#ffe200" fill-rule="evenodd"/><path d="M247.6 549.9l0.6 -0.1 0.6 0.2 0.8 1.1 0.7 2.4 0.3 3.0 -0.1 3.6 -0.5 2.7 -0.6 1.6 -0.6 0.9 -0.6 0.3 -0.6 -0.1 -0.6 -0.6 -0.6 -1.2 -0.7 -4.8 0 -3.0 0.4 -3.0 0.6 -1.8zM238.4 557.7l0.8 -0.3 0.4 0.3 0.4 1.8 -0.3 1.8 -0.5 1.0 -0.6 0.5 -0.8 -0.3 -0.4 -1.2 0.1 -1.8z" fill="#ffa900" fill-rule="evenodd"/><path d="M247.3 551.1l0.9 -0.5 0.6 0.3 0.6 0.8 0.5 1.8 0.4 2.4 0 3.0 -0.5 3.0 -0.6 1.8 -1 1.0 -0.6 -0.2 -0.6 -0.8 -0.9 -4.2 0.2 -5.4 0.4 -1.8zM238.5 559.5l0.1 -0.3 0.4 0.3 0.1 0.6 -0.5 1.1 -0.4 -0.5z" fill="#ff7000" fill-rule="evenodd"/><path d="M247.7 551.7l0.5 -0.2 0.6 0.3 0.6 1.1 0.6 3.6 -0.1 3.0 -0.5 2.4 -0.6 1.4 -0.6 0.4 -0.6 -0.3 -0.6 -1.1 -0.6 -4.0 0.3 -4.2 0.3 -1.3z" fill="#ff3600" fill-rule="evenodd"/><path d="M247.6 552.9l0.6 -0.4 0.6 0.4 0.6 1.5 0.3 2.1 -0.3 4.0 -0.6 1.7 -0.6 0.5 -0.6 -0.5 -0.4 -0.9 -0.4 -2.4 0.1 -3.6z" fill="#fc1400" fill-rule="evenodd"/><path d="M248.0 554.1l0.2 -0.2 0.6 0.6 0.4 2.6 -0.3 3.0 -0.7 1.1 -0.6 -0.7 -0.4 -2.8 0.2 -2.4z" fill="#f60700" fill-rule="evenodd"/></g>
<rect x="203.80" y="515.10" width="82.40" height="83.60" fill="none" stroke="#b8b8b8" stroke-width="0.7"/>
<path d="M203.8 515.1V598.7H286.2M202.2 594.5h1.6M202.2 576.1h1.6M202.2 557.7h1.6M202.2 539.3h1.6M202.2 521.0h1.6M212.0 598.7v1.6M230.2 598.7v1.6M248.3 598.7v1.6M266.4 598.7v1.6M284.6 598.7v1.6" fill="none" stroke="#444" stroke-width="0.7"/>
<path d="M202.9 588.7h0.9M202.9 585.3h0.9M202.9 582.8h0.9M202.9 570.3h0.9M202.9 566.9h0.9M202.9 564.4h0.9M202.9 551.9h0.9M202.9 548.5h0.9M202.9 546.0h0.9M202.9 533.5h0.9M202.9 530.1h0.9M202.9 527.6h0.9M217.8 598.7v0.9M221.1 598.7v0.9M223.6 598.7v0.9M235.9 598.7v0.9M239.2 598.7v0.9M241.7 598.7v0.9M254.1 598.7v0.9M257.4 598.7v0.9M259.8 598.7v0.9M272.2 598.7v0.9M275.5 598.7v0.9M278.0 598.7v0.9" fill="none" stroke="#666" stroke-width="0.5"/>
<path d="M245.9 515.1L245.9 598.7" stroke="#111" stroke-width="0.9"/>
<path d="M203.8 559.1L286.2 559.1" stroke="#111" stroke-width="0.9"/>
<text x="282.70" y="524.93" font-size="8.69" text-anchor="end" font-weight="bold" fill="#000" stroke="#000" stroke-width="0.1" transform="translate(25.44 0) scale(0.91 1)">27.4</text>
<rect x="292.70" y="515.10" width="82.30" height="83.60" fill="#fff" stroke="none" stroke-width="1"/>
<g filter="url(#bl)"><path d="M334.0 537.9l3.1 -0.4 2.4 0.1 2.4 0.7 3.6 1.9 2.6 1.9 1.5 1.8 1.2 2.4 0.6 2.4 0.2 4.2 -0.5 7.8 -0.7 6.0 -1.1 4.8 -1.4 3.0 -2.1 2.4 -2.7 1.9 -3 1.0 -1.8 0.1 -2.4 -0.3 -5.4 -1.5 -6 -1.0 -3 -1.1 -2.1 -1.5 -1.5 -1.8 -1.1 -2.4 -0.6 -2.4 -0.1 -4.8 1.5 -12.6 0.9 -4.2 1.2 -3.0 2 -2.4 2.8 -1.7 2.4 -0.5z" fill="#0000eb" fill-rule="evenodd"/><path d="M336.0 539.7l2.3 -0.2 2.4 0.4 2.4 1.3 1.8 1.4 1.8 1.9 1.2 1.8 0.8 2.4 0.4 2.4 0 4.2 -0.7 9.0 -0.5 3.6 -0.9 3.0 -1.2 2.4 -2.1 2.4 -2.4 1.4 -2.4 0.6 -3 -0.4 -4.8 -1.6 -5.4 -1.1 -3 -1.1 -1.8 -1.3 -1.4 -1.9 -1 -2.4 -0.4 -2.4 0.1 -3.0 2 -12.6 0.9 -3.0 1 -2.0 1.4 -1.6 2.2 -1.3z" fill="#000bf9" fill-rule="evenodd"/><path d="M337.1 540.9l1.8 0.0 1.8 0.5 2.1 1.3 1.8 1.8 1.2 1.8 0.8 1.8 0.9 4.8 -0.5 10.8 -1.2 6.0 -1.1 2.4 -1.6 2.0 -1.8 1.3 -2.4 0.6 -3 -0.3 -5.4 -2.2 -4.8 -1.0 -2.4 -1.0 -1.2 -0.8 -1.3 -1.6 -0.8 -1.8 -0.4 -2.4 0.3 -3.0 1.4 -5.4 1.1 -6.0 0.5 -1.8 1 -1.9 1.2 -1.3 1.6 -1.0z" fill="#001cff" fill-rule="evenodd"/><path d="M336.3 542.1l1.4 -0.3 1.8 0.1 1.8 0.8 1.8 1.6 1.5 2.0 0.8 1.8 0.9 4.8 -0.3 10.2 -1.1 6.0 -1.1 2.4 -1.3 1.6 -1.8 1.2 -1.8 0.5 -3 -0.4 -5.4 -2.5 -4.8 -1.0 -1.8 -0.7 -1.2 -0.9 -1.1 -1.4 -0.8 -3.0 0.5 -3.6 2 -4.8 1.5 -5.4 0.9 -2.0 1.8 -1.8 6.3 -4.0z" fill="#003aff" fill-rule="evenodd"/><path d="M336.4 542.7l1.3 -0.4 1.8 0.2 1.7 0.8 1.3 1.2 1.3 1.8 0.9 1.8 1 4.8 -0.2 9.6 -1.1 6.0 -0.8 1.8 -1.2 1.8 -1.7 1.3 -1.8 0.6 -3 -0.4 -5.4 -2.8 -4.2 -0.7 -1.8 -0.7 -1.2 -0.8 -1 -1.3 -0.7 -2.4 0.1 -1.8 0.9 -2.4 3.6 -5.4 2.8 -6.0 1.9 -2.4 1.8 -1.8z" fill="#0058ff" fill-rule="evenodd"/><path d="M338.3 542.7l1.8 0.4 1.2 0.7 1.2 1.3 1.2 1.8 1.3 4.2 0.4 4.8 -0.5 7.8 -1.2 5.2 -1.1 2.0 -1.3 1.4 -1.2 0.7 -1.8 0.4 -3 -0.7 -4.8 -2.7 -4.2 -0.6 -1.8 -0.8 -0.9 -0.7 -0.9 -1.2 -0.5 -2.4 0.5 -2.1 1.2 -2.1 1.2 -1.2 2.7 -1.8 0.9 -1.2 1.6 -6.0 1.7 -3.0 3.1 -3.0 1.4 -0.8z" fill="#009bff" fill-rule="evenodd"/><path d="M337.1 543.3l1.8 -0.2 1.2 0.4 1.2 0.8 1.2 1.4 1.7 3.6 0.7 4.8 -0.3 8.4 -1.1 5.4 -1 2.2 -1.2 1.4 -1.2 0.8 -1.8 0.4 -1.2 -0.1 -1.8 -0.6 -4.8 -2.8 -3.6 -0.5 -1.8 -0.6 -1.6 -1.4 -0.6 -1.8 0.4 -2.3 1.2 -1.8 1.2 -0.9 3 -1.3 0.8 -0.9 0.6 -1.8 1 -5.4 1.3 -3.0 2 -2.4z" fill="#00d9ff" fill-rule="evenodd"/><path d="M336.7 543.9l1.6 -0.5 1.2 0.2 1.2 0.7 1.2 1.1 1.7 3.3 0.9 4.8 -0.2 7.8 -1.1 6.0 -0.7 1.8 -1.2 1.6 -1.2 0.9 -1.8 0.4 -1.2 0.0 -1.8 -0.7 -4.8 -3.0 -4.8 -0.8 -1.2 -0.8 -0.8 -1.8 0.3 -1.8 1.1 -1.5 1.2 -0.7 2.4 -0.6 1.2 -1.0 0.9 -2.2 0.8 -5.4 0.9 -3.0 1.9 -3.0z" fill="#00f9d9" fill-rule="evenodd"/><path d="M337.7 543.9l1.2 -0.1 1.2 0.5 2 2.0 1.5 3.6 0.6 4.8 -0.5 7.8 -1 4.8 -0.8 1.6 -1.2 1.4 -1.2 0.7 -1.2 0.3 -1.2 -0.1 -1.8 -0.6 -4.8 -3.4 -4.2 -0.5 -1.2 -0.9 -0.4 -1.5 0.4 -1.0 0.6 -0.7 1.2 -0.5 2.4 -0.5 1.2 -1.2 0.8 -2.1 1 -6.6 0.8 -3.0 1.9 -3.0 1.3 -1.2z" fill="#00fc8c" fill-rule="evenodd"/><path d="M337.1 544.5l1.2 -0.3 1.2 0.1 1.2 0.8 1.1 1.2 1.5 3.6 0.5 4.2 -0.3 6.6 -1 5.4 -0.8 1.8 -1 1.4 -1.2 0.9 -1.2 0.3 -1.7 -0.2 -1.3 -0.6 -6.5 -5.4 0.5 -0.1 1.2 -1.5 1.1 -2.6 1.2 -8.4 0.8 -3.0 1.4 -2.4zM327.2 564.3l1.4 0.0 -0.4 0.6 -0.7 0.1z" fill="#0dff46" fill-rule="evenodd"/><path d="M336.9 545.1l0.8 -0.4 1.2 -0.1 1.2 0.5 1.2 1.2 1.4 3.0 0.7 4.2 -0.4 6.6 -1.1 5.4 -1.3 2.4 -1.1 0.9 -1.2 0.4 -1.8 -0.2 -1.9 -1.1 -2 -2.4 -0.5 -1.8 1.7 -13.8 1.4 -3.0z" fill="#40ff2a" fill-rule="evenodd"/><path d="M338.2 545.1l0.7 0.0 1.2 0.5 1.5 1.9 1.1 3.6 0.3 4.2 -0.6 5.4 -1.1 4.0 -0.8 1.4 -1 1.1 -1.8 0.6 -1.8 -0.6 -1.2 -1.1 -1 -1.8 -0.2 -1.8 0.3 -9.0 0.6 -3.6 1.5 -3.3 1.2 -1.1z" fill="#73ff0e" fill-rule="evenodd"/><path d="M337.6 545.7l0.7 -0.2 1.2 0.2 1.7 1.8 1.1 3.0 0.3 3.6 -0.3 4.2 -1 4.2 -0.6 1.3 -1.2 1.6 -1.8 0.6 -1.8 -1.0 -1 -1.9 -0.6 -7.8 0.1 -3.0 0.6 -3.0 1.2 -2.4z" fill="#a9ff00" fill-rule="evenodd"/><path d="M337.6 546.3l0.7 -0.2 1.2 0.2 1.2 1.2 1 2.4 0.5 3.6 -0.2 3.6 -0.9 3.6 -1 1.9 -0.6 0.6 -1.2 0.5 -1.2 -0.4 -1.2 -1.8 -0.7 -2.6 -0.4 -3.6 0.2 -3.6 0.5 -2.4 0.9 -1.8z" fill="#e2ff00" fill-rule="evenodd"/><path d="M337.7 546.9l0.6 -0.2 1.2 0.2 1.1 1.2 0.9 2.4 0.3 2.4 -0.2 3.6 -0.8 3.0 -1.3 2.1 -1.2 0.4 -1.2 -0.7 -0.7 -1.2 -0.7 -2.4 -0.4 -3.0 0 -2.4 0.5 -2.4 0.7 -1.8z" fill="#ffe200" fill-rule="evenodd"/><path d="M337.7 547.5l1.2 -0.2 1.2 0.8 0.9 1.8 0.4 2.4 0 3.0 -0.5 2.4 -0.8 1.8 -1.2 1.1 -1.2 -0.3 -0.7 -0.8 -0.7 -1.8 -0.5 -2.4 -0.1 -2.4 0.3 -2.4 0.7 -1.8z" fill="#ffa900" fill-rule="evenodd"/><path d="M337.8 548.1l1.1 -0.2 1.1 0.8 0.7 1.6 0.4 2.0 -0.1 2.4 -0.3 2.0 -0.6 1.5 -1.2 1.2 -1.2 -0.4 -0.6 -0.8 -0.9 -3.5 0.2 -4.2 0.7 -1.6z" fill="#ff7000" fill-rule="evenodd"/><path d="M338.0 548.7l0.9 -0.2 0.9 0.8 0.6 1.2 0.3 1.8 0 2.4 -0.4 1.8 -0.8 1.4 -0.6 0.4 -0.6 0.0 -1.1 -1.2 -0.7 -3.0 0.4 -3.6z" fill="#ff3600" fill-rule="evenodd"/><path d="M338.3 549.3l0.6 0.0 0.6 0.4 0.6 1.3 0.2 1.3 -0.2 3.1 -0.6 1.4 -0.6 0.5 -0.6 -0.1 -0.6 -0.5 -0.8 -2.6 0.2 -3.0 0.6 -1.3z" fill="#fc1400" fill-rule="evenodd"/><path d="M338.2 550.5l0.9 0.0 0.4 0.6 0.3 1.2 -0.2 2.4 -0.7 1.2 -0.6 -0.1 -0.8 -1.7 0.1 -2.4z" fill="#f60700" fill-rule="evenodd"/></g>
<rect x="292.70" y="515.10" width="82.30" height="83.60" fill="none" stroke="#b8b8b8" stroke-width="0.7"/>
<path d="M292.7 515.1V598.7H375.0M291.1 594.5h1.6M291.1 576.1h1.6M291.1 557.7h1.6M291.1 539.3h1.6M291.1 521.0h1.6M300.9 598.7v1.6M319.0 598.7v1.6M337.1 598.7v1.6M355.2 598.7v1.6M373.4 598.7v1.6" fill="none" stroke="#444" stroke-width="0.7"/>
<path d="M291.8 588.7h0.9M291.8 585.3h0.9M291.8 582.8h0.9M291.8 570.3h0.9M291.8 566.9h0.9M291.8 564.4h0.9M291.8 551.9h0.9M291.8 548.5h0.9M291.8 546.0h0.9M291.8 533.5h0.9M291.8 530.1h0.9M291.8 527.6h0.9M306.7 598.7v0.9M310.0 598.7v0.9M312.5 598.7v0.9M324.8 598.7v0.9M328.1 598.7v0.9M330.6 598.7v0.9M342.9 598.7v0.9M346.2 598.7v0.9M348.7 598.7v0.9M361.0 598.7v0.9M364.3 598.7v0.9M366.8 598.7v0.9" fill="none" stroke="#666" stroke-width="0.5"/>
<path d="M335.7 515.1L335.7 598.7" stroke="#111" stroke-width="0.9"/>
<path d="M292.7 559.1L375.0 559.1" stroke="#111" stroke-width="0.9"/>
<text x="371.50" y="524.93" font-size="8.69" text-anchor="end" font-weight="bold" fill="#000" stroke="#000" stroke-width="0.1" transform="translate(33.43 0) scale(0.91 1)">42.5</text>
<path d="M16.6 551.0L16.6 523.7" stroke="#231815" stroke-width="1.0"/>
<path d="M16.60,518.70 L14.20,524.70 L19.00,524.70 Z" fill="#231815" stroke="none" stroke-width="1"/>
<text x="7.90" y="560.83" font-size="9.02" text-anchor="middle" font-weight="bold" fill="#000" transform="rotate(-90 7.90 558.00) translate(7.90 0) scale(0.91 1) translate(-7.90 0)" stroke="#000" stroke-width="0.1">TDLN</text>
<text x="16.80" y="581.38" font-size="7.59" text-anchor="middle" fill="#222" transform="rotate(-90 16.80 579.00) translate(16.80 0) scale(0.91 1) translate(-16.80 0)" stroke="#222" stroke-width="0.1">CD86 (APC)</text>
<text x="24.50" y="609.58" font-size="7.59" fill="#222" stroke="#222" stroke-width="0.1" transform="translate(2.20 0) scale(0.91 1)"><tspan>CD80 (PB450) (Gated on CD11c</tspan><tspan font-size="4.55" dy="-2.59">+</tspan><tspan dy="2.59"> cells)</tspan></text>
<path d="M151.0 607.2L357.5 607.2" stroke="#231815" stroke-width="1.0"/>
<path d="M363.50,607.20 L356.50,604.60 L356.50,609.80 Z" fill="#231815" stroke="none" stroke-width="1"/>
<path d="M402.4 515.6L402.4 595.7" stroke="#000" stroke-width="0.9"/>
<path d="M402.4 595.7L497.0 595.7" stroke="#000" stroke-width="0.9"/>
<path d="M399.9 595.7L402.4 595.7" stroke="#000" stroke-width="0.9"/>
<text x="399.30" y="598.15" font-size="7.81" text-anchor="end" fill="#000" stroke="#000" stroke-width="0.1" transform="translate(35.94 0) scale(0.91 1)">0</text>
<path d="M399.9 579.7L402.4 579.7" stroke="#000" stroke-width="0.9"/>
<text x="399.30" y="582.19" font-size="7.81" text-anchor="end" fill="#000" stroke="#000" stroke-width="0.1" transform="translate(35.94 0) scale(0.91 1)">20</text>
<path d="M399.9 563.8L402.4 563.8" stroke="#000" stroke-width="0.9"/>
<text x="399.30" y="566.23" font-size="7.81" text-anchor="end" fill="#000" stroke="#000" stroke-width="0.1" transform="translate(35.94 0) scale(0.91 1)">40</text>
<path d="M399.9 547.8L402.4 547.8" stroke="#000" stroke-width="0.9"/>
<text x="399.30" y="550.27" font-size="7.81" text-anchor="end" fill="#000" stroke="#000" stroke-width="0.1" transform="translate(35.94 0) scale(0.91 1)">60</text>
<path d="M399.9 531.9L402.4 531.9" stroke="#000" stroke-width="0.9"/>
<text x="399.30" y="534.31" font-size="7.81" text-anchor="end" fill="#000" stroke="#000" stroke-width="0.1" transform="translate(35.94 0) scale(0.91 1)">80</text>
<path d="M399.9 515.9L402.4 515.9" stroke="#000" stroke-width="0.9"/>
<text x="399.30" y="518.35" font-size="7.81" text-anchor="end" fill="#000" stroke="#000" stroke-width="0.1" transform="translate(35.94 0) scale(0.91 1)">100</text>
<rect x="410.35" y="591.23" width="12.90" height="4.47" fill="#fff" stroke="#1a1aff" stroke-width="1.1"/>
<path d="M416.8 590.1L416.8 592.5" stroke="#1a1aff" stroke-width="0.9900000000000001"/>
<path d="M414.2 590.1L419.4 590.1" stroke="#1a1aff" stroke-width="0.9900000000000001"/>
<path d="M414.2 592.5L419.4 592.5" stroke="#1a1aff" stroke-width="0.9900000000000001"/>
<circle cx="412.30" cy="590.11" r="1.35" fill="none" stroke="#1a1aff" stroke-width="0.8"/>
<circle cx="415.30" cy="590.91" r="1.35" fill="none" stroke="#1a1aff" stroke-width="0.8"/>
<circle cx="418.30" cy="591.71" r="1.35" fill="none" stroke="#1a1aff" stroke-width="0.8"/>
<circle cx="421.30" cy="592.11" r="1.35" fill="none" stroke="#1a1aff" stroke-width="0.8"/>
<rect x="431.85" y="585.65" width="13.30" height="10.05" fill="#fff" stroke="#ff1a1a" stroke-width="1.1"/>
<path d="M438.5 584.5L438.5 586.9" stroke="#ff1a1a" stroke-width="0.9900000000000001"/>
<path d="M435.9 584.5L441.1 584.5" stroke="#ff1a1a" stroke-width="0.9900000000000001"/>
<path d="M435.9 586.9L441.1 586.9" stroke="#ff1a1a" stroke-width="0.9900000000000001"/>
<circle cx="434.00" cy="584.53" r="1.35" fill="none" stroke="#ff1a1a" stroke-width="0.8"/>
<circle cx="437.00" cy="585.33" r="1.35" fill="none" stroke="#ff1a1a" stroke-width="0.8"/>
<circle cx="440.00" cy="586.12" r="1.35" fill="none" stroke="#ff1a1a" stroke-width="0.8"/>
<circle cx="443.00" cy="586.52" r="1.35" fill="none" stroke="#ff1a1a" stroke-width="0.8"/>
<rect x="453.75" y="574.71" width="13.30" height="20.99" fill="#fff" stroke="#1ec21e" stroke-width="1.1"/>
<path d="M460.4 573.0L460.4 576.5" stroke="#1ec21e" stroke-width="0.9900000000000001"/>
<path d="M457.8 573.0L463.0 573.0" stroke="#1ec21e" stroke-width="0.9900000000000001"/>
<path d="M457.8 576.5L463.0 576.5" stroke="#1ec21e" stroke-width="0.9900000000000001"/>
<circle cx="455.90" cy="572.56" r="1.35" fill="none" stroke="#1ec21e" stroke-width="0.8"/>
<circle cx="458.90" cy="574.15" r="1.35" fill="none" stroke="#1ec21e" stroke-width="0.8"/>
<circle cx="461.90" cy="575.75" r="1.35" fill="none" stroke="#1ec21e" stroke-width="0.8"/>
<circle cx="464.90" cy="576.55" r="1.35" fill="none" stroke="#1ec21e" stroke-width="0.8"/>
<rect x="475.65" y="563.78" width="13.30" height="31.92" fill="#fff" stroke="#b526f0" stroke-width="1.1"/>
<path d="M482.3 562.6L482.3 565.0" stroke="#b526f0" stroke-width="0.9900000000000001"/>
<path d="M479.7 562.6L484.9 562.6" stroke="#b526f0" stroke-width="0.9900000000000001"/>
<path d="M479.7 565.0L484.9 565.0" stroke="#b526f0" stroke-width="0.9900000000000001"/>
<circle cx="477.80" cy="562.98" r="1.35" fill="none" stroke="#b526f0" stroke-width="0.8"/>
<circle cx="480.80" cy="563.78" r="1.35" fill="none" stroke="#b526f0" stroke-width="0.8"/>
<circle cx="483.80" cy="564.58" r="1.35" fill="none" stroke="#b526f0" stroke-width="0.8"/>
<circle cx="486.80" cy="563.38" r="1.35" fill="none" stroke="#b526f0" stroke-width="0.8"/>
<path d="M415.9 517.6L483.4 517.6" stroke="#444" stroke-width="0.9"/>
<text x="452.15" y="515.76" font-size="8.80" text-anchor="middle" fill="#000" stroke="#000" stroke-width="0.1" transform="translate(40.69 0) scale(0.91 1)">p&lt;0.0001</text>
<path d="M433.4 531.6L483.4 531.6" stroke="#444" stroke-width="0.9"/>
<text x="460.90" y="529.76" font-size="8.80" text-anchor="middle" fill="#000" stroke="#000" stroke-width="0.1" transform="translate(41.48 0) scale(0.91 1)">p&lt;0.0001</text>
<path d="M452.2 544.4L483.4 544.4" stroke="#444" stroke-width="0.9"/>
<text x="470.30" y="542.56" font-size="8.80" text-anchor="middle" fill="#000" stroke="#000" stroke-width="0.1" transform="translate(42.33 0) scale(0.91 1)">p&lt;0.0001</text>
<path d="M415.0 555.5L460.6 555.5" stroke="#444" stroke-width="0.9"/>
<text x="440.30" y="553.66" font-size="8.80" text-anchor="middle" fill="#000" stroke="#000" stroke-width="0.1" transform="translate(39.63 0) scale(0.91 1)">p&lt;0.0001</text>
<path d="M433.4 569.0L460.6 569.0" stroke="#444" stroke-width="0.9"/>
<text x="449.50" y="567.16" font-size="8.80" text-anchor="middle" fill="#000" stroke="#000" stroke-width="0.1" transform="translate(40.45 0) scale(0.91 1)">p&lt;0.0001</text>
<path d="M415.0 580.3L440.4 580.3" stroke="#444" stroke-width="0.9"/>
<text x="430.20" y="578.46" font-size="8.80" text-anchor="middle" fill="#000" stroke="#000" stroke-width="0.1" transform="translate(38.72 0) scale(0.91 1)">p=0.0010</text>
<text transform="translate(386.20,545.50) rotate(-90) scale(0.91 1)" font-size="9.35" text-anchor="middle" fill="#222" stroke="#222" stroke-width="0.1"><tspan>CD80</tspan><tspan font-size="5.80" dy="-3.18">+</tspan><tspan dy="3.18">CD86</tspan><tspan font-size="5.80" dy="-3.18">+</tspan><tspan dy="3.18"> %</tspan></text>
<text x="7.00" y="626.68" font-size="10.45" font-weight="bold" fill="#000" stroke="#000" stroke-width="0.1" transform="translate(0.63 0) scale(0.91 1)">k</text>
<rect x="28.40" y="629.20" width="82.30" height="82.10" fill="#fff" stroke="none" stroke-width="1"/>
<g filter="url(#bl)"><path d="M62.2 653.8l4 -0.1 10.2 1.1 1.8 0.7 1.7 1.3 1.4 1.8 0.8 1.8 0.8 3.0 0.5 4.2 0 9.0 -0.3 4.8 -0.8 3.6 -1.1 2.4 -1.4 1.8 -2.2 1.5 -2.4 0.7 -8.4 1.1 -4.8 -0.1 -4.2 -1.2 -2.8 -1.4 -2 -1.8 -1.4 -2.4 -0.9 -3.6 -0.4 -6.0 0.2 -9.6 0.3 -3.0 0.6 -2.4 1.2 -2.4 2.2 -2.3 3 -1.4z" fill="#0000eb" fill-rule="evenodd"/><path d="M61.3 656.2l1.9 -0.4 2.4 -0.1 10.2 1.6 2.4 1.3 1.8 2.4 1 3.0 0.5 3.6 0.1 6.6 -0.2 4.8 -0.6 3.6 -0.9 2.4 -1.2 1.8 -1.7 1.3 -1.8 0.7 -7.8 1.5 -2.4 0.2 -2.4 -0.2 -3 -0.9 -2.5 -1.4 -2 -1.8 -1.1 -1.8 -0.9 -3.0 -0.4 -4.2 0 -9.0 0.7 -4.8 0.9 -2.4 1.7 -2.1 2.4 -1.6z" fill="#000bf9" fill-rule="evenodd"/><path d="M63.0 657.4l3.8 0.0 4.8 1.3 3.6 0.5 1.8 0.7 1.2 1.3 0.9 1.6 0.7 2.4 0.5 3.0 0.2 6.0 -0.2 4.2 -0.8 3.6 -1.3 2.6 -1.2 1.2 -1.2 0.7 -10.2 2.5 -2.4 0.0 -1.8 -0.5 -1.8 -0.9 -1.7 -1.4 -2.1 -3.0 -0.8 -2.4 -0.3 -2.4 0 -10.2 0.2 -2.4 0.7 -2.4 1.3 -2.4 1.5 -1.5 2.4 -1.4z" fill="#001cff" fill-rule="evenodd"/><path d="M63.1 658.6l1.9 -0.2 1.8 0.3 4.8 1.8 3.6 0.4 1.2 0.5 1.2 1.2 0.8 1.4 0.7 2.4 0.4 3.0 0.2 4.8 -0.1 3.6 -0.8 3.2 -1.2 2.2 -1.8 1.4 -3.6 0.9 -4.1 1.9 -2.5 0.6 -1.8 -0.1 -1.8 -0.4 -1.8 -0.9 -1.2 -1.1 -1.3 -1.7 -0.8 -1.8 -0.8 -4.2 0 -9.0 0.9 -4.8 0.9 -1.8 1.6 -1.8 1.8 -1.2z" fill="#003aff" fill-rule="evenodd"/><path d="M61.9 659.8l1.9 -0.5 2.4 0.0 2.4 0.8 3.6 1.9 3.6 0.4 1.2 0.9 0.6 0.9 1.2 4.0 0.4 4.8 0 3.6 -0.5 3.0 -1.1 2.3 -1.8 1.5 -3 0.5 -4.2 2.5 -2.4 0.8 -3 -0.1 -1.8 -0.6 -1.2 -0.9 -1.2 -1.2 -1 -1.8 -1 -3.6 -0.3 -7.2 0.7 -6.0 0.6 -1.8 1 -1.8 1.2 -1.3z" fill="#0058ff" fill-rule="evenodd"/><path d="M62.1 660.4l1.7 -0.5 2.4 0.1 2.4 0.8 3.6 2.4 3.6 0.2 1.2 1.1 0.6 1.1 0.9 3.8 0.4 4.2 0 3.0 -0.4 2.4 -0.9 1.9 -0.6 0.8 -1.2 0.8 -3 0.3 -4.2 3.0 -3 1.0 -3 -0.4 -2.4 -1.5 -0.9 -1.1 -1 -1.8 -0.9 -3.6 -0.1 -7.2 0.7 -5.4 1.6 -3.4 1.2 -1.2z" fill="#009bff" fill-rule="evenodd"/><path d="M62.3 661.0l2.1 -0.6 1.8 0.2 2.4 1.0 3.6 3.0 3.6 -0.1 1.2 1.3 0.5 1.2 0.8 4.2 0.4 3.6 -0.2 2.4 -0.4 1.8 -1.1 1.8 -0.6 0.6 -1.2 0.3 -2.4 -0.2 -4.2 3.7 -3 1.1 -3 -0.4 -2.2 -1.5 -1.6 -2.4 -0.9 -3.6 -0.2 -6.0 0.8 -6.0 0.6 -1.8 1 -1.8z" fill="#00d9ff" fill-rule="evenodd"/><path d="M62.5 661.6l2.5 -0.5 2.4 0.6 1.8 1.3 3 3.4 0.6 0.1 1.8 -0.7 1.2 0.1 0.6 0.5 0.7 1.2 1.1 5.3 0 4.3 -0.6 1.8 -0.6 1.0 -1.2 0.8 -1.2 -0.1 -1.8 -0.6 -0.6 0.3 -3.3 4.0 -1.5 0.9 -1.8 0.5 -1.8 0.0 -1.2 -0.4 -2.1 -1.6 -1.4 -2.4 -0.9 -3.6 0 -6.0 0.8 -5.3 1.4 -3.1z" fill="#00f9d9" fill-rule="evenodd"/><path d="M62.9 662.2l1.5 -0.4 1.2 0.1 2.4 1.0 1.6 1.7 2.6 4.4 0.6 0.2 1.8 -1.6 0.6 -0.3 0.6 0.2 0.6 0.6 0.6 1.3 0.9 4.2 -0.1 3.6 -0.3 1.2 -0.9 1.2 -1.4 0.4 -2.4 -1.5 -0.6 0.2 -1.9 3.3 -1.1 1.5 -1.8 1.3 -1.8 0.6 -2.4 -0.2 -1.2 -0.6 -1.2 -1.1 -1.5 -2.7 -0.7 -3.0 0 -5.4 0.8 -5.4 1.4 -3.0 1.1 -1.2z" fill="#00fc8c" fill-rule="evenodd"/><path d="M63.6 662.8l1.4 -0.2 1.2 0.3 1.2 0.6 1.2 1.1 1.1 1.8 1 2.4 1.5 5.4 -0.2 1.8 -0.6 2.4 -1.6 3.6 -1.2 1.4 -1.2 0.9 -2.4 0.7 -2.4 -0.6 -1.8 -1.6 -1.3 -2.6 -0.6 -3.6 0.3 -5.4 1 -4.6 1.5 -2.6zM75.1 669.4l0.7 0.0 0.6 0.7 0.7 1.7 0.6 3.0 -0.1 1.8 -0.4 1.2 -0.8 1.2 -0.6 0.2 -1.2 -0.5 -0.8 -0.9 -0.8 -1.8 -0.2 -1.2 0.3 -1.8 0.7 -1.8z" fill="#0dff46" fill-rule="evenodd"/><path d="M64.1 664.0l1.5 0.0 1.2 0.5 1.7 1.9 1.7 4.2 0.7 4.2 -0.3 3.6 -1.1 3.0 -0.9 1.2 -1.2 1.1 -2.4 0.7 -1.8 -0.3 -1.9 -1.5 -1.3 -2.4 -0.6 -3.6 0.3 -4.8 1.1 -4.4 1.3 -2.2 1.1 -0.9zM75.1 672.4l0.7 -0.4 0.6 0.5 0.6 1.7 0 2.5 -0.6 1.1 -0.6 0.2 -0.6 -0.2 -0.5 -0.6 -0.4 -1.2 0 -1.8z" fill="#40ff2a" fill-rule="evenodd"/><path d="M63.8 665.8l1.2 -0.2 1.2 0.4 1.8 1.7 1.6 3.5 0.7 3.6 -0.2 3.6 -1.2 3.0 -1.7 1.8 -2.2 0.7 -1.8 -0.4 -1.8 -1.5 -0.9 -1.8 -0.7 -3.0 0.1 -3.6 0.9 -3.7 1.2 -2.5zM75.7 675.4l0.1 -0.4 0 0.8z" fill="#73ff0e" fill-rule="evenodd"/><path d="M64.2 667.6l0.8 -0.1 1.2 0.3 1.8 1.8 1.3 2.8 0.5 3.0 -0.2 3.0 -1 2.7 -1.8 1.8 -1.8 0.5 -1.8 -0.5 -1.6 -1.5 -1.1 -2.4 -0.3 -2.4 0.2 -3.0 1 -3.2 1.2 -1.8z" fill="#a9ff00" fill-rule="evenodd"/><path d="M64.0 669.4l1.6 -0.1 1.8 1.1 1.2 2.1 0.7 2.9 -0.2 3.0 -1 2.4 -1.3 1.4 -1.8 0.6 -1.8 -0.5 -1.2 -1.2 -0.8 -1.5 -0.5 -2.4 0.1 -2.4 0.6 -2.5 1.2 -2.0z" fill="#e2ff00" fill-rule="evenodd"/><path d="M64.0 670.6l1.6 -0.1 1.3 0.7 1.3 1.8 0.6 2.4 0 2.4 -0.9 2.4 -1.1 1.3 -1.8 0.7 -1.2 -0.3 -1.4 -1.1 -0.9 -1.8 -0.4 -1.8 0.1 -2.4 0.6 -1.8 0.8 -1.4z" fill="#ffe200" fill-rule="evenodd"/><path d="M63.5 671.8l1.5 -0.5 1.2 0.3 1.2 1.2 0.8 2.0 0.2 2.4 -0.4 1.8 -1.1 1.8 -1.3 0.7 -1.2 0.1 -1.2 -0.7 -1 -1.3 -0.4 -1.2 -0.3 -1.8 0.2 -1.8 0.7 -1.8z" fill="#ffa900" fill-rule="evenodd"/><path d="M63.9 672.4l1.1 -0.3 1.2 0.4 1.1 1.1 0.6 1.8 0.1 1.8 -0.4 1.8 -0.8 1.2 -1.2 0.8 -1.2 0.0 -1.2 -0.7 -0.8 -1.3 -0.3 -1.2 0.1 -3.0 0.5 -1.2z" fill="#ff7000" fill-rule="evenodd"/><path d="M64.2 673.0l0.8 -0.2 1.2 0.4 0.8 1.0 0.6 1.8 -0.1 1.8 -0.4 1.2 -0.9 1.1 -1.2 0.4 -1 -0.3 -0.8 -0.7 -0.8 -2.3 0.3 -2.4 0.5 -1.0z" fill="#ff3600" fill-rule="evenodd"/><path d="M64.7 673.6l0.9 0.1 0.7 0.5 0.7 1.2 0.2 1.2 -0.2 1.2 -0.5 1.2 -0.9 0.8 -0.6 0.1 -0.6 -0.1 -0.9 -0.8 -0.7 -1.8 0.5 -2.4 0.5 -0.7z" fill="#fc1400" fill-rule="evenodd"/><path d="M64.2 674.8l0.8 -0.3 0.6 0.1 0.9 1.4 0 1.2 -0.3 1.0 -0.6 0.7 -0.6 0.2 -1.1 -0.7 -0.4 -1.2 0 -1.2z" fill="#f60700" fill-rule="evenodd"/></g>
<rect x="28.40" y="629.20" width="82.30" height="82.10" fill="none" stroke="#b8b8b8" stroke-width="0.7"/>
<path d="M28.4 629.2V711.3H110.7M26.8 707.2h1.6M26.8 689.1h1.6M26.8 671.1h1.6M26.8 653.0h1.6M26.8 634.9h1.6M36.6 711.3v1.6M54.7 711.3v1.6M72.8 711.3v1.6M90.9 711.3v1.6M109.1 711.3v1.6" fill="none" stroke="#444" stroke-width="0.7"/>
<path d="M27.5 701.4h0.9M27.5 698.2h0.9M27.5 695.7h0.9M27.5 683.4h0.9M27.5 680.1h0.9M27.5 677.6h0.9M27.5 665.3h0.9M27.5 662.0h0.9M27.5 659.6h0.9M27.5 647.3h0.9M27.5 644.0h0.9M27.5 641.5h0.9M42.4 711.3v0.9M45.7 711.3v0.9M48.2 711.3v0.9M60.5 711.3v0.9M63.8 711.3v0.9M66.3 711.3v0.9M78.6 711.3v0.9M81.9 711.3v0.9M84.4 711.3v0.9M96.7 711.3v0.9M100.0 711.3v0.9M102.5 711.3v0.9" fill="none" stroke="#666" stroke-width="0.5"/>
<path d="M71.0 629.2L71.0 711.3" stroke="#111" stroke-width="0.9"/>
<path d="M28.4 672.2L110.7 672.2" stroke="#111" stroke-width="0.9"/>
<text x="107.20" y="637.73" font-size="8.69" text-anchor="end" font-weight="bold" fill="#000" stroke="#000" stroke-width="0.1" transform="translate(9.65 0) scale(0.91 1)">11.2</text>
<rect x="117.50" y="629.20" width="82.40" height="82.10" fill="#fff" stroke="none" stroke-width="1"/>
<g filter="url(#bl)"><path d="M164.8 654.4l3.1 -0.1 1.8 0.6 1.8 1.0 3.1 2.7 1.7 3.0 1 4.2 0.7 11.4 -0.2 4.2 -1.3 4.2 -1.4 2.4 -1.8 1.8 -2.4 1.5 -3 1.1 -13.8 -0.3 -3 -0.5 -2.4 -0.8 -2.4 -1.4 -1.8 -2.0 -1.6 -3.0 -0.8 -3.0 -0.2 -4.2 0.7 -10.2 0.5 -3.6 0.8 -2.4 1 -1.8 1.4 -1.5 1.8 -1.2 1.8 -0.8 4.2 -0.7z" fill="#0000eb" fill-rule="evenodd"/><path d="M163.6 656.8l3.1 -0.5 2.4 0.6 2.9 2.3 1.3 1.8 0.9 1.8 0.9 3.6 1 10.2 -0.1 3.6 -0.9 3.6 -1.4 2.4 -1.6 1.7 -2.4 1.8 -1.8 0.6 -1.8 0.2 -10.8 -0.4 -3 -0.4 -2.4 -0.8 -2.4 -1.5 -1.7 -1.8 -1.2 -2.4 -0.6 -2.4 -0.3 -2.4 0.2 -3.0 1 -9.0 1 -3.6 1 -1.8 1.1 -1.2 1.3 -1.0 1.8 -0.8 3.6 -0.7z" fill="#000bf9" fill-rule="evenodd"/><path d="M165.3 658.0l1.4 -0.2 1.2 0.1 1.8 1.1 1.7 2.0 1.5 3.0 0.6 3.0 1.4 10.2 -0.3 3.6 -1 3.0 -1.2 1.8 -1.7 1.8 -1.6 1.1 -1.8 0.6 -12.6 -0.4 -2.4 -0.4 -2.4 -1.0 -2.2 -1.7 -1.3 -1.8 -1 -2.4 -0.3 -2.4 0.4 -5.4 1.3 -7.2 1 -3.0 2 -2.4 2.5 -1.3 3.6 -0.6 6 -0.3z" fill="#001cff" fill-rule="evenodd"/><path d="M165.3 659.2l2 -0.3 1.8 0.9 1.5 1.8 1.3 3.0 2 12.6 -0.3 3.6 -1.1 3.0 -1.3 1.8 -1.5 1.5 -1.2 0.7 -1.8 0.4 -12 -0.4 -2.4 -0.5 -1.8 -0.7 -2 -1.6 -1.3 -1.8 -0.8 -1.8 -0.4 -2.4 0.4 -4.8 1.8 -7.2 1 -2.4 1.9 -2.3 2.4 -1.1 3 -0.6 5.4 -0.3z" fill="#003aff" fill-rule="evenodd"/><path d="M165.7 659.8l1.6 -0.2 1.8 1.0 1.5 2.2 0.8 2.4 2 12.0 -0.4 3.6 -1.2 3.0 -2.1 2.6 -1.2 0.8 -1.8 0.5 -12 -0.4 -2.4 -0.5 -1.8 -0.9 -1.8 -1.5 -1.2 -1.8 -0.7 -1.8 -0.3 -2.4 0.2 -2.4 0.5 -2.4 2.1 -6.2 1 -2.2 1.6 -1.8 2.2 -1.1 2.4 -0.5 5.4 -0.4z" fill="#0058ff" fill-rule="evenodd"/><path d="M165.5 660.4l1.8 -0.4 1.2 0.6 1.3 1.6 1.2 3.0 2 12.0 -0.4 3.6 -1.2 3.0 -2.3 2.6 -2.4 0.9 -12 -0.4 -1.8 -0.3 -1.8 -0.8 -1.9 -1.4 -1.3 -1.8 -0.6 -1.8 -0.4 -2.4 0.2 -2.4 0.6 -2.4 2.8 -6.5 1.8 -2.5 1.8 -1.1 2.4 -0.6 5.4 -0.6z" fill="#009bff" fill-rule="evenodd"/><path d="M165.4 661.0l1.9 -0.5 1.2 0.6 1.2 1.7 1 2.4 1.9 12.0 -0.4 3.6 -1.2 3.0 -1.9 2.1 -1.2 0.7 -1.2 0.3 -4.8 -0.3 -7.2 0.0 -1.8 -0.4 -1.8 -0.8 -1.4 -1.0 -1.3 -1.8 -0.8 -1.8 -0.3 -1.8 0.5 -4.2 0.9 -2.6 1.2 -2.3 2.4 -3.4 1.8 -1.5 2.4 -0.8 5.4 -0.8z" fill="#00d9ff" fill-rule="evenodd"/><path d="M166.6 661.0l1.3 0.2 1.2 1.2 1 2.2 0.6 2.4 1.3 7.8 0.3 3.0 -0.4 3.0 -1.3 3.0 -2.1 2.1 -1.8 0.6 -4.8 -0.4 -7.2 0.1 -1.8 -0.3 -1.8 -0.8 -1.5 -1.3 -0.8 -1.2 -0.8 -1.8 -0.3 -1.8 0 -1.8 0.5 -2.4 1.7 -3.7 1.8 -2.3 2.4 -2.0 2.4 -1.0 4.2 -0.6 1.2 -0.5 3.5 -3.1z" fill="#00f9d9" fill-rule="evenodd"/><path d="M166.2 661.6l1.1 -0.2 0.6 0.2 1.1 1.2 0.8 1.8 0.7 3.0 1.2 7.2 0.2 3.0 -0.5 3.6 -1.2 2.4 -1.7 1.7 -1.8 0.7 -4.8 -0.5 -7.2 0.2 -1.8 -0.3 -1.8 -0.9 -2 -2.1 -0.8 -1.8 -0.3 -1.8 0.4 -3.6 1.5 -3.4 1.8 -2.1 2.4 -1.7 2.4 -0.8 4.2 -0.6 1.2 -0.5 2.9 -3.5z" fill="#00fc8c" fill-rule="evenodd"/><path d="M166.0 662.2l1.3 -0.4 1.2 0.8 1 2.0 0.6 2.4 1.3 7.2 0.2 3.6 -0.4 3.0 -1.4 3.0 -1.9 1.7 -1.8 0.3 -4.2 -0.5 -7.2 0.3 -1.8 -0.3 -1.7 -0.9 -1.7 -1.8 -1.1 -3.0 0.2 -3.6 1.3 -3.2 1.8 -2.1 2.4 -1.4 2.4 -0.7 4.2 -0.5 1.2 -0.4 1.2 -1.2 1.8 -3.1z" fill="#0dff46" fill-rule="evenodd"/><path d="M166.0 662.8l1.3 -0.4 1.2 0.9 0.9 1.9 0.5 2.4 1.2 7.2 0.2 3.0 -0.5 3.0 -1.1 2.4 -1.2 1.4 -1.8 0.7 -5.4 -0.6 -6.6 0.5 -1.8 -0.3 -1.2 -0.6 -1.8 -1.8 -1.1 -2.9 0.2 -3.6 1.4 -3.0 1.3 -1.4 2.4 -1.3 2.4 -0.6 4.6 -0.3 1.4 -0.6 1 -1.2 1.6 -3.6z" fill="#40ff2a" fill-rule="evenodd"/><path d="M166.1 663.4l0.6 -0.5 0.6 0.0 0.8 0.5 0.9 1.8 0.6 2.4 1.1 7.2 0.2 3.0 -0.5 3.0 -1.1 2.4 -1.4 1.2 -1.2 0.4 -5.4 -0.8 -6.6 0.8 -1.8 -0.3 -1.2 -0.6 -1.7 -1.9 -0.9 -3.0 0.3 -3.0 1.1 -2.3 1.8 -1.8 1.8 -0.9 2.4 -0.3 4.2 -0.1 1.8 -0.6 1.2 -1.3 1.6 -4.1z" fill="#73ff0e" fill-rule="evenodd"/><path d="M167.2 663.4l0.9 0.6 0.8 1.8 1.6 9.6 -0.1 4.2 -0.6 1.8 -0.7 1.4 -1.2 1.1 -1.2 0.4 -5.4 -1.0 -6.6 1.2 -1.8 -0.4 -1.2 -0.7 -1.6 -2.0 -0.7 -2.4 0.4 -3.0 1.3 -2.4 1.8 -1.4 1.8 -0.6 6 0.0 1.8 -0.5 1.5 -1.7 1.7 -4.8 1 -1.1z" fill="#a9ff00" fill-rule="evenodd"/><path d="M166.2 664.6l0.5 -0.5 0.6 -0.1 0.6 0.4 0.6 1.1 0.5 2.1 1 7.2 0.2 2.4 -0.2 2.4 -0.6 1.8 -0.8 1.2 -1.3 1.0 -1.2 0.1 -3.6 -1.5 -1.2 -0.2 -1.2 0.2 -3.6 1.6 -1.8 0.2 -1.8 -0.3 -1.2 -0.8 -1.2 -1.5 -0.7 -2.4 0.3 -2.4 1 -2.2 1.8 -1.5 1.8 -0.6 6 0.7 1.8 -0.5 1.2 -1.2 0.6 -1.1 1.1 -3.8z" fill="#e2ff00" fill-rule="evenodd"/><path d="M166.3 665.2l0.4 -0.4 0.6 -0.2 0.6 0.5 0.6 1.4 0.4 2.3 1 9.0 -0.4 2.4 -1 1.9 -1.2 0.9 -1.8 -0.1 -1.5 -0.9 -2.1 -2.3 -0.6 -0.2 -0.6 0.3 -3 2.8 -1.8 0.8 -2.4 0.0 -1.6 -0.8 -1.3 -1.8 -0.4 -2.4 0.5 -2.4 1 -1.6 1.8 -1.2 1.8 -0.2 1.8 0.3 3.6 1.7 1.2 -0.3 1.2 -1.2 1.2 -1.9 1.5 -5.2z" fill="#ffe200" fill-rule="evenodd"/><path d="M166.4 665.8l0.9 -0.5 0.6 0.5 0.4 1.2 1.3 10.2 -0.2 1.8 -0.6 1.8 -0.9 1.3 -1.2 0.5 -1.2 -0.3 -1.6 -1.5 -0.6 -1.2 -0.4 -2.4 0.3 -1.8 1.7 -3.8 1 -4.6zM154.6 673.6l1.9 0.4 1.4 0.8 0.9 1.2 0.5 1.8 -0.3 1.8 -1 1.8 -1.5 1.2 -1.8 0.6 -1.8 -0.4 -1.2 -1.0 -0.9 -1.6 -0.2 -1.8 0.3 -1.8 0.8 -1.5 1.2 -1.0z" fill="#ffa900" fill-rule="evenodd"/><path d="M166.5 666.4l0.8 -0.5 0.6 0.7 0.3 1.0 1.1 9.6 -0.2 1.8 -0.6 1.7 -0.6 0.8 -1.2 0.6 -1.2 -0.4 -0.9 -0.9 -0.8 -1.8 -0.2 -1.8 0.3 -1.8 1.2 -3.0 1 -4.8zM154.1 674.2l1.8 0.2 1.2 0.8 0.9 1.4 0.3 1.2 -0.2 1.8 -0.9 1.8 -1.3 1.0 -1.2 0.3 -1.2 -0.1 -1.2 -0.7 -0.9 -1.1 -0.5 -1.8 0.2 -1.8 0.6 -1.4 1.2 -1.2z" fill="#ff7000" fill-rule="evenodd"/><path d="M166.7 667.0l0.6 -0.4 0.6 1.0 1.1 9.6 -0.2 1.8 -0.4 1.2 -0.5 0.7 -1.2 0.7 -1.2 -0.4 -0.6 -0.7 -0.5 -0.9 -0.3 -1.8 0.2 -1.8 1.3 -3.6zM153.9 674.8l1.4 0.0 1 0.6 0.9 1.2 0.4 1.2 -0.1 1.8 -0.6 1.2 -1 1.0 -1.2 0.5 -1.2 -0.1 -1.2 -0.8 -0.7 -1.2 -0.3 -1.2 0.4 -2.4 1 -1.2z" fill="#ff3600" fill-rule="evenodd"/><path d="M167.2 667.6l0.7 1.6 0.2 3.8 0.6 4.8 -0.7 2.4 -0.7 0.7 -0.6 0.2 -1.2 -0.5 -0.6 -0.9 -0.4 -2.5 0.4 -1.8 1 -2.4 0.7 -4.8zM153.6 675.4l1.1 -0.1 1.2 0.5 0.6 0.8 0.5 1.2 0 1.2 -0.3 1.2 -0.8 1.0 -1.2 0.6 -1.8 -0.4 -0.6 -0.6 -0.6 -1.5 0 -1.5 0.5 -1.2z" fill="#fc1400" fill-rule="evenodd"/><path d="M167.1 670.0l0.2 -0.5 0.1 3.5 0.9 3.0 0.1 1.8 -0.5 1.9 -0.6 0.7 -0.6 0.2 -0.6 -0.1 -0.8 -0.9 -0.5 -2.4 0.5 -1.8 1.7 -3.6zM153.9 676.0l0.8 0.0 1 0.6 0.7 1.8 -0.5 1.9 -0.6 0.6 -1.2 0.3 -1.2 -0.5 -0.8 -1.7 0.3 -1.8 0.5 -0.7z" fill="#f60700" fill-rule="evenodd"/></g>
<rect x="117.50" y="629.20" width="82.40" height="82.10" fill="none" stroke="#b8b8b8" stroke-width="0.7"/>
<path d="M117.5 629.2V711.3H199.9M115.9 707.2h1.6M115.9 689.1h1.6M115.9 671.1h1.6M115.9 653.0h1.6M115.9 634.9h1.6M125.7 711.3v1.6M143.9 711.3v1.6M162.0 711.3v1.6M180.1 711.3v1.6M198.3 711.3v1.6" fill="none" stroke="#444" stroke-width="0.7"/>
<path d="M116.6 701.4h0.9M116.6 698.2h0.9M116.6 695.7h0.9M116.6 683.4h0.9M116.6 680.1h0.9M116.6 677.6h0.9M116.6 665.3h0.9M116.6 662.0h0.9M116.6 659.6h0.9M116.6 647.3h0.9M116.6 644.0h0.9M116.6 641.5h0.9M131.5 711.3v0.9M134.8 711.3v0.9M137.3 711.3v0.9M149.6 711.3v0.9M152.9 711.3v0.9M155.4 711.3v0.9M167.8 711.3v0.9M171.1 711.3v0.9M173.5 711.3v0.9M185.9 711.3v0.9M189.2 711.3v0.9M191.7 711.3v0.9" fill="none" stroke="#666" stroke-width="0.5"/>
<path d="M160.0 629.2L160.0 711.3" stroke="#111" stroke-width="0.9"/>
<path d="M117.5 672.2L199.9 672.2" stroke="#111" stroke-width="0.9"/>
<text x="196.40" y="637.73" font-size="8.69" text-anchor="end" font-weight="bold" fill="#000" stroke="#000" stroke-width="0.1" transform="translate(17.68 0) scale(0.91 1)">24.7</text>
<rect x="206.40" y="629.20" width="82.80" height="82.10" fill="#fff" stroke="none" stroke-width="1"/>
<g filter="url(#bl)"><path d="M242.3 651.4l3.1 -0.4 4.2 0.6 4.2 1.2 6 2.4 4.2 2.1 2.8 1.9 1.8 1.8 1.4 2.4 0.6 3.0 -0.3 3.6 -1.3 4.8 -2.8 7.8 -1.7 3.6 -1.7 2.6 -1.8 1.9 -2.4 1.3 -3 0.7 -3.6 -0.2 -4.8 -1.1 -5.4 -1.9 -4.2 -1.8 -3.6 -2.1 -2.6 -2.4 -1.4 -2.4 -0.7 -3.0 0.2 -4.2 1.2 -4.8 2.8 -7.8 1.8 -3.6 2.2 -3.0 2.5 -2.1z" fill="#0000eb" fill-rule="evenodd"/><path d="M242.9 653.8l2.5 -0.4 3 0.2 3.6 0.8 4.2 1.6 4.2 1.9 3.1 1.9 2.1 1.8 1.6 2.4 0.7 3.0 -0.1 3.0 -1 4.2 -1.9 5.4 -1.8 4.2 -1.5 2.4 -1.8 2.0 -2.4 1.4 -3 0.6 -3 -0.1 -4.8 -1.2 -4.8 -1.7 -3.6 -1.6 -2.7 -1.8 -1.8 -1.8 -1.4 -2.4 -0.6 -3.0 0.2 -3.6 1.2 -4.8 1.9 -5.4 1.8 -3.6 1.7 -2.4 2.1 -1.9z" fill="#000bf9" fill-rule="evenodd"/><path d="M243.2 655.6l2.2 -0.5 3 0.1 3 0.6 3.6 1.3 3.6 1.7 3 1.8 2.4 2.2 1.2 1.9 0.7 2.3 0 3.0 -0.8 3.6 -1.5 4.8 -1.6 3.6 -1.4 2.4 -1.5 1.8 -2.3 1.5 -2.4 0.6 -3 0.1 -3.6 -0.7 -4.8 -1.6 -3.6 -1.7 -2.4 -1.6 -1.8 -1.8 -1.1 -2.0 -0.7 -3.0 0.1 -3.0 0.8 -3.6 1.6 -4.8 1.7 -3.6 1.5 -2.4 2.1 -2.0z" fill="#001cff" fill-rule="evenodd"/><path d="M243.8 656.8l2.2 -0.4 3 0.1 3 0.7 3.4 1.4 3.2 1.6 2.4 1.7 1.8 1.9 1.1 2.0 0.5 2.4 -0.1 3.0 -0.9 3.6 -1.5 4.2 -1.4 3.0 -1.3 1.9 -1.8 1.7 -1.8 0.9 -2.4 0.5 -3 -0.1 -3 -0.7 -4.2 -1.4 -2.4 -1.1 -2.5 -1.7 -1.7 -1.8 -1.1 -1.8 -0.5 -2.4 0 -3.0 0.7 -3.6 1.4 -4.2 1.4 -3.0 1.7 -2.6 1.8 -1.7z" fill="#003aff" fill-rule="evenodd"/><path d="M244.9 657.4l2.3 -0.2 3 0.3 2.4 0.7 3.5 1.6 2.5 1.4 2.1 1.6 1.5 1.8 0.8 1.8 0.5 2.4 -0.3 3.0 -0.9 3.6 -1.3 3.6 -1.2 2.4 -1.3 1.8 -1.7 1.6 -1.8 0.9 -2.4 0.4 -3 -0.1 -7.2 -2.2 -1.8 -0.9 -2 -1.5 -1.6 -1.8 -0.9 -1.8 -0.5 -2.4 0.1 -3.0 0.8 -3.6 1.5 -4.2 1.4 -2.8 1.5 -2.0 2.1 -1.7z" fill="#0058ff" fill-rule="evenodd"/><path d="M245.3 658.0l1.9 -0.2 3 0.3 1.8 0.4 2.8 1.3 2.6 1.4 2.2 1.6 1.6 1.8 1 1.8 0.5 2.4 -0.1 2.4 -0.8 3.6 -1.2 3.6 -1.2 2.4 -1.4 1.9 -1.8 1.6 -1.8 0.8 -2.4 0.4 -2.4 -0.2 -7.2 -2.0 -1.8 -1.0 -1.7 -1.5 -1.5 -1.8 -0.8 -1.8 -0.4 -2.4 0.2 -3.0 0.9 -3.6 1.5 -4.0 1.4 -2.6 1.6 -1.8 1.8 -1.2z" fill="#009bff" fill-rule="evenodd"/><path d="M245.8 658.6l4.4 0.0 3.4 1.2 3.2 1.8 2.4 1.8 1.5 1.8 0.9 1.8 0.4 2.4 -0.2 2.4 -0.7 3.0 -1.3 3.6 -1.2 2.3 -1.2 1.6 -1.8 1.4 -1.5 0.7 -2.1 0.4 -2.4 -0.1 -7.2 -2.0 -2.7 -1.9 -1.5 -1.8 -0.9 -1.8 -0.5 -2.4 0.2 -3.0 0.9 -3.6 1.4 -3.6 1.3 -2.4 1.6 -1.8 1.7 -1.2z" fill="#00d9ff" fill-rule="evenodd"/><path d="M246.5 659.2l4.3 0.1 2.8 1.1 3.2 2.0 2 1.6 1.3 1.8 0.8 1.8 0.3 2.4 -0.2 2.4 -0.8 3.0 -1.2 3.0 -1 1.8 -1.5 1.8 -1.5 1.1 -1.8 0.7 -3.6 0.2 -7.2 -1.8 -1.4 -0.8 -1.2 -1.2 -1.2 -1.8 -0.7 -1.8 -0.4 -2.4 0.3 -3.0 0.9 -3.6 1.3 -3.1 1.4 -2.3 1.6 -1.6 1.8 -1.0z" fill="#00f9d9" fill-rule="evenodd"/><path d="M248.0 659.8l2.8 0.0 2.7 1.2 4.7 3.6 1.3 1.8 0.6 1.8 0.2 2.4 -0.3 2.4 -0.8 3.0 -1 2.4 -1.1 1.8 -1.5 1.5 -1.3 0.9 -1.7 0.6 -3 0.1 -7.2 -1.5 -1.2 -0.8 -1.3 -1.4 -1 -1.8 -0.5 -1.8 -0.2 -2.4 0.4 -3.0 1.1 -3.6 1.4 -3.0 1.3 -1.8 1.4 -1.2 1.6 -0.8z" fill="#00fc8c" fill-rule="evenodd"/><path d="M248.6 660.4l1.6 -0.2 1.2 0.2 2.1 1.2 4 3.6 1.2 1.8 0.6 1.8 0.1 1.8 -0.2 2.4 -0.9 3.0 -1 2.4 -2.3 2.8 -1.2 0.7 -1.8 0.6 -2.4 0.0 -3.6 -0.8 -3.6 -0.4 -1.2 -0.7 -0.8 -1.0 -0.7 -1.2 -0.7 -2.4 -0.2 -2.4 0.5 -3.0 1.2 -3.6 1.3 -2.7 1.2 -1.5 1.5 -1.2 1.5 -0.6z" fill="#0dff46" fill-rule="evenodd"/><path d="M249.5 661.0l1.3 -0.1 1.8 0.7 3.6 4.2 1.1 1.8 0.6 1.8 0.2 1.8 -0.3 2.4 -0.6 2.4 -0.8 1.8 -1.2 1.8 -1.4 1.2 -1.2 0.5 -2.4 0.3 -3.6 -0.9 -3 0.3 -1.2 -0.2 -0.9 -0.6 -0.9 -1.1 -1 -2.5 0 -3.0 0.7 -3.0 1.8 -4.2 1.6 -2.4 1.7 -1.3z" fill="#40ff2a" fill-rule="evenodd"/><path d="M249.8 661.6l1.6 0.0 1.7 1.2 2.8 5.4 0.6 1.8 0.3 2.4 -0.2 2.4 -0.5 1.8 -1.7 2.6 -1.2 0.9 -1.2 0.5 -2.4 0.1 -3 -1.1 -3 0.9 -1.2 -0.2 -1.4 -1.3 -0.8 -1.8 -0.2 -2.4 0.6 -2.8 1.2 -2.2 2.9 -4.0 4 -3.6z" fill="#73ff0e" fill-rule="evenodd"/><path d="M249.9 662.2l0.9 -0.2 1.2 0.4 1.6 2.2 2.3 7.2 0 2.4 -0.6 2.4 -1.5 2.2 -1.8 1.1 -2.4 0.0 -3 -1.6 -0.6 0.1 -1.8 1.4 -1.2 0.2 -0.6 -0.2 -1.2 -1.1 -0.6 -1.5 -0.2 -1.8 0.4 -2.4 0.6 -1.2 1 -1.0 3 -1.1 1.2 -1.9 1.5 -3.8 0.9 -1.2z" fill="#a9ff00" fill-rule="evenodd"/><path d="M250.2 662.8l1.2 0.0 0.6 0.4 1.2 2.0 2 7.2 0 2.4 -0.6 1.8 -1.4 1.8 -1.2 0.7 -1.2 0.2 -1.8 -0.5 -2.4 -2.2 -0.6 -0.2 -1.8 2.6 -0.6 0.4 -1.2 -0.1 -0.9 -0.9 -0.5 -1.2 -0.2 -1.8 0.4 -1.8 0.6 -1.1 1.2 -0.7 1.2 0.2 1.2 0.9 0.6 -0.1 1.8 -4.2 0.9 -4.0 0.7 -1.2z" fill="#e2ff00" fill-rule="evenodd"/><path d="M250.6 663.4l0.8 0.0 0.6 0.6 0.6 1.1 2.1 8.5 -0.2 1.8 -0.9 1.8 -1 0.9 -1.8 0.6 -1.2 -0.3 -1.5 -1.2 -0.7 -1.2 -0.5 -1.8 0.4 -2.4 1.2 -3.0 0.6 -3.6 0.6 -1.2zM242.3 673.0l0.7 -0.3 1.2 0.6 0.9 2.1 -0.6 2.4 -0.9 0.9 -0.6 0.2 -1.2 -0.8 -0.5 -1.5 0 -1.8 0.5 -1.2z" fill="#ffe200" fill-rule="evenodd"/><path d="M250.0 664.6l0.8 -0.5 0.6 0.1 0.6 0.7 0.8 3.9 1.4 4.2 -0.1 1.8 -0.3 1.2 -1.2 1.5 -1.2 0.6 -1.2 -0.1 -1.3 -0.8 -0.9 -1.2 -0.4 -1.8 0.2 -1.8 1.2 -3.1 0.5 -3.5zM242.8 673.6l0.8 0.1 0.4 0.5 0.5 1.8 -0.7 1.8 -0.8 0.5 -0.6 -0.3 -0.6 -0.8 -0.2 -1.2 0.2 -1.4z" fill="#ffa900" fill-rule="evenodd"/><path d="M250.5 665.2l0.3 -0.2 0.6 0.2 0.3 0.6 0.5 3.0 1.2 3.0 0.4 1.8 -0.3 1.8 -0.7 1.2 -0.8 0.7 -1.2 0.3 -1.1 -0.4 -0.7 -0.6 -0.7 -1.2 -0.2 -1.2 0.2 -1.8 1.3 -3.0 0.5 -3.6zM242.3 674.8l0.7 -0.4 0.6 0.4 0.2 0.6 0 1.2 -0.2 0.6 -0.6 0.3 -0.6 -0.3 -0.3 -0.6z" fill="#ff7000" fill-rule="evenodd"/><path d="M250.8 667.6l0.1 0.6 2 3.6 0.5 1.8 -0.1 1.2 -0.6 1.2 -0.7 0.7 -1.2 0.3 -1.1 -0.4 -0.6 -0.6 -0.5 -1.2 -0.1 -1.2 0.5 -1.8 1.7 -3.0z" fill="#ff3600" fill-rule="evenodd"/><path d="M250.6 670.6l0.8 -0.1 0.6 0.6 0.7 1.3 0.3 1.2 -0.4 1.8 -0.6 0.7 -1.2 0.4 -1.2 -0.7 -0.6 -1.6 0.2 -1.8z" fill="#fc1400" fill-rule="evenodd"/><path d="M250.4 671.8l0.4 -0.3 0.6 0.1 0.9 1.4 -0.1 1.8 -0.8 0.9 -1.2 -0.2 -0.6 -0.9 0 -1.6z" fill="#f60700" fill-rule="evenodd"/></g>
<rect x="206.40" y="629.20" width="82.80" height="82.10" fill="none" stroke="#b8b8b8" stroke-width="0.7"/>
<path d="M206.4 629.2V711.3H289.2M204.8 707.2h1.6M204.8 689.1h1.6M204.8 671.1h1.6M204.8 653.0h1.6M204.8 634.9h1.6M214.7 711.3v1.6M232.9 711.3v1.6M251.1 711.3v1.6M269.3 711.3v1.6M287.5 711.3v1.6" fill="none" stroke="#444" stroke-width="0.7"/>
<path d="M205.5 701.4h0.9M205.5 698.2h0.9M205.5 695.7h0.9M205.5 683.4h0.9M205.5 680.1h0.9M205.5 677.6h0.9M205.5 665.3h0.9M205.5 662.0h0.9M205.5 659.6h0.9M205.5 647.3h0.9M205.5 644.0h0.9M205.5 641.5h0.9M220.5 711.3v0.9M223.8 711.3v0.9M226.3 711.3v0.9M238.7 711.3v0.9M242.0 711.3v0.9M244.5 711.3v0.9M256.9 711.3v0.9M260.2 711.3v0.9M262.7 711.3v0.9M275.1 711.3v0.9M278.4 711.3v0.9M280.9 711.3v0.9" fill="none" stroke="#666" stroke-width="0.5"/>
<path d="M248.9 629.2L248.9 711.3" stroke="#111" stroke-width="0.9"/>
<path d="M206.4 672.2L289.2 672.2" stroke="#111" stroke-width="0.9"/>
<text x="285.70" y="637.73" font-size="8.69" text-anchor="end" font-weight="bold" fill="#000" stroke="#000" stroke-width="0.1" transform="translate(25.71 0) scale(0.91 1)">33.8</text>
<rect x="295.80" y="629.20" width="82.30" height="82.10" fill="#fff" stroke="none" stroke-width="1"/>
<g filter="url(#bl)"><path d="M341.8 655.0l7.4 -0.4 5.4 0.0 3 0.5 2.4 1.2 1.1 1.1 0.7 1.2 0.7 3.0 -0.3 6.6 -0.9 3.6 -1.1 1.8 -1.4 1.2 -1.8 0.9 -3.6 0.9 -1.7 3.6 -2.6 3.6 -2.9 2.7 -3.6 2.4 -4.2 1.8 -4.2 0.9 -4.2 0.0 -3.6 -1.0 -1.8 -0.9 -1.8 -1.5 -1 -1.4 -0.8 -1.8 -0.4 -1.8 0 -2.4 1.3 -4.2 1.4 -2.4 1.8 -2.4 4.3 -3.7 1.4 -4.1 1.4 -1.8 2.3 -1.8 0.7 -1.8 0.9 -1.2 2.3 -1.6z" fill="#0000eb" fill-rule="evenodd"/><path d="M344.1 656.2l6.9 -0.4 3.6 0.2 3 0.8 1.7 1.2 1.1 1.8 0.5 3.0 -0.4 5.4 -0.8 3.0 -1.3 1.8 -1.4 1.0 -1.8 0.7 -3.1 0.7 -2 4.2 -2.1 3.0 -3 2.9 -3 2.0 -3.6 1.4 -4.2 0.9 -4.2 -0.2 -3 -1.0 -1.8 -1.2 -1.1 -1.2 -1.3 -3.0 0 -3.6 1.4 -3.6 2.5 -3.6 3.9 -3.4 0.6 -3.2 0.9 -1.8 0.9 -1.0 1.2 -1.0 2.1 -1.0 0.9 -2.0 1.8 -1.6 2.4 -0.8z" fill="#000bf9" fill-rule="evenodd"/><path d="M343.6 657.4l6.2 -0.5 3.6 0.0 2.6 0.5 2.1 1.2 1.1 1.8 0.4 2.4 -0.3 4.8 -0.8 3.0 -0.9 1.3 -1.8 1.4 -5 1.5 -1.5 3.6 -2 3.0 -2.3 2.5 -3 2.2 -3.6 1.5 -3.6 0.7 -3.6 0.0 -3 -0.9 -2.3 -1.8 -1.3 -2.4 -0.3 -3.0 1.1 -3.6 2.2 -3.3 4 -3.9 0.3 -3.0 0.5 -1.2 1.2 -1.6 1.8 -1.2 2.2 -0.8 0.9 -1.8 1.3 -1.2 1.6 -0.7z" fill="#001cff" fill-rule="evenodd"/><path d="M346.6 658.0l4.4 -0.3 3 0.1 2.4 0.8 1.2 1.0 0.9 2.0 0.2 2.4 -0.5 4.2 -0.9 2.4 -1 1.2 -1.7 1.0 -4.7 1.4 -1.3 3.4 -2 3.2 -2.8 3.0 -2.4 1.5 -3.6 1.3 -4.2 0.5 -3 -0.3 -2.4 -1.1 -1.3 -1.3 -1 -1.8 -0.2 -1.8 0.1 -1.8 0.6 -1.8 1.4 -2.4 1.4 -1.8 3.2 -3.0 0 -2.4 1 -2.4 2 -1.9 3.3 -1.1 1 -1.8 1.6 -1.2 1.9 -0.7z" fill="#003aff" fill-rule="evenodd"/><path d="M346.9 658.6l6.5 -0.3 2.4 0.7 1.2 0.9 0.8 1.7 0.2 3.0 -0.5 3.6 -1.1 2.4 -2.3 1.8 -4.3 1.2 -0.6 0.5 -1.2 3.1 -2.2 3.6 -2 2.1 -2.4 1.7 -3 1.0 -4.2 0.5 -3 -0.3 -2.4 -1.1 -1.2 -1.2 -0.7 -1.5 -0.2 -1.8 0.2 -1.8 0.7 -1.8 1.5 -2.4 1.7 -1.8 2.2 -1.8 -0.1 -2.4 0.8 -2.4 1 -1.2 1.3 -0.9 3.3 -0.9 1.2 -1.8 1.5 -1.2 1.8 -0.7z" fill="#0058ff" fill-rule="evenodd"/><path d="M346.4 659.2l6.4 -0.5 2.3 0.5 1.3 0.9 0.9 1.5 0.3 2.4 -0.4 3.6 -1 2.4 -1 1.1 -1.2 0.8 -5.2 1.7 -1 3.0 -2.2 3.6 -2.1 2.4 -2.1 1.4 -3 1.0 -4.2 0.3 -2.4 -0.3 -2.4 -1.1 -1.2 -1.3 -0.5 -1.2 -0.2 -1.2 0.2 -1.8 0.7 -1.8 1 -1.8 4 -4.2 0 -2.4 0.8 -2.1 1.2 -1.3 1.2 -0.8 3 -0.6 1.3 -1.8 1.5 -1.2z" fill="#009bff" fill-rule="evenodd"/><path d="M350.4 659.2l2.4 0.0 1.8 0.3 1.4 0.9 0.8 1.2 0.3 1.8 -0.2 3.0 -0.7 2.4 -1 1.6 -2 1.4 -4.6 1.5 -1.7 3.9 -1.9 3.0 -1.8 2.0 -1.8 1.3 -2.4 0.7 -3.6 0.2 -3.6 -0.5 -1.8 -1.0 -0.8 -0.9 -0.5 -1.2 -0.2 -1.2 0.3 -1.8 0.7 -1.8 1.2 -1.8 3.1 -3.0 0 -2.4 1.1 -2.4 2.3 -1.9 1.6 -0.5 1.4 0.0 1.8 -2.3 1.8 -1.1 2.6 -0.8z" fill="#00d9ff" fill-rule="evenodd"/><path d="M349.7 659.8l2.5 -0.2 1.8 0.3 1.2 0.6 1 1.1 0.4 1.8 -0.1 2.4 -0.7 2.4 -1 1.8 -2.7 1.8 -4.1 1.2 -1.2 3.1 -2 3.5 -1.6 1.9 -1.8 1.4 -1.8 0.6 -2.4 0.1 -3.6 -0.6 -2.4 -1.0 -1.3 -1.8 -0.2 -1.2 0.3 -1.8 1.6 -3.0 3 -3.0 -0.2 -1.8 1 -2.2 2.4 -2.0 3 -0.8 1.2 -1.6 1.8 -1.3 2.4 -1.0z" fill="#00f9d9" fill-rule="evenodd"/><path d="M349.5 660.4l2.1 -0.3 1.8 0.2 1.2 0.4 0.9 0.9 0.6 1.8 -0.1 1.8 -0.5 2.4 -1 1.8 -2.2 1.8 -4.8 1.8 -2.9 6.0 -1.4 1.8 -1.8 1.4 -1.8 0.6 -1.8 0.0 -2.8 -0.8 -2.6 -1.3 -1.2 -1.7 0.2 -2.4 1.2 -2.4 2.3 -2.4 0.3 -0.6 0 -1.8 0.8 -1.2 2.7 -2.4 2.3 -0.6 1.6 -1.8 1.7 -1.2 2.5 -1.1z" fill="#00fc8c" fill-rule="evenodd"/><path d="M349.3 661.0l3.5 -0.3 1.2 0.3 1.2 1.2 0.4 1.2 0 1.8 -0.7 2.4 -0.9 1.5 -2.4 2.0 -4.6 1.9 -3.1 6.0 -1.3 1.6 -1.2 0.9 -1.2 0.5 -1.8 0.0 -1.8 -0.6 -2 -1.2 -1.6 -1.8 -0.2 -1.8 0.9 -2.4 2.2 -2.4 0.1 -1.6 0.6 -1.1 3 -2.6 1.8 -0.5 1.2 -1.4 1.8 -1.5 2.4 -1.2z" fill="#0dff46" fill-rule="evenodd"/><path d="M349.6 661.6l1.4 -0.3 1.8 0.0 1.2 0.6 0.6 0.6 0.4 0.9 0 1.8 -1.1 3.0 -1.1 1.3 -1.8 1.4 -1.8 0.8 -2.6 0.7 -3.2 6.0 -1.6 1.8 -1 0.6 -1.2 0.2 -1.2 -0.2 -1.1 -0.6 -1.8 -1.8 -0.5 -1.2 -0.2 -1.2 0.9 -2.4 1.7 -1.8 -0.1 -0.6 0.5 -1.2 1.8 -1.8 2.4 -1.4 1.4 -1.6 1.6 -1.3 2.4 -1.5z" fill="#40ff2a" fill-rule="evenodd"/><path d="M349.4 662.2l2.8 -0.4 1.2 0.4 0.6 0.6 0.5 1.2 0 1.2 -1.3 3.0 -1 1.2 -1.8 1.3 -4.8 1.7 -1.2 1.8 -1.8 3.7 -1.2 1.3 -1.2 0.6 -1.8 -0.6 -1.2 -1.3 -0.5 -1.3 0.1 -1.8 0.5 -1.2 2 -1.8 0.7 -1.8 2 -1.5 0.8 -1.5 1.7 -1.8 2.9 -2.1z" fill="#73ff0e" fill-rule="evenodd"/><path d="M349.1 662.8l2.5 -0.5 1.2 0.2 0.6 0.5 0.5 1.0 0.1 1.2 -0.9 2.4 -1.5 1.8 -1.8 1.2 -2.4 0.9 -2.7 0.3 -0.8 0.6 -0.9 1.2 -1.6 3.7 -0.6 0.5 -1.2 0.1 -0.7 -0.7 -0.4 -1.2 0.4 -1.8 1.2 -1.2 3.1 -1.7 -0.6 -1.9 0.3 -1.2 1.2 -1.8 2.1 -2.0z" fill="#a9ff00" fill-rule="evenodd"/><path d="M348.8 663.4l2.2 -0.6 1.2 0.2 0.7 0.4 0.4 0.6 0.1 1.2 -0.8 2.4 -1.7 1.8 -2.3 1.4 -2.4 0.5 -1.8 -0.3 -0.6 -0.5 -0.4 -1.1 0.6 -1.8 2 -2.4z" fill="#e2ff00" fill-rule="evenodd"/><path d="M350.1 663.4l1.6 0.0 1.1 1.0 0.1 1.4 -0.8 1.8 -1.7 1.8 -1.8 1.0 -1.8 0.5 -1.8 -0.3 -0.7 -0.6 -0.2 -0.6 0.2 -1.2 0.7 -1.2 2.4 -2.4z" fill="#ffe200" fill-rule="evenodd"/><path d="M349.4 664.0l1.6 -0.2 0.8 0.2 0.5 0.6 0.1 1.2 -0.8 1.8 -1.2 1.3 -1.8 1.1 -1.8 0.5 -1.6 -0.5 -0.4 -1.2 0.7 -1.8 1.9 -1.9z" fill="#ffa900" fill-rule="evenodd"/><path d="M348.8 664.6l1.6 -0.4 1.2 0.3 0.4 1.3 -0.4 1.2 -0.9 1.2 -1.5 1.2 -1.8 0.6 -1.2 -0.1 -0.7 -0.5 -0.2 -0.6 0.3 -1.2 1.4 -1.8z" fill="#ff7000" fill-rule="evenodd"/><path d="M350.3 664.6l0.7 0.2 0.6 1.0 -0.8 1.8 -2.2 1.7 -1.2 0.3 -1.2 -0.3 -0.3 -1.1 1 -1.8 1.7 -1.3z" fill="#ff3600" fill-rule="evenodd"/><path d="M349.1 665.2l1.5 0.0 0.5 0.6 -0.3 1.2 -1 1.2 -0.9 0.6 -0.9 0.3 -1.2 -0.1 -0.4 -0.8 0.4 -1.2 1.2 -1.2z" fill="#fc1400" fill-rule="evenodd"/><path d="M348.9 665.8l1.3 0.0 0.2 0.6 -0.2 0.6 -1.1 1.2 -1.1 0.4 -0.6 -0.1 -0.3 -0.9 0.3 -0.6z" fill="#f60700" fill-rule="evenodd"/></g>
<rect x="295.80" y="629.20" width="82.30" height="82.10" fill="none" stroke="#b8b8b8" stroke-width="0.7"/>
<path d="M295.8 629.2V711.3H378.1M294.2 707.2h1.6M294.2 689.1h1.6M294.2 671.1h1.6M294.2 653.0h1.6M294.2 634.9h1.6M304.0 711.3v1.6M322.1 711.3v1.6M340.2 711.3v1.6M358.3 711.3v1.6M376.5 711.3v1.6" fill="none" stroke="#444" stroke-width="0.7"/>
<path d="M294.9 701.4h0.9M294.9 698.2h0.9M294.9 695.7h0.9M294.9 683.4h0.9M294.9 680.1h0.9M294.9 677.6h0.9M294.9 665.3h0.9M294.9 662.0h0.9M294.9 659.6h0.9M294.9 647.3h0.9M294.9 644.0h0.9M294.9 641.5h0.9M309.8 711.3v0.9M313.1 711.3v0.9M315.6 711.3v0.9M327.9 711.3v0.9M331.2 711.3v0.9M333.7 711.3v0.9M346.0 711.3v0.9M349.3 711.3v0.9M351.8 711.3v0.9M364.1 711.3v0.9M367.4 711.3v0.9M369.9 711.3v0.9" fill="none" stroke="#666" stroke-width="0.5"/>
<path d="M338.7 629.2L338.7 711.3" stroke="#111" stroke-width="0.9"/>
<path d="M295.8 672.2L378.1 672.2" stroke="#111" stroke-width="0.9"/>
<text x="374.60" y="637.73" font-size="8.69" text-anchor="end" font-weight="bold" fill="#000" stroke="#000" stroke-width="0.1" transform="translate(33.71 0) scale(0.91 1)">59.6</text>
<path d="M18.7 664.6L18.7 637.2" stroke="#231815" stroke-width="1.0"/>
<path d="M18.70,632.20 L16.30,638.20 L21.10,638.20 Z" fill="#231815" stroke="none" stroke-width="1"/>
<text x="7.90" y="675.23" font-size="9.02" text-anchor="middle" font-weight="bold" fill="#000" transform="rotate(-90 7.90 672.40) translate(7.90 0) scale(0.91 1) translate(-7.90 0)" stroke="#000" stroke-width="0.1">Spleen</text>
<text x="18.90" y="695.88" font-size="7.59" text-anchor="middle" fill="#222" transform="rotate(-90 18.90 693.50) translate(18.90 0) scale(0.91 1) translate(-18.90 0)" stroke="#222" stroke-width="0.1">CD86 (APC)</text>
<text x="28.00" y="723.08" font-size="7.59" fill="#222" stroke="#222" stroke-width="0.1" transform="translate(2.52 0) scale(0.91 1)"><tspan>CD80 (PB450) (Gated on CD11c</tspan><tspan font-size="4.55" dy="-2.59">+</tspan><tspan dy="2.59"> cells)</tspan></text>
<path d="M150.4 721.0L362.5 721.0" stroke="#231815" stroke-width="1.0"/>
<path d="M368.50,721.00 L361.50,718.40 L361.50,723.60 Z" fill="#231815" stroke="none" stroke-width="1"/>
<path d="M404.5 624.7L404.5 705.2" stroke="#000" stroke-width="0.9"/>
<path d="M404.5 705.2L497.7 705.2" stroke="#000" stroke-width="0.9"/>
<path d="M402.0 705.2L404.5 705.2" stroke="#000" stroke-width="0.9"/>
<text x="401.40" y="707.65" font-size="7.81" text-anchor="end" fill="#000" stroke="#000" stroke-width="0.1" transform="translate(36.13 0) scale(0.91 1)">0</text>
<path d="M402.0 689.2L404.5 689.2" stroke="#000" stroke-width="0.9"/>
<text x="401.40" y="691.61" font-size="7.81" text-anchor="end" fill="#000" stroke="#000" stroke-width="0.1" transform="translate(36.13 0) scale(0.91 1)">20</text>
<path d="M402.0 673.1L404.5 673.1" stroke="#000" stroke-width="0.9"/>
<text x="401.40" y="675.57" font-size="7.81" text-anchor="end" fill="#000" stroke="#000" stroke-width="0.1" transform="translate(36.13 0) scale(0.91 1)">40</text>
<path d="M402.0 657.1L404.5 657.1" stroke="#000" stroke-width="0.9"/>
<text x="401.40" y="659.53" font-size="7.81" text-anchor="end" fill="#000" stroke="#000" stroke-width="0.1" transform="translate(36.13 0) scale(0.91 1)">60</text>
<path d="M402.0 641.0L404.5 641.0" stroke="#000" stroke-width="0.9"/>
<text x="401.40" y="643.49" font-size="7.81" text-anchor="end" fill="#000" stroke="#000" stroke-width="0.1" transform="translate(36.13 0) scale(0.91 1)">80</text>
<path d="M402.0 625.0L404.5 625.0" stroke="#000" stroke-width="0.9"/>
<text x="401.40" y="627.45" font-size="7.81" text-anchor="end" fill="#000" stroke="#000" stroke-width="0.1" transform="translate(36.13 0) scale(0.91 1)">100</text>
<rect x="412.65" y="697.02" width="12.70" height="8.18" fill="#fff" stroke="#1a1aff" stroke-width="1.1"/>
<path d="M419.0 693.2L419.0 700.4" stroke="#1a1aff" stroke-width="0.9900000000000001"/>
<path d="M416.4 693.2L421.6 693.2" stroke="#1a1aff" stroke-width="0.9900000000000001"/>
<path d="M416.4 700.4L421.6 700.4" stroke="#1a1aff" stroke-width="0.9900000000000001"/>
<circle cx="414.50" cy="692.37" r="1.35" fill="none" stroke="#1a1aff" stroke-width="0.8"/>
<circle cx="417.50" cy="695.58" r="1.35" fill="none" stroke="#1a1aff" stroke-width="0.8"/>
<circle cx="420.50" cy="698.78" r="1.35" fill="none" stroke="#1a1aff" stroke-width="0.8"/>
<circle cx="423.50" cy="700.39" r="1.35" fill="none" stroke="#1a1aff" stroke-width="0.8"/>
<rect x="433.95" y="684.35" width="12.90" height="20.85" fill="#fff" stroke="#ff1a1a" stroke-width="1.1"/>
<path d="M440.4 683.5L440.4 685.2" stroke="#ff1a1a" stroke-width="0.9900000000000001"/>
<path d="M437.8 683.5L443.0 683.5" stroke="#ff1a1a" stroke-width="0.9900000000000001"/>
<path d="M437.8 685.2L443.0 685.2" stroke="#ff1a1a" stroke-width="0.9900000000000001"/>
<circle cx="435.90" cy="683.55" r="1.35" fill="none" stroke="#ff1a1a" stroke-width="0.8"/>
<circle cx="438.90" cy="684.35" r="1.35" fill="none" stroke="#ff1a1a" stroke-width="0.8"/>
<circle cx="441.90" cy="684.75" r="1.35" fill="none" stroke="#ff1a1a" stroke-width="0.8"/>
<circle cx="444.90" cy="685.15" r="1.35" fill="none" stroke="#ff1a1a" stroke-width="0.8"/>
<rect x="455.85" y="679.54" width="13.30" height="25.66" fill="#fff" stroke="#1ec21e" stroke-width="1.1"/>
<path d="M462.5 676.3L462.5 681.9" stroke="#1ec21e" stroke-width="0.9900000000000001"/>
<path d="M459.9 676.3L465.1 676.3" stroke="#1ec21e" stroke-width="0.9900000000000001"/>
<path d="M459.9 681.9L465.1 681.9" stroke="#1ec21e" stroke-width="0.9900000000000001"/>
<circle cx="458.00" cy="675.53" r="1.35" fill="none" stroke="#1ec21e" stroke-width="0.8"/>
<circle cx="461.00" cy="678.73" r="1.35" fill="none" stroke="#1ec21e" stroke-width="0.8"/>
<circle cx="464.00" cy="680.34" r="1.35" fill="none" stroke="#1ec21e" stroke-width="0.8"/>
<circle cx="467.00" cy="681.14" r="1.35" fill="none" stroke="#1ec21e" stroke-width="0.8"/>
<rect x="477.75" y="669.27" width="13.30" height="35.93" fill="#fff" stroke="#b526f0" stroke-width="1.1"/>
<path d="M484.4 661.1L484.4 676.3" stroke="#b526f0" stroke-width="0.9900000000000001"/>
<path d="M481.8 661.1L487.0 661.1" stroke="#b526f0" stroke-width="0.9900000000000001"/>
<path d="M481.8 676.3L487.0 676.3" stroke="#b526f0" stroke-width="0.9900000000000001"/>
<circle cx="479.90" cy="657.08" r="1.35" fill="none" stroke="#b526f0" stroke-width="0.8"/>
<circle cx="482.90" cy="669.11" r="1.35" fill="none" stroke="#b526f0" stroke-width="0.8"/>
<circle cx="485.90" cy="673.12" r="1.35" fill="none" stroke="#b526f0" stroke-width="0.8"/>
<circle cx="488.90" cy="671.52" r="1.35" fill="none" stroke="#b526f0" stroke-width="0.8"/>
<path d="M416.8 627.3L484.8 627.3" stroke="#444" stroke-width="0.9"/>
<text x="453.30" y="625.46" font-size="8.80" text-anchor="middle" fill="#000" stroke="#000" stroke-width="0.1" transform="translate(40.80 0) scale(0.91 1)">p&lt;0.0001</text>
<path d="M435.7 639.5L484.8 639.5" stroke="#444" stroke-width="0.9"/>
<text x="462.75" y="637.66" font-size="8.80" text-anchor="middle" fill="#000" stroke="#000" stroke-width="0.1" transform="translate(41.65 0) scale(0.91 1)">p=0.0020</text>
<path d="M455.3 651.4L484.8 651.4" stroke="#444" stroke-width="0.9"/>
<text x="472.55" y="649.56" font-size="8.80" text-anchor="middle" fill="#000" stroke="#000" stroke-width="0.1" transform="translate(42.53 0) scale(0.91 1)">p=0.0423</text>
<path d="M416.8 657.0L462.3 657.0" stroke="#444" stroke-width="0.9"/>
<text x="442.05" y="655.16" font-size="8.80" text-anchor="middle" fill="#000" stroke="#000" stroke-width="0.1" transform="translate(39.78 0) scale(0.91 1)">p=0.0005</text>
<path d="M435.7 669.0L462.3 669.0" stroke="#444" stroke-width="0.9"/>
<text x="451.50" y="667.16" font-size="8.80" text-anchor="middle" fill="#000" stroke="#000" stroke-width="0.1" transform="translate(40.63 0) scale(0.91 1)">ns</text>
<path d="M416.8 679.5L440.4 679.5" stroke="#444" stroke-width="0.9"/>
<text x="431.10" y="677.66" font-size="8.80" text-anchor="middle" fill="#000" stroke="#000" stroke-width="0.1" transform="translate(38.80 0) scale(0.91 1)">p=0091</text>
<text transform="translate(387.80,655.00) rotate(-90) scale(0.91 1)" font-size="9.35" text-anchor="middle" fill="#222" stroke="#222" stroke-width="0.1"><tspan>CD80</tspan><tspan font-size="5.80" dy="-3.18">+</tspan><tspan dy="3.18">CD86</tspan><tspan font-size="5.80" dy="-3.18">+</tspan><tspan dy="3.18"> %</tspan></text>
<text x="7.50" y="731.98" font-size="10.45" font-weight="bold" fill="#000" stroke="#000" stroke-width="0.1" transform="translate(0.67 0) scale(0.91 1)">l</text>
<rect x="26.60" y="731.10" width="82.90" height="82.10" fill="#fff" stroke="none" stroke-width="1"/>
<g filter="url(#bl)"><path d="M64.1 752.7l4.5 -0.1 3.6 0.4 3 1.0 2.4 1.6 1.5 1.9 1.1 2.4 1.3 6.6 2.7 1.6 1.6 2.0 0.3 1.2 -0.4 1.8 -1.5 1.8 -2.2 1.2 -0.9 3.0 -1.7 2.2 -2.4 1.7 -2.4 1.0 -6 1.4 -11.4 1.5 -4.8 -0.1 -3.6 -0.9 -1.8 -1.1 -1.5 -1.5 -1.3 -2.4 -0.7 -2.4 -1.7 -11.4 0.2 -3.6 0.7 -2.4 1.2 -1.8 1.3 -1.3 1.8 -1.3 3 -1.3 6.6 -1.8z" fill="#0000eb" fill-rule="evenodd"/><path d="M62.4 754.5l3.8 -0.1 3.6 0.3 3 0.9 2.3 1.3 1.6 1.8 0.9 1.8 0.7 2.4 0.6 3.6 0.4 0.6 2.5 0.5 2.1 1.3 1.1 1.8 -0.1 1.8 -0.7 1.2 -1.2 1.1 -3.9 1.3 -0.7 1.8 -1.4 1.8 -1.8 1.3 -2.4 1.1 -4.8 1.1 -9 1.3 -4.2 0.1 -3.6 -0.7 -1.8 -1.0 -1.2 -1.0 -1.1 -1.6 -1 -2.4 -1.7 -9.6 0 -3.0 0.5 -2.4 0.8 -1.8 1 -1.2 1.5 -1.3 2.4 -1.4 5.4 -1.7z" fill="#000bf9" fill-rule="evenodd"/><path d="M61.3 755.7l3.7 -0.2 3.6 0.4 2.4 0.6 2.4 1.4 1.4 1.4 1.1 1.8 0.7 2.4 0.8 4.2 3.2 0.3 2.4 1.2 0.8 0.9 0.4 1.2 -0.6 1.9 -1.2 1.1 -1.3 0.6 -4.1 0.4 -1.2 2.2 -1.7 1.6 -2.2 1.2 -3.3 1.0 -6.6 1.1 -5.4 0.3 -3.6 -0.6 -2.3 -1.2 -1.1 -1.2 -1.1 -1.8 -1.6 -5.4 -0.7 -5.4 0.1 -2.4 0.6 -1.8 1.9 -2.7 3 -2.0 4.2 -1.5z" fill="#001cff" fill-rule="evenodd"/><path d="M58.4 756.9l4.2 -0.6 3.6 0.1 3 0.6 2.5 1.1 1.7 1.5 1.3 2.1 0.8 3.0 0.3 3.7 0.6 0.2 2.4 -0.3 2.4 0.6 1 0.6 0.8 1.1 0.2 0.7 -0.2 1.2 -1.1 1.2 -1.9 0.7 -2.4 0.0 -1.8 -0.5 -0.6 0.3 -0.9 1.9 -1.7 1.8 -2.2 1.2 -3 1.0 -4.8 0.8 -4.2 0.3 -3.6 -0.5 -2.2 -1.0 -1.4 -1.2 -0.9 -1.2 -1.5 -3.6 -1.2 -5.4 0.2 -3.6 1 -2.5 2.2 -2.3 3.2 -1.8z" fill="#003aff" fill-rule="evenodd"/><path d="M61.2 756.9l3.2 -0.2 3 0.4 2.4 0.7 1.8 1.1 1.6 1.6 1.1 2.4 0.5 3.0 0 3.6 0.4 0.4 1.2 -0.7 1.8 -0.2 2.2 0.5 1.3 1.2 0.2 1.2 -0.3 0.6 -0.7 0.6 -1.5 0.6 -1.8 0.0 -1.8 -0.6 -0.9 -0.6 -0.3 -0.7 -1 3.1 -1.5 1.8 -2.9 1.8 -3.6 1.0 -4.2 0.6 -3.6 0.0 -2.4 -0.5 -2.4 -1.2 -1.2 -1.2 -1.1 -1.7 -1.6 -4.2 -0.7 -4.2 0.2 -1.8 0.5 -1.8 1.6 -2.4 2.4 -1.8 3.5 -1.5z" fill="#0058ff" fill-rule="evenodd"/><path d="M59.3 757.5l4.5 -0.5 4.2 0.6 1.8 0.7 1.6 1.0 1.8 2.4 0.6 1.8 0.4 2.4 -0.1 3.6 -0.3 2.4 -0.7 1.8 -0.9 1.6 -1.2 1.2 -1.8 1.1 -2.4 0.9 -3.6 0.7 -3 0.2 -3 -0.2 -1.8 -0.5 -1.8 -1.0 -1.6 -1.6 -1.1 -1.8 -1.1 -3.0 -0.6 -3.0 -0.1 -2.4 0.6 -2.4 1.2 -1.8 2.1 -1.8 3 -1.5zM77.0 770.1l0.5 0.6 -0.1 0.6 -0.4 0.6 -1 0.0 -0.4 -0.6 0.1 -0.6z" fill="#009bff" fill-rule="evenodd"/><path d="M61.1 757.5l3.3 -0.1 3 0.4 2.3 0.9 1.7 1.2 1.3 1.8 0.6 1.8 0.3 2.4 -0.2 3.6 -0.5 2.4 -0.7 1.8 -1.2 1.5 -1.8 1.4 -2.4 1.1 -2.4 0.6 -3 0.4 -3 -0.1 -1.8 -0.4 -1.8 -0.8 -1.2 -0.9 -1.4 -1.6 -1 -1.8 -1 -3.0 -0.4 -2.4 0 -1.8 0.9 -3.0 2.2 -2.4 3.7 -2.0z" fill="#00d9ff" fill-rule="evenodd"/><path d="M59.2 758.1l4.6 -0.5 4.2 0.7 2.7 1.6 1.7 2.4 0.6 3.6 -0.3 3.0 -0.5 2.5 -0.7 1.7 -1.1 1.5 -1.2 1.0 -1.8 1.0 -2.4 0.8 -2.4 0.4 -2.4 0.1 -2.4 -0.3 -1.8 -0.6 -1.8 -1.2 -1.4 -1.5 -1 -1.8 -0.9 -2.4 -0.4 -2.4 0 -2.4 0.6 -1.8 1.2 -1.8 1.9 -1.6 2.4 -1.2z" fill="#00f9d9" fill-rule="evenodd"/><path d="M60.6 758.1l4.4 -0.1 3.6 0.9 1.5 1.0 1.1 1.2 0.7 1.2 0.4 1.8 0 2.4 -0.4 3.0 -0.5 1.8 -1 1.8 -1.2 1.4 -1.8 1.2 -2.4 0.9 -2.4 0.4 -4.2 -0.1 -1.8 -0.6 -1.8 -1.2 -1.4 -1.4 -1 -1.7 -0.7 -1.9 -0.5 -2.4 -0.1 -1.8 0.4 -1.8 1.5 -2.4 3 -2.2z" fill="#00fc8c" fill-rule="evenodd"/><path d="M59.0 758.7l4.2 -0.6 3.6 0.5 2.7 1.3 1.2 1.2 0.7 1.2 0.4 1.8 0 1.8 -1.2 4.8 -1.4 2.4 -1.3 1.2 -1.7 1.0 -1.8 0.6 -2.4 0.3 -2.4 0.0 -1.8 -0.5 -1.7 -0.8 -1.3 -1.0 -1.2 -1.5 -0.9 -1.7 -0.7 -2.4 -0.2 -1.8 0.2 -1.8 0.7 -1.8 2.3 -2.4 1.6 -0.9z" fill="#0dff46" fill-rule="evenodd"/><path d="M60.4 758.7l4 -0.2 3.3 0.8 2.4 1.8 1 2.4 0 1.8 -0.4 1.8 -0.9 2.4 -1.2 2.1 -2.3 2.1 -3.1 1.1 -3.6 0.0 -3 -1.2 -1.2 -1.1 -1.2 -1.6 -1.2 -3.3 -0.2 -1.7 0.3 -1.8 1.3 -2.4 2.4 -1.8z" fill="#40ff2a" fill-rule="evenodd"/><path d="M59.3 759.3l3.3 -0.6 3.6 0.4 2.7 1.4 1.3 1.8 0.3 2.4 -0.5 1.8 -0.8 1.6 -2.4 3.1 -2.4 1.4 -3 0.6 -3 -0.7 -2.4 -1.9 -1.7 -2.9 -0.5 -3.0 0.9 -2.4 1.9 -1.8z" fill="#73ff0e" fill-rule="evenodd"/><path d="M60.5 759.3l2.7 -0.3 3 0.5 2 1.0 1.4 1.8 0.3 1.8 -0.7 2.3 -1.8 2.1 -1.8 1.2 -3 0.8 -3 -0.3 -2.4 -1.2 -1.2 -1.2 -0.8 -1.3 -0.5 -2.4 0.7 -1.8 1.9 -1.8z" fill="#a9ff00" fill-rule="evenodd"/><path d="M59.6 759.9l1.8 -0.4 2.4 -0.1 1.8 0.3 1.8 0.8 1.3 1.2 0.5 1.2 0 1.2 -0.6 1.6 -1.8 1.8 -3 1.0 -3 -0.1 -3 -1.0 -1.1 -0.9 -0.7 -1.1 -0.3 -1.9 0.5 -1.2 1 -1.1z" fill="#e2ff00" fill-rule="evenodd"/><path d="M61.1 759.9l3.3 -0.1 1.8 0.5 1.2 0.8 1.1 1.8 0 1.2 -0.5 1.2 -1.8 1.5 -3 0.7 -3 -0.3 -2.4 -1.1 -0.8 -0.8 -0.4 -1.2 0.4 -1.8 1.4 -1.4z" fill="#ffe200" fill-rule="evenodd"/><path d="M60.2 760.5l3 -0.4 1.8 0.2 1.2 0.5 1.5 1.5 0.2 1.2 -0.3 1.2 -1.4 1.3 -2.4 0.8 -2.4 -0.1 -2.4 -0.7 -1.4 -1.3 -0.2 -1.8 0.8 -1.2z" fill="#ffa900" fill-rule="evenodd"/><path d="M61.7 760.5l2.7 0.1 2.2 1.1 0.7 1.2 -0.2 1.2 -0.3 0.6 -1.8 1.2 -1.8 0.3 -2.4 -0.2 -1.8 -0.9 -0.6 -0.7 -0.3 -0.9 0.3 -1.2 1.4 -1.2z" fill="#ff7000" fill-rule="evenodd"/><path d="M60.9 761.1l2.3 -0.3 1.8 0.4 1.4 1.1 0.2 0.6 -0.2 1.2 -0.8 0.8 -1.8 0.7 -1.8 0.1 -1.8 -0.6 -1.2 -1.0 -0.1 -1.2 0.8 -1.2z" fill="#ff3600" fill-rule="evenodd"/><path d="M60.7 761.7l1.9 -0.5 1.8 0.3 1.2 0.8 0.3 1.2 -0.3 0.6 -1.2 0.8 -1.2 0.2 -1.8 -0.1 -1.2 -0.7 -0.6 -0.8 0.3 -1.2z" fill="#fc1400" fill-rule="evenodd"/><path d="M61.2 762.3l1.4 -0.5 1.2 0.2 0.7 0.3 0.4 0.6 -0.1 0.6 -1 0.8 -1.8 0.0 -1.3 -0.8 0 -0.6z" fill="#f60700" fill-rule="evenodd"/></g>
<rect x="26.60" y="731.10" width="82.90" height="82.10" fill="none" stroke="#b8b8b8" stroke-width="0.7"/>
<path d="M26.6 731.1V813.2H109.5M25.0 809.1h1.6M25.0 791.0h1.6M25.0 773.0h1.6M25.0 754.9h1.6M25.0 736.8h1.6M34.9 813.2v1.6M53.1 813.2v1.6M71.4 813.2v1.6M89.6 813.2v1.6M107.8 813.2v1.6" fill="none" stroke="#444" stroke-width="0.7"/>
<path d="M25.7 803.3h0.9M25.7 800.1h0.9M25.7 797.6h0.9M25.7 785.3h0.9M25.7 782.0h0.9M25.7 779.5h0.9M25.7 767.2h0.9M25.7 763.9h0.9M25.7 761.5h0.9M25.7 749.2h0.9M25.7 745.9h0.9M25.7 743.4h0.9M40.7 813.2v0.9M44.0 813.2v0.9M46.5 813.2v0.9M58.9 813.2v0.9M62.2 813.2v0.9M64.7 813.2v0.9M77.2 813.2v0.9M80.5 813.2v0.9M83.0 813.2v0.9M95.4 813.2v0.9M98.7 813.2v0.9M101.2 813.2v0.9" fill="none" stroke="#666" stroke-width="0.5"/>
<path d="M71.5 731.1L71.5 813.2" stroke="#111" stroke-width="0.9"/>
<path d="M26.6 772.4L109.5 772.4" stroke="#111" stroke-width="0.9"/>
<text x="106.00" y="742.93" font-size="8.69" text-anchor="end" font-weight="bold" fill="#000" stroke="#000" stroke-width="0.1" transform="translate(9.54 0) scale(0.91 1)">5.46</text>
<text x="106.00" y="809.13" font-size="8.69" text-anchor="end" font-weight="bold" fill="#000" stroke="#000" stroke-width="0.1" transform="translate(9.54 0) scale(0.91 1)">2.71</text>
<rect x="116.20" y="731.10" width="82.40" height="82.10" fill="#fff" stroke="none" stroke-width="1"/>
<g filter="url(#bl)"><path d="M160.9 761.7l5.7 -0.3 4.8 0.4 3.3 1.1 2.3 1.8 1.1 1.8 0.7 1.8 0.9 6.6 -0.4 3.6 -1 1.8 -1 1.2 -3.5 2.2 -5.4 1.7 -6.6 1.1 -11.4 1.5 -5.4 0.4 -4.2 -0.3 -3 -0.9 -2.2 -1.5 -1.3 -1.8 -0.6 -1.8 -1.1 -7.2 0 -1.8 0.4 -1.8 0.5 -1.2 1.3 -1.5 3 -2.0 4.8 -1.7 8.4 -1.8z" fill="#0000eb" fill-rule="evenodd"/><path d="M163.3 762.9l4.5 0.1 3.6 0.8 2.4 1.4 1.6 1.9 1.2 3.6 0.4 4.8 -0.7 3.0 -1.9 2.4 -3.1 1.8 -4.7 1.4 -5.4 0.9 -11.4 1.3 -4.2 0.2 -3 -0.3 -2.4 -0.8 -2 -1.5 -0.8 -1.2 -0.6 -1.8 -0.9 -6.6 0.5 -3.0 0.8 -1.2 1.2 -1.2 3.6 -1.9 6.6 -2.0 7.2 -1.4z" fill="#000bf9" fill-rule="evenodd"/><path d="M159.7 764.1l5.1 -0.2 3.6 0.5 2.6 0.9 2.2 1.8 1.4 3.0 0.6 4.2 -0.5 3.0 -1.5 2.4 -2.4 1.7 -3 1.2 -4.2 0.9 -5.4 0.7 -7.8 0.6 -4.2 0.0 -3 -0.6 -2.3 -1.5 -1.3 -2.4 -0.9 -6.0 0.4 -2.4 1.2 -1.8 2.6 -1.8 4.6 -1.8 5.9 -1.5z" fill="#001cff" fill-rule="evenodd"/><path d="M161.5 764.7l3.9 0.1 2.7 0.5 2.1 0.9 1.8 1.5 1.4 3.0 0.4 3.6 -0.4 2.4 -1.4 2.4 -1.8 1.4 -3 1.3 -3.6 0.8 -4.2 0.6 -6 0.3 -5 -0.2 -2.9 -0.6 -2 -1.2 -1.3 -2.4 -1.1 -4.8 0.5 -2.4 1.3 -1.8 2.7 -1.8 4.8 -1.8 6 -1.3z" fill="#003aff" fill-rule="evenodd"/><path d="M159.6 765.3l4 -0.1 3 0.3 2.4 0.9 1.9 1.3 1.4 2.4 0.7 3.0 -0.3 3.0 -1.3 2.4 -1.8 1.5 -3 1.3 -3.2 0.8 -4 0.5 -5.4 0.1 -4.2 -0.4 -2.8 -0.8 -1.8 -1.2 -1.4 -2.3 -0.9 -3.1 0.1 -2.4 0.9 -1.8 2.3 -1.8 3.6 -1.6 4.8 -1.2z" fill="#0058ff" fill-rule="evenodd"/><path d="M157.5 765.9l4.3 -0.4 3.6 0.2 2.7 0.8 2.1 1.4 1.5 2.2 0.7 3.6 -0.4 2.5 -1.4 2.3 -2.2 1.6 -2.4 0.9 -3.6 0.8 -3.6 0.4 -4.2 -0.1 -3.6 -0.4 -2.5 -0.8 -1.9 -1.2 -1.3 -1.8 -1.2 -3.0 0 -2.4 1 -1.8 2.3 -1.8 2.6 -1.2 3.4 -1.0z" fill="#009bff" fill-rule="evenodd"/><path d="M161.5 765.9l3.3 0.2 2.4 0.6 1.9 1.0 1.6 1.8 0.9 2.4 0.1 2.4 -0.6 2.4 -1.3 1.8 -2 1.3 -3 1.1 -3.6 0.6 -3.6 0.2 -3.6 -0.2 -2.9 -0.6 -2.5 -1.2 -1.4 -1.2 -1.5 -2.4 -0.5 -2.4 0.3 -1.8 1.3 -1.8 2.4 -1.5 3.6 -1.3 4.2 -1.0z" fill="#00d9ff" fill-rule="evenodd"/><path d="M158.4 766.5l4 -0.2 3 0.3 2.4 0.9 1.7 1.4 1.3 2.4 0.3 3.0 -0.7 2.4 -1.4 1.7 -2.1 1.3 -2.7 0.9 -3 0.5 -3.6 0.1 -3 -0.2 -2.7 -0.7 -2.1 -1.0 -1.6 -1.4 -1.2 -1.8 -0.6 -1.8 0 -1.8 0.9 -1.8 1.4 -1.2 2.4 -1.2 3.5 -1.1z" fill="#00f9d9" fill-rule="evenodd"/><path d="M156.9 767.1l3.7 -0.4 3 0.1 3 0.7 1.8 1.1 1.6 2.1 0.6 2.4 -0.3 2.4 -1 1.8 -1.5 1.4 -2.1 1.0 -2.7 0.7 -3 0.3 -3 0.0 -3 -0.5 -2.4 -0.9 -1.8 -1.2 -1.6 -2.0 -0.7 -1.8 0 -1.8 0.5 -1.2 1.1 -1.2 1.9 -1.2 3 -1.1z" fill="#00fc8c" fill-rule="evenodd"/><path d="M159.8 767.1l2.6 0.0 2.4 0.3 2.2 0.9 1.5 1.2 1.1 1.8 0.4 2.4 -0.3 1.8 -1.1 1.8 -1.4 1.1 -1.8 0.9 -2.4 0.7 -3 0.3 -3 -0.1 -2.3 -0.5 -1.9 -0.7 -1.8 -1.1 -1.6 -1.8 -0.8 -1.8 0 -1.8 1 -1.8 1.5 -1.2 2.7 -1.2 3.2 -0.8z" fill="#0dff46" fill-rule="evenodd"/><path d="M158.8 767.7l3 -0.1 2.4 0.3 1.8 0.6 1.8 1.4 1.2 2.0 0.3 1.8 -0.4 1.8 -1.3 1.8 -1.6 1.1 -1.8 0.7 -2.4 0.5 -2.4 0.1 -2.4 -0.2 -2.4 -0.7 -1.8 -0.9 -1.4 -1.2 -0.9 -1.2 -0.6 -1.8 0.1 -1.2 0.6 -1.2 1.2 -1.2 2.2 -1.2z" fill="#40ff2a" fill-rule="evenodd"/><path d="M158.2 768.3l3 -0.2 2.4 0.3 1.8 0.6 1.7 1.1 1.2 1.8 0.3 1.8 -0.4 1.8 -0.9 1.2 -1.3 1.1 -1.8 0.8 -4.2 0.6 -4.2 -0.7 -1.8 -0.9 -1.2 -0.9 -1 -1.2 -0.6 -1.8 0.1 -1.2 0.6 -1.2 2.4 -1.8z" fill="#73ff0e" fill-rule="evenodd"/><path d="M157.8 768.9l2.2 -0.3 2.4 0.1 1.8 0.4 1.9 1.0 1.1 1.2 0.7 1.8 -0.2 1.8 -0.6 1.2 -1.1 1.0 -1.8 0.9 -3.6 0.7 -3.6 -0.5 -3 -1.5 -1.1 -1.2 -0.5 -1.2 -0.1 -1.2 0.4 -1.2 1.9 -1.8z" fill="#a9ff00" fill-rule="evenodd"/><path d="M157.8 769.5l4 -0.3 1.8 0.4 1.8 0.8 1.2 1.3 0.6 1.4 -0.1 1.2 -0.4 1.2 -1.9 1.6 -3 1.0 -3.6 -0.2 -2.9 -1.2 -1.6 -1.8 -0.3 -1.2 0.2 -1.2 1.5 -1.8z" fill="#e2ff00" fill-rule="evenodd"/><path d="M157.8 770.1l2.2 -0.4 1.8 0.0 1.8 0.5 1.2 0.6 1.2 1.1 0.5 1.2 0 1.2 -0.6 1.2 -1.7 1.3 -2.4 0.8 -3 -0.1 -2.4 -0.9 -1.7 -1.7 -0.3 -1.8 1.1 -1.8z" fill="#ffe200" fill-rule="evenodd"/><path d="M157.7 770.7l2.9 -0.6 3 0.6 1.2 0.8 0.8 1.0 0.3 1.2 -0.4 1.2 -1.3 1.3 -2.4 0.9 -2.4 0.0 -2.4 -0.8 -1.5 -1.4 -0.3 -1.8 0.6 -1.2z" fill="#ffa900" fill-rule="evenodd"/><path d="M159.4 770.7l3 0.1 2 1.1 0.5 0.6 0.3 1.2 -0.3 1.2 -0.6 0.6 -1.9 1.0 -1.8 0.2 -2.4 -0.4 -1.4 -0.8 -0.8 -1.2 -0.1 -1.2 0.3 -0.6 1.4 -1.2z" fill="#ff7000" fill-rule="evenodd"/><path d="M158.9 771.3l2.3 -0.2 2.4 0.8 0.9 1.2 0 1.2 -0.3 0.6 -1.2 0.9 -1.8 0.5 -1.8 -0.1 -1.7 -0.7 -1 -1.2 0 -1.2 0.9 -1.2z" fill="#ff3600" fill-rule="evenodd"/><path d="M158.7 771.9l1.9 -0.4 2 0.4 1.2 1.2 0 1.2 -0.8 0.9 -1.2 0.5 -1.8 0.1 -1.2 -0.3 -0.9 -0.6 -0.6 -1.2 0.5 -1.2z" fill="#fc1400" fill-rule="evenodd"/><path d="M159.1 772.5l1.5 -0.4 1.6 0.4 0.7 0.6 0.2 0.6 -0.2 0.6 -0.7 0.6 -1 0.3 -2.1 -0.3 -0.7 -0.6 -0.2 -0.6 0.2 -0.6z" fill="#f60700" fill-rule="evenodd"/></g>
<rect x="116.20" y="731.10" width="82.40" height="82.10" fill="none" stroke="#b8b8b8" stroke-width="0.7"/>
<path d="M116.2 731.1V813.2H198.6M114.6 809.1h1.6M114.6 791.0h1.6M114.6 773.0h1.6M114.6 754.9h1.6M114.6 736.8h1.6M124.4 813.2v1.6M142.6 813.2v1.6M160.7 813.2v1.6M178.8 813.2v1.6M197.0 813.2v1.6" fill="none" stroke="#444" stroke-width="0.7"/>
<path d="M115.3 803.3h0.9M115.3 800.1h0.9M115.3 797.6h0.9M115.3 785.3h0.9M115.3 782.0h0.9M115.3 779.5h0.9M115.3 767.2h0.9M115.3 763.9h0.9M115.3 761.5h0.9M115.3 749.2h0.9M115.3 745.9h0.9M115.3 743.4h0.9M130.2 813.2v0.9M133.5 813.2v0.9M136.0 813.2v0.9M148.3 813.2v0.9M151.6 813.2v0.9M154.1 813.2v0.9M166.5 813.2v0.9M169.8 813.2v0.9M172.2 813.2v0.9M184.6 813.2v0.9M187.9 813.2v0.9M190.4 813.2v0.9" fill="none" stroke="#666" stroke-width="0.5"/>
<path d="M162.2 731.1L162.2 813.2" stroke="#111" stroke-width="0.9"/>
<path d="M116.2 772.4L198.6 772.4" stroke="#111" stroke-width="0.9"/>
<text x="195.10" y="742.93" font-size="8.69" text-anchor="end" font-weight="bold" fill="#000" stroke="#000" stroke-width="0.1" transform="translate(17.56 0) scale(0.91 1)">18.1</text>
<text x="195.10" y="809.13" font-size="8.69" text-anchor="end" font-weight="bold" fill="#000" stroke="#000" stroke-width="0.1" transform="translate(17.56 0) scale(0.91 1)">26.2</text>
<rect x="206.40" y="731.10" width="82.80" height="82.10" fill="#fff" stroke="none" stroke-width="1"/>
<g filter="url(#bl)"><path d="M250.7 761.1l5.5 -0.4 4.8 0.4 3.6 1.1 2.6 1.9 1.1 1.8 0.7 1.8 1 7.2 -0.2 3.6 -0.6 1.8 -0.9 1.2 -2.5 2.1 -4.8 1.9 -5.4 1.1 -12 1.7 -5.4 0.4 -4.2 -0.1 -3 -0.8 -2.4 -1.4 -1.5 -1.9 -0.8 -1.8 -1.1 -7.2 0.1 -4.2 0.7 -1.8 0.9 -1.2 2.9 -2.2 4.2 -1.6 7.8 -1.9z" fill="#0000eb" fill-rule="evenodd"/><path d="M251.9 762.3l4.3 -0.2 3.6 0.5 3 1.1 1.4 1.0 1.1 1.2 0.9 1.8 0.5 1.8 0.6 5.4 -0.5 3.6 -1.4 2.4 -2.6 1.9 -4.2 1.5 -4.8 1.0 -9.6 1.1 -4.8 0.4 -3.6 -0.2 -3 -0.8 -1.8 -1.2 -1 -1.3 -0.7 -1.8 -1.1 -7.2 0.4 -3.0 1.5 -2.4 3.3 -2.1 4.8 -1.8 7.2 -1.7z" fill="#000bf9" fill-rule="evenodd"/><path d="M249.8 763.5l4.6 -0.5 3.6 0.3 3 1.0 2.1 1.6 0.9 1.2 0.8 1.8 0.6 4.2 -0.2 3.6 -0.6 1.8 -0.7 1.2 -1.7 1.5 -2.4 1.3 -3 1.0 -4.2 0.7 -8.4 0.8 -4.8 0.1 -3.6 -0.5 -2.3 -1.3 -1.4 -2.4 -1.1 -5.8 0 -2.6 1.1 -2.4 2.5 -2.1 4.2 -1.9 5.4 -1.6z" fill="#001cff" fill-rule="evenodd"/><path d="M250.6 764.1l3.8 -0.4 3 0.2 2.4 0.8 2.3 1.8 0.9 1.2 0.7 1.8 0.4 3.6 -0.3 3.6 -1.2 2.4 -1.6 1.5 -2.4 1.3 -2.4 0.8 -3 0.5 -6 0.4 -5.4 0.0 -3 -0.4 -2.5 -1.1 -1.1 -1.2 -0.6 -1.2 -1.1 -4.8 0 -2.4 1.1 -2.4 2.1 -1.8 3.7 -1.8 4.4 -1.3z" fill="#003aff" fill-rule="evenodd"/><path d="M253.9 764.1l2.9 0.1 2.4 0.7 2.1 1.6 1.2 1.8 0.8 3.0 0 3.6 -0.6 2.4 -1.7 2.4 -1.8 1.2 -2.4 1.0 -3 0.6 -4.8 0.3 -4.2 0.0 -3 -0.4 -2.4 -0.7 -1.8 -1.2 -1.5 -2.6 -1.1 -4.2 0.4 -2.4 1.3 -1.8 2.6 -1.8 3.7 -1.5 5.4 -1.3z" fill="#0058ff" fill-rule="evenodd"/><path d="M251.6 764.7l3.4 -0.4 2.4 0.3 2.4 1.1 1.5 1.4 1.2 2.4 0.4 3.6 -0.4 3.0 -1.2 2.4 -1.5 1.5 -1.8 1.0 -2.4 0.8 -3 0.3 -4.8 0.2 -3.6 -0.3 -3 -0.8 -1.8 -1.1 -1.8 -2.2 -1.2 -3.0 -0.2 -2.4 1.1 -2.4 2.1 -1.8 2.4 -1.2 3.8 -1.2z" fill="#009bff" fill-rule="evenodd"/><path d="M253.7 764.7l2.5 0.0 2.3 0.6 1.7 1.2 1.3 1.8 0.9 3.0 0 3.0 -0.6 2.4 -1.4 2.1 -1.8 1.5 -1.8 0.7 -2.4 0.5 -3.6 0.2 -3.6 -0.1 -3 -0.4 -2.3 -0.9 -1.8 -1.2 -1.8 -2.4 -0.9 -3.0 0.2 -2.4 1.3 -1.8 1.7 -1.3 3 -1.3 5.4 -1.4z" fill="#00d9ff" fill-rule="evenodd"/><path d="M251.7 765.3l3.3 -0.4 2.4 0.3 1.8 0.9 1.5 1.6 1.1 2.4 0.2 3.0 -0.3 2.4 -1.1 2.4 -1.1 1.2 -1.5 1.0 -1.8 0.7 -2.4 0.3 -7.2 -0.2 -2.4 -0.6 -2.3 -1.2 -1.9 -1.9 -1.4 -2.9 -0.1 -2.4 0.9 -1.8 1.2 -1.2 2.4 -1.3 4.8 -1.5z" fill="#00f9d9" fill-rule="evenodd"/><path d="M253.4 765.3l2.8 -0.1 1.8 0.5 1.8 1.3 0.9 1.3 0.8 2.4 0.1 3.0 -0.5 2.4 -1.3 2.1 -1.2 1.1 -1.8 0.9 -1.8 0.4 -2.4 0.1 -6.6 -0.7 -2.3 -0.9 -1.7 -1.2 -1.5 -1.8 -1 -2.4 0 -1.8 0.9 -1.8 1.4 -1.2 2.4 -1.2 4.8 -1.5z" fill="#00fc8c" fill-rule="evenodd"/><path d="M251.7 765.9l3.3 -0.5 2.4 0.4 2 1.3 1.5 2.4 0.4 3.6 -0.6 3.0 -1.5 2.2 -2.4 1.5 -1.8 0.4 -2.4 0.0 -4.1 -0.5 -2.5 -0.6 -3.1 -1.8 -1.1 -1.2 -0.9 -1.8 -0.3 -2.4 0.5 -1.2 1.1 -1.2 2 -1.2 3.1 -1.2z" fill="#0dff46" fill-rule="evenodd"/><path d="M253.7 765.9l1.9 -0.1 1.8 0.4 1.5 0.9 1.3 1.8 0.6 2.4 0 2.4 -0.7 2.4 -0.9 1.5 -1.2 1.1 -1.2 0.6 -3 0.4 -6 -1.3 -1.8 -0.8 -1.8 -1.2 -1.3 -1.5 -0.6 -1.8 0.2 -1.8 0.8 -1.2 5.3 -3.0z" fill="#40ff2a" fill-rule="evenodd"/><path d="M252.6 766.5l3 -0.4 1.8 0.5 1.8 1.4 1 2.1 0.3 3.0 -0.7 2.7 -1.6 2.1 -2 1.0 -3 0.1 -4.2 -1.7 -2.9 -1.8 -1 -1.2 -0.5 -1.2 0.2 -1.8 2.7 -3.0 2.1 -1.1z" fill="#73ff0e" fill-rule="evenodd"/><path d="M254.6 766.5l2.2 0.2 1.7 1.0 1.1 1.8 0.5 2.4 -0.2 2.4 -1.1 2.4 -1.4 1.3 -2.4 0.6 -2.4 -0.5 -2.1 -1.4 -2.9 -4.2 -0.5 -1.8 0.7 -1.8 1.5 -1.2z" fill="#a9ff00" fill-rule="evenodd"/><path d="M253.8 767.1l1.8 -0.2 1.8 0.5 1.5 1.5 0.7 1.8 0.1 2.4 -0.7 2.4 -1 1.3 -1.8 1.1 -1.2 0.1 -1.2 -0.2 -1.7 -1.1 -3.8 -6.0 0.1 -1.2 0.9 -1.2 1.4 -0.6z" fill="#e2ff00" fill-rule="evenodd"/><path d="M253.3 767.7l1.7 -0.4 1.8 0.3 1.2 0.9 1 1.6 0.3 2.4 -0.5 2.4 -1.4 1.8 -1.2 0.6 -1.8 0.0 -1.8 -1.2 -1.8 -3.4 -1.6 -2.0 0 -1.2 0.4 -0.7 1.2 -0.6z" fill="#ffe200" fill-rule="evenodd"/><path d="M253.1 768.3l1.9 -0.5 1.2 0.1 1.2 0.6 1.1 1.6 0.4 1.8 -0.2 1.8 -0.7 1.6 -1.2 1.1 -1.8 0.4 -1.4 -0.7 -1 -1.2 -1.2 -2.7 -1.2 -1.5 -0.2 -1.2 0.6 -0.6z" fill="#ffa900" fill-rule="evenodd"/><path d="M255.0 768.3l1.2 0.1 1.2 0.7 0.7 1.0 0.4 1.8 -0.2 1.8 -0.6 1.2 -0.9 0.9 -1.2 0.4 -1.2 -0.3 -1.1 -1.0 -2.2 -4.8 0.4 -0.6z" fill="#ff7000" fill-rule="evenodd"/><path d="M254.8 768.9l0.8 -0.1 1.2 0.4 0.8 0.9 0.4 1.2 -0.2 2.4 -0.7 1.2 -0.9 0.6 -1.2 0.0 -0.9 -0.6 -0.7 -1.2 -0.6 -1.8 0 -1.8z" fill="#ff3600" fill-rule="evenodd"/><path d="M254.9 769.5l1.3 0.0 0.6 0.4 0.8 1.4 -0.2 2.2 -1.2 1.3 -1.2 -0.1 -0.6 -0.4 -0.8 -1.8 0 -1.8 0.4 -0.6z" fill="#fc1400" fill-rule="evenodd"/><path d="M254.7 770.7l0.9 -0.4 0.6 0.1 0.6 0.7 0.2 1.4 -0.8 1.3 -1.1 -0.1 -0.5 -0.6 -0.3 -1.2z" fill="#f60700" fill-rule="evenodd"/></g>
<rect x="206.40" y="731.10" width="82.80" height="82.10" fill="none" stroke="#b8b8b8" stroke-width="0.7"/>
<path d="M206.4 731.1V813.2H289.2M204.8 809.1h1.6M204.8 791.0h1.6M204.8 773.0h1.6M204.8 754.9h1.6M204.8 736.8h1.6M214.7 813.2v1.6M232.9 813.2v1.6M251.1 813.2v1.6M269.3 813.2v1.6M287.5 813.2v1.6" fill="none" stroke="#444" stroke-width="0.7"/>
<path d="M205.5 803.3h0.9M205.5 800.1h0.9M205.5 797.6h0.9M205.5 785.3h0.9M205.5 782.0h0.9M205.5 779.5h0.9M205.5 767.2h0.9M205.5 763.9h0.9M205.5 761.5h0.9M205.5 749.2h0.9M205.5 745.9h0.9M205.5 743.4h0.9M220.5 813.2v0.9M223.8 813.2v0.9M226.3 813.2v0.9M238.7 813.2v0.9M242.0 813.2v0.9M244.5 813.2v0.9M256.9 813.2v0.9M260.2 813.2v0.9M262.7 813.2v0.9M275.1 813.2v0.9M278.4 813.2v0.9M280.9 813.2v0.9" fill="none" stroke="#666" stroke-width="0.5"/>
<path d="M252.0 731.1L252.0 813.2" stroke="#111" stroke-width="0.9"/>
<path d="M206.4 772.4L289.2 772.4" stroke="#111" stroke-width="0.9"/>
<text x="285.70" y="742.93" font-size="8.69" text-anchor="end" font-weight="bold" fill="#000" stroke="#000" stroke-width="0.1" transform="translate(25.71 0) scale(0.91 1)">25.1</text>
<text x="285.70" y="809.13" font-size="8.69" text-anchor="end" font-weight="bold" fill="#000" stroke="#000" stroke-width="0.1" transform="translate(25.71 0) scale(0.91 1)">32.8</text>
<rect x="295.80" y="731.10" width="82.30" height="82.10" fill="#fff" stroke="none" stroke-width="1"/>
<g filter="url(#bl)"><path d="M339.6 756.3l5.4 -0.3 4.2 0.5 3.6 1.5 2.1 1.9 1.1 1.8 0.8 2.4 1.2 7.8 0 4.8 -1 3.0 -1.8 2.2 -2.4 1.6 -3.6 1.4 -4.8 1.1 -9 1.1 -6.6 0.5 -4.2 -0.4 -3 -1.1 -1.8 -1.3 -1.1 -1.5 -0.9 -1.8 -0.6 -2.4 -1.1 -7.2 -0.2 -3.0 0.5 -3.0 0.8 -1.8 0.9 -1.2 1.7 -1.5 3.6 -1.7 7.8 -2.0z" fill="#0000eb" fill-rule="evenodd"/><path d="M338.2 758.1l4.4 -0.4 4.2 0.3 3.6 1.3 2.2 1.8 1.1 1.8 0.7 1.8 0.9 5.4 0.2 4.8 -0.3 1.8 -0.6 1.8 -1.4 1.8 -2.5 1.8 -3.3 1.3 -3.6 0.9 -6 0.8 -7.2 0.3 -3.6 -0.2 -3 -0.9 -1.4 -1.0 -1.1 -1.2 -0.9 -1.8 -0.5 -1.8 -1.2 -9.0 0.3 -2.4 0.7 -1.8 0.9 -1.2 1.4 -1.2 3 -1.5 6 -1.9z" fill="#000bf9" fill-rule="evenodd"/><path d="M337.9 759.3l4.7 -0.5 3.6 0.3 3 1.2 2.2 2.0 1.5 3.0 0.7 4.2 0.1 4.8 -0.9 3.4 -1.5 2.0 -2.1 1.5 -3 1.2 -3 0.7 -4.8 0.6 -5.4 0.1 -4.2 -0.3 -2.6 -0.8 -2.3 -1.8 -1.3 -3.0 -1.1 -7.8 0.1 -1.8 0.6 -1.8 0.8 -1.2 1.3 -1.2 3.2 -1.8 4.9 -1.8z" fill="#001cff" fill-rule="evenodd"/><path d="M339.5 759.9l3.7 -0.3 3 0.4 2.4 1.1 2 1.8 1.4 3.0 0.5 3.6 -0.1 4.8 -1 3.0 -1.4 1.8 -1.7 1.2 -2.7 1.2 -3 0.7 -4.2 0.5 -4.2 0.0 -3.6 -0.5 -2.4 -0.9 -2.1 -1.6 -1.4 -3.0 -0.9 -6.0 0.1 -1.8 0.5 -1.8 2 -2.4 2.8 -1.8 4.8 -1.8z" fill="#003aff" fill-rule="evenodd"/><path d="M339.1 760.5l3.5 -0.4 3 0.3 2.4 0.9 1.8 1.6 1.4 2.4 0.6 3.0 -0.1 4.8 -0.7 3.0 -1.1 1.8 -1.3 1.3 -1.9 1.1 -2.9 1.0 -3.6 0.6 -3.6 0.1 -3.6 -0.4 -2.6 -0.7 -2.6 -1.8 -1.3 -2.4 -1.1 -5.4 0 -1.8 0.4 -1.8 1.6 -2.4 2.4 -1.8 4.3 -1.8z" fill="#0058ff" fill-rule="evenodd"/><path d="M341.9 760.5l3.1 0.1 2.4 0.8 1.8 1.4 1.3 1.9 0.7 2.4 0.2 3.6 -0.5 3.6 -0.9 2.4 -1.4 1.7 -1.8 1.2 -2.4 1.0 -2.4 0.6 -3.6 0.3 -3 -0.1 -2.5 -0.5 -2.3 -1.0 -2.2 -2.0 -1.3 -3.0 -0.6 -4.8 0.7 -3.0 2 -2.4 3.1 -1.8 4.9 -1.6z" fill="#009bff" fill-rule="evenodd"/><path d="M340.1 761.1l3.1 -0.3 2.4 0.3 1.8 0.7 1.9 1.7 1.2 2.4 0.4 2.4 -0.1 3.6 -0.7 3.0 -0.9 1.8 -1.2 1.4 -1.8 1.2 -2.4 1.0 -3 0.5 -3 0.1 -2.4 -0.2 -2.4 -0.6 -2.7 -1.6 -1 -1.2 -0.9 -1.8 -0.9 -4.2 0.1 -1.8 0.4 -1.8 1.7 -2.4 2.1 -1.5 3.6 -1.5z" fill="#00d9ff" fill-rule="evenodd"/><path d="M343.0 761.1l2.6 0.3 1.8 0.8 1.5 1.3 1.1 1.8 0.5 2.4 0 2.4 -0.6 3.6 -1 2.4 -1 1.2 -1.7 1.3 -1.8 0.9 -2.4 0.6 -5 0.2 -2.2 -0.4 -2 -0.8 -2.2 -1.8 -1.5 -3.0 -0.6 -4.2 0.9 -3.0 1.4 -1.8 2.9 -1.8 5.4 -1.8z" fill="#00f9d9" fill-rule="evenodd"/><path d="M340.6 761.7l2.6 -0.3 2.4 0.3 1.8 0.9 1.6 1.5 0.9 1.8 0.3 2.4 -0.1 2.4 -0.7 3.0 -0.8 1.8 -0.9 1.2 -1.5 1.2 -1.8 0.9 -2.4 0.7 -2.4 0.3 -2.4 -0.1 -2.4 -0.6 -1.3 -0.6 -1.5 -1.2 -1.6 -2.4 -0.9 -3.6 0.4 -3.0 0.9 -1.8 2 -1.8 3.9 -1.8z" fill="#00fc8c" fill-rule="evenodd"/><path d="M342.8 761.7l2.2 0.2 1.8 0.6 1.3 1.0 1.2 1.8 0.5 1.8 0.1 2.4 -1.5 5.4 -1 1.3 -1.2 1.0 -3.6 1.5 -4.2 0.4 -3.6 -0.9 -1.4 -0.9 -1 -1.1 -1.3 -2.5 -0.6 -3.0 0.7 -3.0 1.3 -1.8 2.7 -1.8 4.5 -1.8z" fill="#0dff46" fill-rule="evenodd"/><path d="M341.4 762.3l1.8 -0.3 1.8 0.2 1.8 0.8 1.2 1.0 0.9 1.3 0.5 1.8 0.1 1.8 -0.3 1.8 -1.2 3.6 -0.7 1.2 -1.1 0.9 -1.8 0.8 -3 0.7 -2.4 0.1 -1.8 -0.3 -2.4 -1.2 -1.8 -2.2 -0.9 -3.0 0.2 -2.4 0.8 -1.8 1.9 -1.8 2.8 -1.7z" fill="#40ff2a" fill-rule="evenodd"/><path d="M340.8 762.9l2.4 -0.5 2.4 0.4 2.1 1.3 1.1 1.8 0.3 3.0 -1.4 4.8 -0.9 1.6 -1.8 1.1 -3 0.2 -4.2 -0.6 -1.9 -1.1 -1.5 -2.4 -0.3 -3.0 1.1 -3.0 1.8 -1.8z" fill="#73ff0e" fill-rule="evenodd"/><path d="M342.2 762.9l2.2 -0.1 1.8 0.6 1.5 1.3 0.9 1.8 0.1 2.4 -1.5 4.8 -0.7 1.2 -1.5 0.9 -2.4 0.0 -3.6 -2.1 -1.8 -2.0 -1.4 -2.8 0.1 -1.8 1.1 -1.8 2.6 -1.4z" fill="#a9ff00" fill-rule="evenodd"/><path d="M341.7 763.5l2.1 -0.3 1.8 0.3 1.6 1.2 1 1.8 0 2.4 -1.5 4.8 -0.5 0.8 -1.2 0.7 -1.2 0.1 -1.2 -0.5 -5.2 -5.3 -0.7 -1.2 -0.1 -1.2 0.6 -1.2 1.2 -0.9z" fill="#e2ff00" fill-rule="evenodd"/><path d="M341.5 764.1l2.3 -0.5 1.8 0.4 1.2 0.9 0.9 1.6 0.2 1.2 -0.3 1.8 -1.2 2.4 -0.4 1.8 -1 0.9 -1.2 0.0 -0.7 -0.3 -1.7 -2.4 -4 -3.6 -0.2 -1.2 0.6 -1.1z" fill="#ffe200" fill-rule="evenodd"/><path d="M342.9 764.1l1.5 -0.1 1.6 0.7 1.1 1.2 0.4 1.2 0 1.2 -0.4 1.2 -1.2 1.8 -0.7 2.4 -0.8 0.3 -0.7 -0.3 -1.7 -2.4 -3.6 -2.7 -0.6 -0.9 0 -0.7 0.6 -0.8z" fill="#ffa900" fill-rule="evenodd"/><path d="M342.4 764.7l1.4 -0.3 1.2 0.2 1.1 0.7 0.8 1.2 0.2 1.2 -0.3 1.3 -1.2 1.6 -1.2 0.9 -1.8 -0.7 -4.2 -3.1 0 -0.6 0.4 -0.6z" fill="#ff7000" fill-rule="evenodd"/><path d="M342.3 765.3l2.1 -0.4 1.2 0.5 0.8 1.1 0.2 1.2 -0.3 1.2 -1.3 1.4 -0.6 0.2 -1.2 -0.2 -3.4 -2.6 -0.2 -0.6z" fill="#ff3600" fill-rule="evenodd"/><path d="M342.4 765.9l1.4 -0.5 1.6 0.5 0.5 0.6 0.2 1.2 -0.5 1.3 -0.6 0.5 -1.2 0.3 -1.6 -0.9 -0.7 -1.2 0 -0.6z" fill="#fc1400" fill-rule="evenodd"/><path d="M343.0 766.5l0.8 -0.3 1.2 0.3 0.3 1.2 -0.3 0.7 -1.2 0.4 -0.9 -0.5 -0.3 -1.2z" fill="#f60700" fill-rule="evenodd"/></g>
<rect x="295.80" y="731.10" width="82.30" height="82.10" fill="none" stroke="#b8b8b8" stroke-width="0.7"/>
<path d="M295.8 731.1V813.2H378.1M294.2 809.1h1.6M294.2 791.0h1.6M294.2 773.0h1.6M294.2 754.9h1.6M294.2 736.8h1.6M304.0 813.2v1.6M322.1 813.2v1.6M340.2 813.2v1.6M358.3 813.2v1.6M376.5 813.2v1.6" fill="none" stroke="#444" stroke-width="0.7"/>
<path d="M294.9 803.3h0.9M294.9 800.1h0.9M294.9 797.6h0.9M294.9 785.3h0.9M294.9 782.0h0.9M294.9 779.5h0.9M294.9 767.2h0.9M294.9 763.9h0.9M294.9 761.5h0.9M294.9 749.2h0.9M294.9 745.9h0.9M294.9 743.4h0.9M309.8 813.2v0.9M313.1 813.2v0.9M315.6 813.2v0.9M327.9 813.2v0.9M331.2 813.2v0.9M333.7 813.2v0.9M346.0 813.2v0.9M349.3 813.2v0.9M351.8 813.2v0.9M364.1 813.2v0.9M367.4 813.2v0.9M369.9 813.2v0.9" fill="none" stroke="#666" stroke-width="0.5"/>
<path d="M340.9 731.1L340.9 813.2" stroke="#111" stroke-width="0.9"/>
<path d="M295.8 772.4L378.1 772.4" stroke="#111" stroke-width="0.9"/>
<text x="374.60" y="742.93" font-size="8.69" text-anchor="end" font-weight="bold" fill="#000" stroke="#000" stroke-width="0.1" transform="translate(33.71 0) scale(0.91 1)">36.9</text>
<text x="374.60" y="809.13" font-size="8.69" text-anchor="end" font-weight="bold" fill="#000" stroke="#000" stroke-width="0.1" transform="translate(33.71 0) scale(0.91 1)">21.3</text>
<text x="73.2" y="743.0" font-size="8.36" font-weight="bold" stroke="#000" stroke-width="0.1" transform="translate(6.59 0) scale(0.91 1)">T<tspan font-size="5.06" dy="1.76">CM</tspan></text>
<text x="73.2" y="809.2" font-size="8.36" font-weight="bold" stroke="#000" stroke-width="0.1" transform="translate(6.59 0) scale(0.91 1)">T<tspan font-size="5.06" dy="1.76">EM</tspan></text>
<path d="M18.7 766.7L18.7 740.1" stroke="#231815" stroke-width="1.0"/>
<path d="M18.70,735.10 L16.30,741.10 L21.10,741.10 Z" fill="#231815" stroke="none" stroke-width="1"/>
<text x="7.90" y="767.83" font-size="9.02" text-anchor="middle" font-weight="bold" fill="#000" transform="rotate(-90 7.90 765.00) translate(7.90 0) scale(0.91 1) translate(-7.90 0)" stroke="#000" stroke-width="0.1">Spleen</text>
<text x="18.90" y="796.18" font-size="7.59" text-anchor="middle" fill="#222" transform="rotate(-90 18.90 793.80) translate(18.90 0) scale(0.91 1) translate(-18.90 0)" stroke="#222" stroke-width="0.1">CD62L (FITC)</text>
<text x="27.00" y="826.78" font-size="7.59" fill="#222" stroke="#222" stroke-width="0.1" transform="translate(2.43 0) scale(0.91 1)"><tspan>CD44 (PE) (Gated on CD3</tspan><tspan font-size="4.55" dy="-2.59">+</tspan><tspan dy="2.59">CD8</tspan><tspan font-size="4.55" dy="-2.59">+</tspan><tspan dy="2.59"> cells)</tspan></text>
<path d="M164.8 825.0L363.0 825.0" stroke="#231815" stroke-width="1.0"/>
<path d="M369.00,825.00 L362.00,822.40 L362.00,827.60 Z" fill="#231815" stroke="none" stroke-width="1"/>
<path d="M404.2 727.8L404.2 819.2" stroke="#000" stroke-width="0.9"/>
<path d="M404.2 819.2L497.7 819.2" stroke="#000" stroke-width="0.9"/>
<path d="M401.7 819.2L404.2 819.2" stroke="#000" stroke-width="0.9"/>
<text x="401.10" y="821.65" font-size="7.81" text-anchor="end" fill="#000" stroke="#000" stroke-width="0.1" transform="translate(36.10 0) scale(0.91 1)">0</text>
<path d="M401.7 796.4L404.2 796.4" stroke="#000" stroke-width="0.9"/>
<text x="401.10" y="798.87" font-size="7.81" text-anchor="end" fill="#000" stroke="#000" stroke-width="0.1" transform="translate(36.10 0) scale(0.91 1)">20</text>
<path d="M401.7 773.7L404.2 773.7" stroke="#000" stroke-width="0.9"/>
<text x="401.10" y="776.10" font-size="7.81" text-anchor="end" fill="#000" stroke="#000" stroke-width="0.1" transform="translate(36.10 0) scale(0.91 1)">40</text>
<path d="M401.7 750.9L404.2 750.9" stroke="#000" stroke-width="0.9"/>
<text x="401.10" y="753.32" font-size="7.81" text-anchor="end" fill="#000" stroke="#000" stroke-width="0.1" transform="translate(36.10 0) scale(0.91 1)">60</text>
<path d="M401.7 728.1L404.2 728.1" stroke="#000" stroke-width="0.9"/>
<text x="401.10" y="730.55" font-size="7.81" text-anchor="end" fill="#000" stroke="#000" stroke-width="0.1" transform="translate(36.10 0) scale(0.91 1)">80</text>
<rect x="412.05" y="809.07" width="13.30" height="10.13" fill="#fff" stroke="#1a1aff" stroke-width="1.1"/>
<path d="M418.7 807.2L418.7 813.5" stroke="#1a1aff" stroke-width="0.9900000000000001"/>
<path d="M416.1 807.2L421.3 807.2" stroke="#1a1aff" stroke-width="0.9900000000000001"/>
<path d="M416.1 813.5L421.3 813.5" stroke="#1a1aff" stroke-width="0.9900000000000001"/>
<circle cx="414.20" cy="807.81" r="1.35" fill="none" stroke="#1a1aff" stroke-width="0.8"/>
<circle cx="417.20" cy="808.95" r="1.35" fill="none" stroke="#1a1aff" stroke-width="0.8"/>
<circle cx="420.20" cy="811.23" r="1.35" fill="none" stroke="#1a1aff" stroke-width="0.8"/>
<circle cx="423.20" cy="813.51" r="1.35" fill="none" stroke="#1a1aff" stroke-width="0.8"/>
<rect x="433.65" y="800.30" width="12.90" height="18.90" fill="#fff" stroke="#ff1a1a" stroke-width="1.1"/>
<path d="M440.1 795.9L440.1 803.3" stroke="#ff1a1a" stroke-width="0.9900000000000001"/>
<path d="M437.5 795.9L442.7 795.9" stroke="#ff1a1a" stroke-width="0.9900000000000001"/>
<path d="M437.5 803.3L442.7 803.3" stroke="#ff1a1a" stroke-width="0.9900000000000001"/>
<circle cx="435.60" cy="794.15" r="1.35" fill="none" stroke="#ff1a1a" stroke-width="0.8"/>
<circle cx="438.60" cy="798.70" r="1.35" fill="none" stroke="#ff1a1a" stroke-width="0.8"/>
<circle cx="441.60" cy="799.84" r="1.35" fill="none" stroke="#ff1a1a" stroke-width="0.8"/>
<circle cx="444.60" cy="800.98" r="1.35" fill="none" stroke="#ff1a1a" stroke-width="0.8"/>
<rect x="455.05" y="793.35" width="13.20" height="25.85" fill="#fff" stroke="#1ec21e" stroke-width="1.1"/>
<path d="M461.6 789.6L461.6 796.4" stroke="#1ec21e" stroke-width="0.9900000000000001"/>
<path d="M459.0 789.6L464.2 789.6" stroke="#1ec21e" stroke-width="0.9900000000000001"/>
<path d="M459.0 796.4L464.2 796.4" stroke="#1ec21e" stroke-width="0.9900000000000001"/>
<circle cx="457.15" cy="789.59" r="1.35" fill="none" stroke="#1ec21e" stroke-width="0.8"/>
<circle cx="460.15" cy="791.87" r="1.35" fill="none" stroke="#1ec21e" stroke-width="0.8"/>
<circle cx="463.15" cy="794.15" r="1.35" fill="none" stroke="#1ec21e" stroke-width="0.8"/>
<circle cx="466.15" cy="795.29" r="1.35" fill="none" stroke="#1ec21e" stroke-width="0.8"/>
<rect x="476.55" y="782.42" width="13.30" height="36.78" fill="#fff" stroke="#b526f0" stroke-width="1.1"/>
<path d="M483.2 779.9L483.2 785.0" stroke="#b526f0" stroke-width="0.9900000000000001"/>
<path d="M480.6 779.9L485.8 779.9" stroke="#b526f0" stroke-width="0.9900000000000001"/>
<path d="M480.6 785.0L485.8 785.0" stroke="#b526f0" stroke-width="0.9900000000000001"/>
<circle cx="478.70" cy="779.34" r="1.35" fill="none" stroke="#b526f0" stroke-width="0.8"/>
<circle cx="481.70" cy="781.62" r="1.35" fill="none" stroke="#b526f0" stroke-width="0.8"/>
<circle cx="484.70" cy="783.90" r="1.35" fill="none" stroke="#b526f0" stroke-width="0.8"/>
<circle cx="487.70" cy="782.76" r="1.35" fill="none" stroke="#b526f0" stroke-width="0.8"/>
<path d="M418.5 736.9L483.0 736.9" stroke="#444" stroke-width="0.9"/>
<text x="453.25" y="735.06" font-size="8.80" text-anchor="middle" fill="#000" stroke="#000" stroke-width="0.1" transform="translate(40.79 0) scale(0.91 1)">p&lt;0.0001</text>
<path d="M440.4 747.4L483.0 747.4" stroke="#444" stroke-width="0.9"/>
<text x="464.20" y="745.56" font-size="8.80" text-anchor="middle" fill="#000" stroke="#000" stroke-width="0.1" transform="translate(41.78 0) scale(0.91 1)">p&lt;0.0001</text>
<path d="M418.5 759.3L461.5 759.3" stroke="#444" stroke-width="0.9"/>
<text x="442.50" y="757.46" font-size="8.80" text-anchor="middle" fill="#000" stroke="#000" stroke-width="0.1" transform="translate(39.82 0) scale(0.91 1)">p&lt;0.0001</text>
<path d="M461.5 769.3L483.0 769.3" stroke="#444" stroke-width="0.9"/>
<text x="474.75" y="767.46" font-size="8.80" text-anchor="middle" fill="#000" stroke="#000" stroke-width="0.1" transform="translate(42.73 0) scale(0.91 1)">p=0.0030</text>
<path d="M440.4 779.3L461.5 779.3" stroke="#444" stroke-width="0.9"/>
<text x="453.45" y="777.46" font-size="8.80" text-anchor="middle" fill="#000" stroke="#000" stroke-width="0.1" transform="translate(40.81 0) scale(0.91 1)">ns</text>
<path d="M418.5 790.3L440.4 790.3" stroke="#444" stroke-width="0.9"/>
<text x="431.95" y="788.46" font-size="8.80" text-anchor="middle" fill="#000" stroke="#000" stroke-width="0.1" transform="translate(38.88 0) scale(0.91 1)">p=0.0007</text>
<text transform="translate(386.80,763.00) rotate(-90) scale(0.91 1)" font-size="8.91" text-anchor="middle" fill="#222" stroke="#222" stroke-width="0.1"><tspan>CD44</tspan><tspan font-size="5.52" dy="-3.03">+</tspan><tspan dy="3.03">CD62L</tspan><tspan font-size="5.52" dy="-3.03">+</tspan><tspan dy="3.03"> / CD3</tspan><tspan font-size="5.52" dy="-3.03">+</tspan><tspan dy="3.03">CD8</tspan><tspan font-size="5.52" dy="-3.03">+</tspan><tspan dy="3.03">%</tspan></text>
<text x="521.50" y="436.68" font-size="10.45" font-weight="bold" fill="#000" stroke="#000" stroke-width="0.1" transform="translate(46.93 0) scale(0.91 1)">m</text>
<text x="544.40" y="443.92" font-size="8.36" font-weight="bold" fill="#000" stroke="#000" stroke-width="0.1" transform="translate(49.00 0) scale(0.91 1)">TDLN</text>
<path d="M561.0 449.7L561.0 558.5" stroke="#000" stroke-width="0.9"/>
<path d="M561.0 558.5L670.0 558.5" stroke="#000" stroke-width="0.9"/>
<path d="M558.5 558.5L561.0 558.5" stroke="#000" stroke-width="0.9"/>
<text x="557.90" y="561.05" font-size="8.14" text-anchor="end" fill="#000" stroke="#000" stroke-width="0.1" transform="translate(50.21 0) scale(0.91 1)">0</text>
<path d="M558.5 531.4L561.0 531.4" stroke="#000" stroke-width="0.9"/>
<text x="557.90" y="533.93" font-size="8.14" text-anchor="end" fill="#000" stroke="#000" stroke-width="0.1" transform="translate(50.21 0) scale(0.91 1)">20</text>
<path d="M558.5 504.2L561.0 504.2" stroke="#000" stroke-width="0.9"/>
<text x="557.90" y="506.80" font-size="8.14" text-anchor="end" fill="#000" stroke="#000" stroke-width="0.1" transform="translate(50.21 0) scale(0.91 1)">40</text>
<path d="M558.5 477.1L561.0 477.1" stroke="#000" stroke-width="0.9"/>
<text x="557.90" y="479.68" font-size="8.14" text-anchor="end" fill="#000" stroke="#000" stroke-width="0.1" transform="translate(50.21 0) scale(0.91 1)">60</text>
<path d="M558.5 450.0L561.0 450.0" stroke="#000" stroke-width="0.9"/>
<text x="557.90" y="452.55" font-size="8.14" text-anchor="end" fill="#000" stroke="#000" stroke-width="0.1" transform="translate(50.21 0) scale(0.91 1)">80</text>
<rect x="569.95" y="544.53" width="15.40" height="13.97" fill="#fff" stroke="#1a1aff" stroke-width="1.1"/>
<path d="M577.6 542.2L577.6 550.4" stroke="#1a1aff" stroke-width="0.9900000000000001"/>
<path d="M575.0 542.2L580.2 542.2" stroke="#1a1aff" stroke-width="0.9900000000000001"/>
<path d="M575.0 550.4L580.2 550.4" stroke="#1a1aff" stroke-width="0.9900000000000001"/>
<circle cx="573.15" cy="542.23" r="1.35" fill="none" stroke="#1a1aff" stroke-width="0.8"/>
<circle cx="576.15" cy="543.58" r="1.35" fill="none" stroke="#1a1aff" stroke-width="0.8"/>
<circle cx="579.15" cy="547.65" r="1.35" fill="none" stroke="#1a1aff" stroke-width="0.8"/>
<circle cx="582.15" cy="550.36" r="1.35" fill="none" stroke="#1a1aff" stroke-width="0.8"/>
<rect x="594.85" y="532.73" width="15.50" height="25.77" fill="#fff" stroke="#ff1a1a" stroke-width="1.1"/>
<path d="M602.6 530.7L602.6 534.8" stroke="#ff1a1a" stroke-width="0.9900000000000001"/>
<path d="M600.0 530.7L605.2 530.7" stroke="#ff1a1a" stroke-width="0.9900000000000001"/>
<path d="M600.0 534.8L605.2 534.8" stroke="#ff1a1a" stroke-width="0.9900000000000001"/>
<circle cx="598.10" cy="531.38" r="1.35" fill="none" stroke="#ff1a1a" stroke-width="0.8"/>
<circle cx="601.10" cy="532.73" r="1.35" fill="none" stroke="#ff1a1a" stroke-width="0.8"/>
<circle cx="604.10" cy="533.41" r="1.35" fill="none" stroke="#ff1a1a" stroke-width="0.8"/>
<circle cx="607.10" cy="534.09" r="1.35" fill="none" stroke="#ff1a1a" stroke-width="0.8"/>
<rect x="619.85" y="524.73" width="15.40" height="33.77" fill="#fff" stroke="#1ec21e" stroke-width="1.1"/>
<path d="M627.5 520.5L627.5 527.3" stroke="#1ec21e" stroke-width="0.9900000000000001"/>
<path d="M624.9 520.5L630.1 520.5" stroke="#1ec21e" stroke-width="0.9900000000000001"/>
<path d="M624.9 527.3L630.1 527.3" stroke="#1ec21e" stroke-width="0.9900000000000001"/>
<circle cx="623.05" cy="519.85" r="1.35" fill="none" stroke="#1ec21e" stroke-width="0.8"/>
<circle cx="626.05" cy="524.59" r="1.35" fill="none" stroke="#1ec21e" stroke-width="0.8"/>
<circle cx="629.05" cy="525.95" r="1.35" fill="none" stroke="#1ec21e" stroke-width="0.8"/>
<circle cx="632.05" cy="523.92" r="1.35" fill="none" stroke="#1ec21e" stroke-width="0.8"/>
<rect x="644.85" y="508.45" width="15.40" height="50.05" fill="#fff" stroke="#b526f0" stroke-width="1.1"/>
<path d="M652.5 505.6L652.5 510.4" stroke="#b526f0" stroke-width="0.9900000000000001"/>
<path d="M649.9 505.6L655.1 505.6" stroke="#b526f0" stroke-width="0.9900000000000001"/>
<path d="M649.9 510.4L655.1 510.4" stroke="#b526f0" stroke-width="0.9900000000000001"/>
<circle cx="648.05" cy="504.93" r="1.35" fill="none" stroke="#b526f0" stroke-width="0.8"/>
<circle cx="651.05" cy="508.32" r="1.35" fill="none" stroke="#b526f0" stroke-width="0.8"/>
<circle cx="654.05" cy="508.32" r="1.35" fill="none" stroke="#b526f0" stroke-width="0.8"/>
<circle cx="657.05" cy="509.00" r="1.35" fill="none" stroke="#b526f0" stroke-width="0.8"/>
<path d="M578.0 460.0L652.7 460.0" stroke="#444" stroke-width="0.9"/>
<text x="617.85" y="458.16" font-size="8.80" text-anchor="middle" fill="#000" stroke="#000" stroke-width="0.1" transform="translate(55.61 0) scale(0.91 1)">p&lt;0.0001</text>
<path d="M603.0 474.1L652.7 474.1" stroke="#444" stroke-width="0.9"/>
<text x="630.35" y="472.26" font-size="8.80" text-anchor="middle" fill="#000" stroke="#000" stroke-width="0.1" transform="translate(56.73 0) scale(0.91 1)">p&lt;0.0001</text>
<path d="M628.0 488.1L652.7 488.1" stroke="#444" stroke-width="0.9"/>
<text x="642.85" y="486.26" font-size="8.80" text-anchor="middle" fill="#000" stroke="#000" stroke-width="0.1" transform="translate(57.86 0) scale(0.91 1)">p&lt;0.0001</text>
<path d="M578.0 499.9L627.2 499.9" stroke="#444" stroke-width="0.9"/>
<text x="605.10" y="498.06" font-size="8.80" text-anchor="middle" fill="#000" stroke="#000" stroke-width="0.1" transform="translate(54.46 0) scale(0.91 1)">p&lt;0.0001</text>
<path d="M603.0 513.8L627.2 513.8" stroke="#444" stroke-width="0.9"/>
<text x="617.60" y="511.96" font-size="8.80" text-anchor="middle" fill="#000" stroke="#000" stroke-width="0.1" transform="translate(55.58 0) scale(0.91 1)">p=0.0034</text>
<path d="M578.0 527.5L603.5 527.5" stroke="#444" stroke-width="0.9"/>
<text x="593.25" y="525.66" font-size="8.80" text-anchor="middle" fill="#000" stroke="#000" stroke-width="0.1" transform="translate(53.39 0) scale(0.91 1)">p=0.0004</text>
<text transform="translate(540.80,498.80) rotate(-90) scale(0.91 1)" font-size="8.91" text-anchor="middle" fill="#222" stroke="#222" stroke-width="0.1"><tspan>CD44</tspan><tspan font-size="5.52" dy="-3.03">+</tspan><tspan dy="3.03">CD62L</tspan><tspan font-size="5.52" dy="-3.03">+</tspan><tspan dy="3.03"> / CD3</tspan><tspan font-size="5.52" dy="-3.03">+</tspan><tspan dy="3.03">CD8</tspan><tspan font-size="5.52" dy="-3.03">+</tspan><tspan dy="3.03">%</tspan></text>
<text x="519.50" y="575.88" font-size="10.45" font-weight="bold" fill="#000" stroke="#000" stroke-width="0.1" transform="translate(46.75 0) scale(0.91 1)">n</text>
<text x="545.00" y="582.82" font-size="8.36" font-weight="bold" fill="#000" stroke="#000" stroke-width="0.1" transform="translate(49.05 0) scale(0.91 1)">Tumor</text>
<path d="M565.4 589.1L565.4 694.5" stroke="#000" stroke-width="0.9"/>
<path d="M565.4 694.5L675.8 694.5" stroke="#000" stroke-width="0.9"/>
<path d="M562.9 694.5L565.4 694.5" stroke="#000" stroke-width="0.9"/>
<text x="562.30" y="697.05" font-size="8.14" text-anchor="end" fill="#000" stroke="#000" stroke-width="0.1" transform="translate(50.61 0) scale(0.91 1)">0</text>
<path d="M562.9 673.5L565.4 673.5" stroke="#000" stroke-width="0.9"/>
<text x="562.30" y="676.03" font-size="8.14" text-anchor="end" fill="#000" stroke="#000" stroke-width="0.1" transform="translate(50.61 0) scale(0.91 1)">20</text>
<path d="M562.9 652.5L565.4 652.5" stroke="#000" stroke-width="0.9"/>
<text x="562.30" y="655.01" font-size="8.14" text-anchor="end" fill="#000" stroke="#000" stroke-width="0.1" transform="translate(50.61 0) scale(0.91 1)">40</text>
<path d="M562.9 631.4L565.4 631.4" stroke="#000" stroke-width="0.9"/>
<text x="562.30" y="633.99" font-size="8.14" text-anchor="end" fill="#000" stroke="#000" stroke-width="0.1" transform="translate(50.61 0) scale(0.91 1)">60</text>
<path d="M562.9 610.4L565.4 610.4" stroke="#000" stroke-width="0.9"/>
<text x="562.30" y="612.97" font-size="8.14" text-anchor="end" fill="#000" stroke="#000" stroke-width="0.1" transform="translate(50.61 0) scale(0.91 1)">80</text>
<path d="M562.9 589.4L565.4 589.4" stroke="#000" stroke-width="0.9"/>
<text x="562.30" y="591.95" font-size="8.14" text-anchor="end" fill="#000" stroke="#000" stroke-width="0.1" transform="translate(50.61 0) scale(0.91 1)">100</text>
<rect x="574.65" y="664.34" width="15.20" height="30.16" fill="#fff" stroke="#1a1aff" stroke-width="1.1"/>
<path d="M582.2 661.9L582.2 667.2" stroke="#1a1aff" stroke-width="0.9900000000000001"/>
<path d="M579.6 661.9L584.9 661.9" stroke="#1a1aff" stroke-width="0.9900000000000001"/>
<path d="M579.6 667.2L584.9 667.2" stroke="#1a1aff" stroke-width="0.9900000000000001"/>
<circle cx="577.75" cy="661.92" r="1.35" fill="none" stroke="#1a1aff" stroke-width="0.8"/>
<circle cx="580.75" cy="662.97" r="1.35" fill="none" stroke="#1a1aff" stroke-width="0.8"/>
<circle cx="583.75" cy="666.12" r="1.35" fill="none" stroke="#1a1aff" stroke-width="0.8"/>
<circle cx="586.75" cy="668.23" r="1.35" fill="none" stroke="#1a1aff" stroke-width="0.8"/>
<rect x="600.15" y="659.29" width="15.20" height="35.21" fill="#fff" stroke="#ff1a1a" stroke-width="1.1"/>
<path d="M607.8 655.6L607.8 663.0" stroke="#ff1a1a" stroke-width="0.9900000000000001"/>
<path d="M605.1 655.6L610.4 655.6" stroke="#ff1a1a" stroke-width="0.9900000000000001"/>
<path d="M605.1 663.0L610.4 663.0" stroke="#ff1a1a" stroke-width="0.9900000000000001"/>
<circle cx="603.25" cy="656.66" r="1.35" fill="none" stroke="#ff1a1a" stroke-width="0.8"/>
<circle cx="606.25" cy="657.72" r="1.35" fill="none" stroke="#ff1a1a" stroke-width="0.8"/>
<circle cx="609.25" cy="659.82" r="1.35" fill="none" stroke="#ff1a1a" stroke-width="0.8"/>
<circle cx="612.25" cy="664.02" r="1.35" fill="none" stroke="#ff1a1a" stroke-width="0.8"/>
<rect x="625.85" y="650.36" width="14.70" height="44.14" fill="#fff" stroke="#1ec21e" stroke-width="1.1"/>
<path d="M633.2 646.2L633.2 655.6" stroke="#1ec21e" stroke-width="0.9900000000000001"/>
<path d="M630.6 646.2L635.8 646.2" stroke="#1ec21e" stroke-width="0.9900000000000001"/>
<path d="M630.6 655.6L635.8 655.6" stroke="#1ec21e" stroke-width="0.9900000000000001"/>
<circle cx="628.70" cy="644.05" r="1.35" fill="none" stroke="#1ec21e" stroke-width="0.8"/>
<circle cx="631.70" cy="648.26" r="1.35" fill="none" stroke="#1ec21e" stroke-width="0.8"/>
<circle cx="634.70" cy="652.46" r="1.35" fill="none" stroke="#1ec21e" stroke-width="0.8"/>
<circle cx="637.70" cy="655.61" r="1.35" fill="none" stroke="#1ec21e" stroke-width="0.8"/>
<rect x="651.35" y="628.29" width="14.70" height="66.21" fill="#fff" stroke="#b526f0" stroke-width="1.1"/>
<path d="M658.7 617.8L658.7 637.7" stroke="#b526f0" stroke-width="0.9900000000000001"/>
<path d="M656.1 617.8L661.3 617.8" stroke="#b526f0" stroke-width="0.9900000000000001"/>
<path d="M656.1 637.7L661.3 637.7" stroke="#b526f0" stroke-width="0.9900000000000001"/>
<circle cx="654.20" cy="614.62" r="1.35" fill="none" stroke="#b526f0" stroke-width="0.8"/>
<circle cx="657.20" cy="628.29" r="1.35" fill="none" stroke="#b526f0" stroke-width="0.8"/>
<circle cx="660.20" cy="629.34" r="1.35" fill="none" stroke="#b526f0" stroke-width="0.8"/>
<circle cx="663.20" cy="638.80" r="1.35" fill="none" stroke="#b526f0" stroke-width="0.8"/>
<path d="M582.0 582.3L658.2 582.3" stroke="#444" stroke-width="0.9"/>
<text x="622.60" y="580.46" font-size="8.80" text-anchor="middle" fill="#000" stroke="#000" stroke-width="0.1" transform="translate(56.03 0) scale(0.91 1)">p&lt;0.0001</text>
<path d="M607.5 596.3L658.2 596.3" stroke="#444" stroke-width="0.9"/>
<text x="635.35" y="594.46" font-size="8.80" text-anchor="middle" fill="#000" stroke="#000" stroke-width="0.1" transform="translate(57.18 0) scale(0.91 1)">p&lt;0.0001</text>
<path d="M633.0 609.4L658.2 609.4" stroke="#444" stroke-width="0.9"/>
<text x="648.10" y="607.56" font-size="8.80" text-anchor="middle" fill="#000" stroke="#000" stroke-width="0.1" transform="translate(58.33 0) scale(0.91 1)">p=0.0022</text>
<path d="M582.0 625.7L633.0 625.7" stroke="#444" stroke-width="0.9"/>
<text x="610.00" y="623.86" font-size="8.80" text-anchor="middle" fill="#000" stroke="#000" stroke-width="0.1" transform="translate(54.90 0) scale(0.91 1)">ns</text>
<path d="M607.5 639.6L633.0 639.6" stroke="#444" stroke-width="0.9"/>
<text x="622.75" y="637.76" font-size="8.80" text-anchor="middle" fill="#000" stroke="#000" stroke-width="0.1" transform="translate(56.05 0) scale(0.91 1)">ns</text>
<path d="M582.0 652.5L607.5 652.5" stroke="#444" stroke-width="0.9"/>
<text x="597.25" y="650.66" font-size="8.80" text-anchor="middle" fill="#000" stroke="#000" stroke-width="0.1" transform="translate(53.75 0) scale(0.91 1)">ns</text>
<text transform="translate(543.30,636.20) rotate(-90) scale(0.91 1)" font-size="8.91" text-anchor="middle" fill="#222" stroke="#222" stroke-width="0.1"><tspan>CD44</tspan><tspan font-size="5.52" dy="-3.03">+</tspan><tspan dy="3.03">CD62L</tspan><tspan font-size="5.52" dy="-3.03">-</tspan><tspan dy="3.03"> / CD3</tspan><tspan font-size="5.52" dy="-3.03">+</tspan><tspan dy="3.03">CD8</tspan><tspan font-size="5.52" dy="-3.03">+</tspan><tspan dy="3.03">%</tspan></text>
<text x="513.00" y="712.48" font-size="10.45" font-weight="bold" fill="#000" stroke="#000" stroke-width="0.1" transform="translate(46.17 0) scale(0.91 1)">o</text>
<path d="M532.6 721.1L532.6 813.5" stroke="#000" stroke-width="0.9"/>
<path d="M532.6 813.5L671.0 813.5" stroke="#000" stroke-width="0.9"/>
<path d="M528.6 813.5L532.6 813.5" stroke="#000" stroke-width="0.9"/>
<text x="528.00" y="816.12" font-size="8.36" text-anchor="end" fill="#222" stroke="#222" stroke-width="0.1" transform="translate(47.52 0) scale(0.91 1)">0</text>
<path d="M528.6 782.8L532.6 782.8" stroke="#000" stroke-width="0.9"/>
<text x="528.00" y="785.46" font-size="8.36" text-anchor="end" fill="#222" stroke="#222" stroke-width="0.1" transform="translate(47.52 0) scale(0.91 1)">20</text>
<path d="M528.6 752.2L532.6 752.2" stroke="#000" stroke-width="0.9"/>
<text x="528.00" y="754.79" font-size="8.36" text-anchor="end" fill="#222" stroke="#222" stroke-width="0.1" transform="translate(47.52 0) scale(0.91 1)">40</text>
<path d="M528.6 721.5L532.6 721.5" stroke="#000" stroke-width="0.9"/>
<text x="528.00" y="724.12" font-size="8.36" text-anchor="end" fill="#222" stroke="#222" stroke-width="0.1" transform="translate(47.52 0) scale(0.91 1)">60</text>
<path d="M551.0 813.5L551.0 815.7" stroke="#000" stroke-width="0.9"/>
<text x="551.00" y="823.52" font-size="8.36" text-anchor="middle" fill="#222" stroke="#222" stroke-width="0.1" transform="translate(49.59 0) scale(0.91 1)">2.5:1</text>
<path d="M585.1 813.5L585.1 815.7" stroke="#000" stroke-width="0.9"/>
<text x="585.10" y="823.52" font-size="8.36" text-anchor="middle" fill="#222" stroke="#222" stroke-width="0.1" transform="translate(52.66 0) scale(0.91 1)">5:1</text>
<path d="M619.8 813.5L619.8 815.7" stroke="#000" stroke-width="0.9"/>
<text x="619.80" y="823.52" font-size="8.36" text-anchor="middle" fill="#222" stroke="#222" stroke-width="0.1" transform="translate(55.78 0) scale(0.91 1)">10:1</text>
<path d="M654.2 813.5L654.2 815.7" stroke="#000" stroke-width="0.9"/>
<text x="654.20" y="823.52" font-size="8.36" text-anchor="middle" fill="#222" stroke="#222" stroke-width="0.1" transform="translate(58.88 0) scale(0.91 1)">20:1</text>
<text x="606.20" y="830.62" font-size="8.36" text-anchor="middle" fill="#222" stroke="#222" stroke-width="0.1" transform="translate(54.56 0) scale(0.91 1)">E/T Ratio</text>
<text transform="translate(517.2,763) rotate(-90) scale(0.91 1)" font-size="8.36" text-anchor="middle" fill="#222" stroke="#222" stroke-width="0.1">CFSE<tspan font-size="5.28" dy="-2.86">+</tspan><tspan dy="2.86">PI</tspan><tspan font-size="5.28" dy="-2.86">+</tspan><tspan dy="2.86"> / CFSE</tspan><tspan font-size="5.28" dy="-2.86">+</tspan><tspan dy="2.86"> %</tspan></text>
<path d="M551.00,803.07 L585.10,795.10 L619.80,792.03 L654.20,789.27" fill="none" stroke="#1a1aff" stroke-width="0.9"/>
<path d="M551.0 800.0L551.0 806.1" stroke="#1a1aff" stroke-width="0.8"/>
<path d="M549.0 800.0L553.0 800.0" stroke="#1a1aff" stroke-width="0.8"/>
<path d="M549.0 806.1L553.0 806.1" stroke="#1a1aff" stroke-width="0.8"/>
<circle cx="551.00" cy="803.07" r="2.20" fill="#1a1aff" stroke="none" stroke-width="1"/>
<circle cx="585.10" cy="795.10" r="2.20" fill="#1a1aff" stroke="none" stroke-width="1"/>
<circle cx="619.80" cy="792.03" r="2.20" fill="#1a1aff" stroke="none" stroke-width="1"/>
<circle cx="654.20" cy="789.27" r="2.20" fill="#1a1aff" stroke="none" stroke-width="1"/>
<path d="M551.00,791.42 L585.10,788.51 L619.80,782.37 L654.20,777.93" fill="none" stroke="#ff1a1a" stroke-width="0.9"/>
<path d="M585.1 784.7L585.1 792.3" stroke="#ff1a1a" stroke-width="0.8"/>
<path d="M583.1 784.7L587.1 784.7" stroke="#ff1a1a" stroke-width="0.8"/>
<path d="M583.1 792.3L587.1 792.3" stroke="#ff1a1a" stroke-width="0.8"/>
<path d="M619.8 780.5L619.8 784.2" stroke="#ff1a1a" stroke-width="0.8"/>
<path d="M617.8 780.5L621.8 780.5" stroke="#ff1a1a" stroke-width="0.8"/>
<path d="M617.8 784.2L621.8 784.2" stroke="#ff1a1a" stroke-width="0.8"/>
<path d="M654.2 774.1L654.2 781.8" stroke="#ff1a1a" stroke-width="0.8"/>
<path d="M652.2 774.1L656.2 774.1" stroke="#ff1a1a" stroke-width="0.8"/>
<path d="M652.2 781.8L656.2 781.8" stroke="#ff1a1a" stroke-width="0.8"/>
<rect x="548.90" y="789.32" width="4.20" height="4.20" fill="#ff1a1a" stroke="none" stroke-width="1"/>
<rect x="583.00" y="786.41" width="4.20" height="4.20" fill="#ff1a1a" stroke="none" stroke-width="1"/>
<rect x="617.70" y="780.27" width="4.20" height="4.20" fill="#ff1a1a" stroke="none" stroke-width="1"/>
<rect x="652.10" y="775.83" width="4.20" height="4.20" fill="#ff1a1a" stroke="none" stroke-width="1"/>
<path d="M551.00,782.07 L585.10,770.41 L619.80,770.41 L654.20,759.83" fill="none" stroke="#1ec21e" stroke-width="0.9"/>
<path d="M585.1 767.7L585.1 773.2" stroke="#1ec21e" stroke-width="0.8"/>
<path d="M583.1 767.7L587.1 767.7" stroke="#1ec21e" stroke-width="0.8"/>
<path d="M583.1 773.2L587.1 773.2" stroke="#1ec21e" stroke-width="0.8"/>
<path d="M619.8 766.6L619.8 774.2" stroke="#1ec21e" stroke-width="0.8"/>
<path d="M617.8 766.6L621.8 766.6" stroke="#1ec21e" stroke-width="0.8"/>
<path d="M617.8 774.2L621.8 774.2" stroke="#1ec21e" stroke-width="0.8"/>
<path d="M654.2 747.6L654.2 772.1" stroke="#1ec21e" stroke-width="0.8"/>
<path d="M652.2 747.6L656.2 747.6" stroke="#1ec21e" stroke-width="0.8"/>
<path d="M652.2 772.1L656.2 772.1" stroke="#1ec21e" stroke-width="0.8"/>
<path d="M551.00,779.32 L548.25,784.16 L553.75,784.16 Z" fill="#1ec21e" stroke="none" stroke-width="1"/>
<path d="M585.10,767.66 L582.35,772.50 L587.85,772.50 Z" fill="#1ec21e" stroke="none" stroke-width="1"/>
<path d="M619.80,767.66 L617.05,772.50 L622.55,772.50 Z" fill="#1ec21e" stroke="none" stroke-width="1"/>
<path d="M654.20,757.08 L651.45,761.92 L656.95,761.92 Z" fill="#1ec21e" stroke="none" stroke-width="1"/>
<path d="M551.00,778.08 L585.10,765.20 L619.80,759.83 L654.20,749.87" fill="none" stroke="#b526f0" stroke-width="0.9"/>
<path d="M551.0 774.2L551.0 781.9" stroke="#b526f0" stroke-width="0.8"/>
<path d="M549.0 774.2L553.0 774.2" stroke="#b526f0" stroke-width="0.8"/>
<path d="M549.0 781.9L553.0 781.9" stroke="#b526f0" stroke-width="0.8"/>
<path d="M585.1 763.7L585.1 766.7" stroke="#b526f0" stroke-width="0.8"/>
<path d="M583.1 763.7L587.1 763.7" stroke="#b526f0" stroke-width="0.8"/>
<path d="M583.1 766.7L587.1 766.7" stroke="#b526f0" stroke-width="0.8"/>
<path d="M619.8 758.3L619.8 761.4" stroke="#b526f0" stroke-width="0.8"/>
<path d="M617.8 758.3L621.8 758.3" stroke="#b526f0" stroke-width="0.8"/>
<path d="M617.8 761.4L621.8 761.4" stroke="#b526f0" stroke-width="0.8"/>
<path d="M654.2 745.3L654.2 754.5" stroke="#b526f0" stroke-width="0.8"/>
<path d="M652.2 745.3L656.2 745.3" stroke="#b526f0" stroke-width="0.8"/>
<path d="M652.2 754.5L656.2 754.5" stroke="#b526f0" stroke-width="0.8"/>
<path d="M551.00,780.83 L548.25,775.99 L553.75,775.99 Z" fill="#b526f0" stroke="none" stroke-width="1"/>
<path d="M585.10,767.95 L582.35,763.11 L587.85,763.11 Z" fill="#b526f0" stroke="none" stroke-width="1"/>
<path d="M619.80,762.58 L617.05,757.74 L622.55,757.74 Z" fill="#b526f0" stroke="none" stroke-width="1"/>
<path d="M654.20,752.62 L651.45,747.78 L656.95,747.78 Z" fill="#b526f0" stroke="none" stroke-width="1"/>
<path d="M538.6 721.8L549.1 721.8" stroke="#1a1aff" stroke-width="0.9"/>
<circle cx="543.90" cy="721.80" r="2.00" fill="#1a1aff" stroke="none" stroke-width="1"/>
<text x="553.60" y="724.42" font-size="8.36" fill="#000" stroke="#000" stroke-width="0.1" transform="translate(49.82 0) scale(0.91 1)">NS</text>
<path d="M538.6 730.7L549.1 730.7" stroke="#ff1a1a" stroke-width="0.9"/>
<rect x="541.90" y="728.70" width="4.00" height="4.00" fill="#ff1a1a" stroke="none" stroke-width="1"/>
<text x="553.60" y="733.32" font-size="8.36" fill="#000" stroke="#000" stroke-width="0.1" transform="translate(49.82 0) scale(0.91 1)">Anti-PD-1</text>
<path d="M538.6 739.9L549.1 739.9" stroke="#1ec21e" stroke-width="0.9"/>
<path d="M543.90,737.40 L541.40,741.80 L546.40,741.80 Z" fill="#1ec21e" stroke="none" stroke-width="1"/>
<text x="553.60" y="742.52" font-size="8.36" fill="#000" stroke="#000" stroke-width="0.1" transform="translate(49.82 0) scale(0.91 1)">M7GA-DC</text>
<path d="M538.6 749.1L549.1 749.1" stroke="#b526f0" stroke-width="0.9"/>
<path d="M543.90,751.60 L541.40,747.20 L546.40,747.20 Z" fill="#b526f0" stroke="none" stroke-width="1"/>
<text x="553.60" y="751.72" font-size="8.36" fill="#000" stroke="#000" stroke-width="0.1" transform="translate(49.82 0) scale(0.91 1)">M7GA-DC+Anti-PD-1</text>
<path d="M588.6 720.5L588.6 731.0" stroke="#333" stroke-width="0.8"/>
<text x="592.60" y="727.41" font-size="7.70" text-anchor="middle" fill="#000" transform="rotate(90 592.60 725.00) translate(592.60 0) scale(0.91 1) translate(-592.60 0)" stroke="#000" stroke-width="0.1">ns</text>
<path d="M599.0 720.5L599.0 741.5" stroke="#333" stroke-width="0.8"/>
<text x="603.60" y="733.41" font-size="7.70" text-anchor="middle" fill="#000" transform="rotate(90 603.60 731.00) translate(603.60 0) scale(0.91 1) translate(-603.60 0)" stroke="#000" stroke-width="0.1">p=0.0082</text>
<path d="M629.0 718.4L629.0 750.0" stroke="#333" stroke-width="0.8"/>
<text x="633.60" y="736.41" font-size="7.70" text-anchor="middle" fill="#000" transform="rotate(90 633.60 734.00) translate(633.60 0) scale(0.91 1) translate(-633.60 0)" stroke="#000" stroke-width="0.1">p=0.0012</text>
<path d="M660.0 750.0L660.0 759.0" stroke="#333" stroke-width="0.8"/>
<text x="664.00" y="756.91" font-size="7.70" text-anchor="middle" fill="#000" transform="rotate(90 664.00 754.50) translate(664.00 0) scale(0.91 1) translate(-664.00 0)" stroke="#000" stroke-width="0.1">ns</text>
<path d="M665.8 752.5L665.8 780.0" stroke="#333" stroke-width="0.8"/>
<text x="670.40" y="768.41" font-size="7.70" text-anchor="middle" fill="#000" transform="rotate(90 670.40 766.00) translate(670.40 0) scale(0.91 1) translate(-670.40 0)" stroke="#000" stroke-width="0.1">p=0.1205</text>
<path d="M676.3 747.3L676.3 779.3" stroke="#333" stroke-width="0.8"/>
<text x="681.00" y="765.41" font-size="7.70" text-anchor="middle" fill="#000" transform="rotate(90 681.00 763.00) translate(681.00 0) scale(0.91 1) translate(-681.00 0)" stroke="#000" stroke-width="0.1">p=0.0166</text>
<text x="263.00" y="844.78" font-size="10.45" font-weight="bold" fill="#000" stroke="#000" stroke-width="0.1" transform="translate(23.67 0) scale(0.91 1)">q</text>
<path d="M298.3 843.8L298.3 949.4" stroke="#000" stroke-width="0.9"/>
<path d="M298.3 949.4L456.6 949.4" stroke="#000" stroke-width="0.9"/>
<path d="M293.8 949.4L298.3 949.4" stroke="#000" stroke-width="0.9"/>
<text x="293.30" y="952.02" font-size="8.36" text-anchor="end" fill="#222" letter-spacing="-0.2" stroke="#222" stroke-width="0.1" transform="translate(26.40 0) scale(0.91 1)">0</text>
<path d="M293.8 923.1L298.3 923.1" stroke="#000" stroke-width="0.9"/>
<text x="293.30" y="925.72" font-size="8.36" text-anchor="end" fill="#222" letter-spacing="-0.2" stroke="#222" stroke-width="0.1" transform="translate(26.40 0) scale(0.91 1)">400</text>
<path d="M293.8 896.8L298.3 896.8" stroke="#000" stroke-width="0.9"/>
<text x="293.30" y="899.42" font-size="8.36" text-anchor="end" fill="#222" letter-spacing="-0.2" stroke="#222" stroke-width="0.1" transform="translate(26.40 0) scale(0.91 1)">800</text>
<path d="M293.8 870.5L298.3 870.5" stroke="#000" stroke-width="0.9"/>
<text x="293.30" y="873.12" font-size="8.36" text-anchor="end" fill="#222" letter-spacing="-0.2" stroke="#222" stroke-width="0.1" transform="translate(26.40 0) scale(0.91 1)">1200</text>
<path d="M293.8 844.2L298.3 844.2" stroke="#000" stroke-width="0.9"/>
<text x="293.30" y="846.82" font-size="8.36" text-anchor="end" fill="#222" letter-spacing="-0.2" stroke="#222" stroke-width="0.1" transform="translate(26.40 0) scale(0.91 1)">1600</text>
<path d="M298.3 949.4L298.3 951.6" stroke="#000" stroke-width="0.9"/>
<text x="298.30" y="961.36" font-size="8.80" text-anchor="middle" fill="#222" stroke="#222" stroke-width="0.1" transform="translate(26.85 0) scale(0.91 1)">0</text>
<path d="M351.0 949.4L351.0 951.6" stroke="#000" stroke-width="0.9"/>
<text x="351.03" y="961.36" font-size="8.80" text-anchor="middle" fill="#222" stroke="#222" stroke-width="0.1" transform="translate(31.59 0) scale(0.91 1)">10</text>
<path d="M403.8 949.4L403.8 951.6" stroke="#000" stroke-width="0.9"/>
<text x="403.76" y="961.36" font-size="8.80" text-anchor="middle" fill="#222" stroke="#222" stroke-width="0.1" transform="translate(36.34 0) scale(0.91 1)">20</text>
<path d="M456.5 949.4L456.5 951.6" stroke="#000" stroke-width="0.9"/>
<text x="456.49" y="961.36" font-size="8.80" text-anchor="middle" fill="#222" stroke="#222" stroke-width="0.1" transform="translate(41.08 0) scale(0.91 1)">30</text>
<text x="377.30" y="970.23" font-size="9.02" text-anchor="middle" fill="#222" stroke="#222" stroke-width="0.1" transform="translate(33.96 0) scale(0.91 1)">Days post tumor inoculation</text>
<text transform="translate(274.5,899) rotate(-90) scale(0.91 1)" font-size="8.80" text-anchor="middle" fill="#222" stroke="#222" stroke-width="0.1">Tumor volume (mm<tspan font-size="5.50" dy="-3.08">3</tspan><tspan dy="3.08">)</tspan></text>
<path d="M298.30,949.40 L335.21,948.08 L351.03,947.76 L382.67,947.76 L409.03,948.41 L456.49,948.74" fill="none" stroke="#ff2020" stroke-width="0.9"/>
<path d="M298.30,949.40 L351.03,948.74 L382.67,948.41 L456.49,949.07" fill="none" stroke="#ff2020" stroke-width="0.9"/>
<path d="M298.30,949.40 L456.49,949.40" fill="none" stroke="#ff2020" stroke-width="0.9"/>
<path d="M298.3 948.9L456.6 948.9" stroke="#ff2020" stroke-width="0.9"/>
<path d="M298.30,949.40 L319.39,945.45 L335.21,942.17 L351.03,937.56 L366.85,927.70 L382.67,907.32 L398.49,879.71 L409.03,852.09" fill="none" stroke="#111" stroke-width="0.9"/>
<path d="M298.30,949.40 L319.39,945.78 L335.21,942.82 L351.03,937.89 L366.85,929.02 L382.67,908.63 L398.49,883.65 L409.03,858.01" fill="none" stroke="#111" stroke-width="0.9"/>
<path d="M298.30,949.40 L319.39,945.45 L335.21,941.51 L351.03,938.55 L366.85,938.22 L382.67,927.04 L398.49,894.17 L409.03,862.61" fill="none" stroke="#111" stroke-width="0.9"/>
<path d="M305.7 851.0L316.3 851.0" stroke="#111" stroke-width="0.9"/>
<text x="323.50" y="853.76" font-size="8.80" fill="#222" stroke="#222" stroke-width="0.1" transform="translate(29.11 0) scale(0.91 1)">Control</text>
<path d="M305.7 865.7L316.3 865.7" stroke="#ff2020" stroke-width="0.9"/>
<text x="323.50" y="868.46" font-size="8.80" fill="#222" stroke="#222" stroke-width="0.1" transform="translate(29.11 0) scale(0.91 1)">Rechallenge</text>
<text x="477.50" y="847.78" font-size="10.45" font-weight="bold" fill="#000" stroke="#000" stroke-width="0.1" transform="translate(42.97 0) scale(0.91 1)">r</text>
<text x="493.60" y="877.59" font-size="8.58" text-anchor="middle" font-weight="bold" fill="#000" transform="rotate(-90 493.60 874.90) translate(493.60 0) scale(0.91 1) translate(-493.60 0)" stroke="#000" stroke-width="0.1">Control</text>
<text x="493.60" y="931.19" font-size="8.58" text-anchor="middle" font-weight="bold" fill="#000" transform="rotate(-90 493.60 928.50) translate(493.60 0) scale(0.91 1) translate(-493.60 0)" stroke="#000" stroke-width="0.1">Rechallenge</text>
<svg x="502.00" y="847.90" width="52.50" height="50.70" viewBox="0 0 52.50 50.70" overflow="hidden"><g filter="url(#soft)"><rect x="0" y="0" width="52.50" height="50.70" fill="#e9d6c9"/><rect x="0" y="0" width="26.25" height="25.35" fill="#ddd0c8" opacity="0.6"/><path d="M15.2,-2.5C19.7,-3.6 34.7,-5.0 39.4,-2.5C44.0,-0.1 41.1,6.8 43.0,12.2C45.0,17.6 50.4,24.4 50.9,29.9C51.4,35.4 50.1,41.9 46.2,45.1C42.4,48.3 32.6,48.8 27.8,49.2C23.1,49.5 20.7,50.0 17.9,47.2C15.1,44.3 12.3,36.9 11.0,31.9C9.7,27.0 9.7,21.9 10.0,17.2C10.2,12.6 11.7,7.4 12.6,4.1C13.5,0.8 10.8,-1.4 15.2,-2.5Z" fill="#f0ebe6" stroke="#f0ebe6" stroke-width="10" stroke-linejoin="round"/><path d="M15.2,-2.5C19.7,-3.6 34.7,-5.0 39.4,-2.5C44.0,-0.1 41.1,6.8 43.0,12.2C45.0,17.6 50.4,24.4 50.9,29.9C51.4,35.4 50.1,41.9 46.2,45.1C42.4,48.3 32.6,48.8 27.8,49.2C23.1,49.5 20.7,50.0 17.9,47.2C15.1,44.3 12.3,36.9 11.0,31.9C9.7,27.0 9.7,21.9 10.0,17.2C10.2,12.6 11.7,7.4 12.6,4.1C13.5,0.8 10.8,-1.4 15.2,-2.5Z" fill="url(#skin)"/><ellipse cx="26.2" cy="7.6" rx="9.4" ry="7.1" fill="#a2708e" opacity="0.18"/><ellipse cx="38.32" cy="31.43" rx="7.48" ry="6.80" fill="url(#tb)"/><ellipse cx="39.82" cy="32.23" rx="2.38" ry="2.38" fill="#c23a50" opacity="0.75"/><ellipse cx="37.32" cy="30.43" rx="1.70" ry="1.36" fill="#e2a0b0" opacity="0.6"/></g><circle cx="38.10" cy="31.60" r="9.60" fill="none" stroke="#f6eef0" stroke-width="0.6" stroke-dasharray="1.2 0.6"/></svg>
<svg x="554.50" y="847.90" width="55.80" height="50.70" viewBox="0 0 55.80 50.70" overflow="hidden"><g filter="url(#soft)"><rect x="0" y="0" width="55.80" height="50.70" fill="#e9d6c9"/><rect x="0" y="0" width="27.90" height="25.35" fill="#ddd0c8" opacity="0.6"/><path d="M13.9,-2.5C18.7,-4.1 29.9,-5.8 35.7,-2.5C41.5,0.8 45.0,11.1 48.5,17.2C52.1,23.4 57.4,29.5 56.9,34.5C56.5,39.5 51.8,44.7 45.8,47.2C39.7,49.6 28.0,50.3 20.6,49.2C13.3,48.1 4.7,45.0 1.7,40.6C-1.4,36.1 1.3,27.9 2.2,22.3C3.2,16.7 5.3,11.2 7.3,7.1C9.2,3.0 9.2,-0.9 13.9,-2.5Z" fill="#f0ebe6" stroke="#f0ebe6" stroke-width="10" stroke-linejoin="round"/><path d="M13.9,-2.5C18.7,-4.1 29.9,-5.8 35.7,-2.5C41.5,0.8 45.0,11.1 48.5,17.2C52.1,23.4 57.4,29.5 56.9,34.5C56.5,39.5 51.8,44.7 45.8,47.2C39.7,49.6 28.0,50.3 20.6,49.2C13.3,48.1 4.7,45.0 1.7,40.6C-1.4,36.1 1.3,27.9 2.2,22.3C3.2,16.7 5.3,11.2 7.3,7.1C9.2,3.0 9.2,-0.9 13.9,-2.5Z" fill="url(#skin)"/><ellipse cx="27.9" cy="7.6" rx="10.0" ry="7.1" fill="#a2708e" opacity="0.18"/><ellipse cx="44.08" cy="34.48" rx="8.58" ry="7.80" fill="url(#tb)"/><ellipse cx="45.58" cy="35.28" rx="2.73" ry="2.73" fill="#c23a50" opacity="0.75"/><ellipse cx="43.08" cy="33.48" rx="1.95" ry="1.56" fill="#e2a0b0" opacity="0.6"/></g><circle cx="42.20" cy="34.90" r="10.40" fill="none" stroke="#f6eef0" stroke-width="0.6" stroke-dasharray="1.2 0.6"/></svg>
<svg x="610.30" y="847.90" width="52.30" height="50.70" viewBox="0 0 52.30 50.70" overflow="hidden"><g filter="url(#soft)"><rect x="0" y="0" width="52.30" height="50.70" fill="#e9d6c9"/><rect x="0" y="0" width="26.15" height="25.35" fill="#ddd0c8" opacity="0.6"/><path d="M9.9,4.1C13.9,0.8 22.9,2.5 28.8,3.0C34.6,3.5 41.3,3.0 45.0,7.1C48.6,11.2 50.4,21.8 50.7,27.4C51.1,33.0 50.6,37.6 47.1,40.6C43.6,43.5 35.2,45.1 29.8,45.1C24.4,45.1 18.8,44.4 14.6,40.6C10.5,36.8 5.5,28.4 4.7,22.3C3.9,16.2 5.9,7.3 9.9,4.1Z" fill="#f0ebe6" stroke="#f0ebe6" stroke-width="10" stroke-linejoin="round"/><path d="M9.9,4.1C13.9,0.8 22.9,2.5 28.8,3.0C34.6,3.5 41.3,3.0 45.0,7.1C48.6,11.2 50.4,21.8 50.7,27.4C51.1,33.0 50.6,37.6 47.1,40.6C43.6,43.5 35.2,45.1 29.8,45.1C24.4,45.1 18.8,44.4 14.6,40.6C10.5,36.8 5.5,28.4 4.7,22.3C3.9,16.2 5.9,7.3 9.9,4.1Z" fill="url(#skin)"/><ellipse cx="26.2" cy="7.6" rx="9.4" ry="7.1" fill="#a2708e" opacity="0.18"/><ellipse cx="38.70" cy="30.42" rx="7.15" ry="6.50" fill="url(#tb)"/><ellipse cx="40.20" cy="31.22" rx="2.27" ry="2.27" fill="#c23a50" opacity="0.75"/><ellipse cx="37.70" cy="29.42" rx="1.62" ry="1.30" fill="#e2a0b0" opacity="0.6"/></g><circle cx="37.10" cy="29.80" r="9.20" fill="none" stroke="#f6eef0" stroke-width="0.6" stroke-dasharray="1.2 0.6"/></svg>
<svg x="502.00" y="901.80" width="52.50" height="50.50" viewBox="0 0 52.50 50.50" overflow="hidden"><g filter="url(#soft)"><rect x="0" y="0" width="52.50" height="50.50" fill="#e9d6c9"/><rect x="0" y="0" width="26.25" height="25.25" fill="#ddd0c8" opacity="0.6"/><path d="M13.1,-2.5C17.7,-3.5 30.5,-5.5 35.2,-2.5C39.8,0.4 38.8,10.0 41.0,15.1C43.1,20.3 48.0,23.7 48.3,28.3C48.7,32.9 47.2,39.9 43.0,42.9C38.8,46.0 29.4,47.2 23.1,46.5C16.8,45.7 8.4,43.1 5.2,38.4C2.1,33.7 3.8,24.1 4.2,18.2C4.6,12.3 6.4,6.5 7.9,3.0C9.4,-0.4 8.6,-1.6 13.1,-2.5Z" fill="#f0ebe6" stroke="#f0ebe6" stroke-width="10" stroke-linejoin="round"/><path d="M13.1,-2.5C17.7,-3.5 30.5,-5.5 35.2,-2.5C39.8,0.4 38.8,10.0 41.0,15.1C43.1,20.3 48.0,23.7 48.3,28.3C48.7,32.9 47.2,39.9 43.0,42.9C38.8,46.0 29.4,47.2 23.1,46.5C16.8,45.7 8.4,43.1 5.2,38.4C2.1,33.7 3.8,24.1 4.2,18.2C4.6,12.3 6.4,6.5 7.9,3.0C9.4,-0.4 8.6,-1.6 13.1,-2.5Z" fill="url(#skin)"/><ellipse cx="26.2" cy="7.6" rx="9.4" ry="7.1" fill="#a2708e" opacity="0.18"/></g><circle cx="32.50" cy="21.10" r="3.20" fill="none" stroke="#f6eef0" stroke-width="0.6" stroke-dasharray="1.2 0.6"/></svg>
<svg x="554.50" y="901.80" width="55.80" height="50.50" viewBox="0 0 55.80 50.50" overflow="hidden"><g filter="url(#soft)"><rect x="0" y="0" width="55.80" height="50.50" fill="#e9d6c9"/><rect x="0" y="0" width="27.90" height="25.25" fill="#ddd0c8" opacity="0.6"/><path d="M15.6,-2.5C19.7,-6.8 31.1,-6.8 35.2,-2.5C39.2,1.8 36.5,15.7 40.2,23.2C43.8,30.8 58.9,38.8 56.9,42.9C55.0,47.0 38.1,48.0 28.5,48.0C18.8,48.0 1.9,47.0 -1.1,42.9C-4.1,38.8 7.8,30.8 10.6,23.2C13.4,15.7 11.5,1.8 15.6,-2.5Z" fill="#f0ebe6" stroke="#f0ebe6" stroke-width="10" stroke-linejoin="round"/><path d="M15.6,-2.5C19.7,-6.8 31.1,-6.8 35.2,-2.5C39.2,1.8 36.5,15.7 40.2,23.2C43.8,30.8 58.9,38.8 56.9,42.9C55.0,47.0 38.1,48.0 28.5,48.0C18.8,48.0 1.9,47.0 -1.1,42.9C-4.1,38.8 7.8,30.8 10.6,23.2C13.4,15.7 11.5,1.8 15.6,-2.5Z" fill="url(#skin)"/><ellipse cx="27.9" cy="7.6" rx="10.0" ry="7.1" fill="#a2708e" opacity="0.18"/></g><circle cx="35.80" cy="34.70" r="3.30" fill="none" stroke="#f6eef0" stroke-width="0.6" stroke-dasharray="1.2 0.6"/></svg>
<svg x="610.30" y="901.80" width="52.30" height="50.50" viewBox="0 0 52.30 50.50" overflow="hidden"><g filter="url(#soft)"><rect x="0" y="0" width="52.30" height="50.50" fill="#e9d6c9"/><rect x="0" y="0" width="26.15" height="25.25" fill="#ddd0c8" opacity="0.6"/><path d="M19.9,2.0C24.8,-0.7 35.7,-1.5 39.7,2.0C43.8,5.6 42.2,16.4 44.5,23.2C46.7,30.0 55.8,38.8 53.3,42.9C50.9,47.0 37.9,48.7 29.8,48.0C21.7,47.2 8.0,43.3 4.7,38.4C1.4,33.4 7.4,24.2 9.9,18.2C12.5,12.1 14.9,4.7 19.9,2.0Z" fill="#f0ebe6" stroke="#f0ebe6" stroke-width="10" stroke-linejoin="round"/><path d="M19.9,2.0C24.8,-0.7 35.7,-1.5 39.7,2.0C43.8,5.6 42.2,16.4 44.5,23.2C46.7,30.0 55.8,38.8 53.3,42.9C50.9,47.0 37.9,48.7 29.8,48.0C21.7,47.2 8.0,43.3 4.7,38.4C1.4,33.4 7.4,24.2 9.9,18.2C12.5,12.1 14.9,4.7 19.9,2.0Z" fill="url(#skin)"/><ellipse cx="26.2" cy="7.6" rx="9.4" ry="7.1" fill="#a2708e" opacity="0.18"/></g><circle cx="35.90" cy="33.00" r="3.30" fill="none" stroke="#f6eef0" stroke-width="0.6" stroke-dasharray="1.2 0.6"/></svg>
</svg></body></html>
